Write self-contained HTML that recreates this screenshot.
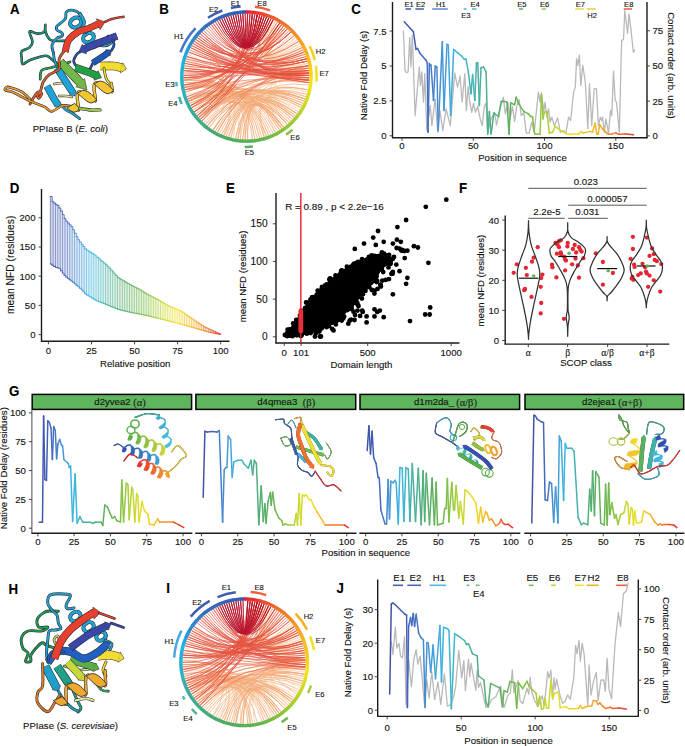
<!DOCTYPE html>
<html><head><meta charset="utf-8"><style>
html,body{margin:0;padding:0;background:#fff;}
body{width:685px;height:746px;overflow:hidden;}
svg{display:block;}
</style></head><body>
<svg width="685" height="746" viewBox="0 0 685 746">
<style>text{stroke:#111;stroke-width:0.12px;paint-order:stroke;}</style>
<rect width="685" height="746" fill="#fff"/>
<text transform="translate(10.00 13.70) scale(0.87 1)" font-size="15.3" font-weight="bold" fill="#000" font-family='"Liberation Sans", sans-serif'>A</text>
<text transform="translate(159.20 13.70) scale(0.87 1)" font-size="15.3" font-weight="bold" fill="#000" font-family='"Liberation Sans", sans-serif'>B</text>
<text transform="translate(351.20 13.70) scale(0.87 1)" font-size="15.3" font-weight="bold" fill="#000" font-family='"Liberation Sans", sans-serif'>C</text>
<text transform="translate(9.70 192.90) scale(0.87 1)" font-size="15.3" font-weight="bold" fill="#000" font-family='"Liberation Sans", sans-serif'>D</text>
<text transform="translate(225.90 192.90) scale(0.87 1)" font-size="15.3" font-weight="bold" fill="#000" font-family='"Liberation Sans", sans-serif'>E</text>
<text transform="translate(458.90 192.90) scale(0.87 1)" font-size="15.3" font-weight="bold" fill="#000" font-family='"Liberation Sans", sans-serif'>F</text>
<text transform="translate(9.00 395.50) scale(0.87 1)" font-size="15.3" font-weight="bold" fill="#000" font-family='"Liberation Sans", sans-serif'>G</text>
<text transform="translate(8.60 593.80) scale(0.87 1)" font-size="15.3" font-weight="bold" fill="#000" font-family='"Liberation Sans", sans-serif'>H</text>
<text transform="translate(166.20 592.70) scale(0.87 1)" font-size="15.3" font-weight="bold" fill="#000" font-family='"Liberation Sans", sans-serif'>I</text>
<text transform="translate(336.50 592.70) scale(0.87 1)" font-size="15.3" font-weight="bold" fill="#000" font-family='"Liberation Sans", sans-serif'>J</text>
<polyline points="403.4,30.9 405.0,70.3 406.7,72.8 408.1,72.0 409.7,37.6 410.9,67.0 412.3,35.1 415.1,115.6 419.3,67.0 420.5,85.4 421.8,72.0 423.5,102.1 424.8,73.7 426.8,130.6 430.2,105.5 431.9,125.6 435.2,98.8 437.7,132.3 439.9,110.5 442.8,130.6 446.1,108.8 450.3,125.6 454.7,72.9 457.5,87.1 460.1,76.2 462.1,102.2 464.8,73.7 466.4,110.6 468.1,86.3 469.8,102.2 471.8,112.3 473.5,103.1 475.5,112.3 477.7,106.4 480.2,118.9 482.2,125.7 484.4,106.4 486.1,103.1 487.7,132.4 491.1,118.9 494.4,112.3 496.6,124.9 500.0,108.1 503.3,97.2 505.3,114.0 507.9,102.2 510.0,119.8 512.4,106.4 514.6,121.5 516.7,106.4 519.1,99.7 521.3,115.6 523.8,112.3 526.3,133.1 529.2,133.1 531.7,122.2 534.2,132.3 538.4,92.1 540.1,102.1 541.4,92.9 543.8,111.3 545.1,102.1 546.8,117.2 548.5,108.8 550.1,122.2 551.8,117.2 554.3,125.6 557.7,118.0 560.2,132.3 562.7,130.6 566.0,132.3 568.6,117.2 570.6,120.5 573.6,92.1 575.3,87.0 576.6,58.6 577.8,65.3 579.4,55.2 580.8,85.4 582.8,65.3 585.3,82.0 587.8,128.9 589.5,83.7 591.7,125.6 594.2,88.7 596.4,88.7 598.4,125.6 600.4,117.2 601.8,120.5 602.6,117.2 604.3,132.3 605.9,118.9 608.5,133.1 610.5,110.5 611.8,115.5 613.5,71.1 615.2,100.4 616.5,102.1 619.3,132.3 621.1,60.0 621.7,40.3 623.5,39.4 624.8,10.5 627.6,33.3 629.0,14.0 630.9,28.9 633.4,52.5 634.6,49.9" fill="none" stroke="#b9b9b9" stroke-width="1.3" stroke-linejoin="round" stroke-linecap="round" />
<line x1="404.2" y1="21.7" x2="413.4" y2="31.8" stroke="#4057ab" stroke-width="1.5" stroke-linecap="round"/>
<line x1="413.4" y1="31.8" x2="416.0" y2="49.4" stroke="#425eb2" stroke-width="1.5" stroke-linecap="round"/>
<line x1="416.0" y1="49.4" x2="417.6" y2="48.5" stroke="#4360b4" stroke-width="1.5" stroke-linecap="round"/>
<line x1="417.6" y1="48.5" x2="420.1" y2="53.5" stroke="#4462b6" stroke-width="1.5" stroke-linecap="round"/>
<line x1="420.1" y1="53.5" x2="426.0" y2="60.2" stroke="#4567bb" stroke-width="1.5" stroke-linecap="round"/>
<line x1="426.0" y1="60.2" x2="427.3" y2="62.8" stroke="#466dc0" stroke-width="1.5" stroke-linecap="round"/>
<line x1="427.3" y1="62.8" x2="428.0" y2="132.3" stroke="#466fc2" stroke-width="1.5" stroke-linecap="round"/>
<line x1="428.0" y1="132.3" x2="429.4" y2="63.6" stroke="#4672c3" stroke-width="1.5" stroke-linecap="round"/>
<line x1="429.4" y1="63.6" x2="431.0" y2="65.3" stroke="#4676c5" stroke-width="1.5" stroke-linecap="round"/>
<line x1="431.0" y1="65.3" x2="433.5" y2="100.5" stroke="#467cc9" stroke-width="1.5" stroke-linecap="round"/>
<line x1="433.5" y1="100.5" x2="435.2" y2="66.1" stroke="#4682cc" stroke-width="1.5" stroke-linecap="round"/>
<line x1="435.2" y1="66.1" x2="436.9" y2="67.0" stroke="#4686ce" stroke-width="1.5" stroke-linecap="round"/>
<line x1="436.9" y1="67.0" x2="438.2" y2="130.6" stroke="#468bd1" stroke-width="1.5" stroke-linecap="round"/>
<line x1="438.2" y1="130.6" x2="442.3" y2="41.8" stroke="#4692d5" stroke-width="1.5" stroke-linecap="round"/>
<line x1="442.3" y1="41.8" x2="444.0" y2="110.5" stroke="#4599d8" stroke-width="1.5" stroke-linecap="round"/>
<line x1="444.0" y1="110.5" x2="447.0" y2="44.3" stroke="#449ed9" stroke-width="1.5" stroke-linecap="round"/>
<line x1="447.0" y1="44.3" x2="448.3" y2="45.2" stroke="#42a3db" stroke-width="1.5" stroke-linecap="round"/>
<line x1="448.3" y1="45.2" x2="450.6" y2="115.6" stroke="#41a7dc" stroke-width="1.5" stroke-linecap="round"/>
<line x1="450.6" y1="115.6" x2="453.7" y2="49.4" stroke="#40acdd" stroke-width="1.5" stroke-linecap="round"/>
<line x1="453.7" y1="49.4" x2="457.5" y2="52.7" stroke="#3db4e0" stroke-width="1.5" stroke-linecap="round"/>
<line x1="457.5" y1="52.7" x2="461.7" y2="56.1" stroke="#3db8dc" stroke-width="1.5" stroke-linecap="round"/>
<line x1="461.7" y1="56.1" x2="464.3" y2="59.4" stroke="#3fb7d2" stroke-width="1.5" stroke-linecap="round"/>
<line x1="464.3" y1="59.4" x2="465.9" y2="58.9" stroke="#40b6cb" stroke-width="1.5" stroke-linecap="round"/>
<line x1="465.9" y1="58.9" x2="468.4" y2="72.0" stroke="#42b5c5" stroke-width="1.5" stroke-linecap="round"/>
<line x1="468.4" y1="72.0" x2="471.0" y2="93.8" stroke="#43b4bd" stroke-width="1.5" stroke-linecap="round"/>
<line x1="471.0" y1="93.8" x2="472.6" y2="74.5" stroke="#44b3b7" stroke-width="1.5" stroke-linecap="round"/>
<line x1="472.6" y1="74.5" x2="474.8" y2="100.5" stroke="#46b2b1" stroke-width="1.5" stroke-linecap="round"/>
<line x1="474.8" y1="100.5" x2="476.5" y2="62.8" stroke="#47b2ac" stroke-width="1.5" stroke-linecap="round"/>
<line x1="476.5" y1="62.8" x2="477.7" y2="62.8" stroke="#48b2a8" stroke-width="1.5" stroke-linecap="round"/>
<line x1="477.7" y1="62.8" x2="479.4" y2="105.6" stroke="#49b1a4" stroke-width="1.5" stroke-linecap="round"/>
<line x1="479.4" y1="105.6" x2="481.0" y2="67.8" stroke="#4ab19f" stroke-width="1.5" stroke-linecap="round"/>
<line x1="481.0" y1="67.8" x2="483.5" y2="67.0" stroke="#4bb199" stroke-width="1.5" stroke-linecap="round"/>
<line x1="483.5" y1="67.0" x2="486.1" y2="72.0" stroke="#4cb092" stroke-width="1.5" stroke-linecap="round"/>
<line x1="486.1" y1="72.0" x2="487.7" y2="134.1" stroke="#4eb08d" stroke-width="1.5" stroke-linecap="round"/>
<line x1="487.7" y1="134.1" x2="489.4" y2="111.4" stroke="#4faf88" stroke-width="1.5" stroke-linecap="round"/>
<line x1="489.4" y1="111.4" x2="491.1" y2="134.1" stroke="#50af83" stroke-width="1.5" stroke-linecap="round"/>
<line x1="491.1" y1="134.1" x2="493.9" y2="113.1" stroke="#51af7f" stroke-width="1.5" stroke-linecap="round"/>
<line x1="493.9" y1="113.1" x2="498.6" y2="116.5" stroke="#54af78" stroke-width="1.5" stroke-linecap="round"/>
<line x1="498.6" y1="116.5" x2="501.2" y2="101.4" stroke="#57af71" stroke-width="1.5" stroke-linecap="round"/>
<line x1="501.2" y1="101.4" x2="504.5" y2="101.4" stroke="#5aaf6b" stroke-width="1.5" stroke-linecap="round"/>
<line x1="504.5" y1="101.4" x2="507.0" y2="102.2" stroke="#5caf66" stroke-width="1.5" stroke-linecap="round"/>
<line x1="507.0" y1="102.2" x2="509.0" y2="134.1" stroke="#5eaf62" stroke-width="1.5" stroke-linecap="round"/>
<line x1="509.0" y1="134.1" x2="510.7" y2="103.0" stroke="#5faf5f" stroke-width="1.5" stroke-linecap="round"/>
<line x1="510.7" y1="103.0" x2="514.6" y2="104.7" stroke="#62b15c" stroke-width="1.5" stroke-linecap="round"/>
<line x1="514.6" y1="104.7" x2="516.2" y2="97.2" stroke="#65b359" stroke-width="1.5" stroke-linecap="round"/>
<line x1="516.2" y1="97.2" x2="518.8" y2="103.9" stroke="#68b456" stroke-width="1.5" stroke-linecap="round"/>
<line x1="518.8" y1="103.9" x2="523.8" y2="111.4" stroke="#6cb752" stroke-width="1.5" stroke-linecap="round"/>
<line x1="523.8" y1="111.4" x2="528.4" y2="113.8" stroke="#71ba4d" stroke-width="1.5" stroke-linecap="round"/>
<line x1="528.4" y1="113.8" x2="530.4" y2="116.4" stroke="#74bc4a" stroke-width="1.5" stroke-linecap="round"/>
<line x1="530.4" y1="116.4" x2="532.5" y2="116.4" stroke="#77bd47" stroke-width="1.5" stroke-linecap="round"/>
<line x1="532.5" y1="116.4" x2="534.7" y2="134.0" stroke="#7bbf45" stroke-width="1.5" stroke-linecap="round"/>
<line x1="534.7" y1="134.0" x2="540.1" y2="134.3" stroke="#88c342" stroke-width="1.5" stroke-linecap="round"/>
<line x1="540.1" y1="134.3" x2="541.4" y2="94.6" stroke="#93c73f" stroke-width="1.5" stroke-linecap="round"/>
<line x1="541.4" y1="94.6" x2="543.1" y2="118.9" stroke="#98c83e" stroke-width="1.5" stroke-linecap="round"/>
<line x1="543.1" y1="118.9" x2="544.3" y2="112.2" stroke="#9dca3d" stroke-width="1.5" stroke-linecap="round"/>
<line x1="544.3" y1="112.2" x2="547.1" y2="111.8" stroke="#a4cc3b" stroke-width="1.5" stroke-linecap="round"/>
<line x1="547.1" y1="111.8" x2="549.3" y2="133.1" stroke="#adcf39" stroke-width="1.5" stroke-linecap="round"/>
<line x1="549.3" y1="133.1" x2="552.6" y2="132.3" stroke="#b6d136" stroke-width="1.5" stroke-linecap="round"/>
<line x1="552.6" y1="132.3" x2="555.2" y2="126.4" stroke="#c0d534" stroke-width="1.5" stroke-linecap="round"/>
<line x1="555.2" y1="126.4" x2="558.5" y2="128.9" stroke="#cad732" stroke-width="1.5" stroke-linecap="round"/>
<line x1="558.5" y1="128.9" x2="561.9" y2="131.4" stroke="#d1d930" stroke-width="1.5" stroke-linecap="round"/>
<line x1="561.9" y1="131.4" x2="566.9" y2="134.0" stroke="#dadb2e" stroke-width="1.5" stroke-linecap="round"/>
<line x1="566.9" y1="134.0" x2="578.6" y2="134.3" stroke="#ece029" stroke-width="1.5" stroke-linecap="round"/>
<line x1="578.6" y1="134.3" x2="581.1" y2="131.4" stroke="#f1d728" stroke-width="1.5" stroke-linecap="round"/>
<line x1="581.1" y1="131.4" x2="582.8" y2="133.1" stroke="#f2d328" stroke-width="1.5" stroke-linecap="round"/>
<line x1="582.8" y1="133.1" x2="590.0" y2="131.4" stroke="#f2cb28" stroke-width="1.5" stroke-linecap="round"/>
<line x1="590.0" y1="131.4" x2="592.5" y2="132.3" stroke="#f4c128" stroke-width="1.5" stroke-linecap="round"/>
<line x1="592.5" y1="132.3" x2="595.1" y2="123.1" stroke="#f4bc28" stroke-width="1.5" stroke-linecap="round"/>
<line x1="595.1" y1="123.1" x2="596.7" y2="133.9" stroke="#f5b828" stroke-width="1.5" stroke-linecap="round"/>
<line x1="596.7" y1="133.9" x2="598.1" y2="134.3" stroke="#f5b528" stroke-width="1.5" stroke-linecap="round"/>
<line x1="598.1" y1="134.3" x2="599.7" y2="124.7" stroke="#f5b228" stroke-width="1.5" stroke-linecap="round"/>
<line x1="599.7" y1="124.7" x2="602.6" y2="128.9" stroke="#f4aa2a" stroke-width="1.5" stroke-linecap="round"/>
<line x1="602.6" y1="128.9" x2="606.8" y2="133.1" stroke="#f39f2b" stroke-width="1.5" stroke-linecap="round"/>
<line x1="606.8" y1="133.1" x2="608.5" y2="134.3" stroke="#f2962d" stroke-width="1.5" stroke-linecap="round"/>
<line x1="608.5" y1="134.3" x2="612.6" y2="133.9" stroke="#f28c2f" stroke-width="1.5" stroke-linecap="round"/>
<line x1="612.6" y1="133.9" x2="616.0" y2="132.8" stroke="#f18031" stroke-width="1.5" stroke-linecap="round"/>
<line x1="616.0" y1="132.8" x2="618.5" y2="134.3" stroke="#f07732" stroke-width="1.5" stroke-linecap="round"/>
<line x1="618.5" y1="134.3" x2="625.2" y2="133.9" stroke="#ec6532" stroke-width="1.5" stroke-linecap="round"/>
<line x1="625.2" y1="133.9" x2="633.6" y2="134.8" stroke="#e64932" stroke-width="1.5" stroke-linecap="round"/>
<line x1="392.50" y1="2.00" x2="392.50" y2="138.00" stroke="#1a1a1a" stroke-width="1.4" />
<line x1="392.00" y1="137.80" x2="647.30" y2="137.80" stroke="#1a1a1a" stroke-width="1.4" />
<line x1="647.00" y1="2.00" x2="647.00" y2="138.30" stroke="#1a1a1a" stroke-width="1.4" />
<line x1="389.50" y1="135.80" x2="392.50" y2="135.80" stroke="#333" stroke-width="0.9" />
<text x="386.50" y="139.25" font-size="9.6" text-anchor="end" font-weight="normal" font-style="normal" fill="#111" font-family='"Liberation Sans", sans-serif' >0</text>
<line x1="389.50" y1="100.90" x2="392.50" y2="100.90" stroke="#333" stroke-width="0.9" />
<text x="386.50" y="104.35" font-size="9.6" text-anchor="end" font-weight="normal" font-style="normal" fill="#111" font-family='"Liberation Sans", sans-serif' >2.5</text>
<line x1="389.50" y1="66.00" x2="392.50" y2="66.00" stroke="#333" stroke-width="0.9" />
<text x="386.50" y="69.45" font-size="9.6" text-anchor="end" font-weight="normal" font-style="normal" fill="#111" font-family='"Liberation Sans", sans-serif' >5</text>
<line x1="389.50" y1="31.10" x2="392.50" y2="31.10" stroke="#333" stroke-width="0.9" />
<text x="386.50" y="34.55" font-size="9.6" text-anchor="end" font-weight="normal" font-style="normal" fill="#111" font-family='"Liberation Sans", sans-serif' >7.5</text>
<line x1="647.00" y1="135.90" x2="650.00" y2="135.90" stroke="#333" stroke-width="0.9" />
<text x="652.50" y="139.35" font-size="9.6" text-anchor="start" font-weight="normal" font-style="normal" fill="#111" font-family='"Liberation Sans", sans-serif' >0</text>
<line x1="647.00" y1="101.10" x2="650.00" y2="101.10" stroke="#333" stroke-width="0.9" />
<text x="652.50" y="104.55" font-size="9.6" text-anchor="start" font-weight="normal" font-style="normal" fill="#111" font-family='"Liberation Sans", sans-serif' >25</text>
<line x1="647.00" y1="66.00" x2="650.00" y2="66.00" stroke="#333" stroke-width="0.9" />
<text x="652.50" y="69.45" font-size="9.6" text-anchor="start" font-weight="normal" font-style="normal" fill="#111" font-family='"Liberation Sans", sans-serif' >50</text>
<line x1="647.00" y1="30.80" x2="650.00" y2="30.80" stroke="#333" stroke-width="0.9" />
<text x="652.50" y="34.25" font-size="9.6" text-anchor="start" font-weight="normal" font-style="normal" fill="#111" font-family='"Liberation Sans", sans-serif' >75</text>
<line x1="402.00" y1="137.80" x2="402.00" y2="140.80" stroke="#333" stroke-width="0.9" />
<text x="402.00" y="149.30" font-size="9.6" text-anchor="middle" font-weight="normal" font-style="normal" fill="#111" font-family='"Liberation Sans", sans-serif' >0</text>
<line x1="473.30" y1="137.80" x2="473.30" y2="140.80" stroke="#333" stroke-width="0.9" />
<text x="473.30" y="149.30" font-size="9.6" text-anchor="middle" font-weight="normal" font-style="normal" fill="#111" font-family='"Liberation Sans", sans-serif' >50</text>
<line x1="544.50" y1="137.80" x2="544.50" y2="140.80" stroke="#333" stroke-width="0.9" />
<text x="544.50" y="149.30" font-size="9.6" text-anchor="middle" font-weight="normal" font-style="normal" fill="#111" font-family='"Liberation Sans", sans-serif' >100</text>
<line x1="615.80" y1="137.80" x2="615.80" y2="140.80" stroke="#333" stroke-width="0.9" />
<text x="615.80" y="149.30" font-size="9.6" text-anchor="middle" font-weight="normal" font-style="normal" fill="#111" font-family='"Liberation Sans", sans-serif' >150</text>
<text x="522.50" y="161.40" font-size="9.6" text-anchor="middle" font-weight="normal" font-style="normal" fill="#111" font-family='"Liberation Sans", sans-serif' >Position in sequence</text>
<text x="367.00" y="75.50" font-size="9.6" text-anchor="middle" font-weight="normal" font-style="normal" fill="#111" font-family='"Liberation Sans", sans-serif' transform="rotate(-90 367 75.5)" >Native Fold Delay (s)</text>
<text x="668.00" y="65.50" font-size="9.6" text-anchor="middle" font-weight="normal" font-style="normal" fill="#111" font-family='"Liberation Sans", sans-serif' transform="rotate(90 668 65.5)" >Contact order (arb. units)</text>
<line x1="405.50" y1="9.00" x2="411.10" y2="9.00" stroke="#4a5fb0" stroke-width="1.6" />
<text x="409.21" y="7.00" font-size="7.6" text-anchor="middle" font-weight="normal" font-style="normal" fill="#111" font-family='"Liberation Sans", sans-serif' >E1</text>
<line x1="415.40" y1="9.00" x2="423.90" y2="9.00" stroke="#4d66b5" stroke-width="1.6" />
<text x="420.56" y="7.00" font-size="7.6" text-anchor="middle" font-weight="normal" font-style="normal" fill="#111" font-family='"Liberation Sans", sans-serif' >E2</text>
<line x1="432.20" y1="9.00" x2="447.80" y2="9.00" stroke="#6a8fd0" stroke-width="1.6" />
<text x="440.91" y="7.00" font-size="7.6" text-anchor="middle" font-weight="normal" font-style="normal" fill="#111" font-family='"Liberation Sans", sans-serif' >H1</text>
<line x1="463.60" y1="9.00" x2="466.50" y2="9.00" stroke="#4cc3dc" stroke-width="1.6" />
<text x="465.96" y="17.60" font-size="7.6" text-anchor="middle" font-weight="normal" font-style="normal" fill="#111" font-family='"Liberation Sans", sans-serif' >E3</text>
<line x1="471.90" y1="9.00" x2="476.50" y2="9.00" stroke="#5fc0b0" stroke-width="1.6" />
<text x="475.11" y="7.00" font-size="7.6" text-anchor="middle" font-weight="normal" font-style="normal" fill="#111" font-family='"Liberation Sans", sans-serif' >E4</text>
<line x1="519.00" y1="9.00" x2="523.10" y2="9.00" stroke="#6bb85c" stroke-width="1.6" />
<text x="521.96" y="7.00" font-size="7.6" text-anchor="middle" font-weight="normal" font-style="normal" fill="#111" font-family='"Liberation Sans", sans-serif' >E5</text>
<line x1="541.60" y1="9.00" x2="546.00" y2="9.00" stroke="#9ccc5c" stroke-width="1.6" />
<text x="544.71" y="7.00" font-size="7.6" text-anchor="middle" font-weight="normal" font-style="normal" fill="#111" font-family='"Liberation Sans", sans-serif' >E6</text>
<line x1="575.20" y1="9.00" x2="583.90" y2="9.00" stroke="#e8e04a" stroke-width="1.6" />
<text x="580.46" y="7.00" font-size="7.6" text-anchor="middle" font-weight="normal" font-style="normal" fill="#111" font-family='"Liberation Sans", sans-serif' >E7</text>
<line x1="586.90" y1="9.00" x2="595.60" y2="9.00" stroke="#f2cc3a" stroke-width="1.6" />
<text x="592.16" y="17.60" font-size="7.6" text-anchor="middle" font-weight="normal" font-style="normal" fill="#111" font-family='"Liberation Sans", sans-serif' >H2</text>
<line x1="623.70" y1="9.00" x2="632.00" y2="9.00" stroke="#e86a4a" stroke-width="1.6" />
<text x="628.76" y="7.00" font-size="7.6" text-anchor="middle" font-weight="normal" font-style="normal" fill="#111" font-family='"Liberation Sans", sans-serif' >E8</text>
<polyline points="391.3,641.7 392.9,654.5 395.3,627.2 396.9,648.1 399.0,643.3 400.6,656.2 402.5,657.8 404.5,636.8 406.1,704.4 408.6,659.4 411.4,686.7 413.8,659.4 416.2,649.7 417.8,664.2 420.2,656.2 422.2,678.7 424.3,702.8 426.7,680.3 429.1,698.0 431.8,672.2 434.7,699.6 437.9,681.9 440.8,704.4 444.4,673.9 447.4,706.2 450.4,704.8 453.7,696.8 455.7,686.1 458.7,650.5 461.8,678.0 463.8,660.6 465.4,690.7 468.5,659.2 469.8,676.7 471.1,663.3 475.8,690.1 477.2,670.0 478.5,687.4 480.5,682.7 483.9,698.1 485.9,707.5 489.2,704.8 491.7,699.5 495.9,696.8 500.6,686.1 504.0,707.5 508.0,695.4 510.4,692.8 512.3,670.0 514.0,692.8 518.1,680.7 520.1,700.8 522.8,703.5 527.0,688.2 528.8,694.2 530.2,677.2 531.8,692.2 534.5,700.3 538.1,706.3 542.3,695.8 544.1,705.3 546.1,688.2 547.6,671.6 549.1,678.2 550.9,670.1 552.6,699.3 553.9,677.7 555.1,689.2 556.6,679.2 560.2,696.3 562.7,703.3 565.2,701.3 567.7,694.8 570.2,699.3 573.8,678.1 575.6,645.3 577.1,653.8 579.0,640.6 580.3,661.3 582.2,643.4 584.1,653.8 587.8,706.3 589.1,665.0 591.0,695.0 593.4,681.9 596.3,672.5 598.1,700.6 600.9,680.0 603.8,680.0 605.3,691.3 607.1,658.4 609.0,689.4 611.6,698.8 615.0,644.4 618.4,612.5 620.6,626.6 623.4,593.8 626.3,591.0 628.1,583.4" fill="none" stroke="#b9b9b9" stroke-width="1.3" stroke-linejoin="round" stroke-linecap="round" />
<line x1="389.7" y1="694.0" x2="391.3" y2="603.9" stroke="#3f53a6" stroke-width="1.5" stroke-linecap="round"/>
<line x1="391.3" y1="603.9" x2="392.9" y2="603.0" stroke="#3f54a8" stroke-width="1.5" stroke-linecap="round"/>
<line x1="392.9" y1="603.0" x2="395.3" y2="604.7" stroke="#4056aa" stroke-width="1.5" stroke-linecap="round"/>
<line x1="395.3" y1="604.7" x2="404.9" y2="614.3" stroke="#425db1" stroke-width="1.5" stroke-linecap="round"/>
<line x1="404.9" y1="614.3" x2="406.6" y2="615.1" stroke="#4463b7" stroke-width="1.5" stroke-linecap="round"/>
<line x1="406.6" y1="615.1" x2="407.4" y2="707.6" stroke="#4464b8" stroke-width="1.5" stroke-linecap="round"/>
<line x1="407.4" y1="707.6" x2="408.6" y2="626.4" stroke="#4565ba" stroke-width="1.5" stroke-linecap="round"/>
<line x1="408.6" y1="626.4" x2="410.6" y2="617.5" stroke="#4567bb" stroke-width="1.5" stroke-linecap="round"/>
<line x1="410.6" y1="617.5" x2="411.7" y2="625.6" stroke="#4668bd" stroke-width="1.5" stroke-linecap="round"/>
<line x1="411.7" y1="625.6" x2="413.3" y2="613.5" stroke="#466abf" stroke-width="1.5" stroke-linecap="round"/>
<line x1="413.3" y1="613.5" x2="414.6" y2="626.4" stroke="#466ec1" stroke-width="1.5" stroke-linecap="round"/>
<line x1="414.6" y1="626.4" x2="416.2" y2="614.3" stroke="#4672c3" stroke-width="1.5" stroke-linecap="round"/>
<line x1="416.2" y1="614.3" x2="418.6" y2="632.8" stroke="#4678c6" stroke-width="1.5" stroke-linecap="round"/>
<line x1="418.6" y1="632.8" x2="421.0" y2="637.6" stroke="#467eca" stroke-width="1.5" stroke-linecap="round"/>
<line x1="421.0" y1="637.6" x2="423.4" y2="640.1" stroke="#4684cd" stroke-width="1.5" stroke-linecap="round"/>
<line x1="423.4" y1="640.1" x2="425.1" y2="707.6" stroke="#468ad0" stroke-width="1.5" stroke-linecap="round"/>
<line x1="425.1" y1="707.6" x2="427.0" y2="642.5" stroke="#468fd3" stroke-width="1.5" stroke-linecap="round"/>
<line x1="427.0" y1="642.5" x2="428.3" y2="643.3" stroke="#4693d5" stroke-width="1.5" stroke-linecap="round"/>
<line x1="428.3" y1="643.3" x2="430.7" y2="672.2" stroke="#4698d7" stroke-width="1.5" stroke-linecap="round"/>
<line x1="430.7" y1="672.2" x2="433.1" y2="644.9" stroke="#449dd9" stroke-width="1.5" stroke-linecap="round"/>
<line x1="433.1" y1="644.9" x2="435.5" y2="678.7" stroke="#43a2da" stroke-width="1.5" stroke-linecap="round"/>
<line x1="435.5" y1="678.7" x2="439.9" y2="625.6" stroke="#41a9dc" stroke-width="1.5" stroke-linecap="round"/>
<line x1="439.9" y1="625.6" x2="441.5" y2="681.9" stroke="#3fafde" stroke-width="1.5" stroke-linecap="round"/>
<line x1="441.5" y1="681.9" x2="443.6" y2="627.2" stroke="#3eb3df" stroke-width="1.5" stroke-linecap="round"/>
<line x1="443.6" y1="627.2" x2="447.6" y2="628.8" stroke="#3cb9e1" stroke-width="1.5" stroke-linecap="round"/>
<line x1="447.6" y1="628.8" x2="449.0" y2="630.4" stroke="#3eb8d9" stroke-width="1.5" stroke-linecap="round"/>
<line x1="449.0" y1="630.4" x2="451.4" y2="708.8" stroke="#3fb7d3" stroke-width="1.5" stroke-linecap="round"/>
<line x1="451.4" y1="708.8" x2="454.7" y2="633.8" stroke="#40b6cb" stroke-width="1.5" stroke-linecap="round"/>
<line x1="454.7" y1="633.8" x2="457.1" y2="635.1" stroke="#42b5c2" stroke-width="1.5" stroke-linecap="round"/>
<line x1="457.1" y1="635.1" x2="464.4" y2="640.5" stroke="#45b3b4" stroke-width="1.5" stroke-linecap="round"/>
<line x1="464.4" y1="640.5" x2="466.5" y2="644.5" stroke="#48b1a7" stroke-width="1.5" stroke-linecap="round"/>
<line x1="466.5" y1="644.5" x2="468.5" y2="643.8" stroke="#49b1a1" stroke-width="1.5" stroke-linecap="round"/>
<line x1="468.5" y1="643.8" x2="472.5" y2="653.9" stroke="#4bb199" stroke-width="1.5" stroke-linecap="round"/>
<line x1="472.5" y1="653.9" x2="477.2" y2="655.9" stroke="#4db08d" stroke-width="1.5" stroke-linecap="round"/>
<line x1="477.2" y1="655.9" x2="478.5" y2="676.0" stroke="#4faf85" stroke-width="1.5" stroke-linecap="round"/>
<line x1="478.5" y1="676.0" x2="483.9" y2="680.0" stroke="#52af7e" stroke-width="1.5" stroke-linecap="round"/>
<line x1="483.9" y1="680.0" x2="485.9" y2="702.1" stroke="#55af77" stroke-width="1.5" stroke-linecap="round"/>
<line x1="485.9" y1="702.1" x2="488.2" y2="706.8" stroke="#56af74" stroke-width="1.5" stroke-linecap="round"/>
<line x1="488.2" y1="706.8" x2="490.6" y2="683.4" stroke="#58af6f" stroke-width="1.5" stroke-linecap="round"/>
<line x1="490.6" y1="683.4" x2="500.0" y2="688.1" stroke="#5daf64" stroke-width="1.5" stroke-linecap="round"/>
<line x1="500.0" y1="688.1" x2="502.4" y2="706.8" stroke="#62b15c" stroke-width="1.5" stroke-linecap="round"/>
<line x1="502.4" y1="706.8" x2="504.0" y2="690.7" stroke="#64b25a" stroke-width="1.5" stroke-linecap="round"/>
<line x1="504.0" y1="690.7" x2="507.3" y2="692.1" stroke="#67b457" stroke-width="1.5" stroke-linecap="round"/>
<line x1="507.3" y1="692.1" x2="510.0" y2="681.4" stroke="#6ab554" stroke-width="1.5" stroke-linecap="round"/>
<line x1="510.0" y1="681.4" x2="514.7" y2="682.7" stroke="#6eb850" stroke-width="1.5" stroke-linecap="round"/>
<line x1="514.7" y1="682.7" x2="516.7" y2="708.2" stroke="#71ba4d" stroke-width="1.5" stroke-linecap="round"/>
<line x1="516.7" y1="708.2" x2="518.5" y2="682.7" stroke="#73bb4b" stroke-width="1.5" stroke-linecap="round"/>
<line x1="518.5" y1="682.7" x2="522.8" y2="688.7" stroke="#76bd48" stroke-width="1.5" stroke-linecap="round"/>
<line x1="522.8" y1="688.7" x2="527.0" y2="681.2" stroke="#81c144" stroke-width="1.5" stroke-linecap="round"/>
<line x1="527.0" y1="681.2" x2="529.0" y2="686.2" stroke="#8bc441" stroke-width="1.5" stroke-linecap="round"/>
<line x1="529.0" y1="686.2" x2="536.1" y2="693.2" stroke="#9ac93d" stroke-width="1.5" stroke-linecap="round"/>
<line x1="536.1" y1="693.2" x2="537.6" y2="706.3" stroke="#a9cd3a" stroke-width="1.5" stroke-linecap="round"/>
<line x1="537.6" y1="706.3" x2="539.6" y2="696.3" stroke="#afcf38" stroke-width="1.5" stroke-linecap="round"/>
<line x1="539.6" y1="696.3" x2="541.1" y2="705.3" stroke="#b4d137" stroke-width="1.5" stroke-linecap="round"/>
<line x1="541.1" y1="705.3" x2="541.6" y2="709.3" stroke="#b8d236" stroke-width="1.5" stroke-linecap="round"/>
<line x1="541.6" y1="709.3" x2="543.6" y2="708.3" stroke="#bcd335" stroke-width="1.5" stroke-linecap="round"/>
<line x1="543.6" y1="708.3" x2="545.1" y2="698.3" stroke="#c2d534" stroke-width="1.5" stroke-linecap="round"/>
<line x1="545.1" y1="698.3" x2="546.6" y2="708.3" stroke="#c7d732" stroke-width="1.5" stroke-linecap="round"/>
<line x1="546.6" y1="708.3" x2="548.6" y2="708.3" stroke="#cbd831" stroke-width="1.5" stroke-linecap="round"/>
<line x1="548.6" y1="708.3" x2="550.9" y2="679.7" stroke="#cfd930" stroke-width="1.5" stroke-linecap="round"/>
<line x1="550.9" y1="679.7" x2="552.6" y2="698.8" stroke="#d3da2f" stroke-width="1.5" stroke-linecap="round"/>
<line x1="552.6" y1="698.8" x2="554.1" y2="693.7" stroke="#d7db2e" stroke-width="1.5" stroke-linecap="round"/>
<line x1="554.1" y1="693.7" x2="557.7" y2="692.2" stroke="#dcdc2d" stroke-width="1.5" stroke-linecap="round"/>
<line x1="557.7" y1="692.2" x2="558.7" y2="693.7" stroke="#e1dd2c" stroke-width="1.5" stroke-linecap="round"/>
<line x1="558.7" y1="693.7" x2="560.2" y2="707.8" stroke="#e4de2b" stroke-width="1.5" stroke-linecap="round"/>
<line x1="560.2" y1="707.8" x2="566.2" y2="706.8" stroke="#ebe029" stroke-width="1.5" stroke-linecap="round"/>
<line x1="566.2" y1="706.8" x2="569.2" y2="708.8" stroke="#f0dd28" stroke-width="1.5" stroke-linecap="round"/>
<line x1="569.2" y1="708.8" x2="578.4" y2="708.5" stroke="#f2d128" stroke-width="1.5" stroke-linecap="round"/>
<line x1="578.4" y1="708.5" x2="580.3" y2="705.3" stroke="#f3c728" stroke-width="1.5" stroke-linecap="round"/>
<line x1="580.3" y1="705.3" x2="582.2" y2="708.5" stroke="#f3c328" stroke-width="1.5" stroke-linecap="round"/>
<line x1="582.2" y1="708.5" x2="585.0" y2="707.2" stroke="#f4bf28" stroke-width="1.5" stroke-linecap="round"/>
<line x1="585.0" y1="707.2" x2="587.8" y2="706.3" stroke="#f4ba28" stroke-width="1.5" stroke-linecap="round"/>
<line x1="587.8" y1="706.3" x2="591.6" y2="706.3" stroke="#f5b328" stroke-width="1.5" stroke-linecap="round"/>
<line x1="591.6" y1="706.3" x2="593.4" y2="700.6" stroke="#f4aa2a" stroke-width="1.5" stroke-linecap="round"/>
<line x1="593.4" y1="700.6" x2="596.3" y2="701.0" stroke="#f4a32b" stroke-width="1.5" stroke-linecap="round"/>
<line x1="596.3" y1="701.0" x2="598.1" y2="704.4" stroke="#f39c2c" stroke-width="1.5" stroke-linecap="round"/>
<line x1="598.1" y1="704.4" x2="600.0" y2="702.9" stroke="#f2962d" stroke-width="1.5" stroke-linecap="round"/>
<line x1="600.0" y1="702.9" x2="602.8" y2="706.3" stroke="#f28e2e" stroke-width="1.5" stroke-linecap="round"/>
<line x1="602.8" y1="706.3" x2="605.6" y2="708.5" stroke="#f18630" stroke-width="1.5" stroke-linecap="round"/>
<line x1="605.6" y1="708.5" x2="610.3" y2="707.2" stroke="#f07a32" stroke-width="1.5" stroke-linecap="round"/>
<line x1="610.3" y1="707.2" x2="612.2" y2="708.5" stroke="#ee6e32" stroke-width="1.5" stroke-linecap="round"/>
<line x1="612.2" y1="708.5" x2="618.8" y2="708.1" stroke="#eb5f32" stroke-width="1.5" stroke-linecap="round"/>
<line x1="618.8" y1="708.1" x2="626.3" y2="709.1" stroke="#e54532" stroke-width="1.5" stroke-linecap="round"/>
<line x1="377.70" y1="579.40" x2="377.70" y2="716.80" stroke="#1a1a1a" stroke-width="1.4" />
<line x1="377.20" y1="716.40" x2="638.80" y2="716.40" stroke="#1a1a1a" stroke-width="1.4" />
<line x1="638.30" y1="579.40" x2="638.30" y2="716.80" stroke="#1a1a1a" stroke-width="1.4" />
<line x1="374.70" y1="710.20" x2="377.70" y2="710.20" stroke="#333" stroke-width="0.9" />
<text x="373.10" y="713.65" font-size="9.6" text-anchor="end" font-weight="normal" font-style="normal" fill="#111" font-family='"Liberation Sans", sans-serif' >0</text>
<line x1="374.70" y1="676.70" x2="377.70" y2="676.70" stroke="#333" stroke-width="0.9" />
<text x="373.10" y="680.15" font-size="9.6" text-anchor="end" font-weight="normal" font-style="normal" fill="#111" font-family='"Liberation Sans", sans-serif' >10</text>
<line x1="374.70" y1="643.20" x2="377.70" y2="643.20" stroke="#333" stroke-width="0.9" />
<text x="373.10" y="646.65" font-size="9.6" text-anchor="end" font-weight="normal" font-style="normal" fill="#111" font-family='"Liberation Sans", sans-serif' >20</text>
<line x1="374.70" y1="609.70" x2="377.70" y2="609.70" stroke="#333" stroke-width="0.9" />
<text x="373.10" y="613.15" font-size="9.6" text-anchor="end" font-weight="normal" font-style="normal" fill="#111" font-family='"Liberation Sans", sans-serif' >30</text>
<line x1="638.30" y1="710.40" x2="641.30" y2="710.40" stroke="#333" stroke-width="0.9" />
<text x="643.80" y="713.85" font-size="9.6" text-anchor="start" font-weight="normal" font-style="normal" fill="#111" font-family='"Liberation Sans", sans-serif' >0</text>
<line x1="638.30" y1="680.20" x2="641.30" y2="680.20" stroke="#333" stroke-width="0.9" />
<text x="643.80" y="683.65" font-size="9.6" text-anchor="start" font-weight="normal" font-style="normal" fill="#111" font-family='"Liberation Sans", sans-serif' >25</text>
<line x1="638.30" y1="649.70" x2="641.30" y2="649.70" stroke="#333" stroke-width="0.9" />
<text x="643.80" y="653.15" font-size="9.6" text-anchor="start" font-weight="normal" font-style="normal" fill="#111" font-family='"Liberation Sans", sans-serif' >50</text>
<line x1="638.30" y1="619.40" x2="641.30" y2="619.40" stroke="#333" stroke-width="0.9" />
<text x="643.80" y="622.85" font-size="9.6" text-anchor="start" font-weight="normal" font-style="normal" fill="#111" font-family='"Liberation Sans", sans-serif' >75</text>
<line x1="638.30" y1="588.90" x2="641.30" y2="588.90" stroke="#333" stroke-width="0.9" />
<text x="643.80" y="592.35" font-size="9.6" text-anchor="start" font-weight="normal" font-style="normal" fill="#111" font-family='"Liberation Sans", sans-serif' >100</text>
<line x1="387.20" y1="716.40" x2="387.20" y2="719.40" stroke="#333" stroke-width="0.9" />
<text x="387.20" y="730.60" font-size="9.6" text-anchor="middle" font-weight="normal" font-style="normal" fill="#111" font-family='"Liberation Sans", sans-serif' >0</text>
<line x1="461.20" y1="716.40" x2="461.20" y2="719.40" stroke="#333" stroke-width="0.9" />
<text x="461.20" y="730.60" font-size="9.6" text-anchor="middle" font-weight="normal" font-style="normal" fill="#111" font-family='"Liberation Sans", sans-serif' >50</text>
<line x1="535.20" y1="716.40" x2="535.20" y2="719.40" stroke="#333" stroke-width="0.9" />
<text x="535.20" y="730.60" font-size="9.6" text-anchor="middle" font-weight="normal" font-style="normal" fill="#111" font-family='"Liberation Sans", sans-serif' >100</text>
<line x1="609.20" y1="716.40" x2="609.20" y2="719.40" stroke="#333" stroke-width="0.9" />
<text x="609.20" y="730.60" font-size="9.6" text-anchor="middle" font-weight="normal" font-style="normal" fill="#111" font-family='"Liberation Sans", sans-serif' >150</text>
<text x="508.60" y="744.30" font-size="9.6" text-anchor="middle" font-weight="normal" font-style="normal" fill="#111" font-family='"Liberation Sans", sans-serif' >Position in sequence</text>
<text x="351.00" y="652.50" font-size="9.6" text-anchor="middle" font-weight="normal" font-style="normal" fill="#111" font-family='"Liberation Sans", sans-serif' transform="rotate(-90 351 652.5)" >Native Fold Delay (s)</text>
<text x="662.50" y="650.30" font-size="9.6" text-anchor="middle" font-weight="normal" font-style="normal" fill="#111" font-family='"Liberation Sans", sans-serif' transform="rotate(90 662.5 650.3)" >Contact order (arb. units)</text>
<line x1="393.00" y1="585.30" x2="403.00" y2="585.30" stroke="#4a5fb0" stroke-width="1.6" />
<text x="399.15" y="581.20" font-size="9.6" text-anchor="middle" font-weight="normal" font-style="normal" fill="#111" font-family='"Liberation Sans", sans-serif' >E1</text>
<line x1="407.40" y1="585.30" x2="421.10" y2="585.30" stroke="#4d66b5" stroke-width="1.6" />
<text x="415.40" y="581.20" font-size="9.6" text-anchor="middle" font-weight="normal" font-style="normal" fill="#111" font-family='"Liberation Sans", sans-serif' >E2</text>
<line x1="429.60" y1="585.30" x2="446.10" y2="585.30" stroke="#55b8e0" stroke-width="1.6" />
<text x="439.00" y="581.20" font-size="9.6" text-anchor="middle" font-weight="normal" font-style="normal" fill="#111" font-family='"Liberation Sans", sans-serif' >H1</text>
<line x1="466.60" y1="585.30" x2="469.50" y2="585.30" stroke="#5cc090" stroke-width="1.6" />
<text x="469.20" y="581.20" font-size="9.6" text-anchor="middle" font-weight="normal" font-style="normal" fill="#111" font-family='"Liberation Sans", sans-serif' >E3</text>
<line x1="475.70" y1="585.30" x2="479.50" y2="585.30" stroke="#60c080" stroke-width="1.6" />
<text x="478.75" y="596.80" font-size="9.6" text-anchor="middle" font-weight="normal" font-style="normal" fill="#111" font-family='"Liberation Sans", sans-serif' >E4</text>
<line x1="528.70" y1="585.30" x2="533.60" y2="585.30" stroke="#80c050" stroke-width="1.6" />
<text x="532.30" y="581.20" font-size="9.6" text-anchor="middle" font-weight="normal" font-style="normal" fill="#111" font-family='"Liberation Sans", sans-serif' >E5</text>
<line x1="551.10" y1="585.30" x2="555.80" y2="585.30" stroke="#b8d040" stroke-width="1.6" />
<text x="554.60" y="581.20" font-size="9.6" text-anchor="middle" font-weight="normal" font-style="normal" fill="#111" font-family='"Liberation Sans", sans-serif' >E6</text>
<line x1="574.80" y1="585.30" x2="583.70" y2="585.30" stroke="#f0e030" stroke-width="1.6" />
<text x="580.40" y="581.20" font-size="9.6" text-anchor="middle" font-weight="normal" font-style="normal" fill="#111" font-family='"Liberation Sans", sans-serif' >E7</text>
<line x1="586.70" y1="585.30" x2="598.50" y2="585.30" stroke="#f0b030" stroke-width="1.6" />
<text x="593.75" y="581.20" font-size="9.6" text-anchor="middle" font-weight="normal" font-style="normal" fill="#111" font-family='"Liberation Sans", sans-serif' >H2</text>
<line x1="616.20" y1="585.30" x2="627.00" y2="585.30" stroke="#e86040" stroke-width="1.6" />
<text x="622.75" y="581.20" font-size="9.6" text-anchor="middle" font-weight="normal" font-style="normal" fill="#111" font-family='"Liberation Sans", sans-serif' >E8</text>
<line x1="50.40" y1="196.40" x2="50.40" y2="264.00" stroke="#6473b5" stroke-width="0.8" />
<line x1="52.12" y1="201.62" x2="52.12" y2="265.27" stroke="#6575b7" stroke-width="0.8" />
<line x1="53.84" y1="203.08" x2="53.84" y2="266.54" stroke="#6677b9" stroke-width="0.8" />
<line x1="55.56" y1="204.31" x2="55.56" y2="267.36" stroke="#6679bb" stroke-width="0.8" />
<line x1="57.28" y1="205.51" x2="57.28" y2="267.82" stroke="#677bbe" stroke-width="0.8" />
<line x1="59.00" y1="207.98" x2="59.00" y2="268.60" stroke="#677dc0" stroke-width="0.8" />
<line x1="60.72" y1="210.87" x2="60.72" y2="270.86" stroke="#687fc2" stroke-width="0.8" />
<line x1="62.44" y1="214.63" x2="62.44" y2="273.13" stroke="#6981c4" stroke-width="0.8" />
<line x1="64.16" y1="218.44" x2="64.16" y2="275.40" stroke="#6983c7" stroke-width="0.8" />
<line x1="65.88" y1="221.20" x2="65.88" y2="277.16" stroke="#6a85c9" stroke-width="0.8" />
<line x1="67.60" y1="222.94" x2="67.60" y2="278.44" stroke="#6b87cb" stroke-width="0.8" />
<line x1="69.32" y1="224.69" x2="69.32" y2="279.73" stroke="#6b8cce" stroke-width="0.8" />
<line x1="71.04" y1="226.44" x2="71.04" y2="281.01" stroke="#6b92d1" stroke-width="0.8" />
<line x1="72.76" y1="229.73" x2="72.76" y2="282.30" stroke="#6b97d3" stroke-width="0.8" />
<line x1="74.48" y1="233.17" x2="74.48" y2="283.74" stroke="#6b9cd7" stroke-width="0.8" />
<line x1="76.20" y1="236.61" x2="76.20" y2="285.25" stroke="#6ba1d9" stroke-width="0.8" />
<line x1="77.92" y1="239.70" x2="77.92" y2="286.77" stroke="#6ba7dc" stroke-width="0.8" />
<line x1="79.64" y1="241.98" x2="79.64" y2="288.28" stroke="#6babdf" stroke-width="0.8" />
<line x1="81.36" y1="244.27" x2="81.36" y2="289.79" stroke="#69afe0" stroke-width="0.8" />
<line x1="83.08" y1="246.55" x2="83.08" y2="291.75" stroke="#68b3e1" stroke-width="0.8" />
<line x1="84.80" y1="248.84" x2="84.80" y2="293.77" stroke="#67b7e3" stroke-width="0.8" />
<line x1="86.52" y1="250.05" x2="86.52" y2="294.93" stroke="#66bbe3" stroke-width="0.8" />
<line x1="88.24" y1="251.12" x2="88.24" y2="295.97" stroke="#65bfe4" stroke-width="0.8" />
<line x1="89.96" y1="252.19" x2="89.96" y2="297.02" stroke="#63c3e6" stroke-width="0.8" />
<line x1="91.68" y1="253.26" x2="91.68" y2="298.06" stroke="#63c7e5" stroke-width="0.8" />
<line x1="93.41" y1="254.37" x2="93.41" y2="299.11" stroke="#64c6df" stroke-width="0.8" />
<line x1="95.13" y1="255.81" x2="95.13" y2="300.15" stroke="#65c5da" stroke-width="0.8" />
<line x1="96.85" y1="257.25" x2="96.85" y2="300.86" stroke="#67c4d4" stroke-width="0.8" />
<line x1="98.57" y1="258.69" x2="98.57" y2="301.55" stroke="#67c3ce" stroke-width="0.8" />
<line x1="100.29" y1="260.12" x2="100.29" y2="302.24" stroke="#69c3c8" stroke-width="0.8" />
<line x1="102.01" y1="261.56" x2="102.01" y2="302.94" stroke="#6ac2c3" stroke-width="0.8" />
<line x1="103.73" y1="263.00" x2="103.73" y2="303.63" stroke="#6bc1bd" stroke-width="0.8" />
<line x1="105.45" y1="264.45" x2="105.45" y2="304.32" stroke="#6cc0b7" stroke-width="0.8" />
<line x1="107.17" y1="266.31" x2="107.17" y2="305.03" stroke="#6dc0b3" stroke-width="0.8" />
<line x1="108.89" y1="268.17" x2="108.89" y2="305.75" stroke="#6fc0ae" stroke-width="0.8" />
<line x1="110.61" y1="270.03" x2="110.61" y2="306.46" stroke="#6fbfa8" stroke-width="0.8" />
<line x1="112.33" y1="271.89" x2="112.33" y2="307.17" stroke="#71bfa3" stroke-width="0.8" />
<line x1="114.05" y1="273.75" x2="114.05" y2="307.89" stroke="#72bf9e" stroke-width="0.8" />
<line x1="115.77" y1="275.61" x2="115.77" y2="308.60" stroke="#73bf99" stroke-width="0.8" />
<line x1="117.49" y1="277.47" x2="117.49" y2="309.31" stroke="#75bf96" stroke-width="0.8" />
<line x1="119.21" y1="278.58" x2="119.21" y2="309.77" stroke="#77bf92" stroke-width="0.8" />
<line x1="120.93" y1="279.59" x2="120.93" y2="310.19" stroke="#77bf8f" stroke-width="0.8" />
<line x1="122.65" y1="280.60" x2="122.65" y2="310.61" stroke="#79bf8b" stroke-width="0.8" />
<line x1="124.37" y1="281.60" x2="124.37" y2="311.03" stroke="#7bbf87" stroke-width="0.8" />
<line x1="126.09" y1="282.61" x2="126.09" y2="311.45" stroke="#7cbf84" stroke-width="0.8" />
<line x1="127.81" y1="283.62" x2="127.81" y2="311.87" stroke="#7ebf80" stroke-width="0.8" />
<line x1="129.53" y1="284.62" x2="129.53" y2="312.29" stroke="#7fbf7e" stroke-width="0.8" />
<line x1="131.25" y1="285.52" x2="131.25" y2="312.64" stroke="#82c07b" stroke-width="0.8" />
<line x1="132.97" y1="286.37" x2="132.97" y2="312.96" stroke="#83c27a" stroke-width="0.8" />
<line x1="134.69" y1="287.22" x2="134.69" y2="313.29" stroke="#86c377" stroke-width="0.8" />
<line x1="136.41" y1="288.07" x2="136.41" y2="313.62" stroke="#87c476" stroke-width="0.8" />
<line x1="138.13" y1="288.92" x2="138.13" y2="313.95" stroke="#8ac573" stroke-width="0.8" />
<line x1="139.85" y1="289.99" x2="139.85" y2="314.27" stroke="#8bc772" stroke-width="0.8" />
<line x1="141.57" y1="291.06" x2="141.57" y2="314.60" stroke="#8ec76f" stroke-width="0.8" />
<line x1="143.29" y1="292.13" x2="143.29" y2="314.93" stroke="#8fc96e" stroke-width="0.8" />
<line x1="145.01" y1="293.20" x2="145.01" y2="315.25" stroke="#92ca6b" stroke-width="0.8" />
<line x1="146.73" y1="294.22" x2="146.73" y2="315.61" stroke="#97cb6a" stroke-width="0.8" />
<line x1="148.45" y1="295.10" x2="148.45" y2="316.04" stroke="#9dce68" stroke-width="0.8" />
<line x1="150.17" y1="295.97" x2="150.17" y2="316.47" stroke="#a3cf67" stroke-width="0.8" />
<line x1="151.89" y1="296.85" x2="151.89" y2="316.90" stroke="#aad265" stroke-width="0.8" />
<line x1="153.61" y1="297.73" x2="153.61" y2="317.33" stroke="#b0d463" stroke-width="0.8" />
<line x1="155.33" y1="298.60" x2="155.33" y2="317.76" stroke="#b7d662" stroke-width="0.8" />
<line x1="157.05" y1="299.53" x2="157.05" y2="318.19" stroke="#bdd860" stroke-width="0.8" />
<line x1="158.77" y1="300.55" x2="158.77" y2="318.62" stroke="#c3da5f" stroke-width="0.8" />
<line x1="160.49" y1="301.56" x2="160.49" y2="319.05" stroke="#cadc5d" stroke-width="0.8" />
<line x1="162.21" y1="302.58" x2="162.21" y2="319.48" stroke="#d0de5b" stroke-width="0.8" />
<line x1="163.93" y1="303.60" x2="163.93" y2="319.91" stroke="#d5df5a" stroke-width="0.8" />
<line x1="165.65" y1="304.62" x2="165.65" y2="320.34" stroke="#d9e059" stroke-width="0.8" />
<line x1="167.37" y1="305.54" x2="167.37" y2="320.78" stroke="#dde158" stroke-width="0.8" />
<line x1="169.09" y1="306.28" x2="169.09" y2="321.21" stroke="#e1e357" stroke-width="0.8" />
<line x1="170.81" y1="307.01" x2="170.81" y2="321.64" stroke="#e6e356" stroke-width="0.8" />
<line x1="172.53" y1="307.75" x2="172.53" y2="322.07" stroke="#eae455" stroke-width="0.8" />
<line x1="174.25" y1="308.48" x2="174.25" y2="322.51" stroke="#eee554" stroke-width="0.8" />
<line x1="175.97" y1="309.21" x2="175.97" y2="322.94" stroke="#f2e753" stroke-width="0.8" />
<line x1="177.69" y1="309.95" x2="177.69" y2="323.37" stroke="#f3e453" stroke-width="0.8" />
<line x1="179.42" y1="310.68" x2="179.42" y2="323.82" stroke="#f3e053" stroke-width="0.8" />
<line x1="181.14" y1="311.42" x2="181.14" y2="324.31" stroke="#f3dd53" stroke-width="0.8" />
<line x1="182.86" y1="312.64" x2="182.86" y2="324.81" stroke="#f4d953" stroke-width="0.8" />
<line x1="184.58" y1="313.85" x2="184.58" y2="325.30" stroke="#f4d553" stroke-width="0.8" />
<line x1="186.30" y1="315.07" x2="186.30" y2="325.79" stroke="#f5d253" stroke-width="0.8" />
<line x1="188.02" y1="316.28" x2="188.02" y2="326.29" stroke="#f5ce53" stroke-width="0.8" />
<line x1="189.74" y1="317.50" x2="189.74" y2="326.78" stroke="#f6cb53" stroke-width="0.8" />
<line x1="191.46" y1="318.70" x2="191.46" y2="327.27" stroke="#f6c753" stroke-width="0.8" />
<line x1="193.18" y1="319.85" x2="193.18" y2="327.76" stroke="#f7c353" stroke-width="0.8" />
<line x1="194.90" y1="320.99" x2="194.90" y2="328.26" stroke="#f6be53" stroke-width="0.8" />
<line x1="196.62" y1="322.13" x2="196.62" y2="328.75" stroke="#f6b754" stroke-width="0.8" />
<line x1="198.34" y1="323.27" x2="198.34" y2="329.24" stroke="#f5b156" stroke-width="0.8" />
<line x1="200.06" y1="324.41" x2="200.06" y2="329.74" stroke="#f5ab57" stroke-width="0.8" />
<line x1="201.78" y1="325.56" x2="201.78" y2="330.23" stroke="#f4a557" stroke-width="0.8" />
<line x1="203.50" y1="326.70" x2="203.50" y2="330.72" stroke="#f39f58" stroke-width="0.8" />
<line x1="205.22" y1="327.49" x2="205.22" y2="331.22" stroke="#f3995a" stroke-width="0.8" />
<line x1="206.94" y1="328.28" x2="206.94" y2="331.71" stroke="#f3935b" stroke-width="0.8" />
<line x1="208.66" y1="329.07" x2="208.66" y2="332.12" stroke="#f18c5b" stroke-width="0.8" />
<line x1="210.38" y1="329.86" x2="210.38" y2="332.47" stroke="#ef855b" stroke-width="0.8" />
<line x1="212.10" y1="330.65" x2="212.10" y2="332.83" stroke="#ee7e5b" stroke-width="0.8" />
<line x1="213.82" y1="331.44" x2="213.82" y2="333.18" stroke="#ed775b" stroke-width="0.8" />
<line x1="215.54" y1="332.23" x2="215.54" y2="333.54" stroke="#eb705b" stroke-width="0.8" />
<line x1="217.26" y1="333.02" x2="217.26" y2="333.89" stroke="#ea695b" stroke-width="0.8" />
<line x1="218.98" y1="333.81" x2="218.98" y2="334.25" stroke="#e8625b" stroke-width="0.8" />
<line x1="220.70" y1="334.60" x2="220.70" y2="334.60" stroke="#e75b5b" stroke-width="0.8" />
<line x1="49.80" y1="196.40" x2="52.12" y2="196.40" stroke="#3e50a3" stroke-width="0.9" />
<line x1="52.12" y1="196.40" x2="52.12" y2="201.62" stroke="#3e50a3" stroke-width="0.9" />
<line x1="51.52" y1="201.62" x2="53.84" y2="201.62" stroke="#3f53a6" stroke-width="0.9" />
<line x1="53.84" y1="201.62" x2="53.84" y2="203.08" stroke="#3f53a6" stroke-width="0.9" />
<line x1="53.24" y1="203.08" x2="55.56" y2="203.08" stroke="#4055a8" stroke-width="0.9" />
<line x1="55.56" y1="203.08" x2="55.56" y2="204.31" stroke="#4055a8" stroke-width="0.9" />
<line x1="54.96" y1="204.31" x2="57.28" y2="204.31" stroke="#4058ab" stroke-width="0.9" />
<line x1="57.28" y1="204.31" x2="57.28" y2="205.51" stroke="#4058ab" stroke-width="0.9" />
<line x1="56.68" y1="205.51" x2="59.00" y2="205.51" stroke="#415aae" stroke-width="0.9" />
<line x1="59.00" y1="205.51" x2="59.00" y2="207.98" stroke="#415aae" stroke-width="0.9" />
<line x1="58.40" y1="207.98" x2="60.72" y2="207.98" stroke="#425db1" stroke-width="0.9" />
<line x1="60.72" y1="207.98" x2="60.72" y2="210.87" stroke="#425db1" stroke-width="0.9" />
<line x1="60.12" y1="210.87" x2="62.44" y2="210.87" stroke="#435fb3" stroke-width="0.9" />
<line x1="62.44" y1="210.87" x2="62.44" y2="214.63" stroke="#435fb3" stroke-width="0.9" />
<line x1="61.84" y1="214.63" x2="64.16" y2="214.63" stroke="#4462b6" stroke-width="0.9" />
<line x1="64.16" y1="214.63" x2="64.16" y2="218.44" stroke="#4462b6" stroke-width="0.9" />
<line x1="63.56" y1="218.44" x2="65.88" y2="218.44" stroke="#4464b9" stroke-width="0.9" />
<line x1="65.88" y1="218.44" x2="65.88" y2="221.20" stroke="#4464b9" stroke-width="0.9" />
<line x1="65.28" y1="221.20" x2="67.60" y2="221.20" stroke="#4567bc" stroke-width="0.9" />
<line x1="67.60" y1="221.20" x2="67.60" y2="222.94" stroke="#4567bc" stroke-width="0.9" />
<line x1="67.00" y1="222.94" x2="69.32" y2="222.94" stroke="#466abe" stroke-width="0.9" />
<line x1="69.32" y1="222.94" x2="69.32" y2="224.69" stroke="#466abe" stroke-width="0.9" />
<line x1="68.72" y1="224.69" x2="71.04" y2="224.69" stroke="#4670c2" stroke-width="0.9" />
<line x1="71.04" y1="224.69" x2="71.04" y2="226.44" stroke="#4670c2" stroke-width="0.9" />
<line x1="70.44" y1="226.44" x2="72.76" y2="226.44" stroke="#4677c6" stroke-width="0.9" />
<line x1="72.76" y1="226.44" x2="72.76" y2="229.73" stroke="#4677c6" stroke-width="0.9" />
<line x1="72.16" y1="229.73" x2="74.48" y2="229.73" stroke="#467dc9" stroke-width="0.9" />
<line x1="74.48" y1="229.73" x2="74.48" y2="233.17" stroke="#467dc9" stroke-width="0.9" />
<line x1="73.88" y1="233.17" x2="76.20" y2="233.17" stroke="#4684cd" stroke-width="0.9" />
<line x1="76.20" y1="233.17" x2="76.20" y2="236.61" stroke="#4684cd" stroke-width="0.9" />
<line x1="75.60" y1="236.61" x2="77.92" y2="236.61" stroke="#468ad0" stroke-width="0.9" />
<line x1="77.92" y1="236.61" x2="77.92" y2="239.70" stroke="#468ad0" stroke-width="0.9" />
<line x1="77.32" y1="239.70" x2="79.64" y2="239.70" stroke="#4691d4" stroke-width="0.9" />
<line x1="79.64" y1="239.70" x2="79.64" y2="241.98" stroke="#4691d4" stroke-width="0.9" />
<line x1="79.04" y1="241.98" x2="81.36" y2="241.98" stroke="#4697d7" stroke-width="0.9" />
<line x1="81.36" y1="241.98" x2="81.36" y2="244.27" stroke="#4697d7" stroke-width="0.9" />
<line x1="80.76" y1="244.27" x2="83.08" y2="244.27" stroke="#449cd9" stroke-width="0.9" />
<line x1="83.08" y1="244.27" x2="83.08" y2="246.55" stroke="#449cd9" stroke-width="0.9" />
<line x1="82.48" y1="246.55" x2="84.80" y2="246.55" stroke="#43a1da" stroke-width="0.9" />
<line x1="84.80" y1="246.55" x2="84.80" y2="248.84" stroke="#43a1da" stroke-width="0.9" />
<line x1="84.20" y1="248.84" x2="86.52" y2="248.84" stroke="#41a6dc" stroke-width="0.9" />
<line x1="86.52" y1="248.84" x2="86.52" y2="250.05" stroke="#41a6dc" stroke-width="0.9" />
<line x1="85.92" y1="250.05" x2="88.24" y2="250.05" stroke="#40abdd" stroke-width="0.9" />
<line x1="88.24" y1="250.05" x2="88.24" y2="251.12" stroke="#40abdd" stroke-width="0.9" />
<line x1="87.64" y1="251.12" x2="89.96" y2="251.12" stroke="#3fb0de" stroke-width="0.9" />
<line x1="89.96" y1="251.12" x2="89.96" y2="252.19" stroke="#3fb0de" stroke-width="0.9" />
<line x1="89.36" y1="252.19" x2="91.68" y2="252.19" stroke="#3db5e0" stroke-width="0.9" />
<line x1="91.68" y1="252.19" x2="91.68" y2="253.26" stroke="#3db5e0" stroke-width="0.9" />
<line x1="91.08" y1="253.26" x2="93.41" y2="253.26" stroke="#3cb9df" stroke-width="0.9" />
<line x1="93.41" y1="253.26" x2="93.41" y2="254.37" stroke="#3cb9df" stroke-width="0.9" />
<line x1="92.81" y1="254.37" x2="95.13" y2="254.37" stroke="#3eb8d8" stroke-width="0.9" />
<line x1="95.13" y1="254.37" x2="95.13" y2="255.81" stroke="#3eb8d8" stroke-width="0.9" />
<line x1="94.53" y1="255.81" x2="96.85" y2="255.81" stroke="#3fb7d1" stroke-width="0.9" />
<line x1="96.85" y1="255.81" x2="96.85" y2="257.25" stroke="#3fb7d1" stroke-width="0.9" />
<line x1="96.25" y1="257.25" x2="98.57" y2="257.25" stroke="#41b6ca" stroke-width="0.9" />
<line x1="98.57" y1="257.25" x2="98.57" y2="258.69" stroke="#41b6ca" stroke-width="0.9" />
<line x1="97.97" y1="258.69" x2="100.29" y2="258.69" stroke="#42b5c2" stroke-width="0.9" />
<line x1="100.29" y1="258.69" x2="100.29" y2="260.12" stroke="#42b5c2" stroke-width="0.9" />
<line x1="99.69" y1="260.12" x2="102.01" y2="260.12" stroke="#44b4bb" stroke-width="0.9" />
<line x1="102.01" y1="260.12" x2="102.01" y2="261.56" stroke="#44b4bb" stroke-width="0.9" />
<line x1="101.41" y1="261.56" x2="103.73" y2="261.56" stroke="#45b3b4" stroke-width="0.9" />
<line x1="103.73" y1="261.56" x2="103.73" y2="263.00" stroke="#45b3b4" stroke-width="0.9" />
<line x1="103.13" y1="263.00" x2="105.45" y2="263.00" stroke="#46b2ad" stroke-width="0.9" />
<line x1="105.45" y1="263.00" x2="105.45" y2="264.45" stroke="#46b2ad" stroke-width="0.9" />
<line x1="104.85" y1="264.45" x2="107.17" y2="264.45" stroke="#48b1a6" stroke-width="0.9" />
<line x1="107.17" y1="264.45" x2="107.17" y2="266.31" stroke="#48b1a6" stroke-width="0.9" />
<line x1="106.57" y1="266.31" x2="108.89" y2="266.31" stroke="#49b1a0" stroke-width="0.9" />
<line x1="108.89" y1="266.31" x2="108.89" y2="268.17" stroke="#49b1a0" stroke-width="0.9" />
<line x1="108.29" y1="268.17" x2="110.61" y2="268.17" stroke="#4bb19a" stroke-width="0.9" />
<line x1="110.61" y1="268.17" x2="110.61" y2="270.03" stroke="#4bb19a" stroke-width="0.9" />
<line x1="110.01" y1="270.03" x2="112.33" y2="270.03" stroke="#4cb093" stroke-width="0.9" />
<line x1="112.33" y1="270.03" x2="112.33" y2="271.89" stroke="#4cb093" stroke-width="0.9" />
<line x1="111.73" y1="271.89" x2="114.05" y2="271.89" stroke="#4eb08d" stroke-width="0.9" />
<line x1="114.05" y1="271.89" x2="114.05" y2="273.75" stroke="#4eb08d" stroke-width="0.9" />
<line x1="113.45" y1="273.75" x2="115.77" y2="273.75" stroke="#4faf86" stroke-width="0.9" />
<line x1="115.77" y1="273.75" x2="115.77" y2="275.61" stroke="#4faf86" stroke-width="0.9" />
<line x1="115.17" y1="275.61" x2="117.49" y2="275.61" stroke="#51af80" stroke-width="0.9" />
<line x1="117.49" y1="275.61" x2="117.49" y2="277.47" stroke="#51af80" stroke-width="0.9" />
<line x1="116.89" y1="277.47" x2="119.21" y2="277.47" stroke="#53af7c" stroke-width="0.9" />
<line x1="119.21" y1="277.47" x2="119.21" y2="278.58" stroke="#53af7c" stroke-width="0.9" />
<line x1="118.61" y1="278.58" x2="120.93" y2="278.58" stroke="#55af77" stroke-width="0.9" />
<line x1="120.93" y1="278.58" x2="120.93" y2="279.59" stroke="#55af77" stroke-width="0.9" />
<line x1="120.33" y1="279.59" x2="122.65" y2="279.59" stroke="#56af73" stroke-width="0.9" />
<line x1="122.65" y1="279.59" x2="122.65" y2="280.60" stroke="#56af73" stroke-width="0.9" />
<line x1="122.05" y1="280.60" x2="124.37" y2="280.60" stroke="#58af6f" stroke-width="0.9" />
<line x1="124.37" y1="280.60" x2="124.37" y2="281.60" stroke="#58af6f" stroke-width="0.9" />
<line x1="123.77" y1="281.60" x2="126.09" y2="281.60" stroke="#5aaf6a" stroke-width="0.9" />
<line x1="126.09" y1="281.60" x2="126.09" y2="282.61" stroke="#5aaf6a" stroke-width="0.9" />
<line x1="125.49" y1="282.61" x2="127.81" y2="282.61" stroke="#5caf66" stroke-width="0.9" />
<line x1="127.81" y1="282.61" x2="127.81" y2="283.62" stroke="#5caf66" stroke-width="0.9" />
<line x1="127.21" y1="283.62" x2="129.53" y2="283.62" stroke="#5eaf61" stroke-width="0.9" />
<line x1="129.53" y1="283.62" x2="129.53" y2="284.62" stroke="#5eaf61" stroke-width="0.9" />
<line x1="128.93" y1="284.62" x2="131.25" y2="284.62" stroke="#60b05e" stroke-width="0.9" />
<line x1="131.25" y1="284.62" x2="131.25" y2="285.52" stroke="#60b05e" stroke-width="0.9" />
<line x1="130.65" y1="285.52" x2="132.97" y2="285.52" stroke="#63b15b" stroke-width="0.9" />
<line x1="132.97" y1="285.52" x2="132.97" y2="286.37" stroke="#63b15b" stroke-width="0.9" />
<line x1="132.37" y1="286.37" x2="134.69" y2="286.37" stroke="#65b359" stroke-width="0.9" />
<line x1="134.69" y1="286.37" x2="134.69" y2="287.22" stroke="#65b359" stroke-width="0.9" />
<line x1="134.09" y1="287.22" x2="136.41" y2="287.22" stroke="#68b456" stroke-width="0.9" />
<line x1="136.41" y1="287.22" x2="136.41" y2="288.07" stroke="#68b456" stroke-width="0.9" />
<line x1="135.81" y1="288.07" x2="138.13" y2="288.07" stroke="#6ab654" stroke-width="0.9" />
<line x1="138.13" y1="288.07" x2="138.13" y2="288.92" stroke="#6ab654" stroke-width="0.9" />
<line x1="137.53" y1="288.92" x2="139.85" y2="288.92" stroke="#6db751" stroke-width="0.9" />
<line x1="139.85" y1="288.92" x2="139.85" y2="289.99" stroke="#6db751" stroke-width="0.9" />
<line x1="139.25" y1="289.99" x2="141.57" y2="289.99" stroke="#6fb94f" stroke-width="0.9" />
<line x1="141.57" y1="289.99" x2="141.57" y2="291.06" stroke="#6fb94f" stroke-width="0.9" />
<line x1="140.97" y1="291.06" x2="143.29" y2="291.06" stroke="#72ba4c" stroke-width="0.9" />
<line x1="143.29" y1="291.06" x2="143.29" y2="292.13" stroke="#72ba4c" stroke-width="0.9" />
<line x1="142.69" y1="292.13" x2="145.01" y2="292.13" stroke="#74bc4a" stroke-width="0.9" />
<line x1="145.01" y1="292.13" x2="145.01" y2="293.20" stroke="#74bc4a" stroke-width="0.9" />
<line x1="144.41" y1="293.20" x2="146.73" y2="293.20" stroke="#77bd47" stroke-width="0.9" />
<line x1="146.73" y1="293.20" x2="146.73" y2="294.22" stroke="#77bd47" stroke-width="0.9" />
<line x1="146.13" y1="294.22" x2="148.45" y2="294.22" stroke="#7dbf45" stroke-width="0.9" />
<line x1="148.45" y1="294.22" x2="148.45" y2="295.10" stroke="#7dbf45" stroke-width="0.9" />
<line x1="147.85" y1="295.10" x2="150.17" y2="295.10" stroke="#85c243" stroke-width="0.9" />
<line x1="150.17" y1="295.10" x2="150.17" y2="295.97" stroke="#85c243" stroke-width="0.9" />
<line x1="149.57" y1="295.97" x2="151.89" y2="295.97" stroke="#8dc441" stroke-width="0.9" />
<line x1="151.89" y1="295.97" x2="151.89" y2="296.85" stroke="#8dc441" stroke-width="0.9" />
<line x1="151.29" y1="296.85" x2="153.61" y2="296.85" stroke="#95c73f" stroke-width="0.9" />
<line x1="153.61" y1="296.85" x2="153.61" y2="297.73" stroke="#95c73f" stroke-width="0.9" />
<line x1="153.01" y1="297.73" x2="155.33" y2="297.73" stroke="#9dca3d" stroke-width="0.9" />
<line x1="155.33" y1="297.73" x2="155.33" y2="298.60" stroke="#9dca3d" stroke-width="0.9" />
<line x1="154.73" y1="298.60" x2="157.05" y2="298.60" stroke="#a5cc3b" stroke-width="0.9" />
<line x1="157.05" y1="298.60" x2="157.05" y2="299.53" stroke="#a5cc3b" stroke-width="0.9" />
<line x1="156.45" y1="299.53" x2="158.77" y2="299.53" stroke="#adcf39" stroke-width="0.9" />
<line x1="158.77" y1="299.53" x2="158.77" y2="300.55" stroke="#adcf39" stroke-width="0.9" />
<line x1="158.17" y1="300.55" x2="160.49" y2="300.55" stroke="#b5d137" stroke-width="0.9" />
<line x1="160.49" y1="300.55" x2="160.49" y2="301.56" stroke="#b5d137" stroke-width="0.9" />
<line x1="159.89" y1="301.56" x2="162.21" y2="301.56" stroke="#bdd435" stroke-width="0.9" />
<line x1="162.21" y1="301.56" x2="162.21" y2="302.58" stroke="#bdd435" stroke-width="0.9" />
<line x1="161.61" y1="302.58" x2="163.93" y2="302.58" stroke="#c5d633" stroke-width="0.9" />
<line x1="163.93" y1="302.58" x2="163.93" y2="303.60" stroke="#c5d633" stroke-width="0.9" />
<line x1="163.33" y1="303.60" x2="165.65" y2="303.60" stroke="#cbd831" stroke-width="0.9" />
<line x1="165.65" y1="303.60" x2="165.65" y2="304.62" stroke="#cbd831" stroke-width="0.9" />
<line x1="165.05" y1="304.62" x2="167.37" y2="304.62" stroke="#d0d930" stroke-width="0.9" />
<line x1="167.37" y1="304.62" x2="167.37" y2="305.54" stroke="#d0d930" stroke-width="0.9" />
<line x1="166.77" y1="305.54" x2="169.09" y2="305.54" stroke="#d5da2f" stroke-width="0.9" />
<line x1="169.09" y1="305.54" x2="169.09" y2="306.28" stroke="#d5da2f" stroke-width="0.9" />
<line x1="168.49" y1="306.28" x2="170.81" y2="306.28" stroke="#dadc2d" stroke-width="0.9" />
<line x1="170.81" y1="306.28" x2="170.81" y2="307.01" stroke="#dadc2d" stroke-width="0.9" />
<line x1="170.21" y1="307.01" x2="172.53" y2="307.01" stroke="#e0dd2c" stroke-width="0.9" />
<line x1="172.53" y1="307.01" x2="172.53" y2="307.75" stroke="#e0dd2c" stroke-width="0.9" />
<line x1="171.93" y1="307.75" x2="174.25" y2="307.75" stroke="#e5de2b" stroke-width="0.9" />
<line x1="174.25" y1="307.75" x2="174.25" y2="308.48" stroke="#e5de2b" stroke-width="0.9" />
<line x1="173.65" y1="308.48" x2="175.97" y2="308.48" stroke="#eadf2a" stroke-width="0.9" />
<line x1="175.97" y1="308.48" x2="175.97" y2="309.21" stroke="#eadf2a" stroke-width="0.9" />
<line x1="175.37" y1="309.21" x2="177.69" y2="309.21" stroke="#efe128" stroke-width="0.9" />
<line x1="177.69" y1="309.21" x2="177.69" y2="309.95" stroke="#efe128" stroke-width="0.9" />
<line x1="177.09" y1="309.95" x2="179.42" y2="309.95" stroke="#f0de28" stroke-width="0.9" />
<line x1="179.42" y1="309.95" x2="179.42" y2="310.68" stroke="#f0de28" stroke-width="0.9" />
<line x1="178.82" y1="310.68" x2="181.14" y2="310.68" stroke="#f1d928" stroke-width="0.9" />
<line x1="181.14" y1="310.68" x2="181.14" y2="311.42" stroke="#f1d928" stroke-width="0.9" />
<line x1="180.54" y1="311.42" x2="182.86" y2="311.42" stroke="#f1d528" stroke-width="0.9" />
<line x1="182.86" y1="311.42" x2="182.86" y2="312.64" stroke="#f1d528" stroke-width="0.9" />
<line x1="182.26" y1="312.64" x2="184.58" y2="312.64" stroke="#f2d028" stroke-width="0.9" />
<line x1="184.58" y1="312.64" x2="184.58" y2="313.85" stroke="#f2d028" stroke-width="0.9" />
<line x1="183.98" y1="313.85" x2="186.30" y2="313.85" stroke="#f2cb28" stroke-width="0.9" />
<line x1="186.30" y1="313.85" x2="186.30" y2="315.07" stroke="#f2cb28" stroke-width="0.9" />
<line x1="185.70" y1="315.07" x2="188.02" y2="315.07" stroke="#f3c728" stroke-width="0.9" />
<line x1="188.02" y1="315.07" x2="188.02" y2="316.28" stroke="#f3c728" stroke-width="0.9" />
<line x1="187.42" y1="316.28" x2="189.74" y2="316.28" stroke="#f3c228" stroke-width="0.9" />
<line x1="189.74" y1="316.28" x2="189.74" y2="317.50" stroke="#f3c228" stroke-width="0.9" />
<line x1="189.14" y1="317.50" x2="191.46" y2="317.50" stroke="#f4be28" stroke-width="0.9" />
<line x1="191.46" y1="317.50" x2="191.46" y2="318.70" stroke="#f4be28" stroke-width="0.9" />
<line x1="190.86" y1="318.70" x2="193.18" y2="318.70" stroke="#f4b928" stroke-width="0.9" />
<line x1="193.18" y1="318.70" x2="193.18" y2="319.85" stroke="#f4b928" stroke-width="0.9" />
<line x1="192.58" y1="319.85" x2="194.90" y2="319.85" stroke="#f5b528" stroke-width="0.9" />
<line x1="194.90" y1="319.85" x2="194.90" y2="320.99" stroke="#f5b528" stroke-width="0.9" />
<line x1="194.30" y1="320.99" x2="196.62" y2="320.99" stroke="#f4ae29" stroke-width="0.9" />
<line x1="196.62" y1="320.99" x2="196.62" y2="322.13" stroke="#f4ae29" stroke-width="0.9" />
<line x1="196.02" y1="322.13" x2="198.34" y2="322.13" stroke="#f4a62a" stroke-width="0.9" />
<line x1="198.34" y1="322.13" x2="198.34" y2="323.27" stroke="#f4a62a" stroke-width="0.9" />
<line x1="197.74" y1="323.27" x2="200.06" y2="323.27" stroke="#f39e2c" stroke-width="0.9" />
<line x1="200.06" y1="323.27" x2="200.06" y2="324.41" stroke="#f39e2c" stroke-width="0.9" />
<line x1="199.46" y1="324.41" x2="201.78" y2="324.41" stroke="#f3972d" stroke-width="0.9" />
<line x1="201.78" y1="324.41" x2="201.78" y2="325.56" stroke="#f3972d" stroke-width="0.9" />
<line x1="201.18" y1="325.56" x2="203.50" y2="325.56" stroke="#f28f2e" stroke-width="0.9" />
<line x1="203.50" y1="325.56" x2="203.50" y2="326.70" stroke="#f28f2e" stroke-width="0.9" />
<line x1="202.90" y1="326.70" x2="205.22" y2="326.70" stroke="#f1882f" stroke-width="0.9" />
<line x1="205.22" y1="326.70" x2="205.22" y2="327.49" stroke="#f1882f" stroke-width="0.9" />
<line x1="204.62" y1="327.49" x2="206.94" y2="327.49" stroke="#f18031" stroke-width="0.9" />
<line x1="206.94" y1="327.49" x2="206.94" y2="328.28" stroke="#f18031" stroke-width="0.9" />
<line x1="206.34" y1="328.28" x2="208.66" y2="328.28" stroke="#f07932" stroke-width="0.9" />
<line x1="208.66" y1="328.28" x2="208.66" y2="329.07" stroke="#f07932" stroke-width="0.9" />
<line x1="208.06" y1="329.07" x2="210.38" y2="329.07" stroke="#ee7032" stroke-width="0.9" />
<line x1="210.38" y1="329.07" x2="210.38" y2="329.86" stroke="#ee7032" stroke-width="0.9" />
<line x1="209.78" y1="329.86" x2="212.10" y2="329.86" stroke="#ec6732" stroke-width="0.9" />
<line x1="212.10" y1="329.86" x2="212.10" y2="330.65" stroke="#ec6732" stroke-width="0.9" />
<line x1="211.50" y1="330.65" x2="213.82" y2="330.65" stroke="#ea5e32" stroke-width="0.9" />
<line x1="213.82" y1="330.65" x2="213.82" y2="331.44" stroke="#ea5e32" stroke-width="0.9" />
<line x1="213.22" y1="331.44" x2="215.54" y2="331.44" stroke="#e95532" stroke-width="0.9" />
<line x1="215.54" y1="331.44" x2="215.54" y2="332.23" stroke="#e95532" stroke-width="0.9" />
<line x1="214.94" y1="332.23" x2="217.26" y2="332.23" stroke="#e74d32" stroke-width="0.9" />
<line x1="217.26" y1="332.23" x2="217.26" y2="333.02" stroke="#e74d32" stroke-width="0.9" />
<line x1="216.66" y1="333.02" x2="218.98" y2="333.02" stroke="#e54432" stroke-width="0.9" />
<line x1="218.98" y1="333.02" x2="218.98" y2="333.81" stroke="#e54432" stroke-width="0.9" />
<line x1="218.38" y1="333.81" x2="220.70" y2="333.81" stroke="#e33b32" stroke-width="0.9" />
<line x1="220.70" y1="333.81" x2="220.70" y2="334.60" stroke="#e33b32" stroke-width="0.9" />
<line x1="49.80" y1="264.00" x2="52.12" y2="264.00" stroke="#3e50a3" stroke-width="0.9" />
<line x1="52.12" y1="264.00" x2="52.12" y2="265.27" stroke="#3e50a3" stroke-width="0.9" />
<line x1="51.52" y1="265.27" x2="53.84" y2="265.27" stroke="#3f53a6" stroke-width="0.9" />
<line x1="53.84" y1="265.27" x2="53.84" y2="266.54" stroke="#3f53a6" stroke-width="0.9" />
<line x1="53.24" y1="266.54" x2="55.56" y2="266.54" stroke="#4055a8" stroke-width="0.9" />
<line x1="55.56" y1="266.54" x2="55.56" y2="267.36" stroke="#4055a8" stroke-width="0.9" />
<line x1="54.96" y1="267.36" x2="57.28" y2="267.36" stroke="#4058ab" stroke-width="0.9" />
<line x1="57.28" y1="267.36" x2="57.28" y2="267.82" stroke="#4058ab" stroke-width="0.9" />
<line x1="56.68" y1="267.82" x2="59.00" y2="267.82" stroke="#415aae" stroke-width="0.9" />
<line x1="59.00" y1="267.82" x2="59.00" y2="268.60" stroke="#415aae" stroke-width="0.9" />
<line x1="58.40" y1="268.60" x2="60.72" y2="268.60" stroke="#425db1" stroke-width="0.9" />
<line x1="60.72" y1="268.60" x2="60.72" y2="270.86" stroke="#425db1" stroke-width="0.9" />
<line x1="60.12" y1="270.86" x2="62.44" y2="270.86" stroke="#435fb3" stroke-width="0.9" />
<line x1="62.44" y1="270.86" x2="62.44" y2="273.13" stroke="#435fb3" stroke-width="0.9" />
<line x1="61.84" y1="273.13" x2="64.16" y2="273.13" stroke="#4462b6" stroke-width="0.9" />
<line x1="64.16" y1="273.13" x2="64.16" y2="275.40" stroke="#4462b6" stroke-width="0.9" />
<line x1="63.56" y1="275.40" x2="65.88" y2="275.40" stroke="#4464b9" stroke-width="0.9" />
<line x1="65.88" y1="275.40" x2="65.88" y2="277.16" stroke="#4464b9" stroke-width="0.9" />
<line x1="65.28" y1="277.16" x2="67.60" y2="277.16" stroke="#4567bc" stroke-width="0.9" />
<line x1="67.60" y1="277.16" x2="67.60" y2="278.44" stroke="#4567bc" stroke-width="0.9" />
<line x1="67.00" y1="278.44" x2="69.32" y2="278.44" stroke="#466abe" stroke-width="0.9" />
<line x1="69.32" y1="278.44" x2="69.32" y2="279.73" stroke="#466abe" stroke-width="0.9" />
<line x1="68.72" y1="279.73" x2="71.04" y2="279.73" stroke="#4670c2" stroke-width="0.9" />
<line x1="71.04" y1="279.73" x2="71.04" y2="281.01" stroke="#4670c2" stroke-width="0.9" />
<line x1="70.44" y1="281.01" x2="72.76" y2="281.01" stroke="#4677c6" stroke-width="0.9" />
<line x1="72.76" y1="281.01" x2="72.76" y2="282.30" stroke="#4677c6" stroke-width="0.9" />
<line x1="72.16" y1="282.30" x2="74.48" y2="282.30" stroke="#467dc9" stroke-width="0.9" />
<line x1="74.48" y1="282.30" x2="74.48" y2="283.74" stroke="#467dc9" stroke-width="0.9" />
<line x1="73.88" y1="283.74" x2="76.20" y2="283.74" stroke="#4684cd" stroke-width="0.9" />
<line x1="76.20" y1="283.74" x2="76.20" y2="285.25" stroke="#4684cd" stroke-width="0.9" />
<line x1="75.60" y1="285.25" x2="77.92" y2="285.25" stroke="#468ad0" stroke-width="0.9" />
<line x1="77.92" y1="285.25" x2="77.92" y2="286.77" stroke="#468ad0" stroke-width="0.9" />
<line x1="77.32" y1="286.77" x2="79.64" y2="286.77" stroke="#4691d4" stroke-width="0.9" />
<line x1="79.64" y1="286.77" x2="79.64" y2="288.28" stroke="#4691d4" stroke-width="0.9" />
<line x1="79.04" y1="288.28" x2="81.36" y2="288.28" stroke="#4697d7" stroke-width="0.9" />
<line x1="81.36" y1="288.28" x2="81.36" y2="289.79" stroke="#4697d7" stroke-width="0.9" />
<line x1="80.76" y1="289.79" x2="83.08" y2="289.79" stroke="#449cd9" stroke-width="0.9" />
<line x1="83.08" y1="289.79" x2="83.08" y2="291.75" stroke="#449cd9" stroke-width="0.9" />
<line x1="82.48" y1="291.75" x2="84.80" y2="291.75" stroke="#43a1da" stroke-width="0.9" />
<line x1="84.80" y1="291.75" x2="84.80" y2="293.77" stroke="#43a1da" stroke-width="0.9" />
<line x1="84.20" y1="293.77" x2="86.52" y2="293.77" stroke="#41a6dc" stroke-width="0.9" />
<line x1="86.52" y1="293.77" x2="86.52" y2="294.93" stroke="#41a6dc" stroke-width="0.9" />
<line x1="85.92" y1="294.93" x2="88.24" y2="294.93" stroke="#40abdd" stroke-width="0.9" />
<line x1="88.24" y1="294.93" x2="88.24" y2="295.97" stroke="#40abdd" stroke-width="0.9" />
<line x1="87.64" y1="295.97" x2="89.96" y2="295.97" stroke="#3fb0de" stroke-width="0.9" />
<line x1="89.96" y1="295.97" x2="89.96" y2="297.02" stroke="#3fb0de" stroke-width="0.9" />
<line x1="89.36" y1="297.02" x2="91.68" y2="297.02" stroke="#3db5e0" stroke-width="0.9" />
<line x1="91.68" y1="297.02" x2="91.68" y2="298.06" stroke="#3db5e0" stroke-width="0.9" />
<line x1="91.08" y1="298.06" x2="93.41" y2="298.06" stroke="#3cb9df" stroke-width="0.9" />
<line x1="93.41" y1="298.06" x2="93.41" y2="299.11" stroke="#3cb9df" stroke-width="0.9" />
<line x1="92.81" y1="299.11" x2="95.13" y2="299.11" stroke="#3eb8d8" stroke-width="0.9" />
<line x1="95.13" y1="299.11" x2="95.13" y2="300.15" stroke="#3eb8d8" stroke-width="0.9" />
<line x1="94.53" y1="300.15" x2="96.85" y2="300.15" stroke="#3fb7d1" stroke-width="0.9" />
<line x1="96.85" y1="300.15" x2="96.85" y2="300.86" stroke="#3fb7d1" stroke-width="0.9" />
<line x1="96.25" y1="300.86" x2="98.57" y2="300.86" stroke="#41b6ca" stroke-width="0.9" />
<line x1="98.57" y1="300.86" x2="98.57" y2="301.55" stroke="#41b6ca" stroke-width="0.9" />
<line x1="97.97" y1="301.55" x2="100.29" y2="301.55" stroke="#42b5c2" stroke-width="0.9" />
<line x1="100.29" y1="301.55" x2="100.29" y2="302.24" stroke="#42b5c2" stroke-width="0.9" />
<line x1="99.69" y1="302.24" x2="102.01" y2="302.24" stroke="#44b4bb" stroke-width="0.9" />
<line x1="102.01" y1="302.24" x2="102.01" y2="302.94" stroke="#44b4bb" stroke-width="0.9" />
<line x1="101.41" y1="302.94" x2="103.73" y2="302.94" stroke="#45b3b4" stroke-width="0.9" />
<line x1="103.73" y1="302.94" x2="103.73" y2="303.63" stroke="#45b3b4" stroke-width="0.9" />
<line x1="103.13" y1="303.63" x2="105.45" y2="303.63" stroke="#46b2ad" stroke-width="0.9" />
<line x1="105.45" y1="303.63" x2="105.45" y2="304.32" stroke="#46b2ad" stroke-width="0.9" />
<line x1="104.85" y1="304.32" x2="107.17" y2="304.32" stroke="#48b1a6" stroke-width="0.9" />
<line x1="107.17" y1="304.32" x2="107.17" y2="305.03" stroke="#48b1a6" stroke-width="0.9" />
<line x1="106.57" y1="305.03" x2="108.89" y2="305.03" stroke="#49b1a0" stroke-width="0.9" />
<line x1="108.89" y1="305.03" x2="108.89" y2="305.75" stroke="#49b1a0" stroke-width="0.9" />
<line x1="108.29" y1="305.75" x2="110.61" y2="305.75" stroke="#4bb19a" stroke-width="0.9" />
<line x1="110.61" y1="305.75" x2="110.61" y2="306.46" stroke="#4bb19a" stroke-width="0.9" />
<line x1="110.01" y1="306.46" x2="112.33" y2="306.46" stroke="#4cb093" stroke-width="0.9" />
<line x1="112.33" y1="306.46" x2="112.33" y2="307.17" stroke="#4cb093" stroke-width="0.9" />
<line x1="111.73" y1="307.17" x2="114.05" y2="307.17" stroke="#4eb08d" stroke-width="0.9" />
<line x1="114.05" y1="307.17" x2="114.05" y2="307.89" stroke="#4eb08d" stroke-width="0.9" />
<line x1="113.45" y1="307.89" x2="115.77" y2="307.89" stroke="#4faf86" stroke-width="0.9" />
<line x1="115.77" y1="307.89" x2="115.77" y2="308.60" stroke="#4faf86" stroke-width="0.9" />
<line x1="115.17" y1="308.60" x2="117.49" y2="308.60" stroke="#51af80" stroke-width="0.9" />
<line x1="117.49" y1="308.60" x2="117.49" y2="309.31" stroke="#51af80" stroke-width="0.9" />
<line x1="116.89" y1="309.31" x2="119.21" y2="309.31" stroke="#53af7c" stroke-width="0.9" />
<line x1="119.21" y1="309.31" x2="119.21" y2="309.77" stroke="#53af7c" stroke-width="0.9" />
<line x1="118.61" y1="309.77" x2="120.93" y2="309.77" stroke="#55af77" stroke-width="0.9" />
<line x1="120.93" y1="309.77" x2="120.93" y2="310.19" stroke="#55af77" stroke-width="0.9" />
<line x1="120.33" y1="310.19" x2="122.65" y2="310.19" stroke="#56af73" stroke-width="0.9" />
<line x1="122.65" y1="310.19" x2="122.65" y2="310.61" stroke="#56af73" stroke-width="0.9" />
<line x1="122.05" y1="310.61" x2="124.37" y2="310.61" stroke="#58af6f" stroke-width="0.9" />
<line x1="124.37" y1="310.61" x2="124.37" y2="311.03" stroke="#58af6f" stroke-width="0.9" />
<line x1="123.77" y1="311.03" x2="126.09" y2="311.03" stroke="#5aaf6a" stroke-width="0.9" />
<line x1="126.09" y1="311.03" x2="126.09" y2="311.45" stroke="#5aaf6a" stroke-width="0.9" />
<line x1="125.49" y1="311.45" x2="127.81" y2="311.45" stroke="#5caf66" stroke-width="0.9" />
<line x1="127.81" y1="311.45" x2="127.81" y2="311.87" stroke="#5caf66" stroke-width="0.9" />
<line x1="127.21" y1="311.87" x2="129.53" y2="311.87" stroke="#5eaf61" stroke-width="0.9" />
<line x1="129.53" y1="311.87" x2="129.53" y2="312.29" stroke="#5eaf61" stroke-width="0.9" />
<line x1="128.93" y1="312.29" x2="131.25" y2="312.29" stroke="#60b05e" stroke-width="0.9" />
<line x1="131.25" y1="312.29" x2="131.25" y2="312.64" stroke="#60b05e" stroke-width="0.9" />
<line x1="130.65" y1="312.64" x2="132.97" y2="312.64" stroke="#63b15b" stroke-width="0.9" />
<line x1="132.97" y1="312.64" x2="132.97" y2="312.96" stroke="#63b15b" stroke-width="0.9" />
<line x1="132.37" y1="312.96" x2="134.69" y2="312.96" stroke="#65b359" stroke-width="0.9" />
<line x1="134.69" y1="312.96" x2="134.69" y2="313.29" stroke="#65b359" stroke-width="0.9" />
<line x1="134.09" y1="313.29" x2="136.41" y2="313.29" stroke="#68b456" stroke-width="0.9" />
<line x1="136.41" y1="313.29" x2="136.41" y2="313.62" stroke="#68b456" stroke-width="0.9" />
<line x1="135.81" y1="313.62" x2="138.13" y2="313.62" stroke="#6ab654" stroke-width="0.9" />
<line x1="138.13" y1="313.62" x2="138.13" y2="313.95" stroke="#6ab654" stroke-width="0.9" />
<line x1="137.53" y1="313.95" x2="139.85" y2="313.95" stroke="#6db751" stroke-width="0.9" />
<line x1="139.85" y1="313.95" x2="139.85" y2="314.27" stroke="#6db751" stroke-width="0.9" />
<line x1="139.25" y1="314.27" x2="141.57" y2="314.27" stroke="#6fb94f" stroke-width="0.9" />
<line x1="141.57" y1="314.27" x2="141.57" y2="314.60" stroke="#6fb94f" stroke-width="0.9" />
<line x1="140.97" y1="314.60" x2="143.29" y2="314.60" stroke="#72ba4c" stroke-width="0.9" />
<line x1="143.29" y1="314.60" x2="143.29" y2="314.93" stroke="#72ba4c" stroke-width="0.9" />
<line x1="142.69" y1="314.93" x2="145.01" y2="314.93" stroke="#74bc4a" stroke-width="0.9" />
<line x1="145.01" y1="314.93" x2="145.01" y2="315.25" stroke="#74bc4a" stroke-width="0.9" />
<line x1="144.41" y1="315.25" x2="146.73" y2="315.25" stroke="#77bd47" stroke-width="0.9" />
<line x1="146.73" y1="315.25" x2="146.73" y2="315.61" stroke="#77bd47" stroke-width="0.9" />
<line x1="146.13" y1="315.61" x2="148.45" y2="315.61" stroke="#7dbf45" stroke-width="0.9" />
<line x1="148.45" y1="315.61" x2="148.45" y2="316.04" stroke="#7dbf45" stroke-width="0.9" />
<line x1="147.85" y1="316.04" x2="150.17" y2="316.04" stroke="#85c243" stroke-width="0.9" />
<line x1="150.17" y1="316.04" x2="150.17" y2="316.47" stroke="#85c243" stroke-width="0.9" />
<line x1="149.57" y1="316.47" x2="151.89" y2="316.47" stroke="#8dc441" stroke-width="0.9" />
<line x1="151.89" y1="316.47" x2="151.89" y2="316.90" stroke="#8dc441" stroke-width="0.9" />
<line x1="151.29" y1="316.90" x2="153.61" y2="316.90" stroke="#95c73f" stroke-width="0.9" />
<line x1="153.61" y1="316.90" x2="153.61" y2="317.33" stroke="#95c73f" stroke-width="0.9" />
<line x1="153.01" y1="317.33" x2="155.33" y2="317.33" stroke="#9dca3d" stroke-width="0.9" />
<line x1="155.33" y1="317.33" x2="155.33" y2="317.76" stroke="#9dca3d" stroke-width="0.9" />
<line x1="154.73" y1="317.76" x2="157.05" y2="317.76" stroke="#a5cc3b" stroke-width="0.9" />
<line x1="157.05" y1="317.76" x2="157.05" y2="318.19" stroke="#a5cc3b" stroke-width="0.9" />
<line x1="156.45" y1="318.19" x2="158.77" y2="318.19" stroke="#adcf39" stroke-width="0.9" />
<line x1="158.77" y1="318.19" x2="158.77" y2="318.62" stroke="#adcf39" stroke-width="0.9" />
<line x1="158.17" y1="318.62" x2="160.49" y2="318.62" stroke="#b5d137" stroke-width="0.9" />
<line x1="160.49" y1="318.62" x2="160.49" y2="319.05" stroke="#b5d137" stroke-width="0.9" />
<line x1="159.89" y1="319.05" x2="162.21" y2="319.05" stroke="#bdd435" stroke-width="0.9" />
<line x1="162.21" y1="319.05" x2="162.21" y2="319.48" stroke="#bdd435" stroke-width="0.9" />
<line x1="161.61" y1="319.48" x2="163.93" y2="319.48" stroke="#c5d633" stroke-width="0.9" />
<line x1="163.93" y1="319.48" x2="163.93" y2="319.91" stroke="#c5d633" stroke-width="0.9" />
<line x1="163.33" y1="319.91" x2="165.65" y2="319.91" stroke="#cbd831" stroke-width="0.9" />
<line x1="165.65" y1="319.91" x2="165.65" y2="320.34" stroke="#cbd831" stroke-width="0.9" />
<line x1="165.05" y1="320.34" x2="167.37" y2="320.34" stroke="#d0d930" stroke-width="0.9" />
<line x1="167.37" y1="320.34" x2="167.37" y2="320.78" stroke="#d0d930" stroke-width="0.9" />
<line x1="166.77" y1="320.78" x2="169.09" y2="320.78" stroke="#d5da2f" stroke-width="0.9" />
<line x1="169.09" y1="320.78" x2="169.09" y2="321.21" stroke="#d5da2f" stroke-width="0.9" />
<line x1="168.49" y1="321.21" x2="170.81" y2="321.21" stroke="#dadc2d" stroke-width="0.9" />
<line x1="170.81" y1="321.21" x2="170.81" y2="321.64" stroke="#dadc2d" stroke-width="0.9" />
<line x1="170.21" y1="321.64" x2="172.53" y2="321.64" stroke="#e0dd2c" stroke-width="0.9" />
<line x1="172.53" y1="321.64" x2="172.53" y2="322.07" stroke="#e0dd2c" stroke-width="0.9" />
<line x1="171.93" y1="322.07" x2="174.25" y2="322.07" stroke="#e5de2b" stroke-width="0.9" />
<line x1="174.25" y1="322.07" x2="174.25" y2="322.51" stroke="#e5de2b" stroke-width="0.9" />
<line x1="173.65" y1="322.51" x2="175.97" y2="322.51" stroke="#eadf2a" stroke-width="0.9" />
<line x1="175.97" y1="322.51" x2="175.97" y2="322.94" stroke="#eadf2a" stroke-width="0.9" />
<line x1="175.37" y1="322.94" x2="177.69" y2="322.94" stroke="#efe128" stroke-width="0.9" />
<line x1="177.69" y1="322.94" x2="177.69" y2="323.37" stroke="#efe128" stroke-width="0.9" />
<line x1="177.09" y1="323.37" x2="179.42" y2="323.37" stroke="#f0de28" stroke-width="0.9" />
<line x1="179.42" y1="323.37" x2="179.42" y2="323.82" stroke="#f0de28" stroke-width="0.9" />
<line x1="178.82" y1="323.82" x2="181.14" y2="323.82" stroke="#f1d928" stroke-width="0.9" />
<line x1="181.14" y1="323.82" x2="181.14" y2="324.31" stroke="#f1d928" stroke-width="0.9" />
<line x1="180.54" y1="324.31" x2="182.86" y2="324.31" stroke="#f1d528" stroke-width="0.9" />
<line x1="182.86" y1="324.31" x2="182.86" y2="324.81" stroke="#f1d528" stroke-width="0.9" />
<line x1="182.26" y1="324.81" x2="184.58" y2="324.81" stroke="#f2d028" stroke-width="0.9" />
<line x1="184.58" y1="324.81" x2="184.58" y2="325.30" stroke="#f2d028" stroke-width="0.9" />
<line x1="183.98" y1="325.30" x2="186.30" y2="325.30" stroke="#f2cb28" stroke-width="0.9" />
<line x1="186.30" y1="325.30" x2="186.30" y2="325.79" stroke="#f2cb28" stroke-width="0.9" />
<line x1="185.70" y1="325.79" x2="188.02" y2="325.79" stroke="#f3c728" stroke-width="0.9" />
<line x1="188.02" y1="325.79" x2="188.02" y2="326.29" stroke="#f3c728" stroke-width="0.9" />
<line x1="187.42" y1="326.29" x2="189.74" y2="326.29" stroke="#f3c228" stroke-width="0.9" />
<line x1="189.74" y1="326.29" x2="189.74" y2="326.78" stroke="#f3c228" stroke-width="0.9" />
<line x1="189.14" y1="326.78" x2="191.46" y2="326.78" stroke="#f4be28" stroke-width="0.9" />
<line x1="191.46" y1="326.78" x2="191.46" y2="327.27" stroke="#f4be28" stroke-width="0.9" />
<line x1="190.86" y1="327.27" x2="193.18" y2="327.27" stroke="#f4b928" stroke-width="0.9" />
<line x1="193.18" y1="327.27" x2="193.18" y2="327.76" stroke="#f4b928" stroke-width="0.9" />
<line x1="192.58" y1="327.76" x2="194.90" y2="327.76" stroke="#f5b528" stroke-width="0.9" />
<line x1="194.90" y1="327.76" x2="194.90" y2="328.26" stroke="#f5b528" stroke-width="0.9" />
<line x1="194.30" y1="328.26" x2="196.62" y2="328.26" stroke="#f4ae29" stroke-width="0.9" />
<line x1="196.62" y1="328.26" x2="196.62" y2="328.75" stroke="#f4ae29" stroke-width="0.9" />
<line x1="196.02" y1="328.75" x2="198.34" y2="328.75" stroke="#f4a62a" stroke-width="0.9" />
<line x1="198.34" y1="328.75" x2="198.34" y2="329.24" stroke="#f4a62a" stroke-width="0.9" />
<line x1="197.74" y1="329.24" x2="200.06" y2="329.24" stroke="#f39e2c" stroke-width="0.9" />
<line x1="200.06" y1="329.24" x2="200.06" y2="329.74" stroke="#f39e2c" stroke-width="0.9" />
<line x1="199.46" y1="329.74" x2="201.78" y2="329.74" stroke="#f3972d" stroke-width="0.9" />
<line x1="201.78" y1="329.74" x2="201.78" y2="330.23" stroke="#f3972d" stroke-width="0.9" />
<line x1="201.18" y1="330.23" x2="203.50" y2="330.23" stroke="#f28f2e" stroke-width="0.9" />
<line x1="203.50" y1="330.23" x2="203.50" y2="330.72" stroke="#f28f2e" stroke-width="0.9" />
<line x1="202.90" y1="330.72" x2="205.22" y2="330.72" stroke="#f1882f" stroke-width="0.9" />
<line x1="205.22" y1="330.72" x2="205.22" y2="331.22" stroke="#f1882f" stroke-width="0.9" />
<line x1="204.62" y1="331.22" x2="206.94" y2="331.22" stroke="#f18031" stroke-width="0.9" />
<line x1="206.94" y1="331.22" x2="206.94" y2="331.71" stroke="#f18031" stroke-width="0.9" />
<line x1="206.34" y1="331.71" x2="208.66" y2="331.71" stroke="#f07932" stroke-width="0.9" />
<line x1="208.66" y1="331.71" x2="208.66" y2="332.12" stroke="#f07932" stroke-width="0.9" />
<line x1="208.06" y1="332.12" x2="210.38" y2="332.12" stroke="#ee7032" stroke-width="0.9" />
<line x1="210.38" y1="332.12" x2="210.38" y2="332.47" stroke="#ee7032" stroke-width="0.9" />
<line x1="209.78" y1="332.47" x2="212.10" y2="332.47" stroke="#ec6732" stroke-width="0.9" />
<line x1="212.10" y1="332.47" x2="212.10" y2="332.83" stroke="#ec6732" stroke-width="0.9" />
<line x1="211.50" y1="332.83" x2="213.82" y2="332.83" stroke="#ea5e32" stroke-width="0.9" />
<line x1="213.82" y1="332.83" x2="213.82" y2="333.18" stroke="#ea5e32" stroke-width="0.9" />
<line x1="213.22" y1="333.18" x2="215.54" y2="333.18" stroke="#e95532" stroke-width="0.9" />
<line x1="215.54" y1="333.18" x2="215.54" y2="333.54" stroke="#e95532" stroke-width="0.9" />
<line x1="214.94" y1="333.54" x2="217.26" y2="333.54" stroke="#e74d32" stroke-width="0.9" />
<line x1="217.26" y1="333.54" x2="217.26" y2="333.89" stroke="#e74d32" stroke-width="0.9" />
<line x1="216.66" y1="333.89" x2="218.98" y2="333.89" stroke="#e54432" stroke-width="0.9" />
<line x1="218.98" y1="333.89" x2="218.98" y2="334.25" stroke="#e54432" stroke-width="0.9" />
<line x1="218.38" y1="334.25" x2="220.70" y2="334.25" stroke="#e33b32" stroke-width="0.9" />
<line x1="220.70" y1="334.25" x2="220.70" y2="334.60" stroke="#e33b32" stroke-width="0.9" />
<line x1="41.50" y1="189.00" x2="41.50" y2="341.80" stroke="#1a1a1a" stroke-width="1.4" />
<line x1="41.00" y1="341.30" x2="229.50" y2="341.30" stroke="#1a1a1a" stroke-width="1.4" />
<line x1="38.50" y1="334.60" x2="41.50" y2="334.60" stroke="#333" stroke-width="0.9" />
<text x="35.50" y="338.05" font-size="9.6" text-anchor="end" font-weight="normal" font-style="normal" fill="#111" font-family='"Liberation Sans", sans-serif' >0</text>
<line x1="38.50" y1="305.40" x2="41.50" y2="305.40" stroke="#333" stroke-width="0.9" />
<text x="35.50" y="308.85" font-size="9.6" text-anchor="end" font-weight="normal" font-style="normal" fill="#111" font-family='"Liberation Sans", sans-serif' >50</text>
<line x1="38.50" y1="276.20" x2="41.50" y2="276.20" stroke="#333" stroke-width="0.9" />
<text x="35.50" y="279.65" font-size="9.6" text-anchor="end" font-weight="normal" font-style="normal" fill="#111" font-family='"Liberation Sans", sans-serif' >100</text>
<line x1="38.50" y1="247.00" x2="41.50" y2="247.00" stroke="#333" stroke-width="0.9" />
<text x="35.50" y="250.45" font-size="9.6" text-anchor="end" font-weight="normal" font-style="normal" fill="#111" font-family='"Liberation Sans", sans-serif' >150</text>
<line x1="38.50" y1="217.80" x2="41.50" y2="217.80" stroke="#333" stroke-width="0.9" />
<text x="35.50" y="221.25" font-size="9.6" text-anchor="end" font-weight="normal" font-style="normal" fill="#111" font-family='"Liberation Sans", sans-serif' >200</text>
<line x1="48.40" y1="341.30" x2="48.40" y2="344.30" stroke="#333" stroke-width="0.9" />
<text x="48.40" y="354.00" font-size="9.6" text-anchor="middle" font-weight="normal" font-style="normal" fill="#111" font-family='"Liberation Sans", sans-serif' >0</text>
<line x1="91.50" y1="341.30" x2="91.50" y2="344.30" stroke="#333" stroke-width="0.9" />
<text x="91.50" y="354.00" font-size="9.6" text-anchor="middle" font-weight="normal" font-style="normal" fill="#111" font-family='"Liberation Sans", sans-serif' >25</text>
<line x1="134.60" y1="341.30" x2="134.60" y2="344.30" stroke="#333" stroke-width="0.9" />
<text x="134.60" y="354.00" font-size="9.6" text-anchor="middle" font-weight="normal" font-style="normal" fill="#111" font-family='"Liberation Sans", sans-serif' >50</text>
<line x1="177.60" y1="341.30" x2="177.60" y2="344.30" stroke="#333" stroke-width="0.9" />
<text x="177.60" y="354.00" font-size="9.6" text-anchor="middle" font-weight="normal" font-style="normal" fill="#111" font-family='"Liberation Sans", sans-serif' >75</text>
<line x1="220.70" y1="341.30" x2="220.70" y2="344.30" stroke="#333" stroke-width="0.9" />
<text x="220.70" y="354.00" font-size="9.6" text-anchor="middle" font-weight="normal" font-style="normal" fill="#111" font-family='"Liberation Sans", sans-serif' >100</text>
<text x="135.20" y="367.30" font-size="9.6" text-anchor="middle" font-weight="normal" font-style="normal" fill="#111" font-family='"Liberation Sans", sans-serif' >Relative position</text>
<text x="14.20" y="264.90" font-size="10.3" text-anchor="middle" font-weight="normal" font-style="normal" fill="#111" font-family='"Liberation Sans", sans-serif' transform="rotate(-90 14.2 264.9)" >mean NFD (residues)</text>
<polygon points="285.5,335.5 293.0,327.0 303.5,312.0 312.0,300.0 325.0,287.0 337.0,276.0 348.0,268.5 360.0,262.0 371.0,257.0 380.0,255.5 388.0,259.5 384.0,263.5 376.5,274.0 368.5,284.0 358.5,294.0 350.5,305.0 341.0,316.0 328.0,324.5 315.0,330.0 303.0,333.5 292.0,335.5" fill="#000" stroke="#000" stroke-width="3.5" stroke-linejoin="round"/>
<circle cx="446.3" cy="199.7" r="2.4" fill="#000"/>
<circle cx="425.8" cy="206.8" r="2.4" fill="#000"/>
<circle cx="406.1" cy="220.0" r="2.4" fill="#000"/>
<circle cx="397.4" cy="227.1" r="2.4" fill="#000"/>
<circle cx="378.0" cy="231.0" r="2.4" fill="#000"/>
<circle cx="373.2" cy="237.6" r="2.4" fill="#000"/>
<circle cx="364.0" cy="243.6" r="2.4" fill="#000"/>
<circle cx="354.8" cy="248.9" r="2.4" fill="#000"/>
<circle cx="383.7" cy="241.8" r="2.4" fill="#000"/>
<circle cx="375.8" cy="244.9" r="2.4" fill="#000"/>
<circle cx="392.9" cy="243.6" r="2.4" fill="#000"/>
<circle cx="396.9" cy="239.7" r="2.4" fill="#000"/>
<circle cx="400.8" cy="241.8" r="2.4" fill="#000"/>
<circle cx="413.9" cy="246.2" r="2.4" fill="#000"/>
<circle cx="417.9" cy="247.5" r="2.4" fill="#000"/>
<circle cx="407.4" cy="250.7" r="2.4" fill="#000"/>
<circle cx="404.7" cy="258.1" r="2.4" fill="#000"/>
<circle cx="428.4" cy="262.8" r="2.4" fill="#000"/>
<circle cx="396.3" cy="264.6" r="2.4" fill="#000"/>
<circle cx="399.5" cy="271.2" r="2.4" fill="#000"/>
<circle cx="391.6" cy="273.8" r="2.4" fill="#000"/>
<circle cx="389.0" cy="279.1" r="2.4" fill="#000"/>
<circle cx="407.4" cy="277.8" r="2.4" fill="#000"/>
<circle cx="406.1" cy="283.8" r="2.4" fill="#000"/>
<circle cx="392.9" cy="294.3" r="2.4" fill="#000"/>
<circle cx="374.5" cy="309.3" r="2.4" fill="#000"/>
<circle cx="377.2" cy="311.9" r="2.4" fill="#000"/>
<circle cx="379.8" cy="310.6" r="2.4" fill="#000"/>
<circle cx="383.7" cy="317.2" r="2.4" fill="#000"/>
<circle cx="374.5" cy="316.4" r="2.4" fill="#000"/>
<circle cx="366.6" cy="316.4" r="2.4" fill="#000"/>
<circle cx="366.6" cy="322.4" r="2.4" fill="#000"/>
<circle cx="360.1" cy="315.9" r="2.4" fill="#000"/>
<circle cx="348.3" cy="323.7" r="2.4" fill="#000"/>
<circle cx="410.0" cy="321.1" r="2.4" fill="#000"/>
<circle cx="430.2" cy="307.5" r="2.4" fill="#000"/>
<circle cx="425.2" cy="314.5" r="2.4" fill="#000"/>
<circle cx="429.7" cy="314.5" r="2.4" fill="#000"/>
<circle cx="319.4" cy="331.6" r="2.4" fill="#000"/>
<circle cx="357.5" cy="310.6" r="2.4" fill="#000"/>
<circle cx="362.7" cy="311.9" r="2.4" fill="#000"/>
<line x1="300.80" y1="193.00" x2="300.80" y2="343.00" stroke="#e8303c" stroke-width="1.1" />
<rect x="299" y="308" width="3.8" height="25.5" rx="1.9" fill="#e8303c"/>
<line x1="276.00" y1="193.00" x2="276.00" y2="343.50" stroke="#1a1a1a" stroke-width="1.4" />
<line x1="275.50" y1="343.00" x2="459.50" y2="343.00" stroke="#1a1a1a" stroke-width="1.4" />
<line x1="272.80" y1="336.80" x2="276.00" y2="336.80" stroke="#333" stroke-width="0.9" />
<text x="267.60" y="340.35" font-size="10.2" text-anchor="end" font-weight="normal" font-style="normal" fill="#111" font-family='"Liberation Sans", sans-serif' >0</text>
<line x1="272.80" y1="299.10" x2="276.00" y2="299.10" stroke="#333" stroke-width="0.9" />
<text x="267.60" y="302.65" font-size="10.2" text-anchor="end" font-weight="normal" font-style="normal" fill="#111" font-family='"Liberation Sans", sans-serif' >50</text>
<line x1="272.80" y1="261.40" x2="276.00" y2="261.40" stroke="#333" stroke-width="0.9" />
<text x="267.60" y="264.95" font-size="10.2" text-anchor="end" font-weight="normal" font-style="normal" fill="#111" font-family='"Liberation Sans", sans-serif' >100</text>
<line x1="272.80" y1="223.80" x2="276.00" y2="223.80" stroke="#333" stroke-width="0.9" />
<text x="267.60" y="227.35" font-size="10.2" text-anchor="end" font-weight="normal" font-style="normal" fill="#111" font-family='"Liberation Sans", sans-serif' >150</text>
<line x1="284.20" y1="343.00" x2="284.20" y2="346.00" stroke="#333" stroke-width="0.9" />
<text x="284.20" y="355.60" font-size="9.6" text-anchor="middle" font-weight="normal" font-style="normal" fill="#111" font-family='"Liberation Sans", sans-serif' >0</text>
<line x1="301.10" y1="343.00" x2="301.10" y2="346.00" stroke="#333" stroke-width="0.9" />
<text x="301.10" y="355.60" font-size="9.6" text-anchor="middle" font-weight="normal" font-style="normal" fill="#111" font-family='"Liberation Sans", sans-serif' >101</text>
<line x1="367.70" y1="343.00" x2="367.70" y2="346.00" stroke="#333" stroke-width="0.9" />
<text x="367.70" y="355.60" font-size="9.6" text-anchor="middle" font-weight="normal" font-style="normal" fill="#111" font-family='"Liberation Sans", sans-serif' >500</text>
<line x1="451.20" y1="343.00" x2="451.20" y2="346.00" stroke="#333" stroke-width="0.9" />
<text x="451.20" y="355.60" font-size="9.6" text-anchor="middle" font-weight="normal" font-style="normal" fill="#111" font-family='"Liberation Sans", sans-serif' >1000</text>
<text x="361.40" y="367.60" font-size="9.6" text-anchor="middle" font-weight="normal" font-style="normal" fill="#111" font-family='"Liberation Sans", sans-serif' >Domain length</text>
<text x="245.60" y="276.50" font-size="9.6" text-anchor="middle" font-weight="normal" font-style="normal" fill="#111" font-family='"Liberation Sans", sans-serif' transform="rotate(-90 245.6 276.5)" >mean NFD (residues)</text>
<text x="285.20" y="210.20" font-size="9.9" text-anchor="start" font-weight="normal" font-style="normal" fill="#111" font-family='"Liberation Sans", sans-serif' >R = 0.89 , p &lt; 2.2e−16</text>
<circle cx="537.7" cy="247.2" r="2.15" fill="#e52532"/>
<circle cx="533.7" cy="257.7" r="2.15" fill="#e52532"/>
<circle cx="532.0" cy="261.7" r="2.15" fill="#e52532"/>
<circle cx="516.8" cy="264.3" r="2.15" fill="#e52532"/>
<circle cx="525.9" cy="267.8" r="2.15" fill="#e52532"/>
<circle cx="513.7" cy="272.8" r="2.15" fill="#e52532"/>
<circle cx="526.8" cy="275.1" r="2.15" fill="#e52532"/>
<circle cx="542.4" cy="274.6" r="2.15" fill="#e52532"/>
<circle cx="541.2" cy="278.1" r="2.15" fill="#e52532"/>
<circle cx="540.7" cy="286.8" r="2.15" fill="#e52532"/>
<circle cx="525.0" cy="289.0" r="2.15" fill="#e52532"/>
<circle cx="524.2" cy="290.2" r="2.15" fill="#e52532"/>
<circle cx="531.5" cy="296.9" r="2.15" fill="#e52532"/>
<circle cx="541.2" cy="303.0" r="2.15" fill="#e52532"/>
<circle cx="540.7" cy="313.4" r="2.15" fill="#e52532"/>
<circle cx="555.5" cy="242.9" r="2.15" fill="#e52532"/>
<circle cx="559.0" cy="241.1" r="2.15" fill="#e52532"/>
<circle cx="560.7" cy="240.3" r="2.15" fill="#e52532"/>
<circle cx="557.3" cy="243.7" r="2.15" fill="#e52532"/>
<circle cx="567.7" cy="242.9" r="2.15" fill="#e52532"/>
<circle cx="567.4" cy="246.4" r="2.15" fill="#e52532"/>
<circle cx="574.7" cy="245.0" r="2.15" fill="#e52532"/>
<circle cx="559.0" cy="247.2" r="2.15" fill="#e52532"/>
<circle cx="572.9" cy="249.0" r="2.15" fill="#e52532"/>
<circle cx="579.0" cy="247.2" r="2.15" fill="#e52532"/>
<circle cx="580.2" cy="249.8" r="2.15" fill="#e52532"/>
<circle cx="581.6" cy="251.6" r="2.15" fill="#e52532"/>
<circle cx="556.9" cy="253.7" r="2.15" fill="#e52532"/>
<circle cx="560.7" cy="252.5" r="2.15" fill="#e52532"/>
<circle cx="564.2" cy="256.8" r="2.15" fill="#e52532"/>
<circle cx="576.1" cy="252.5" r="2.15" fill="#e52532"/>
<circle cx="575.5" cy="258.5" r="2.15" fill="#e52532"/>
<circle cx="566.0" cy="260.6" r="2.15" fill="#e52532"/>
<circle cx="572.1" cy="264.3" r="2.15" fill="#e52532"/>
<circle cx="577.8" cy="265.5" r="2.15" fill="#e52532"/>
<circle cx="583.4" cy="258.2" r="2.15" fill="#e52532"/>
<circle cx="552.0" cy="264.6" r="2.15" fill="#e52532"/>
<circle cx="552.4" cy="267.3" r="2.15" fill="#e52532"/>
<circle cx="565.1" cy="270.4" r="2.15" fill="#e52532"/>
<circle cx="556.4" cy="277.4" r="2.15" fill="#e52532"/>
<circle cx="579.0" cy="277.7" r="2.15" fill="#e52532"/>
<circle cx="563.9" cy="318.8" r="2.15" fill="#e52532"/>
<circle cx="561.1" cy="254.2" r="2.15" fill="#e52532"/>
<circle cx="565.1" cy="259.4" r="2.15" fill="#e52532"/>
<circle cx="557.3" cy="244.6" r="2.15" fill="#e52532"/>
<circle cx="595.8" cy="253.3" r="2.15" fill="#e52532"/>
<circle cx="602.9" cy="262.0" r="2.15" fill="#e52532"/>
<circle cx="612.9" cy="273.0" r="2.15" fill="#e52532"/>
<circle cx="602.9" cy="284.7" r="2.15" fill="#e52532"/>
<circle cx="632.9" cy="236.8" r="2.15" fill="#e52532"/>
<circle cx="646.8" cy="237.6" r="2.15" fill="#e52532"/>
<circle cx="632.9" cy="249.0" r="2.15" fill="#e52532"/>
<circle cx="652.1" cy="248.4" r="2.15" fill="#e52532"/>
<circle cx="630.6" cy="258.9" r="2.15" fill="#e52532"/>
<circle cx="649.5" cy="255.9" r="2.15" fill="#e52532"/>
<circle cx="653.8" cy="254.2" r="2.15" fill="#e52532"/>
<circle cx="654.7" cy="259.9" r="2.15" fill="#e52532"/>
<circle cx="656.8" cy="261.2" r="2.15" fill="#e52532"/>
<circle cx="661.3" cy="264.1" r="2.15" fill="#e52532"/>
<circle cx="634.1" cy="264.6" r="2.15" fill="#e52532"/>
<circle cx="634.6" cy="266.9" r="2.15" fill="#e52532"/>
<circle cx="642.5" cy="263.8" r="2.15" fill="#e52532"/>
<circle cx="645.1" cy="267.3" r="2.15" fill="#e52532"/>
<circle cx="646.0" cy="271.6" r="2.15" fill="#e52532"/>
<circle cx="646.8" cy="273.4" r="2.15" fill="#e52532"/>
<circle cx="640.7" cy="273.4" r="2.15" fill="#e52532"/>
<circle cx="638.1" cy="275.1" r="2.15" fill="#e52532"/>
<circle cx="649.5" cy="275.6" r="2.15" fill="#e52532"/>
<circle cx="632.4" cy="276.8" r="2.15" fill="#e52532"/>
<circle cx="631.7" cy="278.6" r="2.15" fill="#e52532"/>
<circle cx="633.4" cy="279.8" r="2.15" fill="#e52532"/>
<circle cx="653.8" cy="280.3" r="2.15" fill="#e52532"/>
<circle cx="648.1" cy="286.8" r="2.15" fill="#e52532"/>
<circle cx="660.2" cy="291.6" r="2.15" fill="#e52532"/>
<path d="M528.50,222.00 C528.58,223.73 528.57,228.63 529.00,232.40 C529.43,236.17 530.02,240.53 531.10,244.60 C532.18,248.67 534.20,253.02 535.50,256.80 C536.80,260.58 538.18,264.40 538.90,267.30 C539.62,270.20 539.80,271.88 539.80,274.20 C539.80,276.52 539.48,278.00 538.90,281.20 C538.32,284.40 537.30,288.77 536.30,293.40 C535.30,298.03 533.92,304.07 532.90,309.00 C531.88,313.93 530.88,318.93 530.20,323.00 C529.53,327.07 529.13,330.78 528.85,333.40 C528.57,336.02 528.56,337.82 528.50,338.70 C528.44,339.58 528.56,339.58 528.50,338.70 C528.44,337.82 528.43,336.02 528.15,333.40 C527.87,330.78 527.47,327.07 526.80,323.00 C526.12,318.93 525.12,313.93 524.10,309.00 C523.08,304.07 521.70,298.03 520.70,293.40 C519.70,288.77 518.68,284.40 518.10,281.20 C517.52,278.00 517.20,276.52 517.20,274.20 C517.20,271.88 517.38,270.20 518.10,267.30 C518.82,264.40 520.20,260.58 521.50,256.80 C522.80,253.02 524.82,248.67 525.90,244.60 C526.98,240.53 527.57,236.17 528.00,232.40 C528.43,228.63 528.42,223.73 528.50,222.00 C528.58,220.27 528.42,220.27 528.50,222.00 Z" fill="none" stroke="#333" stroke-width="1.25"/>
<path d="M567.70,223.70 C567.75,225.00 567.42,229.18 568.00,231.50 C568.58,233.82 569.50,235.85 571.20,237.60 C572.90,239.35 576.17,240.53 578.20,242.00 C580.23,243.47 582.18,245.10 583.40,246.40 C584.62,247.70 585.35,248.22 585.50,249.80 C585.65,251.38 585.23,253.87 584.30,255.90 C583.37,257.93 581.50,259.53 579.90,262.00 C578.30,264.47 576.30,267.80 574.70,270.70 C573.10,273.60 571.38,276.48 570.30,279.40 C569.22,282.32 568.58,283.27 568.20,288.20 C567.82,293.13 567.93,304.87 568.00,309.00 C568.07,313.13 568.40,311.53 568.60,313.00 C568.80,314.47 569.20,316.30 569.20,317.80 C569.20,319.30 568.80,320.55 568.60,322.00 C568.40,323.45 568.15,324.30 568.00,326.50 C567.85,328.70 567.75,333.75 567.70,335.20 C567.65,336.65 567.75,336.65 567.70,335.20 C567.65,333.75 567.55,328.70 567.40,326.50 C567.25,324.30 567.00,323.45 566.80,322.00 C566.60,320.55 566.20,319.30 566.20,317.80 C566.20,316.30 566.60,314.47 566.80,313.00 C567.00,311.53 567.33,313.13 567.40,309.00 C567.47,304.87 567.58,293.13 567.20,288.20 C566.82,283.27 566.18,282.32 565.10,279.40 C564.02,276.48 562.30,273.60 560.70,270.70 C559.10,267.80 557.10,264.47 555.50,262.00 C553.90,259.53 552.03,257.93 551.10,255.90 C550.17,253.87 549.75,251.38 549.90,249.80 C550.05,248.22 550.78,247.70 552.00,246.40 C553.22,245.10 555.17,243.47 557.20,242.00 C559.23,240.53 562.50,239.35 564.20,237.60 C565.90,235.85 566.82,233.82 567.40,231.50 C567.98,229.18 567.65,225.00 567.70,223.70 C567.75,222.40 567.65,222.40 567.70,223.70 Z" fill="none" stroke="#333" stroke-width="1.25"/>
<path d="M607.10,237.30 C607.17,238.08 606.83,240.35 607.50,242.00 C608.17,243.65 609.48,245.17 611.10,247.20 C612.72,249.23 615.45,251.73 617.20,254.20 C618.95,256.67 620.43,259.38 621.60,262.00 C622.77,264.62 624.20,267.28 624.20,269.90 C624.20,272.52 622.77,275.23 621.60,277.70 C620.43,280.17 618.95,282.23 617.20,284.70 C615.45,287.17 612.70,290.62 611.10,292.50 C609.50,294.38 608.27,294.68 607.60,296.00 C606.93,297.32 607.18,299.67 607.10,300.40 C607.02,301.13 607.18,301.13 607.10,300.40 C607.02,299.67 607.27,297.32 606.60,296.00 C605.93,294.68 604.70,294.38 603.10,292.50 C601.50,290.62 598.75,287.17 597.00,284.70 C595.25,282.23 593.77,280.17 592.60,277.70 C591.43,275.23 590.00,272.52 590.00,269.90 C590.00,267.28 591.43,264.62 592.60,262.00 C593.77,259.38 595.25,256.67 597.00,254.20 C598.75,251.73 601.48,249.23 603.10,247.20 C604.72,245.17 606.03,243.65 606.70,242.00 C607.37,240.35 607.03,238.08 607.10,237.30 C607.17,236.52 607.03,236.52 607.10,237.30 Z" fill="none" stroke="#333" stroke-width="1.25"/>
<path d="M646.30,221.10 C646.35,222.25 646.22,225.25 646.60,228.00 C646.98,230.75 647.83,234.53 648.60,237.60 C649.37,240.67 649.90,243.48 651.20,246.40 C652.50,249.32 654.80,252.63 656.40,255.10 C658.00,257.57 659.78,259.17 660.80,261.20 C661.82,263.23 662.50,264.98 662.50,267.30 C662.50,269.62 661.97,272.63 660.80,275.10 C659.63,277.57 657.10,279.92 655.50,282.10 C653.90,284.28 652.45,285.73 651.20,288.20 C649.95,290.67 648.73,294.60 648.00,296.90 C647.27,299.20 647.08,300.27 646.80,302.00 C646.52,303.73 646.38,306.42 646.30,307.30 C646.22,308.18 646.38,308.18 646.30,307.30 C646.22,306.42 646.08,303.73 645.80,302.00 C645.52,300.27 645.33,299.20 644.60,296.90 C643.87,294.60 642.65,290.67 641.40,288.20 C640.15,285.73 638.70,284.28 637.10,282.10 C635.50,279.92 632.97,277.57 631.80,275.10 C630.63,272.63 630.10,269.62 630.10,267.30 C630.10,264.98 630.78,263.23 631.80,261.20 C632.82,259.17 634.60,257.57 636.20,255.10 C637.80,252.63 640.10,249.32 641.40,246.40 C642.70,243.48 643.23,240.67 644.00,237.60 C644.77,234.53 645.62,230.75 646.00,228.00 C646.38,225.25 646.25,222.25 646.30,221.10 C646.35,219.95 646.25,219.95 646.30,221.10 Z" fill="none" stroke="#333" stroke-width="1.25"/>
<line x1="518.90" y1="278.20" x2="538.10" y2="278.20" stroke="#111" stroke-width="1.2" />
<circle cx="533.7" cy="276.0" r="1.8" fill="#5cb85c"/>
<line x1="558.10" y1="256.50" x2="577.30" y2="256.50" stroke="#111" stroke-width="1.2" />
<circle cx="569.1" cy="253.3" r="1.8" fill="#5cb85c"/>
<line x1="597.20" y1="268.60" x2="617.20" y2="268.60" stroke="#111" stroke-width="1.2" />
<circle cx="608.2" cy="270.7" r="1.8" fill="#5cb85c"/>
<line x1="636.90" y1="266.00" x2="655.50" y2="266.00" stroke="#111" stroke-width="1.2" />
<circle cx="647.2" cy="266.0" r="1.8" fill="#5cb85c"/>
<line x1="505.20" y1="215.60" x2="505.20" y2="344.60" stroke="#1a1a1a" stroke-width="1.4" />
<line x1="504.70" y1="344.10" x2="669.30" y2="344.10" stroke="#1a1a1a" stroke-width="1.4" />
<line x1="502.20" y1="340.50" x2="505.20" y2="340.50" stroke="#333" stroke-width="0.9" />
<text x="499.20" y="343.95" font-size="9.6" text-anchor="end" font-weight="normal" font-style="normal" fill="#111" font-family='"Liberation Sans", sans-serif' >0</text>
<line x1="502.20" y1="310.40" x2="505.20" y2="310.40" stroke="#333" stroke-width="0.9" />
<text x="499.20" y="313.85" font-size="9.6" text-anchor="end" font-weight="normal" font-style="normal" fill="#111" font-family='"Liberation Sans", sans-serif' >10</text>
<line x1="502.20" y1="280.30" x2="505.20" y2="280.30" stroke="#333" stroke-width="0.9" />
<text x="499.20" y="283.75" font-size="9.6" text-anchor="end" font-weight="normal" font-style="normal" fill="#111" font-family='"Liberation Sans", sans-serif' >20</text>
<line x1="502.20" y1="250.20" x2="505.20" y2="250.20" stroke="#333" stroke-width="0.9" />
<text x="499.20" y="253.65" font-size="9.6" text-anchor="end" font-weight="normal" font-style="normal" fill="#111" font-family='"Liberation Sans", sans-serif' >30</text>
<line x1="502.20" y1="220.10" x2="505.20" y2="220.10" stroke="#333" stroke-width="0.9" />
<text x="499.20" y="223.55" font-size="9.6" text-anchor="end" font-weight="normal" font-style="normal" fill="#111" font-family='"Liberation Sans", sans-serif' >40</text>
<line x1="528.30" y1="344.10" x2="528.30" y2="347.10" stroke="#333" stroke-width="0.9" />
<text x="528.30" y="356.20" font-size="9.6" text-anchor="middle" font-weight="normal" font-style="normal" fill="#111" font-family='"Liberation Serif", serif' >α</text>
<line x1="567.60" y1="344.10" x2="567.60" y2="347.10" stroke="#333" stroke-width="0.9" />
<text x="567.60" y="356.20" font-size="9.6" text-anchor="middle" font-weight="normal" font-style="normal" fill="#111" font-family='"Liberation Serif", serif' >β</text>
<line x1="607.60" y1="344.10" x2="607.60" y2="347.10" stroke="#333" stroke-width="0.9" />
<text x="607.60" y="356.20" font-size="9.6" text-anchor="middle" font-weight="normal" font-style="normal" fill="#111" font-family='"Liberation Serif", serif' >α/β</text>
<line x1="647.00" y1="344.10" x2="647.00" y2="347.10" stroke="#333" stroke-width="0.9" />
<text x="647.00" y="356.20" font-size="9.6" text-anchor="middle" font-weight="normal" font-style="normal" fill="#111" font-family='"Liberation Serif", serif' >α+β</text>
<text x="586.00" y="365.60" font-size="9.6" text-anchor="middle" font-weight="normal" font-style="normal" fill="#111" font-family='"Liberation Sans", sans-serif' >SCOP class</text>
<text x="484.50" y="280.60" font-size="9.6" text-anchor="middle" font-weight="normal" font-style="normal" fill="#111" font-family='"Liberation Sans", sans-serif' transform="rotate(-90 484.5 280.6)" >mean NFD (residues)</text>
<line x1="528.30" y1="188.30" x2="646.70" y2="188.30" stroke="#444" stroke-width="0.9" />
<text x="585.80" y="185.30" font-size="9.7" text-anchor="middle" font-weight="normal" font-style="normal" fill="#111" font-family='"Liberation Sans", sans-serif' >0.023</text>
<line x1="568.20" y1="205.20" x2="646.70" y2="205.20" stroke="#444" stroke-width="0.9" />
<text x="607.40" y="202.20" font-size="9.7" text-anchor="middle" font-weight="normal" font-style="normal" fill="#111" font-family='"Liberation Sans", sans-serif' >0.000057</text>
<line x1="528.30" y1="218.30" x2="564.70" y2="218.30" stroke="#444" stroke-width="0.9" />
<text x="547.00" y="215.30" font-size="9.7" text-anchor="middle" font-weight="normal" font-style="normal" fill="#111" font-family='"Liberation Sans", sans-serif' >2.2e-5</text>
<line x1="568.20" y1="218.30" x2="607.80" y2="218.30" stroke="#444" stroke-width="0.9" />
<text x="587.40" y="215.30" font-size="9.7" text-anchor="middle" font-weight="normal" font-style="normal" fill="#111" font-family='"Liberation Sans", sans-serif' >0.031</text>
<rect x="32.2" y="394.4" width="159.4" height="15" fill="#5eb55e" stroke="#000" stroke-width="1.5"/>
<text x="112.50" y="405.30" font-size="9.6" text-anchor="middle" font-weight="normal" font-style="normal" fill="#111" font-family='"Liberation Sans", sans-serif' >d2yvea2</text>
<text x="133.3" y="405.6" font-size="10.5" text-anchor="start" fill="#222" font-family='"Liberation Serif", serif'>(α)</text>
<line x1="31.50" y1="533.30" x2="192.30" y2="533.30" stroke="#1a1a1a" stroke-width="1.4" />
<line x1="37.80" y1="533.30" x2="37.80" y2="536.30" stroke="#333" stroke-width="0.9" />
<text x="37.80" y="544.50" font-size="9.6" text-anchor="middle" font-weight="normal" font-style="normal" fill="#111" font-family='"Liberation Sans", sans-serif' >0</text>
<line x1="74.11" y1="533.30" x2="74.11" y2="536.30" stroke="#333" stroke-width="0.9" />
<text x="74.11" y="544.50" font-size="9.6" text-anchor="middle" font-weight="normal" font-style="normal" fill="#111" font-family='"Liberation Sans", sans-serif' >25</text>
<line x1="110.42" y1="533.30" x2="110.42" y2="536.30" stroke="#333" stroke-width="0.9" />
<text x="110.42" y="544.50" font-size="9.6" text-anchor="middle" font-weight="normal" font-style="normal" fill="#111" font-family='"Liberation Sans", sans-serif' >50</text>
<line x1="146.74" y1="533.30" x2="146.74" y2="536.30" stroke="#333" stroke-width="0.9" />
<text x="146.74" y="544.50" font-size="9.6" text-anchor="middle" font-weight="normal" font-style="normal" fill="#111" font-family='"Liberation Sans", sans-serif' >75</text>
<line x1="183.05" y1="533.30" x2="183.05" y2="536.30" stroke="#333" stroke-width="0.9" />
<text x="183.05" y="544.50" font-size="9.6" text-anchor="middle" font-weight="normal" font-style="normal" fill="#111" font-family='"Liberation Sans", sans-serif' >100</text>
<rect x="195.9" y="394.4" width="159.8" height="15" fill="#5eb55e" stroke="#000" stroke-width="1.5"/>
<text x="277.30" y="405.30" font-size="9.6" text-anchor="middle" font-weight="normal" font-style="normal" fill="#111" font-family='"Liberation Sans", sans-serif' >d4qmea3</text>
<text x="302.8" y="405.6" font-size="10.5" text-anchor="start" fill="#222" font-family='"Liberation Serif", serif'>(β)</text>
<line x1="195.20" y1="533.30" x2="356.40" y2="533.30" stroke="#1a1a1a" stroke-width="1.4" />
<line x1="201.50" y1="533.30" x2="201.50" y2="536.30" stroke="#333" stroke-width="0.9" />
<text x="201.50" y="544.50" font-size="9.6" text-anchor="middle" font-weight="normal" font-style="normal" fill="#111" font-family='"Liberation Sans", sans-serif' >0</text>
<line x1="237.81" y1="533.30" x2="237.81" y2="536.30" stroke="#333" stroke-width="0.9" />
<text x="237.81" y="544.50" font-size="9.6" text-anchor="middle" font-weight="normal" font-style="normal" fill="#111" font-family='"Liberation Sans", sans-serif' >25</text>
<line x1="274.12" y1="533.30" x2="274.12" y2="536.30" stroke="#333" stroke-width="0.9" />
<text x="274.12" y="544.50" font-size="9.6" text-anchor="middle" font-weight="normal" font-style="normal" fill="#111" font-family='"Liberation Sans", sans-serif' >50</text>
<line x1="310.44" y1="533.30" x2="310.44" y2="536.30" stroke="#333" stroke-width="0.9" />
<text x="310.44" y="544.50" font-size="9.6" text-anchor="middle" font-weight="normal" font-style="normal" fill="#111" font-family='"Liberation Sans", sans-serif' >75</text>
<line x1="346.75" y1="533.30" x2="346.75" y2="536.30" stroke="#333" stroke-width="0.9" />
<text x="346.75" y="544.50" font-size="9.6" text-anchor="middle" font-weight="normal" font-style="normal" fill="#111" font-family='"Liberation Sans", sans-serif' >100</text>
<rect x="360.0" y="394.4" width="159.6" height="15" fill="#5eb55e" stroke="#000" stroke-width="1.5"/>
<text x="434.00" y="405.30" font-size="9.6" text-anchor="middle" font-weight="normal" font-style="normal" fill="#111" font-family='"Liberation Sans", sans-serif' >d1m2da_</text>
<text x="456.2" y="405.6" font-size="10.5" text-anchor="start" fill="#222" font-family='"Liberation Serif", serif'>(α/β)</text>
<line x1="359.30" y1="533.30" x2="520.30" y2="533.30" stroke="#1a1a1a" stroke-width="1.4" />
<line x1="365.60" y1="533.30" x2="365.60" y2="536.30" stroke="#333" stroke-width="0.9" />
<text x="365.60" y="544.50" font-size="9.6" text-anchor="middle" font-weight="normal" font-style="normal" fill="#111" font-family='"Liberation Sans", sans-serif' >0</text>
<line x1="401.91" y1="533.30" x2="401.91" y2="536.30" stroke="#333" stroke-width="0.9" />
<text x="401.91" y="544.50" font-size="9.6" text-anchor="middle" font-weight="normal" font-style="normal" fill="#111" font-family='"Liberation Sans", sans-serif' >25</text>
<line x1="438.23" y1="533.30" x2="438.23" y2="536.30" stroke="#333" stroke-width="0.9" />
<text x="438.23" y="544.50" font-size="9.6" text-anchor="middle" font-weight="normal" font-style="normal" fill="#111" font-family='"Liberation Sans", sans-serif' >50</text>
<line x1="474.54" y1="533.30" x2="474.54" y2="536.30" stroke="#333" stroke-width="0.9" />
<text x="474.54" y="544.50" font-size="9.6" text-anchor="middle" font-weight="normal" font-style="normal" fill="#111" font-family='"Liberation Sans", sans-serif' >75</text>
<line x1="510.85" y1="533.30" x2="510.85" y2="536.30" stroke="#333" stroke-width="0.9" />
<text x="510.85" y="544.50" font-size="9.6" text-anchor="middle" font-weight="normal" font-style="normal" fill="#111" font-family='"Liberation Sans", sans-serif' >100</text>
<rect x="525.0" y="394.4" width="158.7" height="15" fill="#5eb55e" stroke="#000" stroke-width="1.5"/>
<text x="599.00" y="405.30" font-size="9.6" text-anchor="middle" font-weight="normal" font-style="normal" fill="#111" font-family='"Liberation Sans", sans-serif' >d2ejea1</text>
<text x="618.2" y="405.6" font-size="10.5" text-anchor="start" fill="#222" font-family='"Liberation Serif", serif'>(α+β)</text>
<line x1="524.30" y1="533.30" x2="684.40" y2="533.30" stroke="#1a1a1a" stroke-width="1.4" />
<line x1="530.60" y1="533.30" x2="530.60" y2="536.30" stroke="#333" stroke-width="0.9" />
<text x="530.60" y="544.50" font-size="9.6" text-anchor="middle" font-weight="normal" font-style="normal" fill="#111" font-family='"Liberation Sans", sans-serif' >0</text>
<line x1="566.91" y1="533.30" x2="566.91" y2="536.30" stroke="#333" stroke-width="0.9" />
<text x="566.91" y="544.50" font-size="9.6" text-anchor="middle" font-weight="normal" font-style="normal" fill="#111" font-family='"Liberation Sans", sans-serif' >25</text>
<line x1="603.22" y1="533.30" x2="603.22" y2="536.30" stroke="#333" stroke-width="0.9" />
<text x="603.22" y="544.50" font-size="9.6" text-anchor="middle" font-weight="normal" font-style="normal" fill="#111" font-family='"Liberation Sans", sans-serif' >50</text>
<line x1="639.54" y1="533.30" x2="639.54" y2="536.30" stroke="#333" stroke-width="0.9" />
<text x="639.54" y="544.50" font-size="9.6" text-anchor="middle" font-weight="normal" font-style="normal" fill="#111" font-family='"Liberation Sans", sans-serif' >75</text>
<line x1="675.85" y1="533.30" x2="675.85" y2="536.30" stroke="#333" stroke-width="0.9" />
<text x="675.85" y="544.50" font-size="9.6" text-anchor="middle" font-weight="normal" font-style="normal" fill="#111" font-family='"Liberation Sans", sans-serif' >100</text>
<line x1="31.90" y1="410.00" x2="31.90" y2="533.80" stroke="#333" stroke-width="0.9" />
<line x1="28.90" y1="528.20" x2="31.90" y2="528.20" stroke="#333" stroke-width="0.9" />
<text x="25.90" y="531.65" font-size="9.6" text-anchor="end" font-weight="normal" font-style="normal" fill="#111" font-family='"Liberation Sans", sans-serif' >0</text>
<line x1="28.90" y1="499.40" x2="31.90" y2="499.40" stroke="#333" stroke-width="0.9" />
<text x="25.90" y="502.85" font-size="9.6" text-anchor="end" font-weight="normal" font-style="normal" fill="#111" font-family='"Liberation Sans", sans-serif' >25</text>
<line x1="28.90" y1="470.60" x2="31.90" y2="470.60" stroke="#333" stroke-width="0.9" />
<text x="25.90" y="474.05" font-size="9.6" text-anchor="end" font-weight="normal" font-style="normal" fill="#111" font-family='"Liberation Sans", sans-serif' >50</text>
<line x1="28.90" y1="441.70" x2="31.90" y2="441.70" stroke="#333" stroke-width="0.9" />
<text x="25.90" y="445.15" font-size="9.6" text-anchor="end" font-weight="normal" font-style="normal" fill="#111" font-family='"Liberation Sans", sans-serif' >75</text>
<line x1="28.90" y1="412.90" x2="31.90" y2="412.90" stroke="#333" stroke-width="0.9" />
<text x="25.90" y="416.35" font-size="9.6" text-anchor="end" font-weight="normal" font-style="normal" fill="#111" font-family='"Liberation Sans", sans-serif' >100</text>
<text x="365.80" y="556.30" font-size="9.6" text-anchor="middle" font-weight="normal" font-style="normal" fill="#111" font-family='"Liberation Sans", sans-serif' >Position in sequence</text>
<text x="6.80" y="468.20" font-size="9.7" text-anchor="middle" font-weight="normal" font-style="normal" fill="#111" font-family='"Liberation Sans", sans-serif' transform="rotate(-90 6.8 468.2)" >Native Fold Delay (residues)</text>
<line x1="39.2" y1="522.3" x2="42.5" y2="522.0" stroke="#4055a9" stroke-width="1.5" stroke-linecap="round"/>
<line x1="42.5" y1="522.0" x2="43.6" y2="416.0" stroke="#4159ad" stroke-width="1.5" stroke-linecap="round"/>
<line x1="43.6" y1="416.0" x2="44.9" y2="479.6" stroke="#425baf" stroke-width="1.5" stroke-linecap="round"/>
<line x1="44.9" y1="479.6" x2="46.5" y2="480.4" stroke="#425eb2" stroke-width="1.5" stroke-linecap="round"/>
<line x1="46.5" y1="480.4" x2="47.8" y2="420.9" stroke="#4360b4" stroke-width="1.5" stroke-linecap="round"/>
<line x1="47.8" y1="420.9" x2="49.4" y2="422.5" stroke="#4463b7" stroke-width="1.5" stroke-linecap="round"/>
<line x1="49.4" y1="422.5" x2="51.0" y2="428.1" stroke="#4565ba" stroke-width="1.5" stroke-linecap="round"/>
<line x1="51.0" y1="428.1" x2="52.4" y2="459.5" stroke="#4668bd" stroke-width="1.5" stroke-linecap="round"/>
<line x1="52.4" y1="459.5" x2="53.7" y2="426.5" stroke="#466cc0" stroke-width="1.5" stroke-linecap="round"/>
<line x1="53.7" y1="426.5" x2="55.3" y2="430.5" stroke="#4673c3" stroke-width="1.5" stroke-linecap="round"/>
<line x1="55.3" y1="430.5" x2="56.6" y2="458.7" stroke="#4679c7" stroke-width="1.5" stroke-linecap="round"/>
<line x1="56.6" y1="458.7" x2="57.8" y2="444.2" stroke="#467fca" stroke-width="1.5" stroke-linecap="round"/>
<line x1="57.8" y1="444.2" x2="59.7" y2="439.4" stroke="#4685ce" stroke-width="1.5" stroke-linecap="round"/>
<line x1="59.7" y1="439.4" x2="61.5" y2="445.0" stroke="#468ed2" stroke-width="1.5" stroke-linecap="round"/>
<line x1="61.5" y1="445.0" x2="62.6" y2="445.8" stroke="#4694d6" stroke-width="1.5" stroke-linecap="round"/>
<line x1="62.6" y1="445.8" x2="63.9" y2="459.5" stroke="#4599d8" stroke-width="1.5" stroke-linecap="round"/>
<line x1="63.9" y1="459.5" x2="68.2" y2="463.5" stroke="#43a2da" stroke-width="1.5" stroke-linecap="round"/>
<line x1="68.2" y1="463.5" x2="69.3" y2="467.5" stroke="#40acdd" stroke-width="1.5" stroke-linecap="round"/>
<line x1="69.3" y1="467.5" x2="70.6" y2="465.9" stroke="#3fb0de" stroke-width="1.5" stroke-linecap="round"/>
<line x1="70.6" y1="465.9" x2="72.6" y2="521.5" stroke="#3db5e0" stroke-width="1.5" stroke-linecap="round"/>
<line x1="72.6" y1="521.5" x2="75.1" y2="474.0" stroke="#3db8db" stroke-width="1.5" stroke-linecap="round"/>
<line x1="75.1" y1="474.0" x2="77.1" y2="523.1" stroke="#3fb7d0" stroke-width="1.5" stroke-linecap="round"/>
<line x1="77.1" y1="523.1" x2="80.0" y2="516.6" stroke="#42b5c4" stroke-width="1.5" stroke-linecap="round"/>
<line x1="80.0" y1="516.6" x2="82.7" y2="522.3" stroke="#45b3b6" stroke-width="1.5" stroke-linecap="round"/>
<line x1="82.7" y1="522.3" x2="89.9" y2="522.3" stroke="#49b1a0" stroke-width="1.5" stroke-linecap="round"/>
<line x1="89.9" y1="522.3" x2="93.2" y2="523.4" stroke="#4faf88" stroke-width="1.5" stroke-linecap="round"/>
<line x1="93.2" y1="523.4" x2="95.6" y2="522.0" stroke="#52af7e" stroke-width="1.5" stroke-linecap="round"/>
<line x1="95.6" y1="522.0" x2="101.2" y2="522.3" stroke="#57af72" stroke-width="1.5" stroke-linecap="round"/>
<line x1="101.2" y1="522.3" x2="102.8" y2="525.5" stroke="#5caf67" stroke-width="1.5" stroke-linecap="round"/>
<line x1="102.8" y1="525.5" x2="104.8" y2="505.0" stroke="#5eaf61" stroke-width="1.5" stroke-linecap="round"/>
<line x1="104.8" y1="505.0" x2="107.5" y2="507.2" stroke="#62b15c" stroke-width="1.5" stroke-linecap="round"/>
<line x1="107.5" y1="507.2" x2="110.0" y2="513.4" stroke="#66b358" stroke-width="1.5" stroke-linecap="round"/>
<line x1="110.0" y1="513.4" x2="112.4" y2="518.3" stroke="#6ab654" stroke-width="1.5" stroke-linecap="round"/>
<line x1="112.4" y1="518.3" x2="114.7" y2="516.5" stroke="#6eb850" stroke-width="1.5" stroke-linecap="round"/>
<line x1="114.7" y1="516.5" x2="116.8" y2="520.8" stroke="#72ba4c" stroke-width="1.5" stroke-linecap="round"/>
<line x1="116.8" y1="520.8" x2="120.5" y2="522.0" stroke="#77bd47" stroke-width="1.5" stroke-linecap="round"/>
<line x1="120.5" y1="522.0" x2="121.8" y2="479.9" stroke="#83c143" stroke-width="1.5" stroke-linecap="round"/>
<line x1="121.8" y1="479.9" x2="123.6" y2="522.0" stroke="#8cc441" stroke-width="1.5" stroke-linecap="round"/>
<line x1="123.6" y1="522.0" x2="126.3" y2="483.0" stroke="#98c83e" stroke-width="1.5" stroke-linecap="round"/>
<line x1="126.3" y1="483.0" x2="128.0" y2="484.8" stroke="#a4cc3b" stroke-width="1.5" stroke-linecap="round"/>
<line x1="128.0" y1="484.8" x2="129.2" y2="519.6" stroke="#acce39" stroke-width="1.5" stroke-linecap="round"/>
<line x1="129.2" y1="519.6" x2="131.7" y2="487.3" stroke="#b6d136" stroke-width="1.5" stroke-linecap="round"/>
<line x1="131.7" y1="487.3" x2="132.9" y2="489.8" stroke="#c0d534" stroke-width="1.5" stroke-linecap="round"/>
<line x1="132.9" y1="489.8" x2="134.8" y2="522.0" stroke="#c9d732" stroke-width="1.5" stroke-linecap="round"/>
<line x1="134.8" y1="522.0" x2="136.6" y2="493.5" stroke="#cfd930" stroke-width="1.5" stroke-linecap="round"/>
<line x1="136.6" y1="493.5" x2="137.9" y2="496.0" stroke="#d4da2f" stroke-width="1.5" stroke-linecap="round"/>
<line x1="137.9" y1="496.0" x2="139.1" y2="522.0" stroke="#d9db2e" stroke-width="1.5" stroke-linecap="round"/>
<line x1="139.1" y1="522.0" x2="142.0" y2="501.6" stroke="#e0dd2c" stroke-width="1.5" stroke-linecap="round"/>
<line x1="142.0" y1="501.6" x2="144.5" y2="510.9" stroke="#e9df2a" stroke-width="1.5" stroke-linecap="round"/>
<line x1="144.5" y1="510.9" x2="147.8" y2="514.0" stroke="#f0de28" stroke-width="1.5" stroke-linecap="round"/>
<line x1="147.8" y1="514.0" x2="149.7" y2="524.5" stroke="#f1d628" stroke-width="1.5" stroke-linecap="round"/>
<line x1="149.7" y1="524.5" x2="152.2" y2="524.5" stroke="#f2cf28" stroke-width="1.5" stroke-linecap="round"/>
<line x1="152.2" y1="524.5" x2="154.0" y2="525.1" stroke="#f3c928" stroke-width="1.5" stroke-linecap="round"/>
<line x1="154.0" y1="525.1" x2="157.7" y2="518.9" stroke="#f4c028" stroke-width="1.5" stroke-linecap="round"/>
<line x1="157.7" y1="518.9" x2="159.6" y2="522.0" stroke="#f5b828" stroke-width="1.5" stroke-linecap="round"/>
<line x1="159.6" y1="522.0" x2="173.2" y2="522.0" stroke="#f2922e" stroke-width="1.5" stroke-linecap="round"/>
<line x1="173.2" y1="522.0" x2="179.4" y2="525.1" stroke="#ea5b32" stroke-width="1.5" stroke-linecap="round"/>
<line x1="179.4" y1="525.1" x2="183.8" y2="527.6" stroke="#e33b32" stroke-width="1.5" stroke-linecap="round"/>
<line x1="203.2" y1="497.3" x2="204.9" y2="431.3" stroke="#3f54a8" stroke-width="1.5" stroke-linecap="round"/>
<line x1="204.9" y1="431.3" x2="207.3" y2="432.1" stroke="#4158ac" stroke-width="1.5" stroke-linecap="round"/>
<line x1="207.3" y1="432.1" x2="212.1" y2="431.6" stroke="#435eb2" stroke-width="1.5" stroke-linecap="round"/>
<line x1="212.1" y1="431.6" x2="216.9" y2="432.1" stroke="#4566bb" stroke-width="1.5" stroke-linecap="round"/>
<line x1="216.9" y1="432.1" x2="219.3" y2="430.5" stroke="#4672c3" stroke-width="1.5" stroke-linecap="round"/>
<line x1="219.3" y1="430.5" x2="222.6" y2="522.3" stroke="#467fca" stroke-width="1.5" stroke-linecap="round"/>
<line x1="222.6" y1="522.3" x2="224.2" y2="469.9" stroke="#468ad0" stroke-width="1.5" stroke-linecap="round"/>
<line x1="224.2" y1="469.9" x2="225.8" y2="467.5" stroke="#4691d4" stroke-width="1.5" stroke-linecap="round"/>
<line x1="225.8" y1="467.5" x2="226.9" y2="467.5" stroke="#4697d7" stroke-width="1.5" stroke-linecap="round"/>
<line x1="226.9" y1="467.5" x2="228.2" y2="436.1" stroke="#459bd8" stroke-width="1.5" stroke-linecap="round"/>
<line x1="228.2" y1="436.1" x2="230.6" y2="439.4" stroke="#43a1da" stroke-width="1.5" stroke-linecap="round"/>
<line x1="230.6" y1="439.4" x2="232.2" y2="477.2" stroke="#41a8dc" stroke-width="1.5" stroke-linecap="round"/>
<line x1="232.2" y1="477.2" x2="233.8" y2="461.9" stroke="#3fadde" stroke-width="1.5" stroke-linecap="round"/>
<line x1="233.8" y1="461.9" x2="237.9" y2="460.3" stroke="#3db7e0" stroke-width="1.5" stroke-linecap="round"/>
<line x1="237.9" y1="460.3" x2="241.9" y2="460.3" stroke="#3fb7d0" stroke-width="1.5" stroke-linecap="round"/>
<line x1="241.9" y1="460.3" x2="244.3" y2="464.3" stroke="#43b4c0" stroke-width="1.5" stroke-linecap="round"/>
<line x1="244.3" y1="464.3" x2="248.3" y2="468.3" stroke="#46b2b0" stroke-width="1.5" stroke-linecap="round"/>
<line x1="248.3" y1="468.3" x2="251.0" y2="460.3" stroke="#49b1a1" stroke-width="1.5" stroke-linecap="round"/>
<line x1="251.0" y1="460.3" x2="252.7" y2="474.8" stroke="#4bb097" stroke-width="1.5" stroke-linecap="round"/>
<line x1="252.7" y1="474.8" x2="254.3" y2="460.3" stroke="#4db090" stroke-width="1.5" stroke-linecap="round"/>
<line x1="254.3" y1="460.3" x2="256.4" y2="463.5" stroke="#4faf88" stroke-width="1.5" stroke-linecap="round"/>
<line x1="256.4" y1="463.5" x2="258.8" y2="524.7" stroke="#51af7f" stroke-width="1.5" stroke-linecap="round"/>
<line x1="258.8" y1="524.7" x2="261.2" y2="486.0" stroke="#54af78" stroke-width="1.5" stroke-linecap="round"/>
<line x1="261.2" y1="486.0" x2="263.3" y2="521.5" stroke="#57af71" stroke-width="1.5" stroke-linecap="round"/>
<line x1="263.3" y1="521.5" x2="264.9" y2="503.8" stroke="#5aaf6c" stroke-width="1.5" stroke-linecap="round"/>
<line x1="264.9" y1="503.8" x2="266.0" y2="523.1" stroke="#5baf68" stroke-width="1.5" stroke-linecap="round"/>
<line x1="266.0" y1="523.1" x2="268.1" y2="501.3" stroke="#5daf63" stroke-width="1.5" stroke-linecap="round"/>
<line x1="268.1" y1="501.3" x2="270.4" y2="492.5" stroke="#61b05d" stroke-width="1.5" stroke-linecap="round"/>
<line x1="270.4" y1="492.5" x2="271.2" y2="505.3" stroke="#63b25b" stroke-width="1.5" stroke-linecap="round"/>
<line x1="271.2" y1="505.3" x2="272.7" y2="492.3" stroke="#65b359" stroke-width="1.5" stroke-linecap="round"/>
<line x1="272.7" y1="492.3" x2="275.0" y2="509.6" stroke="#69b555" stroke-width="1.5" stroke-linecap="round"/>
<line x1="275.0" y1="509.6" x2="278.7" y2="517.7" stroke="#6eb850" stroke-width="1.5" stroke-linecap="round"/>
<line x1="278.7" y1="517.7" x2="281.8" y2="520.8" stroke="#74bb4a" stroke-width="1.5" stroke-linecap="round"/>
<line x1="281.8" y1="520.8" x2="283.0" y2="525.1" stroke="#77be47" stroke-width="1.5" stroke-linecap="round"/>
<line x1="283.0" y1="525.1" x2="285.5" y2="523.9" stroke="#80c044" stroke-width="1.5" stroke-linecap="round"/>
<line x1="285.5" y1="523.9" x2="288.0" y2="525.1" stroke="#8ec541" stroke-width="1.5" stroke-linecap="round"/>
<line x1="288.0" y1="525.1" x2="294.2" y2="525.1" stroke="#a5cc3b" stroke-width="1.5" stroke-linecap="round"/>
<line x1="294.2" y1="525.1" x2="296.3" y2="513.4" stroke="#bcd335" stroke-width="1.5" stroke-linecap="round"/>
<line x1="296.3" y1="513.4" x2="297.5" y2="525.1" stroke="#c5d633" stroke-width="1.5" stroke-linecap="round"/>
<line x1="297.5" y1="525.1" x2="299.2" y2="493.5" stroke="#cbd831" stroke-width="1.5" stroke-linecap="round"/>
<line x1="299.2" y1="493.5" x2="300.8" y2="525.1" stroke="#d1d930" stroke-width="1.5" stroke-linecap="round"/>
<line x1="300.8" y1="525.1" x2="302.3" y2="494.7" stroke="#d6db2e" stroke-width="1.5" stroke-linecap="round"/>
<line x1="302.3" y1="494.7" x2="304.1" y2="496.0" stroke="#dcdc2d" stroke-width="1.5" stroke-linecap="round"/>
<line x1="304.1" y1="496.0" x2="306.2" y2="494.7" stroke="#e3de2b" stroke-width="1.5" stroke-linecap="round"/>
<line x1="306.2" y1="494.7" x2="309.1" y2="499.7" stroke="#ebe029" stroke-width="1.5" stroke-linecap="round"/>
<line x1="309.1" y1="499.7" x2="311.0" y2="499.7" stroke="#f0de28" stroke-width="1.5" stroke-linecap="round"/>
<line x1="311.0" y1="499.7" x2="314.0" y2="506.5" stroke="#f1d628" stroke-width="1.5" stroke-linecap="round"/>
<line x1="314.0" y1="506.5" x2="317.2" y2="512.1" stroke="#f2cd28" stroke-width="1.5" stroke-linecap="round"/>
<line x1="317.2" y1="512.1" x2="325.2" y2="525.1" stroke="#f4bb28" stroke-width="1.5" stroke-linecap="round"/>
<line x1="325.2" y1="525.1" x2="344.5" y2="525.1" stroke="#f07932" stroke-width="1.5" stroke-linecap="round"/>
<line x1="344.5" y1="525.1" x2="348.2" y2="527.6" stroke="#e23432" stroke-width="1.5" stroke-linecap="round"/>
<line x1="367.2" y1="450.6" x2="368.9" y2="425.7" stroke="#3f54a8" stroke-width="1.5" stroke-linecap="round"/>
<line x1="368.9" y1="425.7" x2="370.5" y2="453.9" stroke="#4057ab" stroke-width="1.5" stroke-linecap="round"/>
<line x1="370.5" y1="453.9" x2="372.1" y2="431.3" stroke="#415aae" stroke-width="1.5" stroke-linecap="round"/>
<line x1="372.1" y1="431.3" x2="373.7" y2="457.9" stroke="#425db1" stroke-width="1.5" stroke-linecap="round"/>
<line x1="373.7" y1="457.9" x2="376.1" y2="463.5" stroke="#4360b4" stroke-width="1.5" stroke-linecap="round"/>
<line x1="376.1" y1="463.5" x2="378.0" y2="477.2" stroke="#4464b8" stroke-width="1.5" stroke-linecap="round"/>
<line x1="378.0" y1="477.2" x2="379.3" y2="478.0" stroke="#4566bb" stroke-width="1.5" stroke-linecap="round"/>
<line x1="379.3" y1="478.0" x2="380.9" y2="510.2" stroke="#4669be" stroke-width="1.5" stroke-linecap="round"/>
<line x1="380.9" y1="510.2" x2="385.0" y2="523.9" stroke="#4676c5" stroke-width="1.5" stroke-linecap="round"/>
<line x1="385.0" y1="523.9" x2="386.6" y2="523.9" stroke="#4682cc" stroke-width="1.5" stroke-linecap="round"/>
<line x1="386.6" y1="523.9" x2="388.2" y2="479.6" stroke="#4689d0" stroke-width="1.5" stroke-linecap="round"/>
<line x1="388.2" y1="479.6" x2="389.5" y2="519.0" stroke="#4690d3" stroke-width="1.5" stroke-linecap="round"/>
<line x1="389.5" y1="519.0" x2="390.9" y2="481.2" stroke="#4696d7" stroke-width="1.5" stroke-linecap="round"/>
<line x1="390.9" y1="481.2" x2="393.0" y2="482.8" stroke="#449cd9" stroke-width="1.5" stroke-linecap="round"/>
<line x1="393.0" y1="482.8" x2="395.1" y2="480.4" stroke="#42a3db" stroke-width="1.5" stroke-linecap="round"/>
<line x1="395.1" y1="480.4" x2="396.2" y2="482.8" stroke="#41a8dc" stroke-width="1.5" stroke-linecap="round"/>
<line x1="396.2" y1="482.8" x2="398.3" y2="523.9" stroke="#3faede" stroke-width="1.5" stroke-linecap="round"/>
<line x1="398.3" y1="523.9" x2="399.9" y2="467.5" stroke="#3db4e0" stroke-width="1.5" stroke-linecap="round"/>
<line x1="399.9" y1="467.5" x2="402.2" y2="468.3" stroke="#3db9de" stroke-width="1.5" stroke-linecap="round"/>
<line x1="402.2" y1="468.3" x2="403.8" y2="521.5" stroke="#3eb7d5" stroke-width="1.5" stroke-linecap="round"/>
<line x1="403.8" y1="521.5" x2="405.9" y2="467.5" stroke="#40b6cb" stroke-width="1.5" stroke-linecap="round"/>
<line x1="405.9" y1="467.5" x2="408.3" y2="469.1" stroke="#43b4c0" stroke-width="1.5" stroke-linecap="round"/>
<line x1="408.3" y1="469.1" x2="409.9" y2="521.5" stroke="#44b3b7" stroke-width="1.5" stroke-linecap="round"/>
<line x1="409.9" y1="521.5" x2="412.3" y2="463.5" stroke="#46b2ad" stroke-width="1.5" stroke-linecap="round"/>
<line x1="412.3" y1="463.5" x2="415.5" y2="521.5" stroke="#49b1a1" stroke-width="1.5" stroke-linecap="round"/>
<line x1="415.5" y1="521.5" x2="418.3" y2="468.3" stroke="#4cb093" stroke-width="1.5" stroke-linecap="round"/>
<line x1="418.3" y1="468.3" x2="421.2" y2="524.7" stroke="#4faf87" stroke-width="1.5" stroke-linecap="round"/>
<line x1="421.2" y1="524.7" x2="423.1" y2="470.8" stroke="#52af7e" stroke-width="1.5" stroke-linecap="round"/>
<line x1="423.1" y1="470.8" x2="424.7" y2="521.5" stroke="#54af79" stroke-width="1.5" stroke-linecap="round"/>
<line x1="424.7" y1="521.5" x2="426.3" y2="473.2" stroke="#56af74" stroke-width="1.5" stroke-linecap="round"/>
<line x1="426.3" y1="473.2" x2="429.5" y2="524.7" stroke="#59af6d" stroke-width="1.5" stroke-linecap="round"/>
<line x1="429.5" y1="524.7" x2="432.1" y2="478.0" stroke="#5daf64" stroke-width="1.5" stroke-linecap="round"/>
<line x1="432.1" y1="478.0" x2="434.4" y2="524.7" stroke="#60b05e" stroke-width="1.5" stroke-linecap="round"/>
<line x1="434.4" y1="524.7" x2="436.2" y2="482.3" stroke="#64b25a" stroke-width="1.5" stroke-linecap="round"/>
<line x1="436.2" y1="482.3" x2="437.5" y2="525.1" stroke="#67b457" stroke-width="1.5" stroke-linecap="round"/>
<line x1="437.5" y1="525.1" x2="440.0" y2="524.3" stroke="#6ab654" stroke-width="1.5" stroke-linecap="round"/>
<line x1="440.0" y1="524.3" x2="443.1" y2="523.3" stroke="#6fb84f" stroke-width="1.5" stroke-linecap="round"/>
<line x1="443.1" y1="523.3" x2="444.7" y2="508.4" stroke="#73bb4b" stroke-width="1.5" stroke-linecap="round"/>
<line x1="444.7" y1="508.4" x2="446.2" y2="508.4" stroke="#75bc49" stroke-width="1.5" stroke-linecap="round"/>
<line x1="446.2" y1="508.4" x2="447.4" y2="478.6" stroke="#78be46" stroke-width="1.5" stroke-linecap="round"/>
<line x1="447.4" y1="478.6" x2="448.9" y2="522.0" stroke="#7fc044" stroke-width="1.5" stroke-linecap="round"/>
<line x1="448.9" y1="522.0" x2="451.8" y2="482.3" stroke="#8bc441" stroke-width="1.5" stroke-linecap="round"/>
<line x1="451.8" y1="482.3" x2="453.6" y2="510.3" stroke="#98c83e" stroke-width="1.5" stroke-linecap="round"/>
<line x1="453.6" y1="510.3" x2="454.6" y2="509.6" stroke="#9fca3c" stroke-width="1.5" stroke-linecap="round"/>
<line x1="454.6" y1="509.6" x2="456.1" y2="485.4" stroke="#a6cc3a" stroke-width="1.5" stroke-linecap="round"/>
<line x1="456.1" y1="485.4" x2="458.8" y2="518.3" stroke="#b2d038" stroke-width="1.5" stroke-linecap="round"/>
<line x1="458.8" y1="518.3" x2="460.4" y2="501.6" stroke="#bed435" stroke-width="1.5" stroke-linecap="round"/>
<line x1="460.4" y1="501.6" x2="463.3" y2="523.9" stroke="#c9d732" stroke-width="1.5" stroke-linecap="round"/>
<line x1="463.3" y1="523.9" x2="465.0" y2="489.8" stroke="#d1d930" stroke-width="1.5" stroke-linecap="round"/>
<line x1="465.0" y1="489.8" x2="468.5" y2="492.3" stroke="#dadc2d" stroke-width="1.5" stroke-linecap="round"/>
<line x1="468.5" y1="492.3" x2="472.2" y2="497.2" stroke="#e7df2a" stroke-width="1.5" stroke-linecap="round"/>
<line x1="472.2" y1="497.2" x2="476.0" y2="503.4" stroke="#f0de28" stroke-width="1.5" stroke-linecap="round"/>
<line x1="476.0" y1="503.4" x2="478.4" y2="523.3" stroke="#f1d428" stroke-width="1.5" stroke-linecap="round"/>
<line x1="478.4" y1="523.3" x2="480.7" y2="507.2" stroke="#f2cd28" stroke-width="1.5" stroke-linecap="round"/>
<line x1="480.7" y1="507.2" x2="482.8" y2="522.0" stroke="#f3c628" stroke-width="1.5" stroke-linecap="round"/>
<line x1="482.8" y1="522.0" x2="485.6" y2="511.5" stroke="#f4bf28" stroke-width="1.5" stroke-linecap="round"/>
<line x1="485.6" y1="511.5" x2="487.1" y2="513.4" stroke="#f5b828" stroke-width="1.5" stroke-linecap="round"/>
<line x1="487.1" y1="513.4" x2="489.3" y2="520.2" stroke="#f5b129" stroke-width="1.5" stroke-linecap="round"/>
<line x1="489.3" y1="520.2" x2="491.5" y2="518.9" stroke="#f4a62a" stroke-width="1.5" stroke-linecap="round"/>
<line x1="491.5" y1="518.9" x2="495.8" y2="525.8" stroke="#f2952d" stroke-width="1.5" stroke-linecap="round"/>
<line x1="495.8" y1="525.8" x2="499.5" y2="523.3" stroke="#f18031" stroke-width="1.5" stroke-linecap="round"/>
<line x1="499.5" y1="523.3" x2="501.1" y2="519.3" stroke="#ef7232" stroke-width="1.5" stroke-linecap="round"/>
<line x1="501.1" y1="519.3" x2="503.2" y2="523.3" stroke="#ec6632" stroke-width="1.5" stroke-linecap="round"/>
<line x1="503.2" y1="523.3" x2="505.1" y2="524.5" stroke="#ea5a32" stroke-width="1.5" stroke-linecap="round"/>
<line x1="505.1" y1="524.5" x2="508.2" y2="524.3" stroke="#e64b32" stroke-width="1.5" stroke-linecap="round"/>
<line x1="508.2" y1="524.3" x2="512.6" y2="527.6" stroke="#e23532" stroke-width="1.5" stroke-linecap="round"/>
<line x1="531.8" y1="523.1" x2="533.9" y2="415.2" stroke="#3f54a7" stroke-width="1.5" stroke-linecap="round"/>
<line x1="533.9" y1="415.2" x2="535.5" y2="416.0" stroke="#4057ab" stroke-width="1.5" stroke-linecap="round"/>
<line x1="535.5" y1="416.0" x2="537.1" y2="419.2" stroke="#415aae" stroke-width="1.5" stroke-linecap="round"/>
<line x1="537.1" y1="419.2" x2="541.1" y2="421.7" stroke="#435fb3" stroke-width="1.5" stroke-linecap="round"/>
<line x1="541.1" y1="421.7" x2="543.5" y2="422.5" stroke="#4464b9" stroke-width="1.5" stroke-linecap="round"/>
<line x1="543.5" y1="422.5" x2="545.1" y2="499.7" stroke="#4668bc" stroke-width="1.5" stroke-linecap="round"/>
<line x1="545.1" y1="499.7" x2="547.5" y2="500.5" stroke="#466ec1" stroke-width="1.5" stroke-linecap="round"/>
<line x1="547.5" y1="500.5" x2="549.5" y2="482.0" stroke="#4678c6" stroke-width="1.5" stroke-linecap="round"/>
<line x1="549.5" y1="482.0" x2="551.6" y2="483.6" stroke="#4681cb" stroke-width="1.5" stroke-linecap="round"/>
<line x1="551.6" y1="483.6" x2="553.7" y2="522.3" stroke="#468ad1" stroke-width="1.5" stroke-linecap="round"/>
<line x1="553.7" y1="522.3" x2="555.6" y2="486.9" stroke="#4693d5" stroke-width="1.5" stroke-linecap="round"/>
<line x1="555.6" y1="486.9" x2="558.0" y2="523.1" stroke="#459bd8" stroke-width="1.5" stroke-linecap="round"/>
<line x1="558.0" y1="523.1" x2="559.3" y2="436.1" stroke="#43a2da" stroke-width="1.5" stroke-linecap="round"/>
<line x1="559.3" y1="436.1" x2="561.2" y2="441.0" stroke="#41a7dc" stroke-width="1.5" stroke-linecap="round"/>
<line x1="561.2" y1="441.0" x2="563.6" y2="500.5" stroke="#3faede" stroke-width="1.5" stroke-linecap="round"/>
<line x1="563.6" y1="500.5" x2="565.2" y2="443.4" stroke="#3db5e0" stroke-width="1.5" stroke-linecap="round"/>
<line x1="565.2" y1="443.4" x2="566.9" y2="448.2" stroke="#3db9de" stroke-width="1.5" stroke-linecap="round"/>
<line x1="566.9" y1="448.2" x2="571.7" y2="448.2" stroke="#40b6ce" stroke-width="1.5" stroke-linecap="round"/>
<line x1="571.7" y1="448.2" x2="574.1" y2="451.4" stroke="#43b4bc" stroke-width="1.5" stroke-linecap="round"/>
<line x1="574.1" y1="451.4" x2="578.1" y2="517.4" stroke="#46b2ad" stroke-width="1.5" stroke-linecap="round"/>
<line x1="578.1" y1="517.4" x2="581.3" y2="524.7" stroke="#4ab19d" stroke-width="1.5" stroke-linecap="round"/>
<line x1="581.3" y1="524.7" x2="583.8" y2="523.1" stroke="#4db090" stroke-width="1.5" stroke-linecap="round"/>
<line x1="583.8" y1="523.1" x2="587.8" y2="524.7" stroke="#50af82" stroke-width="1.5" stroke-linecap="round"/>
<line x1="587.8" y1="524.7" x2="589.7" y2="489.3" stroke="#54af79" stroke-width="1.5" stroke-linecap="round"/>
<line x1="589.7" y1="489.3" x2="591.3" y2="511.0" stroke="#56af74" stroke-width="1.5" stroke-linecap="round"/>
<line x1="591.3" y1="511.0" x2="592.6" y2="470.8" stroke="#58af6f" stroke-width="1.5" stroke-linecap="round"/>
<line x1="592.6" y1="470.8" x2="594.5" y2="515.8" stroke="#5aaf6b" stroke-width="1.5" stroke-linecap="round"/>
<line x1="594.5" y1="515.8" x2="595.8" y2="471.6" stroke="#5caf66" stroke-width="1.5" stroke-linecap="round"/>
<line x1="595.8" y1="471.6" x2="599.0" y2="477.2" stroke="#5faf5f" stroke-width="1.5" stroke-linecap="round"/>
<line x1="599.0" y1="477.2" x2="600.7" y2="523.1" stroke="#63b25b" stroke-width="1.5" stroke-linecap="round"/>
<line x1="600.7" y1="523.1" x2="604.3" y2="525.1" stroke="#68b456" stroke-width="1.5" stroke-linecap="round"/>
<line x1="604.3" y1="525.1" x2="605.6" y2="484.2" stroke="#6cb752" stroke-width="1.5" stroke-linecap="round"/>
<line x1="605.6" y1="484.2" x2="607.2" y2="525.1" stroke="#6eb850" stroke-width="1.5" stroke-linecap="round"/>
<line x1="607.2" y1="525.1" x2="608.7" y2="483.0" stroke="#71ba4d" stroke-width="1.5" stroke-linecap="round"/>
<line x1="608.7" y1="483.0" x2="609.9" y2="514.6" stroke="#73bb4b" stroke-width="1.5" stroke-linecap="round"/>
<line x1="609.9" y1="514.6" x2="611.8" y2="502.8" stroke="#76bd48" stroke-width="1.5" stroke-linecap="round"/>
<line x1="611.8" y1="502.8" x2="614.6" y2="518.3" stroke="#7fc044" stroke-width="1.5" stroke-linecap="round"/>
<line x1="614.6" y1="518.3" x2="616.1" y2="514.6" stroke="#8bc441" stroke-width="1.5" stroke-linecap="round"/>
<line x1="616.1" y1="514.6" x2="618.0" y2="524.5" stroke="#94c73f" stroke-width="1.5" stroke-linecap="round"/>
<line x1="618.0" y1="524.5" x2="620.5" y2="514.6" stroke="#a0cb3c" stroke-width="1.5" stroke-linecap="round"/>
<line x1="620.5" y1="514.6" x2="622.3" y2="514.0" stroke="#acce39" stroke-width="1.5" stroke-linecap="round"/>
<line x1="622.3" y1="514.0" x2="624.2" y2="512.1" stroke="#b6d136" stroke-width="1.5" stroke-linecap="round"/>
<line x1="624.2" y1="512.1" x2="626.3" y2="501.6" stroke="#c1d534" stroke-width="1.5" stroke-linecap="round"/>
<line x1="626.3" y1="501.6" x2="627.9" y2="504.0" stroke="#cad831" stroke-width="1.5" stroke-linecap="round"/>
<line x1="627.9" y1="504.0" x2="629.2" y2="523.9" stroke="#cfd930" stroke-width="1.5" stroke-linecap="round"/>
<line x1="629.2" y1="523.9" x2="631.0" y2="507.8" stroke="#d5da2f" stroke-width="1.5" stroke-linecap="round"/>
<line x1="631.0" y1="507.8" x2="632.3" y2="509.0" stroke="#dadb2e" stroke-width="1.5" stroke-linecap="round"/>
<line x1="632.3" y1="509.0" x2="633.5" y2="525.1" stroke="#dedd2c" stroke-width="1.5" stroke-linecap="round"/>
<line x1="633.5" y1="525.1" x2="634.7" y2="510.9" stroke="#e2de2b" stroke-width="1.5" stroke-linecap="round"/>
<line x1="634.7" y1="510.9" x2="636.6" y2="523.3" stroke="#e8df2a" stroke-width="1.5" stroke-linecap="round"/>
<line x1="636.6" y1="523.3" x2="641.6" y2="522.0" stroke="#f0de28" stroke-width="1.5" stroke-linecap="round"/>
<line x1="641.6" y1="522.0" x2="643.7" y2="510.9" stroke="#f2d328" stroke-width="1.5" stroke-linecap="round"/>
<line x1="643.7" y1="510.9" x2="645.9" y2="512.1" stroke="#f2cc28" stroke-width="1.5" stroke-linecap="round"/>
<line x1="645.9" y1="512.1" x2="650.3" y2="514.6" stroke="#f3c228" stroke-width="1.5" stroke-linecap="round"/>
<line x1="650.3" y1="514.6" x2="654.6" y2="522.0" stroke="#f5b428" stroke-width="1.5" stroke-linecap="round"/>
<line x1="654.6" y1="522.0" x2="658.3" y2="525.1" stroke="#f3a02b" stroke-width="1.5" stroke-linecap="round"/>
<line x1="658.3" y1="525.1" x2="660.2" y2="523.9" stroke="#f2922e" stroke-width="1.5" stroke-linecap="round"/>
<line x1="660.2" y1="523.9" x2="662.0" y2="525.1" stroke="#f1882f" stroke-width="1.5" stroke-linecap="round"/>
<line x1="662.0" y1="525.1" x2="664.5" y2="524.5" stroke="#f07d31" stroke-width="1.5" stroke-linecap="round"/>
<line x1="664.5" y1="524.5" x2="668.2" y2="524.5" stroke="#ed6b32" stroke-width="1.5" stroke-linecap="round"/>
<line x1="668.2" y1="524.5" x2="673.8" y2="525.1" stroke="#e74f32" stroke-width="1.5" stroke-linecap="round"/>
<line x1="673.8" y1="525.1" x2="676.9" y2="527.6" stroke="#e23532" stroke-width="1.5" stroke-linecap="round"/>
<path d="M194.3,41.4 Q246.4,76.6 224.0,135.4" fill="none" stroke="#f8cda5" stroke-width="0.70"/>
<path d="M197.1,115.7 Q246.4,76.6 266.5,136.2" fill="none" stroke="#f8cda5" stroke-width="0.70"/>
<path d="M303.3,49.8 Q246.4,76.6 273.2,19.7" fill="none" stroke="#f8cda5" stroke-width="0.70"/>
<path d="M292.5,33.9 Q246.4,76.6 285.5,27.3" fill="none" stroke="#f8cda5" stroke-width="0.70"/>
<path d="M195.7,39.4 Q246.4,76.6 201.9,121.1" fill="none" stroke="#f8cda5" stroke-width="0.70"/>
<path d="M306.0,96.7 Q246.4,76.6 279.6,130.0" fill="none" stroke="#f8cda5" stroke-width="0.70"/>
<path d="M184.1,85.0 Q246.4,76.6 238.0,138.9" fill="none" stroke="#f8cda5" stroke-width="0.70"/>
<path d="M302.2,47.6 Q246.4,76.6 275.4,20.8" fill="none" stroke="#f8cda5" stroke-width="0.70"/>
<path d="M294.2,35.7 Q246.4,76.6 287.3,28.8" fill="none" stroke="#f8cda5" stroke-width="0.70"/>
<path d="M309.2,73.0 Q246.4,76.6 294.2,117.5" fill="none" stroke="#f8cda5" stroke-width="0.70"/>
<path d="M306.7,94.4 Q246.4,76.6 275.4,132.4" fill="none" stroke="#f8cda5" stroke-width="0.70"/>
<path d="M308.7,68.2 Q246.4,76.6 261.9,15.6" fill="none" stroke="#f8cda5" stroke-width="0.70"/>
<path d="M307.9,89.8 Q246.4,76.6 287.3,124.4" fill="none" stroke="#f8cda5" stroke-width="0.70"/>
<path d="M292.5,119.3 Q246.4,76.6 242.8,139.4" fill="none" stroke="#f8cda5" stroke-width="0.70"/>
<path d="M186.1,58.8 Q246.4,76.6 226.3,136.2" fill="none" stroke="#f8cda5" stroke-width="0.70"/>
<path d="M308.4,65.8 Q246.4,76.6 268.8,17.8" fill="none" stroke="#f8cda5" stroke-width="0.70"/>
<path d="M184.4,65.8 Q246.4,76.6 247.6,139.5" fill="none" stroke="#f8cda5" stroke-width="0.70"/>
<path d="M307.9,63.4 Q246.4,76.6 281.6,128.7" fill="none" stroke="#f8cda5" stroke-width="0.70"/>
<path d="M281.6,128.7 Q246.4,76.6 215.3,131.3" fill="none" stroke="#f8cda5" stroke-width="0.70"/>
<path d="M295.7,37.5 Q246.4,76.6 285.5,27.3" fill="none" stroke="#f8cda5" stroke-width="0.70"/>
<path d="M306.0,56.5 Q246.4,76.6 275.4,20.8" fill="none" stroke="#f8cda5" stroke-width="0.70"/>
<path d="M298.5,41.4 Q246.4,76.6 281.6,24.5" fill="none" stroke="#f8cda5" stroke-width="0.70"/>
<path d="M195.7,113.8 Q246.4,76.6 295.7,115.7" fill="none" stroke="#f8cda5" stroke-width="0.70"/>
<path d="M184.9,89.8 Q246.4,76.6 266.5,136.2" fill="none" stroke="#f8cda5" stroke-width="0.70"/>
<path d="M183.5,77.8 Q246.4,76.6 213.2,130.0" fill="none" stroke="#f8cda5" stroke-width="0.70"/>
<path d="M283.6,127.3 Q246.4,76.6 247.6,139.5" fill="none" stroke="#f8cda5" stroke-width="0.70"/>
<path d="M297.1,39.4 Q246.4,76.6 283.6,25.9" fill="none" stroke="#f8cda5" stroke-width="0.70"/>
<path d="M184.4,87.4 Q246.4,76.6 268.8,135.4" fill="none" stroke="#f8cda5" stroke-width="0.70"/>
<path d="M297.1,39.4 Q246.4,76.6 285.5,27.3" fill="none" stroke="#f8cda5" stroke-width="0.70"/>
<path d="M305.2,99.0 Q246.4,76.6 264.2,136.9" fill="none" stroke="#f8cda5" stroke-width="0.70"/>
<path d="M301.1,107.7 Q246.4,76.6 264.2,136.9" fill="none" stroke="#f8cda5" stroke-width="0.70"/>
<path d="M299.8,109.8 Q246.4,76.6 228.6,136.9" fill="none" stroke="#f8cda5" stroke-width="0.70"/>
<path d="M187.6,54.2 Q246.4,76.6 205.5,124.4" fill="none" stroke="#f8cda5" stroke-width="0.70"/>
<path d="M309.2,73.0 Q246.4,76.6 261.9,15.6" fill="none" stroke="#f8cda5" stroke-width="0.70"/>
<path d="M193.0,43.4 Q246.4,76.6 230.9,137.6" fill="none" stroke="#f8cda5" stroke-width="0.70"/>
<path d="M194.3,111.8 Q246.4,76.6 290.9,121.1" fill="none" stroke="#f8cda5" stroke-width="0.70"/>
<path d="M193.0,109.8 Q246.4,76.6 245.2,139.5" fill="none" stroke="#f8cda5" stroke-width="0.70"/>
<path d="M301.1,45.5 Q246.4,76.6 281.6,24.5" fill="none" stroke="#f8cda5" stroke-width="0.70"/>
<path d="M304.3,52.0 Q246.4,76.6 271.0,18.7" fill="none" stroke="#f8cda5" stroke-width="0.70"/>
<path d="M307.4,92.1 Q246.4,76.6 292.5,119.3" fill="none" stroke="#f8cda5" stroke-width="0.70"/>
<path d="M308.7,68.2 Q246.4,76.6 259.6,15.1" fill="none" stroke="#f8cda5" stroke-width="0.70"/>
<path d="M301.1,45.5 Q246.4,76.6 275.4,20.8" fill="none" stroke="#f8cda5" stroke-width="0.70"/>
<path d="M191.7,107.7 Q246.4,76.6 266.5,136.2" fill="none" stroke="#f8cda5" stroke-width="0.70"/>
<path d="M285.5,125.9 Q246.4,76.6 215.3,131.3" fill="none" stroke="#f8cda5" stroke-width="0.70"/>
<path d="M295.7,37.5 Q246.4,76.6 287.3,28.8" fill="none" stroke="#f8cda5" stroke-width="0.70"/>
<path d="M299.8,43.4 Q246.4,76.6 283.6,25.9" fill="none" stroke="#f8cda5" stroke-width="0.70"/>
<path d="M304.3,52.0 Q246.4,76.6 301.1,107.7" fill="none" stroke="#f8cda5" stroke-width="0.70"/>
<path d="M309.0,70.6 Q246.4,76.6 259.6,15.1" fill="none" stroke="#f8cda5" stroke-width="0.70"/>
<path d="M303.3,49.8 Q246.4,76.6 279.6,23.2" fill="none" stroke="#f8cda5" stroke-width="0.70"/>
<path d="M190.6,47.6 Q246.4,76.6 207.3,125.9" fill="none" stroke="#f8cda5" stroke-width="0.70"/>
<path d="M294.2,117.5 Q246.4,76.6 247.6,139.5" fill="none" stroke="#f8cda5" stroke-width="0.70"/>
<path d="M308.4,65.8 Q246.4,76.6 261.9,15.6" fill="none" stroke="#f8cda5" stroke-width="0.70"/>
<path d="M307.9,63.4 Q246.4,76.6 268.8,17.8" fill="none" stroke="#f8cda5" stroke-width="0.70"/>
<path d="M183.5,75.4 Q246.4,76.6 259.6,138.1" fill="none" stroke="#f8cda5" stroke-width="0.70"/>
<path d="M290.9,121.1 Q246.4,76.6 252.4,139.2" fill="none" stroke="#f8cda5" stroke-width="0.70"/>
<path d="M306.0,56.5 Q246.4,76.6 275.4,20.8" fill="none" stroke="#f8cda5" stroke-width="0.70"/>
<path d="M307.4,61.1 Q246.4,76.6 271.0,18.7" fill="none" stroke="#f8cda5" stroke-width="0.70"/>
<path d="M302.2,47.6 Q246.4,76.6 273.2,19.7" fill="none" stroke="#f8cda5" stroke-width="0.70"/>
<path d="M305.2,54.2 Q246.4,76.6 273.2,19.7" fill="none" stroke="#f8cda5" stroke-width="0.70"/>
<path d="M306.7,58.8 Q246.4,76.6 264.2,16.3" fill="none" stroke="#f8cda5" stroke-width="0.70"/>
<path d="M294.2,35.7 Q246.4,76.6 281.6,24.5" fill="none" stroke="#f8cda5" stroke-width="0.70"/>
<path d="M295.7,115.7 Q246.4,76.6 221.8,134.5" fill="none" stroke="#f8cda5" stroke-width="0.70"/>
<path d="M197.1,37.5 Q246.4,76.6 201.9,121.1" fill="none" stroke="#f8cda5" stroke-width="0.70"/>
<path d="M189.5,103.4 Q246.4,76.6 290.9,121.1" fill="none" stroke="#f8cda5" stroke-width="0.70"/>
<path d="M299.8,43.4 Q246.4,76.6 285.5,27.3" fill="none" stroke="#f8cda5" stroke-width="0.70"/>
<path d="M304.3,52.0 Q246.4,76.6 277.5,21.9" fill="none" stroke="#f8cda5" stroke-width="0.70"/>
<path d="M307.9,63.4 Q246.4,76.6 268.8,17.8" fill="none" stroke="#f8cda5" stroke-width="0.70"/>
<path d="M183.8,82.6 Q246.4,76.6 233.2,138.1" fill="none" stroke="#f8cda5" stroke-width="0.70"/>
<path d="M307.4,61.1 Q246.4,76.6 271.0,18.7" fill="none" stroke="#f8cda5" stroke-width="0.70"/>
<path d="M309.2,73.0 Q246.4,76.6 261.9,15.6" fill="none" stroke="#f8cda5" stroke-width="0.70"/>
<path d="M185.4,61.1 Q246.4,76.6 224.0,135.4" fill="none" stroke="#f8cda5" stroke-width="0.70"/>
<path d="M188.5,101.2 Q246.4,76.6 254.8,138.9" fill="none" stroke="#f8cda5" stroke-width="0.70"/>
<path d="M292.5,33.9 Q246.4,76.6 283.6,25.9" fill="none" stroke="#f8cda5" stroke-width="0.70"/>
<path d="M186.8,56.5 Q246.4,76.6 245.2,139.5" fill="none" stroke="#f8cda5" stroke-width="0.70"/>
<path d="M306.7,58.8 Q246.4,76.6 271.0,18.7" fill="none" stroke="#f8cda5" stroke-width="0.70"/>
<path d="M183.6,80.2 Q246.4,76.6 240.4,139.2" fill="none" stroke="#f8cda5" stroke-width="0.70"/>
<path d="M279.6,130.0 Q246.4,76.6 245.2,139.5" fill="none" stroke="#f8cda5" stroke-width="0.70"/>
<path d="M309.0,70.6 Q246.4,76.6 257.2,14.6" fill="none" stroke="#f8cda5" stroke-width="0.70"/>
<path d="M298.5,41.4 Q246.4,76.6 281.6,24.5" fill="none" stroke="#f8cda5" stroke-width="0.70"/>
<path d="M186.1,94.4 Q246.4,76.6 279.6,130.0" fill="none" stroke="#f8cda5" stroke-width="0.70"/>
<path d="M302.2,105.6 Q246.4,76.6 264.2,136.9" fill="none" stroke="#f8cda5" stroke-width="0.70"/>
<path d="M305.2,54.2 Q246.4,76.6 273.2,19.7" fill="none" stroke="#f8cda5" stroke-width="0.70"/>
<path d="M308.7,68.2 Q246.4,76.6 281.6,128.7" fill="none" stroke="#f8cda5" stroke-width="0.70"/>
<path d="M190.6,105.6 Q246.4,76.6 302.2,105.6" fill="none" stroke="#f4aa78" stroke-width="0.70"/>
<path d="M189.5,103.4 Q246.4,76.6 289.1,122.7" fill="none" stroke="#f4aa78" stroke-width="0.70"/>
<path d="M292.5,119.3 Q246.4,76.6 187.6,99.0" fill="none" stroke="#f4aa78" stroke-width="0.70"/>
<path d="M281.6,128.7 Q246.4,76.6 188.5,101.2" fill="none" stroke="#f4aa78" stroke-width="0.70"/>
<path d="M264.2,136.9 Q246.4,76.6 184.1,85.0" fill="none" stroke="#f4aa78" stroke-width="0.70"/>
<path d="M191.7,107.7 Q246.4,76.6 297.1,113.8" fill="none" stroke="#f4aa78" stroke-width="0.70"/>
<path d="M205.5,124.4 Q246.4,76.6 305.2,99.0" fill="none" stroke="#f4aa78" stroke-width="0.70"/>
<path d="M213.2,130.0 Q246.4,76.6 307.9,89.8" fill="none" stroke="#f4aa78" stroke-width="0.70"/>
<path d="M297.1,113.8 Q246.4,76.6 190.6,105.6" fill="none" stroke="#f4aa78" stroke-width="0.70"/>
<path d="M298.5,111.8 Q246.4,76.6 184.9,89.8" fill="none" stroke="#f4aa78" stroke-width="0.70"/>
<path d="M209.2,127.3 Q246.4,76.6 283.6,127.3" fill="none" stroke="#f4aa78" stroke-width="0.70"/>
<path d="M217.4,132.4 Q246.4,76.6 309.0,70.6" fill="none" stroke="#f4aa78" stroke-width="0.70"/>
<path d="M273.2,133.5 Q246.4,76.6 184.4,87.4" fill="none" stroke="#f4aa78" stroke-width="0.70"/>
<path d="M242.8,139.4 Q246.4,76.6 307.9,89.8" fill="none" stroke="#f4aa78" stroke-width="0.70"/>
<path d="M215.3,131.3 Q246.4,76.6 309.3,77.8" fill="none" stroke="#f4aa78" stroke-width="0.70"/>
<path d="M247.6,139.5 Q246.4,76.6 283.6,127.3" fill="none" stroke="#f4aa78" stroke-width="0.70"/>
<path d="M245.2,139.5 Q246.4,76.6 283.6,127.3" fill="none" stroke="#f4aa78" stroke-width="0.70"/>
<path d="M295.7,115.7 Q246.4,76.6 197.1,115.7" fill="none" stroke="#f4aa78" stroke-width="0.70"/>
<path d="M235.6,138.6 Q246.4,76.6 308.7,85.0" fill="none" stroke="#f4aa78" stroke-width="0.70"/>
<path d="M294.2,117.5 Q246.4,76.6 203.7,122.7" fill="none" stroke="#f4aa78" stroke-width="0.70"/>
<path d="M235.6,138.6 Q246.4,76.6 294.2,117.5" fill="none" stroke="#f4aa78" stroke-width="0.70"/>
<path d="M259.6,138.1 Q246.4,76.6 200.3,119.3" fill="none" stroke="#f4aa78" stroke-width="0.70"/>
<path d="M277.5,131.3 Q246.4,76.6 183.8,70.6" fill="none" stroke="#f4aa78" stroke-width="0.70"/>
<path d="M279.6,130.0 Q246.4,76.6 183.8,70.6" fill="none" stroke="#f4aa78" stroke-width="0.70"/>
<path d="M221.8,134.5 Q246.4,76.6 301.1,107.7" fill="none" stroke="#f4aa78" stroke-width="0.70"/>
<path d="M189.5,103.4 Q246.4,76.6 281.6,128.7" fill="none" stroke="#f4aa78" stroke-width="0.70"/>
<path d="M194.3,111.8 Q246.4,76.6 305.2,99.0" fill="none" stroke="#f4aa78" stroke-width="0.70"/>
<path d="M198.6,117.5 Q246.4,76.6 306.0,96.7" fill="none" stroke="#f4aa78" stroke-width="0.70"/>
<path d="M228.6,136.9 Q246.4,76.6 281.6,128.7" fill="none" stroke="#f4aa78" stroke-width="0.70"/>
<path d="M187.6,99.0 Q246.4,76.6 309.3,75.4" fill="none" stroke="#f4aa78" stroke-width="0.70"/>
<path d="M287.3,124.4 Q246.4,76.6 197.1,115.7" fill="none" stroke="#f4aa78" stroke-width="0.70"/>
<path d="M195.7,113.8 Q246.4,76.6 305.2,99.0" fill="none" stroke="#f4aa78" stroke-width="0.70"/>
<path d="M254.8,138.9 Q246.4,76.6 198.6,117.5" fill="none" stroke="#f4aa78" stroke-width="0.70"/>
<path d="M207.3,125.9 Q246.4,76.6 287.3,124.4" fill="none" stroke="#f4aa78" stroke-width="0.70"/>
<path d="M219.6,133.5 Q246.4,76.6 303.3,103.4" fill="none" stroke="#f4aa78" stroke-width="0.70"/>
<path d="M268.8,135.4 Q246.4,76.6 183.8,82.6" fill="none" stroke="#f4aa78" stroke-width="0.70"/>
<path d="M226.3,136.2 Q246.4,76.6 305.2,99.0" fill="none" stroke="#f4aa78" stroke-width="0.70"/>
<path d="M252.4,139.2 Q246.4,76.6 198.6,117.5" fill="none" stroke="#f4aa78" stroke-width="0.70"/>
<path d="M190.6,105.6 Q246.4,76.6 309.0,82.6" fill="none" stroke="#f4aa78" stroke-width="0.70"/>
<path d="M228.6,136.9 Q246.4,76.6 306.7,94.4" fill="none" stroke="#f4aa78" stroke-width="0.70"/>
<path d="M224.0,135.4 Q246.4,76.6 297.1,113.8" fill="none" stroke="#f4aa78" stroke-width="0.70"/>
<path d="M198.6,117.5 Q246.4,76.6 303.3,103.4" fill="none" stroke="#f4aa78" stroke-width="0.70"/>
<path d="M194.3,111.8 Q246.4,76.6 294.2,117.5" fill="none" stroke="#f4aa78" stroke-width="0.70"/>
<path d="M261.9,137.6 Q246.4,76.6 183.5,77.8" fill="none" stroke="#f4aa78" stroke-width="0.70"/>
<path d="M188.5,101.2 Q246.4,76.6 304.3,101.2" fill="none" stroke="#f4aa78" stroke-width="0.70"/>
<path d="M240.4,139.2 Q246.4,76.6 287.3,124.4" fill="none" stroke="#f4aa78" stroke-width="0.70"/>
<path d="M209.2,127.3 Q246.4,76.6 283.6,127.3" fill="none" stroke="#f4aa78" stroke-width="0.70"/>
<path d="M271.0,134.5 Q246.4,76.6 184.4,87.4" fill="none" stroke="#f4aa78" stroke-width="0.70"/>
<path d="M266.5,136.2 Q246.4,76.6 183.6,80.2" fill="none" stroke="#f4aa78" stroke-width="0.70"/>
<path d="M275.4,132.4 Q246.4,76.6 183.6,80.2" fill="none" stroke="#f4aa78" stroke-width="0.70"/>
<path d="M188.5,101.2 Q246.4,76.6 309.2,73.0" fill="none" stroke="#f4aa78" stroke-width="0.70"/>
<path d="M289.1,122.7 Q246.4,76.6 187.6,99.0" fill="none" stroke="#f4aa78" stroke-width="0.70"/>
<path d="M238.0,138.9 Q246.4,76.6 287.3,124.4" fill="none" stroke="#f4aa78" stroke-width="0.70"/>
<path d="M193.0,109.8 Q246.4,76.6 305.2,99.0" fill="none" stroke="#f4aa78" stroke-width="0.70"/>
<path d="M283.6,127.3 Q246.4,76.6 186.8,96.7" fill="none" stroke="#f4aa78" stroke-width="0.70"/>
<path d="M187.6,99.0 Q246.4,76.6 302.2,105.6" fill="none" stroke="#f4aa78" stroke-width="0.70"/>
<path d="M257.2,138.6 Q246.4,76.6 184.9,89.8" fill="none" stroke="#f4aa78" stroke-width="0.70"/>
<path d="M238.0,138.9 Q246.4,76.6 309.3,75.4" fill="none" stroke="#f4aa78" stroke-width="0.70"/>
<path d="M201.9,121.1 Q246.4,76.6 309.2,73.0" fill="none" stroke="#f4aa78" stroke-width="0.70"/>
<path d="M200.3,119.3 Q246.4,76.6 304.3,101.2" fill="none" stroke="#f4aa78" stroke-width="0.70"/>
<path d="M230.9,137.6 Q246.4,76.6 283.6,127.3" fill="none" stroke="#f4aa78" stroke-width="0.70"/>
<path d="M224.0,135.4 Q246.4,76.6 297.1,113.8" fill="none" stroke="#f4aa78" stroke-width="0.70"/>
<path d="M198.6,117.5 Q246.4,76.6 309.2,80.2" fill="none" stroke="#ee7850" stroke-width="0.70"/>
<path d="M217.4,132.4 Q246.4,76.6 308.4,65.8" fill="none" stroke="#ee7850" stroke-width="0.70"/>
<path d="M191.7,107.7 Q246.4,76.6 308.7,68.2" fill="none" stroke="#ee7850" stroke-width="0.70"/>
<path d="M194.3,111.8 Q246.4,76.6 309.0,70.6" fill="none" stroke="#ee7850" stroke-width="0.70"/>
<path d="M183.5,77.8 Q246.4,76.6 309.0,70.6" fill="none" stroke="#ee7850" stroke-width="0.70"/>
<path d="M184.9,89.8 Q246.4,76.6 309.3,77.8" fill="none" stroke="#ee7850" stroke-width="0.70"/>
<path d="M213.2,130.0 Q246.4,76.6 308.4,65.8" fill="none" stroke="#ee7850" stroke-width="0.70"/>
<path d="M207.3,125.9 Q246.4,76.6 309.2,73.0" fill="none" stroke="#ee7850" stroke-width="0.70"/>
<path d="M209.2,25.9 Q246.4,76.6 305.2,54.2" fill="none" stroke="#e4503c" stroke-width="0.70"/>
<path d="M193.0,43.4 Q246.4,76.6 309.3,77.8" fill="none" stroke="#e4503c" stroke-width="0.70"/>
<path d="M197.1,37.5 Q246.4,76.6 298.5,41.4" fill="none" stroke="#e4503c" stroke-width="0.70"/>
<path d="M200.3,119.3 Q246.4,76.6 279.6,23.2" fill="none" stroke="#e4503c" stroke-width="0.70"/>
<path d="M215.3,21.9 Q246.4,76.6 309.2,80.2" fill="none" stroke="#e4503c" stroke-width="0.70"/>
<path d="M211.2,24.5 Q246.4,76.6 309.3,75.4" fill="none" stroke="#e4503c" stroke-width="0.70"/>
<path d="M195.7,39.4 Q246.4,76.6 290.9,32.1" fill="none" stroke="#e4503c" stroke-width="0.70"/>
<path d="M217.4,20.8 Q246.4,76.6 285.5,27.3" fill="none" stroke="#e4503c" stroke-width="0.70"/>
<path d="M184.9,63.4 Q246.4,76.6 309.2,80.2" fill="none" stroke="#e4503c" stroke-width="0.70"/>
<path d="M200.3,33.9 Q246.4,76.6 302.2,47.6" fill="none" stroke="#e4503c" stroke-width="0.70"/>
<path d="M201.9,32.1 Q246.4,76.6 308.7,68.2" fill="none" stroke="#e4503c" stroke-width="0.70"/>
<path d="M183.5,77.8 Q246.4,76.6 277.5,21.9" fill="none" stroke="#e4503c" stroke-width="0.70"/>
<path d="M194.3,41.4 Q246.4,76.6 306.7,58.8" fill="none" stroke="#e4503c" stroke-width="0.70"/>
<path d="M193.0,43.4 Q246.4,76.6 309.0,70.6" fill="none" stroke="#e4503c" stroke-width="0.70"/>
<path d="M184.1,85.0 Q246.4,76.6 281.6,24.5" fill="none" stroke="#e4503c" stroke-width="0.70"/>
<path d="M188.5,52.0 Q246.4,76.6 307.4,61.1" fill="none" stroke="#e4503c" stroke-width="0.70"/>
<path d="M198.6,117.5 Q246.4,76.6 279.6,23.2" fill="none" stroke="#e4503c" stroke-width="0.70"/>
<path d="M184.9,63.4 Q246.4,76.6 309.2,73.0" fill="none" stroke="#e4503c" stroke-width="0.70"/>
<path d="M183.5,75.4 Q246.4,76.6 287.3,28.8" fill="none" stroke="#e4503c" stroke-width="0.70"/>
<path d="M183.5,77.8 Q246.4,76.6 259.6,15.1" fill="none" stroke="#e4503c" stroke-width="0.70"/>
<path d="M194.3,41.4 Q246.4,76.6 309.3,75.4" fill="none" stroke="#e4503c" stroke-width="0.70"/>
<path d="M207.3,27.3 Q246.4,76.6 290.9,32.1" fill="none" stroke="#e4503c" stroke-width="0.70"/>
<path d="M198.6,35.7 Q246.4,76.6 306.7,58.8" fill="none" stroke="#e4503c" stroke-width="0.70"/>
<path d="M186.8,56.5 Q246.4,76.6 304.3,52.0" fill="none" stroke="#e4503c" stroke-width="0.70"/>
<path d="M191.7,45.5 Q246.4,76.6 307.4,61.1" fill="none" stroke="#e4503c" stroke-width="0.70"/>
<path d="M200.3,119.3 Q246.4,76.6 279.6,23.2" fill="none" stroke="#e4503c" stroke-width="0.70"/>
<path d="M213.2,23.2 Q246.4,76.6 309.2,73.0" fill="none" stroke="#e4503c" stroke-width="0.70"/>
<path d="M186.8,56.5 Q246.4,76.6 309.3,75.4" fill="none" stroke="#e4503c" stroke-width="0.70"/>
<path d="M185.4,92.1 Q246.4,76.6 261.9,15.6" fill="none" stroke="#e4503c" stroke-width="0.70"/>
<path d="M186.1,58.8 Q246.4,76.6 308.4,65.8" fill="none" stroke="#e4503c" stroke-width="0.70"/>
<path d="M184.4,87.4 Q246.4,76.6 264.2,16.3" fill="none" stroke="#e4503c" stroke-width="0.70"/>
<path d="M184.1,68.2 Q246.4,76.6 308.4,65.8" fill="none" stroke="#e4503c" stroke-width="0.70"/>
<path d="M190.6,105.6 Q246.4,76.6 250.0,13.8" fill="none" stroke="#e4503c" stroke-width="0.70"/>
<path d="M190.6,47.6 Q246.4,76.6 309.2,80.2" fill="none" stroke="#e4503c" stroke-width="0.70"/>
<path d="M184.9,89.8 Q246.4,76.6 261.9,15.6" fill="none" stroke="#e4503c" stroke-width="0.70"/>
<path d="M191.7,45.5 Q246.4,76.6 309.0,82.6" fill="none" stroke="#e4503c" stroke-width="0.70"/>
<path d="M194.3,111.8 Q246.4,76.6 266.5,17.0" fill="none" stroke="#e4503c" stroke-width="0.70"/>
<path d="M190.6,105.6 Q246.4,76.6 283.6,25.9" fill="none" stroke="#e4503c" stroke-width="0.70"/>
<path d="M201.9,121.1 Q246.4,76.6 283.6,25.9" fill="none" stroke="#e4503c" stroke-width="0.70"/>
<path d="M187.6,99.0 Q246.4,76.6 254.8,14.3" fill="none" stroke="#e4503c" stroke-width="0.70"/>
<path d="M189.5,49.8 Q246.4,76.6 309.2,73.0" fill="none" stroke="#e4503c" stroke-width="0.70"/>
<path d="M205.5,28.8 Q246.4,76.6 306.0,56.5" fill="none" stroke="#e4503c" stroke-width="0.70"/>
<path d="M201.9,32.1 Q246.4,76.6 309.0,70.6" fill="none" stroke="#e4503c" stroke-width="0.70"/>
<path d="M183.8,70.6 Q246.4,76.6 307.4,61.1" fill="none" stroke="#e4503c" stroke-width="0.70"/>
<path d="M186.8,96.7 Q246.4,76.6 281.6,24.5" fill="none" stroke="#e4503c" stroke-width="0.70"/>
<path d="M183.6,73.0 Q246.4,76.6 294.2,35.7" fill="none" stroke="#e4503c" stroke-width="0.70"/>
<path d="M184.1,85.0 Q246.4,76.6 281.6,24.5" fill="none" stroke="#e4503c" stroke-width="0.70"/>
<path d="M183.8,70.6 Q246.4,76.6 303.3,49.8" fill="none" stroke="#e4503c" stroke-width="0.70"/>
<path d="M183.6,80.2 Q246.4,76.6 247.6,13.7" fill="none" stroke="#e4503c" stroke-width="0.70"/>
<path d="M188.5,52.0 Q246.4,76.6 309.3,75.4" fill="none" stroke="#e4503c" stroke-width="0.70"/>
<path d="M215.3,21.9 Q246.4,76.6 306.7,58.8" fill="none" stroke="#e4503c" stroke-width="0.70"/>
<path d="M188.5,101.2 Q246.4,76.6 273.2,19.7" fill="none" stroke="#e4503c" stroke-width="0.70"/>
<path d="M184.1,68.2 Q246.4,76.6 309.2,73.0" fill="none" stroke="#e4503c" stroke-width="0.70"/>
<path d="M197.1,115.7 Q246.4,76.6 247.6,13.7" fill="none" stroke="#e4503c" stroke-width="0.70"/>
<path d="M198.6,35.7 Q246.4,76.6 287.3,28.8" fill="none" stroke="#e4503c" stroke-width="0.70"/>
<path d="M200.3,33.9 Q246.4,76.6 309.0,82.6" fill="none" stroke="#e4503c" stroke-width="0.70"/>
<path d="M183.5,75.4 Q246.4,76.6 268.8,17.8" fill="none" stroke="#e4503c" stroke-width="0.70"/>
<path d="M184.4,65.8 Q246.4,76.6 287.3,28.8" fill="none" stroke="#e4503c" stroke-width="0.70"/>
<path d="M211.2,24.5 Q246.4,76.6 306.7,58.8" fill="none" stroke="#e4503c" stroke-width="0.70"/>
<path d="M197.1,37.5 Q246.4,76.6 304.3,52.0" fill="none" stroke="#e4503c" stroke-width="0.70"/>
<path d="M197.1,115.7 Q246.4,76.6 252.4,14.0" fill="none" stroke="#e4503c" stroke-width="0.70"/>
<path d="M203.7,30.5 Q246.4,76.6 290.9,32.1" fill="none" stroke="#e4503c" stroke-width="0.70"/>
<path d="M185.4,61.1 Q246.4,76.6 309.2,80.2" fill="none" stroke="#e4503c" stroke-width="0.70"/>
<path d="M195.7,39.4 Q246.4,76.6 290.9,32.1" fill="none" stroke="#e4503c" stroke-width="0.70"/>
<path d="M194.3,111.8 Q246.4,76.6 289.1,30.5" fill="none" stroke="#e4503c" stroke-width="0.70"/>
<path d="M191.7,107.7 Q246.4,76.6 252.4,14.0" fill="none" stroke="#e4503c" stroke-width="0.70"/>
<path d="M213.2,23.2 Q246.4,76.6 309.3,77.8" fill="none" stroke="#e4503c" stroke-width="0.70"/>
<path d="M190.6,47.6 Q246.4,76.6 309.3,75.4" fill="none" stroke="#e4503c" stroke-width="0.70"/>
<path d="M235.6,14.6 Q246.4,76.6 254.8,14.3" fill="none" stroke="#b9142d" stroke-width="0.70"/>
<path d="M221.8,18.7 Q246.4,76.6 271.0,18.7" fill="none" stroke="#b9142d" stroke-width="0.70"/>
<path d="M238.0,14.3 Q246.4,76.6 257.2,14.6" fill="none" stroke="#b9142d" stroke-width="0.70"/>
<path d="M233.2,15.1 Q246.4,76.6 261.9,15.6" fill="none" stroke="#b9142d" stroke-width="0.70"/>
<path d="M230.9,15.6 Q246.4,76.6 257.2,14.6" fill="none" stroke="#b9142d" stroke-width="0.70"/>
<path d="M221.8,18.7 Q246.4,76.6 273.2,19.7" fill="none" stroke="#b9142d" stroke-width="0.70"/>
<path d="M219.6,19.7 Q246.4,76.6 273.2,19.7" fill="none" stroke="#b9142d" stroke-width="0.70"/>
<path d="M226.3,17.0 Q246.4,76.6 266.5,17.0" fill="none" stroke="#b9142d" stroke-width="0.70"/>
<path d="M226.3,17.0 Q246.4,76.6 268.8,17.8" fill="none" stroke="#b9142d" stroke-width="0.70"/>
<path d="M228.6,16.3 Q246.4,76.6 268.8,17.8" fill="none" stroke="#b9142d" stroke-width="0.70"/>
<path d="M240.4,14.0 Q246.4,76.6 257.2,14.6" fill="none" stroke="#b9142d" stroke-width="0.70"/>
<path d="M228.6,16.3 Q246.4,76.6 261.9,15.6" fill="none" stroke="#b9142d" stroke-width="0.70"/>
<path d="M230.9,15.6 Q246.4,76.6 261.9,15.6" fill="none" stroke="#b9142d" stroke-width="0.70"/>
<path d="M238.0,14.3 Q246.4,76.6 254.8,14.3" fill="none" stroke="#b9142d" stroke-width="0.70"/>
<path d="M228.6,16.3 Q246.4,76.6 261.9,15.6" fill="none" stroke="#b9142d" stroke-width="0.70"/>
<path d="M226.3,17.0 Q246.4,76.6 266.5,17.0" fill="none" stroke="#b9142d" stroke-width="0.70"/>
<path d="M238.0,14.3 Q246.4,76.6 257.2,14.6" fill="none" stroke="#b9142d" stroke-width="0.70"/>
<path d="M224.0,17.8 Q246.4,76.6 264.2,16.3" fill="none" stroke="#b9142d" stroke-width="0.70"/>
<path d="M221.8,18.7 Q246.4,76.6 273.2,19.7" fill="none" stroke="#b9142d" stroke-width="0.70"/>
<path d="M235.6,14.6 Q246.4,76.6 257.2,14.6" fill="none" stroke="#b9142d" stroke-width="0.70"/>
<path d="M242.8,13.8 Q246.4,76.6 250.0,13.8" fill="none" stroke="#b9142d" stroke-width="0.70"/>
<path d="M242.8,13.8 Q246.4,76.6 252.4,14.0" fill="none" stroke="#b9142d" stroke-width="0.70"/>
<path d="M233.2,15.1 Q246.4,76.6 257.2,14.6" fill="none" stroke="#b9142d" stroke-width="0.70"/>
<path d="M233.2,15.1 Q246.4,76.6 259.6,15.1" fill="none" stroke="#b9142d" stroke-width="0.70"/>
<path d="M240.4,14.0 Q246.4,76.6 250.0,13.8" fill="none" stroke="#b9142d" stroke-width="0.70"/>
<path d="M245.2,13.7 Q246.4,76.6 247.6,13.7" fill="none" stroke="#b9142d" stroke-width="0.70"/>
<path d="M245.2,13.7 Q246.4,76.6 247.6,13.7" fill="none" stroke="#b9142d" stroke-width="0.70"/>
<path d="M219.6,19.7 Q246.4,76.6 279.6,23.2" fill="none" stroke="#b9142d" stroke-width="0.70"/>
<path d="M219.6,19.7 Q246.4,76.6 271.0,18.7" fill="none" stroke="#b9142d" stroke-width="0.70"/>
<path d="M217.4,20.8 Q246.4,76.6 268.8,17.8" fill="none" stroke="#b9142d" stroke-width="0.70"/>
<path d="M230.9,15.6 Q246.4,76.6 264.2,16.3" fill="none" stroke="#b9142d" stroke-width="0.70"/>
<path d="M242.8,13.8 Q246.4,76.6 252.4,14.0" fill="none" stroke="#b9142d" stroke-width="0.70"/>
<path d="M224.0,17.8 Q246.4,76.6 266.5,17.0" fill="none" stroke="#b9142d" stroke-width="0.70"/>
<path d="M224.0,17.8 Q246.4,76.6 264.2,16.3" fill="none" stroke="#b9142d" stroke-width="0.70"/>
<path d="M235.6,14.6 Q246.4,76.6 259.6,15.1" fill="none" stroke="#b9142d" stroke-width="0.70"/>
<path d="M240.4,14.0 Q246.4,76.6 252.4,14.0" fill="none" stroke="#b9142d" stroke-width="0.70"/>
<path d="M246.40,12.00 A64.60,64.60 0 0 0 243.69,12.06" fill="none" stroke="#325aaf" stroke-width="3.4"/>
<path d="M244.15,12.04 A64.60,64.60 0 0 0 241.44,12.19" fill="none" stroke="#325bb0" stroke-width="3.4"/>
<path d="M241.89,12.16 A64.60,64.60 0 0 0 239.20,12.40" fill="none" stroke="#325cb1" stroke-width="3.4"/>
<path d="M239.65,12.35 A64.60,64.60 0 0 0 236.96,12.69" fill="none" stroke="#325db2" stroke-width="3.4"/>
<path d="M237.41,12.63 A64.60,64.60 0 0 0 234.74,13.06" fill="none" stroke="#325eb2" stroke-width="3.4"/>
<path d="M235.18,12.98 A64.60,64.60 0 0 0 232.53,13.51" fill="none" stroke="#325fb3" stroke-width="3.4"/>
<path d="M232.97,13.41 A64.60,64.60 0 0 0 230.33,14.03" fill="none" stroke="#325fb4" stroke-width="3.4"/>
<path d="M230.77,13.92 A64.60,64.60 0 0 0 228.16,14.63" fill="none" stroke="#3260b4" stroke-width="3.4"/>
<path d="M228.59,14.50 A64.60,64.60 0 0 0 226.01,15.30" fill="none" stroke="#3261b5" stroke-width="3.4"/>
<path d="M226.44,15.16 A64.60,64.60 0 0 0 223.88,16.05" fill="none" stroke="#3262b6" stroke-width="3.4"/>
<path d="M224.31,15.90 A64.60,64.60 0 0 0 221.78,16.87" fill="none" stroke="#3263b7" stroke-width="3.4"/>
<path d="M222.20,16.70 A64.60,64.60 0 0 0 219.71,17.77" fill="none" stroke="#3264b7" stroke-width="3.4"/>
<path d="M220.12,17.58 A64.60,64.60 0 0 0 217.68,18.74" fill="none" stroke="#3264b8" stroke-width="3.4"/>
<path d="M218.08,18.54 A64.60,64.60 0 0 0 215.67,19.77" fill="none" stroke="#3265b9" stroke-width="3.4"/>
<path d="M216.07,19.56 A64.60,64.60 0 0 0 213.71,20.88" fill="none" stroke="#3266b9" stroke-width="3.4"/>
<path d="M214.10,20.65 A64.60,64.60 0 0 0 211.79,22.06" fill="none" stroke="#3267ba" stroke-width="3.4"/>
<path d="M212.17,21.82 A64.60,64.60 0 0 0 209.90,23.30" fill="none" stroke="#3268bb" stroke-width="3.4"/>
<path d="M210.28,23.04 A64.60,64.60 0 0 0 208.07,24.60" fill="none" stroke="#3269bc" stroke-width="3.4"/>
<path d="M208.43,24.34 A64.60,64.60 0 0 0 206.27,25.97" fill="none" stroke="#326bbd" stroke-width="3.4"/>
<path d="M206.63,25.69 A64.60,64.60 0 0 0 204.53,27.40" fill="none" stroke="#316ebf" stroke-width="3.4"/>
<path d="M204.88,27.11 A64.60,64.60 0 0 0 202.84,28.90" fill="none" stroke="#3071c1" stroke-width="3.4"/>
<path d="M203.17,28.59 A64.60,64.60 0 0 0 201.20,30.45" fill="none" stroke="#2f74c3" stroke-width="3.4"/>
<path d="M201.53,30.13 A64.60,64.60 0 0 0 199.62,32.05" fill="none" stroke="#2e78c5" stroke-width="3.4"/>
<path d="M199.93,31.73 A64.60,64.60 0 0 0 198.09,33.71" fill="none" stroke="#2d7bc7" stroke-width="3.4"/>
<path d="M198.39,33.37 A64.60,64.60 0 0 0 196.62,35.42" fill="none" stroke="#2c7ec9" stroke-width="3.4"/>
<path d="M196.91,35.08 A64.60,64.60 0 0 0 195.22,37.18" fill="none" stroke="#2b81cb" stroke-width="3.4"/>
<path d="M195.49,36.83 A64.60,64.60 0 0 0 193.87,38.99" fill="none" stroke="#2a85cd" stroke-width="3.4"/>
<path d="M194.14,38.63 A64.60,64.60 0 0 0 192.59,40.85" fill="none" stroke="#2988cf" stroke-width="3.4"/>
<path d="M192.84,40.48 A64.60,64.60 0 0 0 191.38,42.75" fill="none" stroke="#288bd1" stroke-width="3.4"/>
<path d="M191.62,42.37 A64.60,64.60 0 0 0 190.23,44.69" fill="none" stroke="#278fd3" stroke-width="3.4"/>
<path d="M190.45,44.30 A64.60,64.60 0 0 0 189.15,46.67" fill="none" stroke="#2593d5" stroke-width="3.4"/>
<path d="M189.36,46.27 A64.60,64.60 0 0 0 188.14,48.69" fill="none" stroke="#2497d7" stroke-width="3.4"/>
<path d="M188.34,48.28 A64.60,64.60 0 0 0 187.20,50.74" fill="none" stroke="#229cd9" stroke-width="3.4"/>
<path d="M187.38,50.32 A64.60,64.60 0 0 0 186.34,52.82" fill="none" stroke="#20a0db" stroke-width="3.4"/>
<path d="M186.50,52.40 A64.60,64.60 0 0 0 185.54,54.93" fill="none" stroke="#1ea4dd" stroke-width="3.4"/>
<path d="M185.70,54.51 A64.60,64.60 0 0 0 184.82,57.07" fill="none" stroke="#1da8df" stroke-width="3.4"/>
<path d="M184.96,56.64 A64.60,64.60 0 0 0 184.18,59.23" fill="none" stroke="#1bade1" stroke-width="3.4"/>
<path d="M184.30,58.79 A64.60,64.60 0 0 0 183.61,61.41" fill="none" stroke="#19b1e3" stroke-width="3.4"/>
<path d="M183.72,60.97 A64.60,64.60 0 0 0 183.12,63.61" fill="none" stroke="#1ab2e2" stroke-width="3.4"/>
<path d="M183.21,63.17 A64.60,64.60 0 0 0 182.70,65.83" fill="none" stroke="#1bb2df" stroke-width="3.4"/>
<path d="M182.78,65.38 A64.60,64.60 0 0 0 182.37,68.06" fill="none" stroke="#1db2dc" stroke-width="3.4"/>
<path d="M182.43,67.61 A64.60,64.60 0 0 0 182.11,70.30" fill="none" stroke="#1eb2d9" stroke-width="3.4"/>
<path d="M182.15,69.85 A64.60,64.60 0 0 0 181.93,72.54" fill="none" stroke="#20b2d6" stroke-width="3.4"/>
<path d="M181.96,72.09 A64.60,64.60 0 0 0 181.83,74.80" fill="none" stroke="#21b2d3" stroke-width="3.4"/>
<path d="M181.84,74.35 A64.60,64.60 0 0 0 181.80,77.05" fill="none" stroke="#22b2d0" stroke-width="3.4"/>
<path d="M181.80,76.60 A64.60,64.60 0 0 0 181.86,79.31" fill="none" stroke="#24b2cc" stroke-width="3.4"/>
<path d="M181.84,78.85 A64.60,64.60 0 0 0 181.99,81.56" fill="none" stroke="#25b2c9" stroke-width="3.4"/>
<path d="M181.96,81.11 A64.60,64.60 0 0 0 182.20,83.80" fill="none" stroke="#26b2c6" stroke-width="3.4"/>
<path d="M182.15,83.35 A64.60,64.60 0 0 0 182.49,86.04" fill="none" stroke="#28b2c3" stroke-width="3.4"/>
<path d="M182.43,85.59 A64.60,64.60 0 0 0 182.86,88.26" fill="none" stroke="#29b2c0" stroke-width="3.4"/>
<path d="M182.78,87.82 A64.60,64.60 0 0 0 183.31,90.47" fill="none" stroke="#2bb1bc" stroke-width="3.4"/>
<path d="M183.21,90.03 A64.60,64.60 0 0 0 183.83,92.67" fill="none" stroke="#2cb1b9" stroke-width="3.4"/>
<path d="M183.72,92.23 A64.60,64.60 0 0 0 184.43,94.84" fill="none" stroke="#2db0b5" stroke-width="3.4"/>
<path d="M184.30,94.41 A64.60,64.60 0 0 0 185.10,96.99" fill="none" stroke="#2fb0b2" stroke-width="3.4"/>
<path d="M184.96,96.56 A64.60,64.60 0 0 0 185.85,99.12" fill="none" stroke="#30b0af" stroke-width="3.4"/>
<path d="M185.70,98.69 A64.60,64.60 0 0 0 186.67,101.22" fill="none" stroke="#32afab" stroke-width="3.4"/>
<path d="M186.50,100.80 A64.60,64.60 0 0 0 187.57,103.29" fill="none" stroke="#33afa8" stroke-width="3.4"/>
<path d="M187.38,102.88 A64.60,64.60 0 0 0 188.54,105.32" fill="none" stroke="#34aea4" stroke-width="3.4"/>
<path d="M188.34,104.92 A64.60,64.60 0 0 0 189.57,107.33" fill="none" stroke="#36aea1" stroke-width="3.4"/>
<path d="M189.36,106.93 A64.60,64.60 0 0 0 190.68,109.29" fill="none" stroke="#37ad9d" stroke-width="3.4"/>
<path d="M190.45,108.90 A64.60,64.60 0 0 0 191.86,111.21" fill="none" stroke="#39ad9a" stroke-width="3.4"/>
<path d="M191.62,110.83 A64.60,64.60 0 0 0 193.10,113.10" fill="none" stroke="#3aad96" stroke-width="3.4"/>
<path d="M192.84,112.72 A64.60,64.60 0 0 0 194.40,114.93" fill="none" stroke="#3bac93" stroke-width="3.4"/>
<path d="M194.14,114.57 A64.60,64.60 0 0 0 195.77,116.73" fill="none" stroke="#3cac90" stroke-width="3.4"/>
<path d="M195.49,116.37 A64.60,64.60 0 0 0 197.20,118.47" fill="none" stroke="#3dac8d" stroke-width="3.4"/>
<path d="M196.91,118.12 A64.60,64.60 0 0 0 198.70,120.16" fill="none" stroke="#3eac8a" stroke-width="3.4"/>
<path d="M198.39,119.83 A64.60,64.60 0 0 0 200.25,121.80" fill="none" stroke="#3fac87" stroke-width="3.4"/>
<path d="M199.93,121.47 A64.60,64.60 0 0 0 201.85,123.38" fill="none" stroke="#40ac84" stroke-width="3.4"/>
<path d="M201.53,123.07 A64.60,64.60 0 0 0 203.51,124.91" fill="none" stroke="#41ab82" stroke-width="3.4"/>
<path d="M203.17,124.61 A64.60,64.60 0 0 0 205.22,126.38" fill="none" stroke="#41ab7f" stroke-width="3.4"/>
<path d="M204.88,126.09 A64.60,64.60 0 0 0 206.98,127.78" fill="none" stroke="#42ab7c" stroke-width="3.4"/>
<path d="M206.63,127.51 A64.60,64.60 0 0 0 208.79,129.13" fill="none" stroke="#43ab79" stroke-width="3.4"/>
<path d="M208.43,128.86 A64.60,64.60 0 0 0 210.65,130.41" fill="none" stroke="#44ab77" stroke-width="3.4"/>
<path d="M210.28,130.16 A64.60,64.60 0 0 0 212.55,131.62" fill="none" stroke="#45ab74" stroke-width="3.4"/>
<path d="M212.17,131.38 A64.60,64.60 0 0 0 214.49,132.77" fill="none" stroke="#46ab71" stroke-width="3.4"/>
<path d="M214.10,132.55 A64.60,64.60 0 0 0 216.47,133.85" fill="none" stroke="#46ab6e" stroke-width="3.4"/>
<path d="M216.07,133.64 A64.60,64.60 0 0 0 218.49,134.86" fill="none" stroke="#47aa6c" stroke-width="3.4"/>
<path d="M218.08,134.66 A64.60,64.60 0 0 0 220.54,135.80" fill="none" stroke="#48aa69" stroke-width="3.4"/>
<path d="M220.12,135.62 A64.60,64.60 0 0 0 222.62,136.66" fill="none" stroke="#49aa66" stroke-width="3.4"/>
<path d="M222.20,136.50 A64.60,64.60 0 0 0 224.73,137.46" fill="none" stroke="#4aaa63" stroke-width="3.4"/>
<path d="M224.31,137.30 A64.60,64.60 0 0 0 226.87,138.18" fill="none" stroke="#4baa60" stroke-width="3.4"/>
<path d="M226.44,138.04 A64.60,64.60 0 0 0 229.03,138.82" fill="none" stroke="#4caa5e" stroke-width="3.4"/>
<path d="M228.59,138.70 A64.60,64.60 0 0 0 231.21,139.39" fill="none" stroke="#4dab5d" stroke-width="3.4"/>
<path d="M230.77,139.28 A64.60,64.60 0 0 0 233.41,139.88" fill="none" stroke="#4eac5c" stroke-width="3.4"/>
<path d="M232.97,139.79 A64.60,64.60 0 0 0 235.63,140.30" fill="none" stroke="#4fac5b" stroke-width="3.4"/>
<path d="M235.18,140.22 A64.60,64.60 0 0 0 237.86,140.63" fill="none" stroke="#51ad59" stroke-width="3.4"/>
<path d="M237.41,140.57 A64.60,64.60 0 0 0 240.10,140.89" fill="none" stroke="#52ad58" stroke-width="3.4"/>
<path d="M239.65,140.85 A64.60,64.60 0 0 0 242.34,141.07" fill="none" stroke="#53ae57" stroke-width="3.4"/>
<path d="M241.89,141.04 A64.60,64.60 0 0 0 244.60,141.17" fill="none" stroke="#54af56" stroke-width="3.4"/>
<path d="M244.15,141.16 A64.60,64.60 0 0 0 246.85,141.20" fill="none" stroke="#55af55" stroke-width="3.4"/>
<path d="M246.40,141.20 A64.60,64.60 0 0 0 249.11,141.14" fill="none" stroke="#57b053" stroke-width="3.4"/>
<path d="M248.65,141.16 A64.60,64.60 0 0 0 251.36,141.01" fill="none" stroke="#58b052" stroke-width="3.4"/>
<path d="M250.91,141.04 A64.60,64.60 0 0 0 253.60,140.80" fill="none" stroke="#59b151" stroke-width="3.4"/>
<path d="M253.15,140.85 A64.60,64.60 0 0 0 255.84,140.51" fill="none" stroke="#5ab250" stroke-width="3.4"/>
<path d="M255.39,140.57 A64.60,64.60 0 0 0 258.06,140.14" fill="none" stroke="#5cb24e" stroke-width="3.4"/>
<path d="M257.62,140.22 A64.60,64.60 0 0 0 260.27,139.69" fill="none" stroke="#5db34d" stroke-width="3.4"/>
<path d="M259.83,139.79 A64.60,64.60 0 0 0 262.47,139.17" fill="none" stroke="#5eb44c" stroke-width="3.4"/>
<path d="M262.03,139.28 A64.60,64.60 0 0 0 264.64,138.57" fill="none" stroke="#60b44b" stroke-width="3.4"/>
<path d="M264.21,138.70 A64.60,64.60 0 0 0 266.79,137.90" fill="none" stroke="#64b649" stroke-width="3.4"/>
<path d="M266.36,138.04 A64.60,64.60 0 0 0 268.92,137.15" fill="none" stroke="#68b747" stroke-width="3.4"/>
<path d="M268.49,137.30 A64.60,64.60 0 0 0 271.02,136.33" fill="none" stroke="#6cb946" stroke-width="3.4"/>
<path d="M270.60,136.50 A64.60,64.60 0 0 0 273.09,135.43" fill="none" stroke="#70ba44" stroke-width="3.4"/>
<path d="M272.68,135.62 A64.60,64.60 0 0 0 275.12,134.46" fill="none" stroke="#74bb42" stroke-width="3.4"/>
<path d="M274.72,134.66 A64.60,64.60 0 0 0 277.13,133.43" fill="none" stroke="#77bd41" stroke-width="3.4"/>
<path d="M276.73,133.64 A64.60,64.60 0 0 0 279.09,132.32" fill="none" stroke="#7bbe3f" stroke-width="3.4"/>
<path d="M278.70,132.55 A64.60,64.60 0 0 0 281.01,131.14" fill="none" stroke="#7fc03d" stroke-width="3.4"/>
<path d="M280.63,131.38 A64.60,64.60 0 0 0 282.90,129.90" fill="none" stroke="#83c13c" stroke-width="3.4"/>
<path d="M282.52,130.16 A64.60,64.60 0 0 0 284.73,128.60" fill="none" stroke="#87c23a" stroke-width="3.4"/>
<path d="M284.37,128.86 A64.60,64.60 0 0 0 286.53,127.23" fill="none" stroke="#8bc438" stroke-width="3.4"/>
<path d="M286.17,127.51 A64.60,64.60 0 0 0 288.27,125.80" fill="none" stroke="#8fc537" stroke-width="3.4"/>
<path d="M287.92,126.09 A64.60,64.60 0 0 0 289.96,124.30" fill="none" stroke="#93c635" stroke-width="3.4"/>
<path d="M289.63,124.61 A64.60,64.60 0 0 0 291.60,122.75" fill="none" stroke="#97c833" stroke-width="3.4"/>
<path d="M291.27,123.07 A64.60,64.60 0 0 0 293.18,121.15" fill="none" stroke="#9ac932" stroke-width="3.4"/>
<path d="M292.87,121.47 A64.60,64.60 0 0 0 294.71,119.49" fill="none" stroke="#9ecb30" stroke-width="3.4"/>
<path d="M294.41,119.83 A64.60,64.60 0 0 0 296.18,117.78" fill="none" stroke="#a2cc2e" stroke-width="3.4"/>
<path d="M295.89,118.12 A64.60,64.60 0 0 0 297.58,116.02" fill="none" stroke="#a6cd2d" stroke-width="3.4"/>
<path d="M297.31,116.37 A64.60,64.60 0 0 0 298.93,114.21" fill="none" stroke="#abcf2b" stroke-width="3.4"/>
<path d="M298.66,114.57 A64.60,64.60 0 0 0 300.21,112.35" fill="none" stroke="#b0d02a" stroke-width="3.4"/>
<path d="M299.96,112.72 A64.60,64.60 0 0 0 301.42,110.45" fill="none" stroke="#b5d229" stroke-width="3.4"/>
<path d="M301.18,110.83 A64.60,64.60 0 0 0 302.57,108.51" fill="none" stroke="#bad328" stroke-width="3.4"/>
<path d="M302.35,108.90 A64.60,64.60 0 0 0 303.65,106.53" fill="none" stroke="#bfd526" stroke-width="3.4"/>
<path d="M303.44,106.93 A64.60,64.60 0 0 0 304.66,104.51" fill="none" stroke="#c4d625" stroke-width="3.4"/>
<path d="M304.46,104.92 A64.60,64.60 0 0 0 305.60,102.46" fill="none" stroke="#c9d724" stroke-width="3.4"/>
<path d="M305.42,102.88 A64.60,64.60 0 0 0 306.46,100.38" fill="none" stroke="#ced923" stroke-width="3.4"/>
<path d="M306.30,100.80 A64.60,64.60 0 0 0 307.26,98.27" fill="none" stroke="#d3da22" stroke-width="3.4"/>
<path d="M307.10,98.69 A64.60,64.60 0 0 0 307.98,96.13" fill="none" stroke="#d8dc20" stroke-width="3.4"/>
<path d="M307.84,96.56 A64.60,64.60 0 0 0 308.62,93.97" fill="none" stroke="#dddd1f" stroke-width="3.4"/>
<path d="M308.50,94.41 A64.60,64.60 0 0 0 309.19,91.79" fill="none" stroke="#e2de1e" stroke-width="3.4"/>
<path d="M309.08,92.23 A64.60,64.60 0 0 0 309.68,89.59" fill="none" stroke="#e7e01d" stroke-width="3.4"/>
<path d="M309.59,90.03 A64.60,64.60 0 0 0 310.10,87.37" fill="none" stroke="#ece11b" stroke-width="3.4"/>
<path d="M310.02,87.82 A64.60,64.60 0 0 0 310.43,85.14" fill="none" stroke="#f1e31a" stroke-width="3.4"/>
<path d="M310.37,85.59 A64.60,64.60 0 0 0 310.69,82.90" fill="none" stroke="#f5e419" stroke-width="3.4"/>
<path d="M310.65,83.35 A64.60,64.60 0 0 0 310.87,80.66" fill="none" stroke="#f5e019" stroke-width="3.4"/>
<path d="M310.84,81.11 A64.60,64.60 0 0 0 310.97,78.40" fill="none" stroke="#f5dd1a" stroke-width="3.4"/>
<path d="M310.96,78.85 A64.60,64.60 0 0 0 311.00,76.15" fill="none" stroke="#f5d91a" stroke-width="3.4"/>
<path d="M311.00,76.60 A64.60,64.60 0 0 0 310.94,73.89" fill="none" stroke="#f5d61a" stroke-width="3.4"/>
<path d="M310.96,74.35 A64.60,64.60 0 0 0 310.81,71.64" fill="none" stroke="#f6d21a" stroke-width="3.4"/>
<path d="M310.84,72.09 A64.60,64.60 0 0 0 310.60,69.40" fill="none" stroke="#f6cf1b" stroke-width="3.4"/>
<path d="M310.65,69.85 A64.60,64.60 0 0 0 310.31,67.16" fill="none" stroke="#f6cb1b" stroke-width="3.4"/>
<path d="M310.37,67.61 A64.60,64.60 0 0 0 309.94,64.94" fill="none" stroke="#f6c81b" stroke-width="3.4"/>
<path d="M310.02,65.38 A64.60,64.60 0 0 0 309.49,62.73" fill="none" stroke="#f6c41c" stroke-width="3.4"/>
<path d="M309.59,63.17 A64.60,64.60 0 0 0 308.97,60.53" fill="none" stroke="#f6c11c" stroke-width="3.4"/>
<path d="M309.08,60.97 A64.60,64.60 0 0 0 308.37,58.36" fill="none" stroke="#f6bd1c" stroke-width="3.4"/>
<path d="M308.50,58.79 A64.60,64.60 0 0 0 307.70,56.21" fill="none" stroke="#f6ba1c" stroke-width="3.4"/>
<path d="M307.84,56.64 A64.60,64.60 0 0 0 306.95,54.08" fill="none" stroke="#f6b61d" stroke-width="3.4"/>
<path d="M307.10,54.51 A64.60,64.60 0 0 0 306.13,51.98" fill="none" stroke="#f7b31d" stroke-width="3.4"/>
<path d="M306.30,52.40 A64.60,64.60 0 0 0 305.23,49.91" fill="none" stroke="#f7af1d" stroke-width="3.4"/>
<path d="M305.42,50.32 A64.60,64.60 0 0 0 304.26,47.88" fill="none" stroke="#f7ac1d" stroke-width="3.4"/>
<path d="M304.46,48.28 A64.60,64.60 0 0 0 303.23,45.87" fill="none" stroke="#f7a81e" stroke-width="3.4"/>
<path d="M303.44,46.27 A64.60,64.60 0 0 0 302.12,43.91" fill="none" stroke="#f7a51e" stroke-width="3.4"/>
<path d="M302.35,44.30 A64.60,64.60 0 0 0 300.94,41.99" fill="none" stroke="#f6a11f" stroke-width="3.4"/>
<path d="M301.18,42.37 A64.60,64.60 0 0 0 299.70,40.10" fill="none" stroke="#f69d1f" stroke-width="3.4"/>
<path d="M299.96,40.48 A64.60,64.60 0 0 0 298.40,38.27" fill="none" stroke="#f59920" stroke-width="3.4"/>
<path d="M298.66,38.63 A64.60,64.60 0 0 0 297.03,36.47" fill="none" stroke="#f59521" stroke-width="3.4"/>
<path d="M297.31,36.83 A64.60,64.60 0 0 0 295.60,34.73" fill="none" stroke="#f49121" stroke-width="3.4"/>
<path d="M295.89,35.08 A64.60,64.60 0 0 0 294.10,33.04" fill="none" stroke="#f48d22" stroke-width="3.4"/>
<path d="M294.41,33.37 A64.60,64.60 0 0 0 292.55,31.40" fill="none" stroke="#f38922" stroke-width="3.4"/>
<path d="M292.87,31.73 A64.60,64.60 0 0 0 290.95,29.82" fill="none" stroke="#f28423" stroke-width="3.4"/>
<path d="M291.27,30.13 A64.60,64.60 0 0 0 289.29,28.29" fill="none" stroke="#f28024" stroke-width="3.4"/>
<path d="M289.63,28.59 A64.60,64.60 0 0 0 287.58,26.82" fill="none" stroke="#f17c24" stroke-width="3.4"/>
<path d="M287.92,27.11 A64.60,64.60 0 0 0 285.82,25.42" fill="none" stroke="#f17825" stroke-width="3.4"/>
<path d="M286.17,25.69 A64.60,64.60 0 0 0 284.01,24.07" fill="none" stroke="#f07425" stroke-width="3.4"/>
<path d="M284.37,24.34 A64.60,64.60 0 0 0 282.15,22.79" fill="none" stroke="#f07026" stroke-width="3.4"/>
<path d="M282.52,23.04 A64.60,64.60 0 0 0 280.25,21.58" fill="none" stroke="#ef6c27" stroke-width="3.4"/>
<path d="M280.63,21.82 A64.60,64.60 0 0 0 278.31,20.43" fill="none" stroke="#ef6827" stroke-width="3.4"/>
<path d="M278.70,20.65 A64.60,64.60 0 0 0 276.33,19.35" fill="none" stroke="#ee6428" stroke-width="3.4"/>
<path d="M276.73,19.56 A64.60,64.60 0 0 0 274.31,18.34" fill="none" stroke="#ed6029" stroke-width="3.4"/>
<path d="M274.72,18.54 A64.60,64.60 0 0 0 272.26,17.40" fill="none" stroke="#ed5b29" stroke-width="3.4"/>
<path d="M272.68,17.58 A64.60,64.60 0 0 0 270.18,16.54" fill="none" stroke="#ec562a" stroke-width="3.4"/>
<path d="M270.60,16.70 A64.60,64.60 0 0 0 268.07,15.74" fill="none" stroke="#eb512b" stroke-width="3.4"/>
<path d="M268.49,15.90 A64.60,64.60 0 0 0 265.93,15.02" fill="none" stroke="#eb4c2b" stroke-width="3.4"/>
<path d="M266.36,15.16 A64.60,64.60 0 0 0 263.77,14.38" fill="none" stroke="#ea472c" stroke-width="3.4"/>
<path d="M264.21,14.50 A64.60,64.60 0 0 0 261.59,13.81" fill="none" stroke="#e9422d" stroke-width="3.4"/>
<path d="M262.03,13.92 A64.60,64.60 0 0 0 259.39,13.32" fill="none" stroke="#e93e2d" stroke-width="3.4"/>
<path d="M259.83,13.41 A64.60,64.60 0 0 0 257.17,12.90" fill="none" stroke="#e8392e" stroke-width="3.4"/>
<path d="M257.62,12.98 A64.60,64.60 0 0 0 254.94,12.57" fill="none" stroke="#e7342f" stroke-width="3.4"/>
<path d="M255.39,12.63 A64.60,64.60 0 0 0 252.70,12.31" fill="none" stroke="#e62f30" stroke-width="3.4"/>
<path d="M253.15,12.35 A64.60,64.60 0 0 0 250.46,12.13" fill="none" stroke="#e62a30" stroke-width="3.4"/>
<path d="M250.91,12.16 A64.60,64.60 0 0 0 248.20,12.03" fill="none" stroke="#e52531" stroke-width="3.4"/>
<path d="M248.65,12.04 A64.60,64.60 0 0 0 245.95,12.00" fill="none" stroke="#e42032" stroke-width="3.4"/>
<path d="M192.7,628.5 Q244.2,662.3 197.0,701.9" fill="none" stroke="#f8cda5" stroke-width="0.70"/>
<path d="M305.8,659.9 Q244.2,662.3 252.5,601.3" fill="none" stroke="#f8cda5" stroke-width="0.70"/>
<path d="M298.1,632.5 Q244.2,662.3 305.8,662.3" fill="none" stroke="#f8cda5" stroke-width="0.70"/>
<path d="M305.1,652.8 Q244.2,662.3 257.2,602.1" fill="none" stroke="#f8cda5" stroke-width="0.70"/>
<path d="M291.4,622.7 Q244.2,662.3 282.9,614.4" fill="none" stroke="#f8cda5" stroke-width="0.70"/>
<path d="M186.3,641.2 Q244.2,662.3 224.3,720.6" fill="none" stroke="#f8cda5" stroke-width="0.70"/>
<path d="M302.9,643.5 Q244.2,662.3 268.6,605.7" fill="none" stroke="#f8cda5" stroke-width="0.70"/>
<path d="M183.3,671.8 Q244.2,662.3 268.6,718.9" fill="none" stroke="#f8cda5" stroke-width="0.70"/>
<path d="M295.7,628.5 Q244.2,662.3 281.0,612.9" fill="none" stroke="#f8cda5" stroke-width="0.70"/>
<path d="M194.1,626.5 Q244.2,662.3 213.4,715.6" fill="none" stroke="#f8cda5" stroke-width="0.70"/>
<path d="M295.7,628.5 Q244.2,662.3 282.9,614.4" fill="none" stroke="#f8cda5" stroke-width="0.70"/>
<path d="M305.6,667.1 Q244.2,662.3 289.8,703.7" fill="none" stroke="#f8cda5" stroke-width="0.70"/>
<path d="M304.1,648.1 Q244.2,662.3 264.1,604.0" fill="none" stroke="#f8cda5" stroke-width="0.70"/>
<path d="M305.1,671.8 Q244.2,662.3 247.8,723.8" fill="none" stroke="#f8cda5" stroke-width="0.70"/>
<path d="M302.1,641.2 Q244.2,662.3 296.9,694.1" fill="none" stroke="#f8cda5" stroke-width="0.70"/>
<path d="M286.5,707.1 Q244.2,662.3 235.9,723.3" fill="none" stroke="#f8cda5" stroke-width="0.70"/>
<path d="M302.1,641.2 Q244.2,662.3 264.1,604.0" fill="none" stroke="#f8cda5" stroke-width="0.70"/>
<path d="M291.4,701.9 Q244.2,662.3 250.2,723.6" fill="none" stroke="#f8cda5" stroke-width="0.70"/>
<path d="M305.4,655.1 Q244.2,662.3 264.1,604.0" fill="none" stroke="#f8cda5" stroke-width="0.70"/>
<path d="M288.2,705.4 Q244.2,662.3 254.9,723.0" fill="none" stroke="#f8cda5" stroke-width="0.70"/>
<path d="M192.7,696.1 Q244.2,662.3 268.6,718.9" fill="none" stroke="#f8cda5" stroke-width="0.70"/>
<path d="M304.6,650.4 Q244.2,662.3 300.3,687.8" fill="none" stroke="#f8cda5" stroke-width="0.70"/>
<path d="M292.9,624.6 Q244.2,662.3 281.0,612.9" fill="none" stroke="#f8cda5" stroke-width="0.70"/>
<path d="M191.5,694.1 Q244.2,662.3 289.8,703.7" fill="none" stroke="#f8cda5" stroke-width="0.70"/>
<path d="M302.9,643.5 Q244.2,662.3 268.6,605.7" fill="none" stroke="#f8cda5" stroke-width="0.70"/>
<path d="M301.2,639.0 Q244.2,662.3 275.0,609.0" fill="none" stroke="#f8cda5" stroke-width="0.70"/>
<path d="M305.8,659.9 Q244.2,662.3 257.2,602.1" fill="none" stroke="#f8cda5" stroke-width="0.70"/>
<path d="M277.0,714.4 Q244.2,662.3 240.6,723.8" fill="none" stroke="#f8cda5" stroke-width="0.70"/>
<path d="M298.1,632.5 Q244.2,662.3 272.9,607.8" fill="none" stroke="#f8cda5" stroke-width="0.70"/>
<path d="M299.2,634.7 Q244.2,662.3 277.0,610.2" fill="none" stroke="#f8cda5" stroke-width="0.70"/>
<path d="M299.2,634.7 Q244.2,662.3 272.9,607.8" fill="none" stroke="#f8cda5" stroke-width="0.70"/>
<path d="M281.0,711.7 Q244.2,662.3 235.9,723.3" fill="none" stroke="#f8cda5" stroke-width="0.70"/>
<path d="M291.4,622.7 Q244.2,662.3 282.9,614.4" fill="none" stroke="#f8cda5" stroke-width="0.70"/>
<path d="M303.5,645.8 Q244.2,662.3 266.4,604.8" fill="none" stroke="#f8cda5" stroke-width="0.70"/>
<path d="M189.2,689.9 Q244.2,662.3 268.6,718.9" fill="none" stroke="#f8cda5" stroke-width="0.70"/>
<path d="M188.1,636.8 Q244.2,662.3 235.9,723.3" fill="none" stroke="#f8cda5" stroke-width="0.70"/>
<path d="M182.6,659.9 Q244.2,662.3 240.6,723.8" fill="none" stroke="#f8cda5" stroke-width="0.70"/>
<path d="M296.9,630.5 Q244.2,662.3 277.0,610.2" fill="none" stroke="#f8cda5" stroke-width="0.70"/>
<path d="M197.0,701.9 Q244.2,662.3 295.7,696.1" fill="none" stroke="#f8cda5" stroke-width="0.70"/>
<path d="M305.6,657.5 Q244.2,662.3 272.9,716.8" fill="none" stroke="#f8cda5" stroke-width="0.70"/>
<path d="M304.1,676.5 Q244.2,662.3 279.0,713.1" fill="none" stroke="#f8cda5" stroke-width="0.70"/>
<path d="M305.1,652.8 Q244.2,662.3 266.4,604.8" fill="none" stroke="#f8cda5" stroke-width="0.70"/>
<path d="M305.6,657.5 Q244.2,662.3 254.9,601.6" fill="none" stroke="#f8cda5" stroke-width="0.70"/>
<path d="M296.9,630.5 Q244.2,662.3 305.8,659.9" fill="none" stroke="#f8cda5" stroke-width="0.70"/>
<path d="M190.3,632.5 Q244.2,662.3 213.4,715.6" fill="none" stroke="#f8cda5" stroke-width="0.70"/>
<path d="M300.3,636.8 Q244.2,662.3 270.8,606.7" fill="none" stroke="#f8cda5" stroke-width="0.70"/>
<path d="M304.6,650.4 Q244.2,662.3 268.6,605.7" fill="none" stroke="#f8cda5" stroke-width="0.70"/>
<path d="M305.8,662.3 Q244.2,662.3 296.9,694.1" fill="none" stroke="#f8cda5" stroke-width="0.70"/>
<path d="M279.0,713.1 Q244.2,662.3 217.6,717.9" fill="none" stroke="#f8cda5" stroke-width="0.70"/>
<path d="M294.3,626.5 Q244.2,662.3 282.9,614.4" fill="none" stroke="#f8cda5" stroke-width="0.70"/>
<path d="M275.0,715.6 Q244.2,662.3 207.4,711.7" fill="none" stroke="#f8cda5" stroke-width="0.70"/>
<path d="M284.7,708.7 Q244.2,662.3 222.0,719.8" fill="none" stroke="#f8cda5" stroke-width="0.70"/>
<path d="M304.1,648.1 Q244.2,662.3 268.6,605.7" fill="none" stroke="#f8cda5" stroke-width="0.70"/>
<path d="M304.6,650.4 Q244.2,662.3 259.6,602.6" fill="none" stroke="#f8cda5" stroke-width="0.70"/>
<path d="M183.0,669.5 Q244.2,662.3 219.8,718.9" fill="none" stroke="#f8cda5" stroke-width="0.70"/>
<path d="M302.1,683.4 Q244.2,662.3 250.2,723.6" fill="none" stroke="#f8cda5" stroke-width="0.70"/>
<path d="M305.6,657.5 Q244.2,662.3 254.9,601.6" fill="none" stroke="#f8cda5" stroke-width="0.70"/>
<path d="M303.5,645.8 Q244.2,662.3 264.1,604.0" fill="none" stroke="#f8cda5" stroke-width="0.70"/>
<path d="M294.3,626.5 Q244.2,662.3 282.9,614.4" fill="none" stroke="#f8cda5" stroke-width="0.70"/>
<path d="M300.3,636.8 Q244.2,662.3 272.9,607.8" fill="none" stroke="#f8cda5" stroke-width="0.70"/>
<path d="M292.9,700.0 Q244.2,662.3 243.0,723.9" fill="none" stroke="#f8cda5" stroke-width="0.70"/>
<path d="M184.3,648.1 Q244.2,662.3 250.2,723.6" fill="none" stroke="#f8cda5" stroke-width="0.70"/>
<path d="M298.1,632.5 Q244.2,662.3 272.9,607.8" fill="none" stroke="#f8cda5" stroke-width="0.70"/>
<path d="M302.1,641.2 Q244.2,662.3 270.8,606.7" fill="none" stroke="#f8cda5" stroke-width="0.70"/>
<path d="M191.5,630.5 Q244.2,662.3 188.1,687.8" fill="none" stroke="#f8cda5" stroke-width="0.70"/>
<path d="M182.8,667.1 Q244.2,662.3 224.3,720.6" fill="none" stroke="#f8cda5" stroke-width="0.70"/>
<path d="M194.1,698.1 Q244.2,662.3 272.9,716.8" fill="none" stroke="#f8cda5" stroke-width="0.70"/>
<path d="M296.9,630.5 Q244.2,662.3 272.9,607.8" fill="none" stroke="#f8cda5" stroke-width="0.70"/>
<path d="M305.4,655.1 Q244.2,662.3 291.4,701.9" fill="none" stroke="#f8cda5" stroke-width="0.70"/>
<path d="M182.6,664.7 Q244.2,662.3 233.5,723.0" fill="none" stroke="#f8cda5" stroke-width="0.70"/>
<path d="M305.4,655.1 Q244.2,662.3 266.4,604.8" fill="none" stroke="#f8cda5" stroke-width="0.70"/>
<path d="M292.9,624.6 Q244.2,662.3 282.9,614.4" fill="none" stroke="#f8cda5" stroke-width="0.70"/>
<path d="M301.2,639.0 Q244.2,662.3 272.9,607.8" fill="none" stroke="#f8cda5" stroke-width="0.70"/>
<path d="M294.3,698.1 Q244.2,662.3 264.1,720.6" fill="none" stroke="#f8cda5" stroke-width="0.70"/>
<path d="M222.0,719.8 Q244.2,662.3 305.4,669.5" fill="none" stroke="#f4aa78" stroke-width="0.70"/>
<path d="M207.4,711.7 Q244.2,662.3 298.1,692.1" fill="none" stroke="#f4aa78" stroke-width="0.70"/>
<path d="M226.5,721.3 Q244.2,662.3 301.2,685.6" fill="none" stroke="#f4aa78" stroke-width="0.70"/>
<path d="M270.8,717.9 Q244.2,662.3 184.9,678.8" fill="none" stroke="#f4aa78" stroke-width="0.70"/>
<path d="M252.5,723.3 Q244.2,662.3 197.0,701.9" fill="none" stroke="#f4aa78" stroke-width="0.70"/>
<path d="M286.5,707.1 Q244.2,662.3 185.5,681.1" fill="none" stroke="#f4aa78" stroke-width="0.70"/>
<path d="M277.0,714.4 Q244.2,662.3 182.6,659.9" fill="none" stroke="#f4aa78" stroke-width="0.70"/>
<path d="M228.8,722.0 Q244.2,662.3 279.0,713.1" fill="none" stroke="#f4aa78" stroke-width="0.70"/>
<path d="M194.1,698.1 Q244.2,662.3 302.9,681.1" fill="none" stroke="#f4aa78" stroke-width="0.70"/>
<path d="M243.0,723.9 Q244.2,662.3 288.2,705.4" fill="none" stroke="#f4aa78" stroke-width="0.70"/>
<path d="M188.1,687.8 Q244.2,662.3 281.0,711.7" fill="none" stroke="#f4aa78" stroke-width="0.70"/>
<path d="M275.0,715.6 Q244.2,662.3 186.3,683.4" fill="none" stroke="#f4aa78" stroke-width="0.70"/>
<path d="M231.2,722.5 Q244.2,662.3 305.6,667.1" fill="none" stroke="#f4aa78" stroke-width="0.70"/>
<path d="M235.9,723.3 Q244.2,662.3 304.6,674.2" fill="none" stroke="#f4aa78" stroke-width="0.70"/>
<path d="M291.4,701.9 Q244.2,662.3 183.8,674.2" fill="none" stroke="#f4aa78" stroke-width="0.70"/>
<path d="M205.5,710.2 Q244.2,662.3 305.8,659.9" fill="none" stroke="#f4aa78" stroke-width="0.70"/>
<path d="M200.2,705.4 Q244.2,662.3 291.4,701.9" fill="none" stroke="#f4aa78" stroke-width="0.70"/>
<path d="M219.8,718.9 Q244.2,662.3 305.8,662.3" fill="none" stroke="#f4aa78" stroke-width="0.70"/>
<path d="M188.1,687.8 Q244.2,662.3 305.8,662.3" fill="none" stroke="#f4aa78" stroke-width="0.70"/>
<path d="M191.5,694.1 Q244.2,662.3 279.0,713.1" fill="none" stroke="#f4aa78" stroke-width="0.70"/>
<path d="M226.5,721.3 Q244.2,662.3 281.0,711.7" fill="none" stroke="#f4aa78" stroke-width="0.70"/>
<path d="M240.6,723.8 Q244.2,662.3 305.6,657.5" fill="none" stroke="#f4aa78" stroke-width="0.70"/>
<path d="M257.2,722.5 Q244.2,662.3 197.0,701.9" fill="none" stroke="#f4aa78" stroke-width="0.70"/>
<path d="M233.5,723.0 Q244.2,662.3 294.3,698.1" fill="none" stroke="#f4aa78" stroke-width="0.70"/>
<path d="M235.9,723.3 Q244.2,662.3 284.7,708.7" fill="none" stroke="#f4aa78" stroke-width="0.70"/>
<path d="M198.6,703.7 Q244.2,662.3 304.6,674.2" fill="none" stroke="#f4aa78" stroke-width="0.70"/>
<path d="M197.0,701.9 Q244.2,662.3 299.2,689.9" fill="none" stroke="#f4aa78" stroke-width="0.70"/>
<path d="M243.0,723.9 Q244.2,662.3 291.4,701.9" fill="none" stroke="#f4aa78" stroke-width="0.70"/>
<path d="M279.0,713.1 Q244.2,662.3 184.9,678.8" fill="none" stroke="#f4aa78" stroke-width="0.70"/>
<path d="M247.8,723.8 Q244.2,662.3 197.0,701.9" fill="none" stroke="#f4aa78" stroke-width="0.70"/>
<path d="M268.6,718.9 Q244.2,662.3 201.9,707.1" fill="none" stroke="#f4aa78" stroke-width="0.70"/>
<path d="M198.6,703.7 Q244.2,662.3 277.0,714.4" fill="none" stroke="#f4aa78" stroke-width="0.70"/>
<path d="M189.2,689.9 Q244.2,662.3 304.6,674.2" fill="none" stroke="#f4aa78" stroke-width="0.70"/>
<path d="M292.9,700.0 Q244.2,662.3 189.2,689.9" fill="none" stroke="#f4aa78" stroke-width="0.70"/>
<path d="M201.9,707.1 Q244.2,662.3 302.9,681.1" fill="none" stroke="#f4aa78" stroke-width="0.70"/>
<path d="M209.4,713.1 Q244.2,662.3 302.1,683.4" fill="none" stroke="#f4aa78" stroke-width="0.70"/>
<path d="M203.7,708.7 Q244.2,662.3 305.4,669.5" fill="none" stroke="#f4aa78" stroke-width="0.70"/>
<path d="M192.7,696.1 Q244.2,662.3 302.9,681.1" fill="none" stroke="#f4aa78" stroke-width="0.70"/>
<path d="M266.4,719.8 Q244.2,662.3 189.2,689.9" fill="none" stroke="#f4aa78" stroke-width="0.70"/>
<path d="M189.2,689.9 Q244.2,662.3 292.9,700.0" fill="none" stroke="#f4aa78" stroke-width="0.70"/>
<path d="M224.3,720.6 Q244.2,662.3 305.8,659.9" fill="none" stroke="#f4aa78" stroke-width="0.70"/>
<path d="M192.7,696.1 Q244.2,662.3 284.7,708.7" fill="none" stroke="#f4aa78" stroke-width="0.70"/>
<path d="M261.9,721.3 Q244.2,662.3 188.1,687.8" fill="none" stroke="#f4aa78" stroke-width="0.70"/>
<path d="M200.2,705.4 Q244.2,662.3 304.1,676.5" fill="none" stroke="#f4aa78" stroke-width="0.70"/>
<path d="M186.3,683.4 Q244.2,662.3 292.9,700.0" fill="none" stroke="#f4aa78" stroke-width="0.70"/>
<path d="M190.3,692.1 Q244.2,662.3 284.7,708.7" fill="none" stroke="#f4aa78" stroke-width="0.70"/>
<path d="M284.7,708.7 Q244.2,662.3 186.3,683.4" fill="none" stroke="#f4aa78" stroke-width="0.70"/>
<path d="M264.1,720.6 Q244.2,662.3 187.2,685.6" fill="none" stroke="#f4aa78" stroke-width="0.70"/>
<path d="M215.5,716.8 Q244.2,662.3 304.6,674.2" fill="none" stroke="#f4aa78" stroke-width="0.70"/>
<path d="M213.4,715.6 Q244.2,662.3 303.5,678.8" fill="none" stroke="#f4aa78" stroke-width="0.70"/>
<path d="M250.2,723.6 Q244.2,662.3 183.8,674.2" fill="none" stroke="#f4aa78" stroke-width="0.70"/>
<path d="M182.6,664.7 Q244.2,662.3 305.4,669.5" fill="none" stroke="#ee7850" stroke-width="0.70"/>
<path d="M185.5,681.1 Q244.2,662.3 305.6,657.5" fill="none" stroke="#ee7850" stroke-width="0.70"/>
<path d="M195.5,700.0 Q244.2,662.3 305.8,664.7" fill="none" stroke="#ee7850" stroke-width="0.70"/>
<path d="M194.1,698.1 Q244.2,662.3 305.6,667.1" fill="none" stroke="#ee7850" stroke-width="0.70"/>
<path d="M182.6,662.3 Q244.2,662.3 305.6,667.1" fill="none" stroke="#ee7850" stroke-width="0.70"/>
<path d="M189.2,689.9 Q244.2,662.3 305.8,659.9" fill="none" stroke="#ee7850" stroke-width="0.70"/>
<path d="M201.9,707.1 Q244.2,662.3 305.6,667.1" fill="none" stroke="#ee7850" stroke-width="0.70"/>
<path d="M183.0,655.1 Q244.2,662.3 296.9,630.5" fill="none" stroke="#e4503c" stroke-width="0.70"/>
<path d="M185.5,643.5 Q244.2,662.3 302.1,641.2" fill="none" stroke="#e4503c" stroke-width="0.70"/>
<path d="M184.9,645.8 Q244.2,662.3 299.2,634.7" fill="none" stroke="#e4503c" stroke-width="0.70"/>
<path d="M182.8,657.5 Q244.2,662.3 294.3,626.5" fill="none" stroke="#e4503c" stroke-width="0.70"/>
<path d="M207.4,612.9 Q244.2,662.3 302.9,643.5" fill="none" stroke="#e4503c" stroke-width="0.70"/>
<path d="M198.6,620.9 Q244.2,662.3 299.2,634.7" fill="none" stroke="#e4503c" stroke-width="0.70"/>
<path d="M185.5,681.1 Q244.2,662.3 254.9,601.6" fill="none" stroke="#e4503c" stroke-width="0.70"/>
<path d="M213.4,609.0 Q244.2,662.3 302.9,643.5" fill="none" stroke="#e4503c" stroke-width="0.70"/>
<path d="M215.5,607.8 Q244.2,662.3 294.3,626.5" fill="none" stroke="#e4503c" stroke-width="0.70"/>
<path d="M217.6,606.7 Q244.2,662.3 305.6,657.5" fill="none" stroke="#e4503c" stroke-width="0.70"/>
<path d="M189.2,634.7 Q244.2,662.3 289.8,620.9" fill="none" stroke="#e4503c" stroke-width="0.70"/>
<path d="M200.2,619.2 Q244.2,662.3 302.1,641.2" fill="none" stroke="#e4503c" stroke-width="0.70"/>
<path d="M184.3,676.5 Q244.2,662.3 254.9,601.6" fill="none" stroke="#e4503c" stroke-width="0.70"/>
<path d="M190.3,632.5 Q244.2,662.3 294.3,626.5" fill="none" stroke="#e4503c" stroke-width="0.70"/>
<path d="M188.1,636.8 Q244.2,662.3 305.4,655.1" fill="none" stroke="#e4503c" stroke-width="0.70"/>
<path d="M183.3,652.8 Q244.2,662.3 305.6,667.1" fill="none" stroke="#e4503c" stroke-width="0.70"/>
<path d="M191.5,630.5 Q244.2,662.3 302.9,643.5" fill="none" stroke="#e4503c" stroke-width="0.70"/>
<path d="M184.9,678.8 Q244.2,662.3 268.6,605.7" fill="none" stroke="#e4503c" stroke-width="0.70"/>
<path d="M189.2,634.7 Q244.2,662.3 304.6,650.4" fill="none" stroke="#e4503c" stroke-width="0.70"/>
<path d="M203.7,615.9 Q244.2,662.3 304.1,648.1" fill="none" stroke="#e4503c" stroke-width="0.70"/>
<path d="M186.3,683.4 Q244.2,662.3 277.0,610.2" fill="none" stroke="#e4503c" stroke-width="0.70"/>
<path d="M194.1,626.5 Q244.2,662.3 305.6,657.5" fill="none" stroke="#e4503c" stroke-width="0.70"/>
<path d="M183.8,650.4 Q244.2,662.3 295.7,628.5" fill="none" stroke="#e4503c" stroke-width="0.70"/>
<path d="M195.5,700.0 Q244.2,662.3 281.0,612.9" fill="none" stroke="#e4503c" stroke-width="0.70"/>
<path d="M187.2,639.0 Q244.2,662.3 289.8,620.9" fill="none" stroke="#e4503c" stroke-width="0.70"/>
<path d="M188.1,687.8 Q244.2,662.3 286.5,617.5" fill="none" stroke="#e4503c" stroke-width="0.70"/>
<path d="M211.4,610.2 Q244.2,662.3 305.1,652.8" fill="none" stroke="#e4503c" stroke-width="0.70"/>
<path d="M183.8,650.4 Q244.2,662.3 305.8,659.9" fill="none" stroke="#e4503c" stroke-width="0.70"/>
<path d="M189.2,689.9 Q244.2,662.3 279.0,611.5" fill="none" stroke="#e4503c" stroke-width="0.70"/>
<path d="M203.7,615.9 Q244.2,662.3 305.1,652.8" fill="none" stroke="#e4503c" stroke-width="0.70"/>
<path d="M183.0,655.1 Q244.2,662.3 264.1,604.0" fill="none" stroke="#e4503c" stroke-width="0.70"/>
<path d="M188.1,636.8 Q244.2,662.3 294.3,626.5" fill="none" stroke="#e4503c" stroke-width="0.70"/>
<path d="M188.1,687.8 Q244.2,662.3 257.2,602.1" fill="none" stroke="#e4503c" stroke-width="0.70"/>
<path d="M187.2,639.0 Q244.2,662.3 304.6,650.4" fill="none" stroke="#e4503c" stroke-width="0.70"/>
<path d="M198.6,703.7 Q244.2,662.3 279.0,611.5" fill="none" stroke="#e4503c" stroke-width="0.70"/>
<path d="M194.1,698.1 Q244.2,662.3 261.9,603.3" fill="none" stroke="#e4503c" stroke-width="0.70"/>
<path d="M201.9,617.5 Q244.2,662.3 305.8,664.7" fill="none" stroke="#e4503c" stroke-width="0.70"/>
<path d="M200.2,619.2 Q244.2,662.3 298.1,632.5" fill="none" stroke="#e4503c" stroke-width="0.70"/>
<path d="M183.0,669.5 Q244.2,662.3 259.6,602.6" fill="none" stroke="#e4503c" stroke-width="0.70"/>
<path d="M190.3,692.1 Q244.2,662.3 247.8,600.8" fill="none" stroke="#e4503c" stroke-width="0.70"/>
<path d="M183.0,669.5 Q244.2,662.3 261.9,603.3" fill="none" stroke="#e4503c" stroke-width="0.70"/>
<path d="M187.2,685.6 Q244.2,662.3 261.9,603.3" fill="none" stroke="#e4503c" stroke-width="0.70"/>
<path d="M182.8,667.1 Q244.2,662.3 252.5,601.3" fill="none" stroke="#e4503c" stroke-width="0.70"/>
<path d="M185.5,681.1 Q244.2,662.3 261.9,603.3" fill="none" stroke="#e4503c" stroke-width="0.70"/>
<path d="M184.9,645.8 Q244.2,662.3 303.5,645.8" fill="none" stroke="#e4503c" stroke-width="0.70"/>
<path d="M213.4,609.0 Q244.2,662.3 296.9,630.5" fill="none" stroke="#e4503c" stroke-width="0.70"/>
<path d="M191.5,694.1 Q244.2,662.3 268.6,605.7" fill="none" stroke="#e4503c" stroke-width="0.70"/>
<path d="M182.6,662.3 Q244.2,662.3 257.2,602.1" fill="none" stroke="#e4503c" stroke-width="0.70"/>
<path d="M200.2,705.4 Q244.2,662.3 270.8,606.7" fill="none" stroke="#e4503c" stroke-width="0.70"/>
<path d="M194.1,626.5 Q244.2,662.3 284.7,615.9" fill="none" stroke="#e4503c" stroke-width="0.70"/>
<path d="M197.0,622.7 Q244.2,662.3 305.8,659.9" fill="none" stroke="#e4503c" stroke-width="0.70"/>
<path d="M183.3,671.8 Q244.2,662.3 259.6,602.6" fill="none" stroke="#e4503c" stroke-width="0.70"/>
<path d="M182.8,657.5 Q244.2,662.3 282.9,614.4" fill="none" stroke="#e4503c" stroke-width="0.70"/>
<path d="M205.5,614.4 Q244.2,662.3 305.8,662.3" fill="none" stroke="#e4503c" stroke-width="0.70"/>
<path d="M192.7,628.5 Q244.2,662.3 284.7,615.9" fill="none" stroke="#e4503c" stroke-width="0.70"/>
<path d="M217.6,606.7 Q244.2,662.3 305.8,664.7" fill="none" stroke="#e4503c" stroke-width="0.70"/>
<path d="M215.5,607.8 Q244.2,662.3 302.1,641.2" fill="none" stroke="#e4503c" stroke-width="0.70"/>
<path d="M201.9,617.5 Q244.2,662.3 298.1,632.5" fill="none" stroke="#e4503c" stroke-width="0.70"/>
<path d="M183.0,655.1 Q244.2,662.3 284.7,615.9" fill="none" stroke="#e4503c" stroke-width="0.70"/>
<path d="M191.5,630.5 Q244.2,662.3 305.8,664.7" fill="none" stroke="#e4503c" stroke-width="0.70"/>
<path d="M200.2,705.4 Q244.2,662.3 275.0,609.0" fill="none" stroke="#e4503c" stroke-width="0.70"/>
<path d="M195.5,700.0 Q244.2,662.3 250.2,601.0" fill="none" stroke="#e4503c" stroke-width="0.70"/>
<path d="M209.4,611.5 Q244.2,662.3 288.2,619.2" fill="none" stroke="#e4503c" stroke-width="0.70"/>
<path d="M186.3,641.2 Q244.2,662.3 305.6,667.1" fill="none" stroke="#e4503c" stroke-width="0.70"/>
<path d="M191.5,694.1 Q244.2,662.3 259.6,602.6" fill="none" stroke="#e4503c" stroke-width="0.70"/>
<path d="M185.5,643.5 Q244.2,662.3 305.6,657.5" fill="none" stroke="#e4503c" stroke-width="0.70"/>
<path d="M233.5,601.6 Q244.2,662.3 252.5,601.3" fill="none" stroke="#b9142d" stroke-width="0.70"/>
<path d="M231.2,602.1 Q244.2,662.3 259.6,602.6" fill="none" stroke="#b9142d" stroke-width="0.70"/>
<path d="M235.9,601.3 Q244.2,662.3 257.2,602.1" fill="none" stroke="#b9142d" stroke-width="0.70"/>
<path d="M224.3,604.0 Q244.2,662.3 264.1,604.0" fill="none" stroke="#b9142d" stroke-width="0.70"/>
<path d="M222.0,604.8 Q244.2,662.3 270.8,606.7" fill="none" stroke="#b9142d" stroke-width="0.70"/>
<path d="M224.3,604.0 Q244.2,662.3 270.8,606.7" fill="none" stroke="#b9142d" stroke-width="0.70"/>
<path d="M224.3,604.0 Q244.2,662.3 257.2,602.1" fill="none" stroke="#b9142d" stroke-width="0.70"/>
<path d="M228.8,602.6 Q244.2,662.3 257.2,602.1" fill="none" stroke="#b9142d" stroke-width="0.70"/>
<path d="M219.8,605.7 Q244.2,662.3 275.0,609.0" fill="none" stroke="#b9142d" stroke-width="0.70"/>
<path d="M219.8,605.7 Q244.2,662.3 268.6,605.7" fill="none" stroke="#b9142d" stroke-width="0.70"/>
<path d="M235.9,601.3 Q244.2,662.3 254.9,601.6" fill="none" stroke="#b9142d" stroke-width="0.70"/>
<path d="M226.5,603.3 Q244.2,662.3 257.2,602.1" fill="none" stroke="#b9142d" stroke-width="0.70"/>
<path d="M238.2,601.0 Q244.2,662.3 252.5,601.3" fill="none" stroke="#b9142d" stroke-width="0.70"/>
<path d="M226.5,603.3 Q244.2,662.3 257.2,602.1" fill="none" stroke="#b9142d" stroke-width="0.70"/>
<path d="M228.8,602.6 Q244.2,662.3 264.1,604.0" fill="none" stroke="#b9142d" stroke-width="0.70"/>
<path d="M235.9,601.3 Q244.2,662.3 250.2,601.0" fill="none" stroke="#b9142d" stroke-width="0.70"/>
<path d="M226.5,603.3 Q244.2,662.3 264.1,604.0" fill="none" stroke="#b9142d" stroke-width="0.70"/>
<path d="M219.8,605.7 Q244.2,662.3 261.9,603.3" fill="none" stroke="#b9142d" stroke-width="0.70"/>
<path d="M233.5,601.6 Q244.2,662.3 252.5,601.3" fill="none" stroke="#b9142d" stroke-width="0.70"/>
<path d="M240.6,600.8 Q244.2,662.3 247.8,600.8" fill="none" stroke="#b9142d" stroke-width="0.70"/>
<path d="M240.6,600.8 Q244.2,662.3 252.5,601.3" fill="none" stroke="#b9142d" stroke-width="0.70"/>
<path d="M231.2,602.1 Q244.2,662.3 257.2,602.1" fill="none" stroke="#b9142d" stroke-width="0.70"/>
<path d="M231.2,602.1 Q244.2,662.3 259.6,602.6" fill="none" stroke="#b9142d" stroke-width="0.70"/>
<path d="M238.2,601.0 Q244.2,662.3 247.8,600.8" fill="none" stroke="#b9142d" stroke-width="0.70"/>
<path d="M243.0,600.7 Q244.2,662.3 247.8,600.8" fill="none" stroke="#b9142d" stroke-width="0.70"/>
<path d="M243.0,600.7 Q244.2,662.3 247.8,600.8" fill="none" stroke="#b9142d" stroke-width="0.70"/>
<path d="M217.6,606.7 Q244.2,662.3 261.9,603.3" fill="none" stroke="#b9142d" stroke-width="0.70"/>
<path d="M228.8,602.6 Q244.2,662.3 266.4,604.8" fill="none" stroke="#b9142d" stroke-width="0.70"/>
<path d="M240.6,600.8 Q244.2,662.3 250.2,601.0" fill="none" stroke="#b9142d" stroke-width="0.70"/>
<path d="M222.0,604.8 Q244.2,662.3 268.6,605.7" fill="none" stroke="#b9142d" stroke-width="0.70"/>
<path d="M222.0,604.8 Q244.2,662.3 261.9,603.3" fill="none" stroke="#b9142d" stroke-width="0.70"/>
<path d="M233.5,601.6 Q244.2,662.3 254.9,601.6" fill="none" stroke="#b9142d" stroke-width="0.70"/>
<path d="M238.2,601.0 Q244.2,662.3 250.2,601.0" fill="none" stroke="#b9142d" stroke-width="0.70"/>
<path d="M244.20,599.00 A63.30,63.30 0 0 0 241.55,599.06" fill="none" stroke="#325aaf" stroke-width="3.4"/>
<path d="M241.99,599.04 A63.30,63.30 0 0 0 239.34,599.19" fill="none" stroke="#325bb0" stroke-width="3.4"/>
<path d="M239.78,599.15 A63.30,63.30 0 0 0 237.14,599.39" fill="none" stroke="#325cb1" stroke-width="3.4"/>
<path d="M237.58,599.35 A63.30,63.30 0 0 0 234.95,599.68" fill="none" stroke="#325db2" stroke-width="3.4"/>
<path d="M235.39,599.62 A63.30,63.30 0 0 0 232.77,600.04" fill="none" stroke="#325eb2" stroke-width="3.4"/>
<path d="M233.21,599.96 A63.30,63.30 0 0 0 230.61,600.48" fill="none" stroke="#325fb3" stroke-width="3.4"/>
<path d="M231.04,600.38 A63.30,63.30 0 0 0 228.46,600.99" fill="none" stroke="#325fb4" stroke-width="3.4"/>
<path d="M228.89,600.88 A63.30,63.30 0 0 0 226.33,601.58" fill="none" stroke="#3260b4" stroke-width="3.4"/>
<path d="M226.75,601.45 A63.30,63.30 0 0 0 224.22,602.24" fill="none" stroke="#3261b5" stroke-width="3.4"/>
<path d="M224.64,602.10 A63.30,63.30 0 0 0 222.14,602.97" fill="none" stroke="#3262b6" stroke-width="3.4"/>
<path d="M222.55,602.82 A63.30,63.30 0 0 0 220.08,603.78" fill="none" stroke="#3263b7" stroke-width="3.4"/>
<path d="M220.49,603.61 A63.30,63.30 0 0 0 218.05,604.65" fill="none" stroke="#3264b7" stroke-width="3.4"/>
<path d="M218.45,604.47 A63.30,63.30 0 0 0 216.05,605.60" fill="none" stroke="#3264b8" stroke-width="3.4"/>
<path d="M216.45,605.41 A63.30,63.30 0 0 0 214.09,606.62" fill="none" stroke="#3265b9" stroke-width="3.4"/>
<path d="M214.48,606.41 A63.30,63.30 0 0 0 212.17,607.70" fill="none" stroke="#3266b9" stroke-width="3.4"/>
<path d="M212.55,607.48 A63.30,63.30 0 0 0 210.28,608.85" fill="none" stroke="#3267ba" stroke-width="3.4"/>
<path d="M210.66,608.62 A63.30,63.30 0 0 0 208.44,610.07" fill="none" stroke="#3268bb" stroke-width="3.4"/>
<path d="M208.80,609.82 A63.30,63.30 0 0 0 206.64,611.35" fill="none" stroke="#3269bc" stroke-width="3.4"/>
<path d="M206.99,611.09 A63.30,63.30 0 0 0 204.88,612.69" fill="none" stroke="#326bbd" stroke-width="3.4"/>
<path d="M205.23,612.42 A63.30,63.30 0 0 0 203.17,614.09" fill="none" stroke="#316ebf" stroke-width="3.4"/>
<path d="M203.51,613.81 A63.30,63.30 0 0 0 201.52,615.56" fill="none" stroke="#3071c1" stroke-width="3.4"/>
<path d="M201.84,615.26 A63.30,63.30 0 0 0 199.91,617.07" fill="none" stroke="#2f74c3" stroke-width="3.4"/>
<path d="M200.23,616.77 A63.30,63.30 0 0 0 198.36,618.65" fill="none" stroke="#2e78c5" stroke-width="3.4"/>
<path d="M198.67,618.33 A63.30,63.30 0 0 0 196.86,620.27" fill="none" stroke="#2d7bc7" stroke-width="3.4"/>
<path d="M197.16,619.94 A63.30,63.30 0 0 0 195.43,621.95" fill="none" stroke="#2c7ec9" stroke-width="3.4"/>
<path d="M195.71,621.61 A63.30,63.30 0 0 0 194.05,623.68" fill="none" stroke="#2b81cb" stroke-width="3.4"/>
<path d="M194.32,623.33 A63.30,63.30 0 0 0 192.73,625.45" fill="none" stroke="#2a85cd" stroke-width="3.4"/>
<path d="M192.99,625.09 A63.30,63.30 0 0 0 191.48,627.27" fill="none" stroke="#2988cf" stroke-width="3.4"/>
<path d="M191.72,626.90 A63.30,63.30 0 0 0 190.29,629.13" fill="none" stroke="#288bd1" stroke-width="3.4"/>
<path d="M190.52,628.76 A63.30,63.30 0 0 0 189.16,631.03" fill="none" stroke="#278fd3" stroke-width="3.4"/>
<path d="M189.38,630.65 A63.30,63.30 0 0 0 188.10,632.97" fill="none" stroke="#2593d5" stroke-width="3.4"/>
<path d="M188.31,632.58 A63.30,63.30 0 0 0 187.11,634.95" fill="none" stroke="#2497d7" stroke-width="3.4"/>
<path d="M187.31,634.55 A63.30,63.30 0 0 0 186.19,636.96" fill="none" stroke="#229cd9" stroke-width="3.4"/>
<path d="M186.37,636.55 A63.30,63.30 0 0 0 185.35,639.00" fill="none" stroke="#20a0db" stroke-width="3.4"/>
<path d="M185.51,638.59 A63.30,63.30 0 0 0 184.57,641.07" fill="none" stroke="#1ea4dd" stroke-width="3.4"/>
<path d="M184.72,640.65 A63.30,63.30 0 0 0 183.86,643.16" fill="none" stroke="#1da8df" stroke-width="3.4"/>
<path d="M184.00,642.74 A63.30,63.30 0 0 0 183.23,645.28" fill="none" stroke="#1bade1" stroke-width="3.4"/>
<path d="M183.35,644.85 A63.30,63.30 0 0 0 182.67,647.42" fill="none" stroke="#19b1e3" stroke-width="3.4"/>
<path d="M182.78,646.99 A63.30,63.30 0 0 0 182.19,649.57" fill="none" stroke="#1ab2e2" stroke-width="3.4"/>
<path d="M182.28,649.14 A63.30,63.30 0 0 0 181.79,651.74" fill="none" stroke="#1bb2df" stroke-width="3.4"/>
<path d="M181.86,651.31 A63.30,63.30 0 0 0 181.46,653.93" fill="none" stroke="#1db2dc" stroke-width="3.4"/>
<path d="M181.52,653.49 A63.30,63.30 0 0 0 181.20,656.12" fill="none" stroke="#1eb2d9" stroke-width="3.4"/>
<path d="M181.25,655.68 A63.30,63.30 0 0 0 181.02,658.33" fill="none" stroke="#20b2d6" stroke-width="3.4"/>
<path d="M181.05,657.88 A63.30,63.30 0 0 0 180.92,660.53" fill="none" stroke="#21b2d3" stroke-width="3.4"/>
<path d="M180.94,660.09 A63.30,63.30 0 0 0 180.90,662.74" fill="none" stroke="#22b2d0" stroke-width="3.4"/>
<path d="M180.90,662.30 A63.30,63.30 0 0 0 180.96,664.95" fill="none" stroke="#24b2cc" stroke-width="3.4"/>
<path d="M180.94,664.51 A63.30,63.30 0 0 0 181.09,667.16" fill="none" stroke="#25b2c9" stroke-width="3.4"/>
<path d="M181.05,666.72 A63.30,63.30 0 0 0 181.29,669.36" fill="none" stroke="#26b2c6" stroke-width="3.4"/>
<path d="M181.25,668.92 A63.30,63.30 0 0 0 181.58,671.55" fill="none" stroke="#28b2c3" stroke-width="3.4"/>
<path d="M181.52,671.11 A63.30,63.30 0 0 0 181.94,673.73" fill="none" stroke="#29b2c0" stroke-width="3.4"/>
<path d="M181.86,673.29 A63.30,63.30 0 0 0 182.38,675.89" fill="none" stroke="#2bb1bc" stroke-width="3.4"/>
<path d="M182.28,675.46 A63.30,63.30 0 0 0 182.89,678.04" fill="none" stroke="#2cb1b9" stroke-width="3.4"/>
<path d="M182.78,677.61 A63.30,63.30 0 0 0 183.48,680.17" fill="none" stroke="#2db0b5" stroke-width="3.4"/>
<path d="M183.35,679.75 A63.30,63.30 0 0 0 184.14,682.28" fill="none" stroke="#2fb0b2" stroke-width="3.4"/>
<path d="M184.00,681.86 A63.30,63.30 0 0 0 184.87,684.36" fill="none" stroke="#30b0af" stroke-width="3.4"/>
<path d="M184.72,683.95 A63.30,63.30 0 0 0 185.68,686.42" fill="none" stroke="#32afab" stroke-width="3.4"/>
<path d="M185.51,686.01 A63.30,63.30 0 0 0 186.55,688.45" fill="none" stroke="#33afa8" stroke-width="3.4"/>
<path d="M186.37,688.05 A63.30,63.30 0 0 0 187.50,690.45" fill="none" stroke="#34aea4" stroke-width="3.4"/>
<path d="M187.31,690.05 A63.30,63.30 0 0 0 188.52,692.41" fill="none" stroke="#36aea1" stroke-width="3.4"/>
<path d="M188.31,692.02 A63.30,63.30 0 0 0 189.60,694.33" fill="none" stroke="#37ad9d" stroke-width="3.4"/>
<path d="M189.38,693.95 A63.30,63.30 0 0 0 190.75,696.22" fill="none" stroke="#39ad9a" stroke-width="3.4"/>
<path d="M190.52,695.84 A63.30,63.30 0 0 0 191.97,698.06" fill="none" stroke="#3aad96" stroke-width="3.4"/>
<path d="M191.72,697.70 A63.30,63.30 0 0 0 193.25,699.86" fill="none" stroke="#3bac93" stroke-width="3.4"/>
<path d="M192.99,699.51 A63.30,63.30 0 0 0 194.59,701.62" fill="none" stroke="#3cac90" stroke-width="3.4"/>
<path d="M194.32,701.27 A63.30,63.30 0 0 0 195.99,703.33" fill="none" stroke="#3dac8d" stroke-width="3.4"/>
<path d="M195.71,702.99 A63.30,63.30 0 0 0 197.46,704.98" fill="none" stroke="#3eac8a" stroke-width="3.4"/>
<path d="M197.16,704.66 A63.30,63.30 0 0 0 198.97,706.59" fill="none" stroke="#3fac87" stroke-width="3.4"/>
<path d="M198.67,706.27 A63.30,63.30 0 0 0 200.55,708.14" fill="none" stroke="#40ac84" stroke-width="3.4"/>
<path d="M200.23,707.83 A63.30,63.30 0 0 0 202.17,709.64" fill="none" stroke="#41ab82" stroke-width="3.4"/>
<path d="M201.84,709.34 A63.30,63.30 0 0 0 203.85,711.07" fill="none" stroke="#41ab7f" stroke-width="3.4"/>
<path d="M203.51,710.79 A63.30,63.30 0 0 0 205.58,712.45" fill="none" stroke="#42ab7c" stroke-width="3.4"/>
<path d="M205.23,712.18 A63.30,63.30 0 0 0 207.35,713.77" fill="none" stroke="#43ab79" stroke-width="3.4"/>
<path d="M206.99,713.51 A63.30,63.30 0 0 0 209.17,715.02" fill="none" stroke="#44ab77" stroke-width="3.4"/>
<path d="M208.80,714.78 A63.30,63.30 0 0 0 211.03,716.21" fill="none" stroke="#45ab74" stroke-width="3.4"/>
<path d="M210.66,715.98 A63.30,63.30 0 0 0 212.93,717.34" fill="none" stroke="#46ab71" stroke-width="3.4"/>
<path d="M212.55,717.12 A63.30,63.30 0 0 0 214.87,718.40" fill="none" stroke="#46ab6e" stroke-width="3.4"/>
<path d="M214.48,718.19 A63.30,63.30 0 0 0 216.85,719.39" fill="none" stroke="#47aa6c" stroke-width="3.4"/>
<path d="M216.45,719.19 A63.30,63.30 0 0 0 218.86,720.31" fill="none" stroke="#48aa69" stroke-width="3.4"/>
<path d="M218.45,720.13 A63.30,63.30 0 0 0 220.90,721.15" fill="none" stroke="#49aa66" stroke-width="3.4"/>
<path d="M220.49,720.99 A63.30,63.30 0 0 0 222.97,721.93" fill="none" stroke="#4aaa63" stroke-width="3.4"/>
<path d="M222.55,721.78 A63.30,63.30 0 0 0 225.06,722.64" fill="none" stroke="#4baa60" stroke-width="3.4"/>
<path d="M224.64,722.50 A63.30,63.30 0 0 0 227.18,723.27" fill="none" stroke="#4caa5e" stroke-width="3.4"/>
<path d="M226.75,723.15 A63.30,63.30 0 0 0 229.32,723.83" fill="none" stroke="#4dab5d" stroke-width="3.4"/>
<path d="M228.89,723.72 A63.30,63.30 0 0 0 231.47,724.31" fill="none" stroke="#4eac5c" stroke-width="3.4"/>
<path d="M231.04,724.22 A63.30,63.30 0 0 0 233.64,724.71" fill="none" stroke="#4fac5b" stroke-width="3.4"/>
<path d="M233.21,724.64 A63.30,63.30 0 0 0 235.83,725.04" fill="none" stroke="#51ad59" stroke-width="3.4"/>
<path d="M235.39,724.98 A63.30,63.30 0 0 0 238.02,725.30" fill="none" stroke="#52ad58" stroke-width="3.4"/>
<path d="M237.58,725.25 A63.30,63.30 0 0 0 240.23,725.48" fill="none" stroke="#53ae57" stroke-width="3.4"/>
<path d="M239.78,725.45 A63.30,63.30 0 0 0 242.43,725.58" fill="none" stroke="#54af56" stroke-width="3.4"/>
<path d="M241.99,725.56 A63.30,63.30 0 0 0 244.64,725.60" fill="none" stroke="#55af55" stroke-width="3.4"/>
<path d="M244.20,725.60 A63.30,63.30 0 0 0 246.85,725.54" fill="none" stroke="#57b053" stroke-width="3.4"/>
<path d="M246.41,725.56 A63.30,63.30 0 0 0 249.06,725.41" fill="none" stroke="#58b052" stroke-width="3.4"/>
<path d="M248.62,725.45 A63.30,63.30 0 0 0 251.26,725.21" fill="none" stroke="#59b151" stroke-width="3.4"/>
<path d="M250.82,725.25 A63.30,63.30 0 0 0 253.45,724.92" fill="none" stroke="#5ab250" stroke-width="3.4"/>
<path d="M253.01,724.98 A63.30,63.30 0 0 0 255.63,724.56" fill="none" stroke="#5cb24e" stroke-width="3.4"/>
<path d="M255.19,724.64 A63.30,63.30 0 0 0 257.79,724.12" fill="none" stroke="#5db34d" stroke-width="3.4"/>
<path d="M257.36,724.22 A63.30,63.30 0 0 0 259.94,723.61" fill="none" stroke="#5eb44c" stroke-width="3.4"/>
<path d="M259.51,723.72 A63.30,63.30 0 0 0 262.07,723.02" fill="none" stroke="#60b44b" stroke-width="3.4"/>
<path d="M261.65,723.15 A63.30,63.30 0 0 0 264.18,722.36" fill="none" stroke="#64b649" stroke-width="3.4"/>
<path d="M263.76,722.50 A63.30,63.30 0 0 0 266.26,721.63" fill="none" stroke="#68b747" stroke-width="3.4"/>
<path d="M265.85,721.78 A63.30,63.30 0 0 0 268.32,720.82" fill="none" stroke="#6cb946" stroke-width="3.4"/>
<path d="M267.91,720.99 A63.30,63.30 0 0 0 270.35,719.95" fill="none" stroke="#70ba44" stroke-width="3.4"/>
<path d="M269.95,720.13 A63.30,63.30 0 0 0 272.35,719.00" fill="none" stroke="#74bb42" stroke-width="3.4"/>
<path d="M271.95,719.19 A63.30,63.30 0 0 0 274.31,717.98" fill="none" stroke="#77bd41" stroke-width="3.4"/>
<path d="M273.92,718.19 A63.30,63.30 0 0 0 276.23,716.90" fill="none" stroke="#7bbe3f" stroke-width="3.4"/>
<path d="M275.85,717.12 A63.30,63.30 0 0 0 278.12,715.75" fill="none" stroke="#7fc03d" stroke-width="3.4"/>
<path d="M277.74,715.98 A63.30,63.30 0 0 0 279.96,714.53" fill="none" stroke="#83c13c" stroke-width="3.4"/>
<path d="M279.60,714.78 A63.30,63.30 0 0 0 281.76,713.25" fill="none" stroke="#87c23a" stroke-width="3.4"/>
<path d="M281.41,713.51 A63.30,63.30 0 0 0 283.52,711.91" fill="none" stroke="#8bc438" stroke-width="3.4"/>
<path d="M283.17,712.18 A63.30,63.30 0 0 0 285.23,710.51" fill="none" stroke="#8fc537" stroke-width="3.4"/>
<path d="M284.89,710.79 A63.30,63.30 0 0 0 286.88,709.04" fill="none" stroke="#93c635" stroke-width="3.4"/>
<path d="M286.56,709.34 A63.30,63.30 0 0 0 288.49,707.53" fill="none" stroke="#97c833" stroke-width="3.4"/>
<path d="M288.17,707.83 A63.30,63.30 0 0 0 290.04,705.95" fill="none" stroke="#9ac932" stroke-width="3.4"/>
<path d="M289.73,706.27 A63.30,63.30 0 0 0 291.54,704.33" fill="none" stroke="#9ecb30" stroke-width="3.4"/>
<path d="M291.24,704.66 A63.30,63.30 0 0 0 292.97,702.65" fill="none" stroke="#a2cc2e" stroke-width="3.4"/>
<path d="M292.69,702.99 A63.30,63.30 0 0 0 294.35,700.92" fill="none" stroke="#a6cd2d" stroke-width="3.4"/>
<path d="M294.08,701.27 A63.30,63.30 0 0 0 295.67,699.15" fill="none" stroke="#abcf2b" stroke-width="3.4"/>
<path d="M295.41,699.51 A63.30,63.30 0 0 0 296.92,697.33" fill="none" stroke="#b0d02a" stroke-width="3.4"/>
<path d="M296.68,697.70 A63.30,63.30 0 0 0 298.11,695.47" fill="none" stroke="#b5d229" stroke-width="3.4"/>
<path d="M297.88,695.84 A63.30,63.30 0 0 0 299.24,693.57" fill="none" stroke="#bad328" stroke-width="3.4"/>
<path d="M299.02,693.95 A63.30,63.30 0 0 0 300.30,691.63" fill="none" stroke="#bfd526" stroke-width="3.4"/>
<path d="M300.09,692.02 A63.30,63.30 0 0 0 301.29,689.65" fill="none" stroke="#c4d625" stroke-width="3.4"/>
<path d="M301.09,690.05 A63.30,63.30 0 0 0 302.21,687.64" fill="none" stroke="#c9d724" stroke-width="3.4"/>
<path d="M302.03,688.05 A63.30,63.30 0 0 0 303.05,685.60" fill="none" stroke="#ced923" stroke-width="3.4"/>
<path d="M302.89,686.01 A63.30,63.30 0 0 0 303.83,683.53" fill="none" stroke="#d3da22" stroke-width="3.4"/>
<path d="M303.68,683.95 A63.30,63.30 0 0 0 304.54,681.44" fill="none" stroke="#d8dc20" stroke-width="3.4"/>
<path d="M304.40,681.86 A63.30,63.30 0 0 0 305.17,679.32" fill="none" stroke="#dddd1f" stroke-width="3.4"/>
<path d="M305.05,679.75 A63.30,63.30 0 0 0 305.73,677.18" fill="none" stroke="#e2de1e" stroke-width="3.4"/>
<path d="M305.62,677.61 A63.30,63.30 0 0 0 306.21,675.03" fill="none" stroke="#e7e01d" stroke-width="3.4"/>
<path d="M306.12,675.46 A63.30,63.30 0 0 0 306.61,672.86" fill="none" stroke="#ece11b" stroke-width="3.4"/>
<path d="M306.54,673.29 A63.30,63.30 0 0 0 306.94,670.67" fill="none" stroke="#f1e31a" stroke-width="3.4"/>
<path d="M306.88,671.11 A63.30,63.30 0 0 0 307.20,668.48" fill="none" stroke="#f5e419" stroke-width="3.4"/>
<path d="M307.15,668.92 A63.30,63.30 0 0 0 307.38,666.27" fill="none" stroke="#f5e019" stroke-width="3.4"/>
<path d="M307.35,666.72 A63.30,63.30 0 0 0 307.48,664.07" fill="none" stroke="#f5dd1a" stroke-width="3.4"/>
<path d="M307.46,664.51 A63.30,63.30 0 0 0 307.50,661.86" fill="none" stroke="#f5d91a" stroke-width="3.4"/>
<path d="M307.50,662.30 A63.30,63.30 0 0 0 307.44,659.65" fill="none" stroke="#f5d61a" stroke-width="3.4"/>
<path d="M307.46,660.09 A63.30,63.30 0 0 0 307.31,657.44" fill="none" stroke="#f6d21a" stroke-width="3.4"/>
<path d="M307.35,657.88 A63.30,63.30 0 0 0 307.11,655.24" fill="none" stroke="#f6cf1b" stroke-width="3.4"/>
<path d="M307.15,655.68 A63.30,63.30 0 0 0 306.82,653.05" fill="none" stroke="#f6cb1b" stroke-width="3.4"/>
<path d="M306.88,653.49 A63.30,63.30 0 0 0 306.46,650.87" fill="none" stroke="#f6c81b" stroke-width="3.4"/>
<path d="M306.54,651.31 A63.30,63.30 0 0 0 306.02,648.71" fill="none" stroke="#f6c41c" stroke-width="3.4"/>
<path d="M306.12,649.14 A63.30,63.30 0 0 0 305.51,646.56" fill="none" stroke="#f6c11c" stroke-width="3.4"/>
<path d="M305.62,646.99 A63.30,63.30 0 0 0 304.92,644.43" fill="none" stroke="#f6bd1c" stroke-width="3.4"/>
<path d="M305.05,644.85 A63.30,63.30 0 0 0 304.26,642.32" fill="none" stroke="#f6ba1c" stroke-width="3.4"/>
<path d="M304.40,642.74 A63.30,63.30 0 0 0 303.53,640.24" fill="none" stroke="#f6b61d" stroke-width="3.4"/>
<path d="M303.68,640.65 A63.30,63.30 0 0 0 302.72,638.18" fill="none" stroke="#f7b31d" stroke-width="3.4"/>
<path d="M302.89,638.59 A63.30,63.30 0 0 0 301.85,636.15" fill="none" stroke="#f7af1d" stroke-width="3.4"/>
<path d="M302.03,636.55 A63.30,63.30 0 0 0 300.90,634.15" fill="none" stroke="#f7ac1d" stroke-width="3.4"/>
<path d="M301.09,634.55 A63.30,63.30 0 0 0 299.88,632.19" fill="none" stroke="#f7a81e" stroke-width="3.4"/>
<path d="M300.09,632.58 A63.30,63.30 0 0 0 298.80,630.27" fill="none" stroke="#f7a51e" stroke-width="3.4"/>
<path d="M299.02,630.65 A63.30,63.30 0 0 0 297.65,628.38" fill="none" stroke="#f6a11f" stroke-width="3.4"/>
<path d="M297.88,628.76 A63.30,63.30 0 0 0 296.43,626.54" fill="none" stroke="#f69d1f" stroke-width="3.4"/>
<path d="M296.68,626.90 A63.30,63.30 0 0 0 295.15,624.74" fill="none" stroke="#f59920" stroke-width="3.4"/>
<path d="M295.41,625.09 A63.30,63.30 0 0 0 293.81,622.98" fill="none" stroke="#f59521" stroke-width="3.4"/>
<path d="M294.08,623.33 A63.30,63.30 0 0 0 292.41,621.27" fill="none" stroke="#f49121" stroke-width="3.4"/>
<path d="M292.69,621.61 A63.30,63.30 0 0 0 290.94,619.62" fill="none" stroke="#f48d22" stroke-width="3.4"/>
<path d="M291.24,619.94 A63.30,63.30 0 0 0 289.43,618.01" fill="none" stroke="#f38922" stroke-width="3.4"/>
<path d="M289.73,618.33 A63.30,63.30 0 0 0 287.85,616.46" fill="none" stroke="#f28423" stroke-width="3.4"/>
<path d="M288.17,616.77 A63.30,63.30 0 0 0 286.23,614.96" fill="none" stroke="#f28024" stroke-width="3.4"/>
<path d="M286.56,615.26 A63.30,63.30 0 0 0 284.55,613.53" fill="none" stroke="#f17c24" stroke-width="3.4"/>
<path d="M284.89,613.81 A63.30,63.30 0 0 0 282.82,612.15" fill="none" stroke="#f17825" stroke-width="3.4"/>
<path d="M283.17,612.42 A63.30,63.30 0 0 0 281.05,610.83" fill="none" stroke="#f07425" stroke-width="3.4"/>
<path d="M281.41,611.09 A63.30,63.30 0 0 0 279.23,609.58" fill="none" stroke="#f07026" stroke-width="3.4"/>
<path d="M279.60,609.82 A63.30,63.30 0 0 0 277.37,608.39" fill="none" stroke="#ef6c27" stroke-width="3.4"/>
<path d="M277.74,608.62 A63.30,63.30 0 0 0 275.47,607.26" fill="none" stroke="#ef6827" stroke-width="3.4"/>
<path d="M275.85,607.48 A63.30,63.30 0 0 0 273.53,606.20" fill="none" stroke="#ee6428" stroke-width="3.4"/>
<path d="M273.92,606.41 A63.30,63.30 0 0 0 271.55,605.21" fill="none" stroke="#ed6029" stroke-width="3.4"/>
<path d="M271.95,605.41 A63.30,63.30 0 0 0 269.54,604.29" fill="none" stroke="#ed5b29" stroke-width="3.4"/>
<path d="M269.95,604.47 A63.30,63.30 0 0 0 267.50,603.45" fill="none" stroke="#ec562a" stroke-width="3.4"/>
<path d="M267.91,603.61 A63.30,63.30 0 0 0 265.43,602.67" fill="none" stroke="#eb512b" stroke-width="3.4"/>
<path d="M265.85,602.82 A63.30,63.30 0 0 0 263.34,601.96" fill="none" stroke="#eb4c2b" stroke-width="3.4"/>
<path d="M263.76,602.10 A63.30,63.30 0 0 0 261.22,601.33" fill="none" stroke="#ea472c" stroke-width="3.4"/>
<path d="M261.65,601.45 A63.30,63.30 0 0 0 259.08,600.77" fill="none" stroke="#e9422d" stroke-width="3.4"/>
<path d="M259.51,600.88 A63.30,63.30 0 0 0 256.93,600.29" fill="none" stroke="#e93e2d" stroke-width="3.4"/>
<path d="M257.36,600.38 A63.30,63.30 0 0 0 254.76,599.89" fill="none" stroke="#e8392e" stroke-width="3.4"/>
<path d="M255.19,599.96 A63.30,63.30 0 0 0 252.57,599.56" fill="none" stroke="#e7342f" stroke-width="3.4"/>
<path d="M253.01,599.62 A63.30,63.30 0 0 0 250.38,599.30" fill="none" stroke="#e62f30" stroke-width="3.4"/>
<path d="M250.82,599.35 A63.30,63.30 0 0 0 248.17,599.12" fill="none" stroke="#e62a30" stroke-width="3.4"/>
<path d="M248.62,599.15 A63.30,63.30 0 0 0 245.97,599.02" fill="none" stroke="#e52531" stroke-width="3.4"/>
<path d="M246.41,599.04 A63.30,63.30 0 0 0 243.76,599.00" fill="none" stroke="#e42032" stroke-width="3.4"/>
<path d="M62.00,64.60 C60.83,64.17 57.45,63.43 55.00,62.00 C52.55,60.57 49.90,56.83 47.30,56.00 C44.70,55.17 42.35,56.30 39.40,57.00 C36.45,57.70 32.38,59.02 29.60,60.20 C26.82,61.38 24.02,64.47 22.70,64.10 C21.38,63.73 21.87,60.13 21.70,58.00 C21.53,55.87 20.38,53.07 21.70,51.30 C23.02,49.53 27.80,49.03 29.60,47.40 C31.40,45.77 32.50,44.13 32.50,41.50 C32.50,38.87 28.78,32.92 29.60,31.60 C30.42,30.28 34.95,33.60 37.40,33.60 C39.85,33.60 42.98,33.08 44.30,31.60 C45.62,30.12 45.10,24.70 45.30,24.70 C45.50,24.70 44.88,29.27 45.50,31.60 C46.12,33.93 47.73,37.17 49.00,38.70 C50.27,40.23 50.37,40.45 53.10,40.80 C55.83,41.15 63.35,40.80 65.40,40.80" fill="none" stroke="#2a2a2a" stroke-width="2.60" stroke-linecap="round" stroke-linejoin="round"/>
<path d="M62.00,64.60 C60.83,64.17 57.45,63.43 55.00,62.00 C52.55,60.57 49.90,56.83 47.30,56.00 C44.70,55.17 42.35,56.30 39.40,57.00 C36.45,57.70 32.38,59.02 29.60,60.20 C26.82,61.38 24.02,64.47 22.70,64.10 C21.38,63.73 21.87,60.13 21.70,58.00 C21.53,55.87 20.38,53.07 21.70,51.30 C23.02,49.53 27.80,49.03 29.60,47.40 C31.40,45.77 32.50,44.13 32.50,41.50 C32.50,38.87 28.78,32.92 29.60,31.60 C30.42,30.28 34.95,33.60 37.40,33.60 C39.85,33.60 42.98,33.08 44.30,31.60 C45.62,30.12 45.10,24.70 45.30,24.70 C45.50,24.70 44.88,29.27 45.50,31.60 C46.12,33.93 47.73,37.17 49.00,38.70 C50.27,40.23 50.37,40.45 53.10,40.80 C55.83,41.15 63.35,40.80 65.40,40.80" fill="none" stroke="#1a9478" stroke-width="1.50" stroke-linecap="round" stroke-linejoin="round"/>
<path d="M53.40,52.90 C53.17,51.58 51.40,47.48 52.00,45.00 C52.60,42.52 55.38,39.42 57.00,38.00 C58.62,36.58 60.87,37.33 61.70,36.50 C62.53,35.67 62.78,34.08 62.00,33.00 C61.22,31.92 57.83,31.17 57.00,30.00 C56.17,28.83 55.63,27.83 57.00,26.00 C58.37,24.17 63.63,21.33 65.20,19.00 C66.77,16.67 65.03,13.45 66.40,12.00 C67.77,10.55 71.07,9.92 73.40,10.30 C75.73,10.68 79.30,13.02 80.40,14.30 C81.50,15.58 80.07,17.38 80.00,18.00" fill="none" stroke="#2a2a2a" stroke-width="2.80" stroke-linecap="round" stroke-linejoin="round"/>
<path d="M53.40,52.90 C53.17,51.58 51.40,47.48 52.00,45.00 C52.60,42.52 55.38,39.42 57.00,38.00 C58.62,36.58 60.87,37.33 61.70,36.50 C62.53,35.67 62.78,34.08 62.00,33.00 C61.22,31.92 57.83,31.17 57.00,30.00 C56.17,28.83 55.63,27.83 57.00,26.00 C58.37,24.17 63.63,21.33 65.20,19.00 C66.77,16.67 65.03,13.45 66.40,12.00 C67.77,10.55 71.07,9.92 73.40,10.30 C75.73,10.68 79.30,13.02 80.40,14.30 C81.50,15.58 80.07,17.38 80.00,18.00" fill="none" stroke="#1ea3d6" stroke-width="1.70" stroke-linecap="round" stroke-linejoin="round"/>
<path d="M53.40,52.90 C53.67,54.42 53.78,58.83 55.00,62.00 C56.22,65.17 59.75,70.25 60.70,71.90" fill="none" stroke="#2a2a2a" stroke-width="2.80" stroke-linecap="round" stroke-linejoin="round"/>
<path d="M53.40,52.90 C53.67,54.42 53.78,58.83 55.00,62.00 C56.22,65.17 59.75,70.25 60.70,71.90" fill="none" stroke="#1ea3d6" stroke-width="1.70" stroke-linecap="round" stroke-linejoin="round"/>
<ellipse cx="75.70" cy="22.50" rx="5.80" ry="4.60" transform="rotate(-30.0 75.70 22.50)" fill="none" stroke="#2a2a2a" stroke-width="4.10"/>
<ellipse cx="75.70" cy="22.50" rx="5.80" ry="4.60" transform="rotate(-30.0 75.70 22.50)" fill="none" stroke="#1ea3d6" stroke-width="3.00"/>
<ellipse cx="88.50" cy="37.70" rx="5.60" ry="4.40" transform="rotate(-30.0 88.50 37.70)" fill="none" stroke="#2a2a2a" stroke-width="4.10"/>
<ellipse cx="88.50" cy="37.70" rx="5.60" ry="4.40" transform="rotate(-30.0 88.50 37.70)" fill="none" stroke="#1ea3d6" stroke-width="3.00"/>
<path d="M80.00,14.00 C80.67,15.33 83.67,19.33 84.00,22.00 C84.33,24.67 81.67,28.33 82.00,30.00 C82.33,31.67 85.33,31.67 86.00,32.00" fill="none" stroke="#2a2a2a" stroke-width="3.70" stroke-linecap="round" stroke-linejoin="round"/>
<path d="M80.00,14.00 C80.67,15.33 83.67,19.33 84.00,22.00 C84.33,24.67 81.67,28.33 82.00,30.00 C82.33,31.67 85.33,31.67 86.00,32.00" fill="none" stroke="#1ea3d6" stroke-width="2.60" stroke-linecap="round" stroke-linejoin="round"/>
<path d="M94.00,44.00 C95.67,44.33 101.22,46.08 104.00,46.00 C106.78,45.92 109.20,44.83 110.70,43.50 C112.20,42.17 113.45,39.25 113.00,38.00 C112.55,36.75 108.83,36.33 108.00,36.00" fill="none" stroke="#2a2a2a" stroke-width="2.60" stroke-linecap="round" stroke-linejoin="round"/>
<path d="M94.00,44.00 C95.67,44.33 101.22,46.08 104.00,46.00 C106.78,45.92 109.20,44.83 110.70,43.50 C112.20,42.17 113.45,39.25 113.00,38.00 C112.55,36.75 108.83,36.33 108.00,36.00" fill="none" stroke="#1ea3d6" stroke-width="1.50" stroke-linecap="round" stroke-linejoin="round"/>
<path d="M40.20,79.20 C40.45,77.73 39.75,72.35 41.70,70.40 C43.65,68.45 48.50,68.47 51.90,67.50 C55.30,66.53 59.08,65.52 62.10,64.60 C65.12,63.68 68.68,62.43 70.00,62.00" fill="none" stroke="#2a2a2a" stroke-width="2.70" stroke-linecap="round" stroke-linejoin="round"/>
<path d="M40.20,79.20 C40.45,77.73 39.75,72.35 41.70,70.40 C43.65,68.45 48.50,68.47 51.90,67.50 C55.30,66.53 59.08,65.52 62.10,64.60 C65.12,63.68 68.68,62.43 70.00,62.00" fill="none" stroke="#2aa050" stroke-width="1.60" stroke-linecap="round" stroke-linejoin="round"/>
<path d="M92.80,63.10 C92.07,64.32 90.53,69.42 88.40,70.40 C86.27,71.38 82.43,70.45 80.00,69.00 C77.57,67.55 74.35,64.13 73.80,61.70 C73.25,59.27 75.67,56.02 76.70,54.40 C77.73,52.78 79.45,52.40 80.00,52.00" fill="none" stroke="#2a2a2a" stroke-width="2.70" stroke-linecap="round" stroke-linejoin="round"/>
<path d="M92.80,63.10 C92.07,64.32 90.53,69.42 88.40,70.40 C86.27,71.38 82.43,70.45 80.00,69.00 C77.57,67.55 74.35,64.13 73.80,61.70 C73.25,59.27 75.67,56.02 76.70,54.40 C77.73,52.78 79.45,52.40 80.00,52.00" fill="none" stroke="#2e4fa8" stroke-width="1.60" stroke-linecap="round" stroke-linejoin="round"/>
<path d="M54.00,84.00 C55.33,83.83 59.67,83.17 62.00,83.00 C64.33,82.83 67.00,83.00 68.00,83.00" fill="none" stroke="#2a2a2a" stroke-width="2.40" stroke-linecap="round" stroke-linejoin="round"/>
<path d="M54.00,84.00 C55.33,83.83 59.67,83.17 62.00,83.00 C64.33,82.83 67.00,83.00 68.00,83.00" fill="none" stroke="#f0e8a0" stroke-width="1.30" stroke-linecap="round" stroke-linejoin="round"/>
<path d="M59.00,96.00 C60.17,96.00 63.83,95.83 66.00,96.00 C68.17,96.17 71.00,96.83 72.00,97.00" fill="none" stroke="#2a2a2a" stroke-width="2.40" stroke-linecap="round" stroke-linejoin="round"/>
<path d="M59.00,96.00 C60.17,96.00 63.83,95.83 66.00,96.00 C68.17,96.17 71.00,96.83 72.00,97.00" fill="none" stroke="#f0e8a0" stroke-width="1.30" stroke-linecap="round" stroke-linejoin="round"/>
<path d="M75.30,67.50 C77.42,68.25 84.55,70.69 88.00,72.00 C91.45,73.31 94.64,74.81 95.97,75.37" fill="none" stroke="#2a2a2a" stroke-width="7.60" stroke-linejoin="round"/>
<path d="M75.30,67.50 C77.42,68.25 84.55,70.69 88.00,72.00 C91.45,73.31 94.64,74.81 95.97,75.37" fill="none" stroke="#22a045" stroke-width="6.50" stroke-linejoin="round"/>
<polygon points="93.95,80.16 101.50,77.70 98.00,70.58" fill="#22a045" stroke="#2a2a2a" stroke-width="0.55" stroke-linejoin="round"/>
<line x1="94.83" y1="78.08" x2="97.12" y2="72.65" stroke="#22a045" stroke-width="1.20"/>
<path d="M60.00,62.00 C62.33,64.33 70.63,72.55 74.00,76.00 C77.37,79.45 79.16,81.56 80.20,82.67" fill="none" stroke="#2a2a2a" stroke-width="9.10" stroke-linejoin="round"/>
<path d="M60.00,62.00 C62.33,64.33 70.63,72.55 74.00,76.00 C77.37,79.45 79.16,81.56 80.20,82.67" fill="none" stroke="#72b848" stroke-width="8.00" stroke-linejoin="round"/>
<polygon points="75.80,86.75 87.00,90.00 84.59,78.59" fill="#72b848" stroke="#2a2a2a" stroke-width="0.55" stroke-linejoin="round"/>
<line x1="77.48" y1="85.19" x2="82.91" y2="80.15" stroke="#72b848" stroke-width="1.20"/>
<path d="M57.00,68.00 C58.50,70.33 63.36,77.89 66.00,82.00 C68.64,86.11 71.70,90.86 72.84,92.64" fill="none" stroke="#2a2a2a" stroke-width="7.30" stroke-linejoin="round"/>
<path d="M57.00,68.00 C58.50,70.33 63.36,77.89 66.00,82.00 C68.64,86.11 71.70,90.86 72.84,92.64" fill="none" stroke="#1ea3d6" stroke-width="6.20" stroke-linejoin="round"/>
<polygon points="69.71,94.65 75.00,96.00 75.97,90.62" fill="#1ea3d6" stroke="#2a2a2a" stroke-width="0.55" stroke-linejoin="round"/>
<line x1="70.48" y1="94.15" x2="75.19" y2="91.12" stroke="#1ea3d6" stroke-width="1.20"/>
<path d="M47.00,86.00 C48.00,87.83 51.19,93.90 53.00,97.00 C54.81,100.10 57.04,103.35 57.85,104.63" fill="none" stroke="#2a2a2a" stroke-width="7.30" stroke-linejoin="round"/>
<path d="M47.00,86.00 C48.00,87.83 51.19,93.90 53.00,97.00 C54.81,100.10 57.04,103.35 57.85,104.63" fill="none" stroke="#1ea3d6" stroke-width="6.20" stroke-linejoin="round"/>
<polygon points="54.71,106.62 60.00,108.00 60.99,102.63" fill="#1ea3d6" stroke="#2a2a2a" stroke-width="0.55" stroke-linejoin="round"/>
<line x1="55.49" y1="106.13" x2="60.21" y2="103.12" stroke="#1ea3d6" stroke-width="1.20"/>
<path d="M62.10,105.50 C62.75,106.25 64.35,108.75 66.00,110.00 C67.65,111.25 69.73,111.57 72.00,113.00 C74.27,114.43 78.33,117.67 79.60,118.60" fill="none" stroke="#2a2a2a" stroke-width="2.80" stroke-linecap="round" stroke-linejoin="round"/>
<path d="M62.10,105.50 C62.75,106.25 64.35,108.75 66.00,110.00 C67.65,111.25 69.73,111.57 72.00,113.00 C74.27,114.43 78.33,117.67 79.60,118.60" fill="none" stroke="#1ea3d6" stroke-width="1.70" stroke-linecap="round" stroke-linejoin="round"/>
<path d="M100.00,66.00 C102.33,66.00 110.41,65.70 114.00,66.00 C117.59,66.30 120.28,67.52 121.54,67.82" fill="none" stroke="#2a2a2a" stroke-width="8.60" stroke-linejoin="round"/>
<path d="M100.00,66.00 C102.33,66.00 110.41,65.70 114.00,66.00 C117.59,66.30 120.28,67.52 121.54,67.82" fill="none" stroke="#f2dc30" stroke-width="7.50" stroke-linejoin="round"/>
<polygon points="120.31,72.93 126.40,69.00 122.77,62.72" fill="#f2dc30" stroke="#2a2a2a" stroke-width="0.55" stroke-linejoin="round"/>
<line x1="120.73" y1="71.18" x2="122.35" y2="64.47" stroke="#f2dc30" stroke-width="1.20"/>
<path d="M104.00,68.00 C104.33,69.67 105.00,75.33 106.00,78.00 C107.00,80.67 109.33,83.00 110.00,84.00" fill="none" stroke="#2a2a2a" stroke-width="2.70" stroke-linecap="round" stroke-linejoin="round"/>
<path d="M104.00,68.00 C104.33,69.67 105.00,75.33 106.00,78.00 C107.00,80.67 109.33,83.00 110.00,84.00" fill="none" stroke="#f2dc30" stroke-width="1.60" stroke-linecap="round" stroke-linejoin="round"/>
<path d="M117.00,36.00 C114.83,36.83 108.50,39.25 104.00,41.00 C99.50,42.75 93.26,45.16 90.00,46.50 C86.74,47.84 85.39,48.60 84.46,49.02" fill="none" stroke="#2a2a2a" stroke-width="7.60" stroke-linejoin="round"/>
<path d="M117.00,36.00 C114.83,36.83 108.50,39.25 104.00,41.00 C99.50,42.75 93.26,45.16 90.00,46.50 C86.74,47.84 85.39,48.60 84.46,49.02" fill="none" stroke="#3a48a8" stroke-width="6.50" stroke-linejoin="round"/>
<polygon points="82.31,44.28 79.00,51.50 86.61,53.75" fill="#3a48a8" stroke="#2a2a2a" stroke-width="0.55" stroke-linejoin="round"/>
<line x1="83.24" y1="46.33" x2="85.68" y2="51.70" stroke="#3a48a8" stroke-width="1.20"/>
<path d="M92.80,63.10 C94.33,62.08 99.51,58.70 102.00,57.00 C104.49,55.30 106.78,53.59 107.73,52.91" fill="none" stroke="#2a2a2a" stroke-width="6.60" stroke-linejoin="round"/>
<path d="M92.80,63.10 C94.33,62.08 99.51,58.70 102.00,57.00 C104.49,55.30 106.78,53.59 107.73,52.91" fill="none" stroke="#1e58b8" stroke-width="5.50" stroke-linejoin="round"/>
<polygon points="109.97,56.04 111.80,50.00 105.49,49.77" fill="#1e58b8" stroke="#2a2a2a" stroke-width="0.55" stroke-linejoin="round"/>
<line x1="109.16" y1="54.90" x2="106.31" y2="50.91" stroke="#1e58b8" stroke-width="1.20"/>
<path d="M111.80,50.00 C112.17,49.17 113.80,46.67 114.00,45.00 C114.20,43.33 113.17,40.83 113.00,40.00" fill="none" stroke="#2a2a2a" stroke-width="2.70" stroke-linecap="round" stroke-linejoin="round"/>
<path d="M111.80,50.00 C112.17,49.17 113.80,46.67 114.00,45.00 C114.20,43.33 113.17,40.83 113.00,40.00" fill="none" stroke="#1e58b8" stroke-width="1.60" stroke-linecap="round" stroke-linejoin="round"/>
<path d="M65.00,50.00 C64.03,51.47 60.17,55.63 59.20,58.80 C58.23,61.97 60.90,66.33 59.20,69.00 C57.50,71.67 51.68,72.62 49.00,74.80 C46.32,76.98 44.57,79.18 43.10,82.10 C41.63,85.02 41.17,90.10 40.20,92.30 C39.23,94.50 37.53,94.32 37.30,95.30 C37.07,96.28 38.07,98.45 38.80,98.20 C39.53,97.95 41.83,94.83 41.70,93.80 C41.57,92.77 39.28,91.47 38.00,92.00 C36.72,92.53 35.33,95.00 34.00,97.00 C32.67,99.00 30.67,102.83 30.00,104.00" fill="none" stroke="#2a2a2a" stroke-width="2.80" stroke-linecap="round" stroke-linejoin="round"/>
<path d="M65.00,50.00 C64.03,51.47 60.17,55.63 59.20,58.80 C58.23,61.97 60.90,66.33 59.20,69.00 C57.50,71.67 51.68,72.62 49.00,74.80 C46.32,76.98 44.57,79.18 43.10,82.10 C41.63,85.02 41.17,90.10 40.20,92.30 C39.23,94.50 37.53,94.32 37.30,95.30 C37.07,96.28 38.07,98.45 38.80,98.20 C39.53,97.95 41.83,94.83 41.70,93.80 C41.57,92.77 39.28,91.47 38.00,92.00 C36.72,92.53 35.33,95.00 34.00,97.00 C32.67,99.00 30.67,102.83 30.00,104.00" fill="none" stroke="#d9602a" stroke-width="1.70" stroke-linecap="round" stroke-linejoin="round"/>
<path d="M65.20,51.70 C65.78,49.75 66.57,43.30 68.70,40.00 C70.83,36.70 74.70,33.83 78.00,31.90 C81.30,29.97 85.50,29.55 88.50,28.40 C91.50,27.25 94.37,25.70 96.00,25.00 C97.63,24.30 97.91,24.34 98.29,24.20" fill="none" stroke="#2a2a2a" stroke-width="6.90" stroke-linejoin="round"/>
<path d="M65.20,51.70 C65.78,49.75 66.57,43.30 68.70,40.00 C70.83,36.70 74.70,33.83 78.00,31.90 C81.30,29.97 85.50,29.55 88.50,28.40 C91.50,27.25 94.37,25.70 96.00,25.00 C97.63,24.30 97.91,24.34 98.29,24.20" fill="none" stroke="#e8402e" stroke-width="5.80" stroke-linejoin="round"/>
<polygon points="100.20,29.68 104.90,21.90 96.38,18.73" fill="#e8402e" stroke="#2a2a2a" stroke-width="0.55" stroke-linejoin="round"/>
<line x1="99.14" y1="26.66" x2="97.43" y2="21.75" stroke="#e8402e" stroke-width="1.20"/>
<path d="M104.90,21.90 C106.07,21.42 108.78,19.87 111.90,19.00 C115.02,18.13 121.65,17.08 123.60,16.70" fill="none" stroke="#2a2a2a" stroke-width="2.50" stroke-linecap="round" stroke-linejoin="round"/>
<path d="M104.90,21.90 C106.07,21.42 108.78,19.87 111.90,19.00 C115.02,18.13 121.65,17.08 123.60,16.70" fill="none" stroke="#e8402e" stroke-width="1.40" stroke-linecap="round" stroke-linejoin="round"/>
<path d="M78.20,108.40 C75.77,107.92 67.98,105.02 63.60,105.50 C59.22,105.98 55.07,111.07 51.90,111.30 C48.73,111.53 48.25,108.60 44.60,106.90 C40.95,105.20 34.15,102.97 30.00,101.10 C25.85,99.23 22.73,97.27 19.70,95.70 C16.67,94.13 14.25,92.65 11.80,91.70 C9.35,90.75 5.80,90.78 5.00,90.00 C4.20,89.22 5.83,87.33 7.00,87.00 C8.17,86.67 9.50,87.17 12.00,88.00 C14.50,88.83 19.00,90.17 22.00,92.00 C25.00,93.83 28.67,97.83 30.00,99.00" fill="none" stroke="#2a2a2a" stroke-width="2.70" stroke-linecap="round" stroke-linejoin="round"/>
<path d="M78.20,108.40 C75.77,107.92 67.98,105.02 63.60,105.50 C59.22,105.98 55.07,111.07 51.90,111.30 C48.73,111.53 48.25,108.60 44.60,106.90 C40.95,105.20 34.15,102.97 30.00,101.10 C25.85,99.23 22.73,97.27 19.70,95.70 C16.67,94.13 14.25,92.65 11.80,91.70 C9.35,90.75 5.80,90.78 5.00,90.00 C4.20,89.22 5.83,87.33 7.00,87.00 C8.17,86.67 9.50,87.17 12.00,88.00 C14.50,88.83 19.00,90.17 22.00,92.00 C25.00,93.83 28.67,97.83 30.00,99.00" fill="none" stroke="#ec9a30" stroke-width="1.60" stroke-linecap="round" stroke-linejoin="round"/>
<path d="M78.43,110.19 L78.58,109.20 L78.52,107.78 L78.31,106.01 L78.02,103.97 L77.70,101.78 L77.43,99.57 L77.27,97.46 L77.29,95.56 L77.52,93.98 L78.01,92.81 L78.76,92.08 L79.77,91.84" fill="none" stroke="#2a2a2a" stroke-width="3.30" stroke-linecap="round"/>
<path d="M78.43,110.19 L78.58,109.20 L78.52,107.78 L78.31,106.01 L78.02,103.97 L77.70,101.78 L77.43,99.57 L77.27,97.46 L77.29,95.56 L77.52,93.98 L78.01,92.81 L78.76,92.08 L79.77,91.84" fill="none" stroke="#f2c630" stroke-width="2.20" stroke-linecap="round"/>
<path d="M95.23,100.99 L95.38,100.00 L95.32,98.58 L95.11,96.81 L94.82,94.77 L94.50,92.58 L94.23,90.37 L94.07,88.26 L94.09,86.36 L94.32,84.78 L94.81,83.61 L95.56,82.88 L96.57,82.64" fill="none" stroke="#2a2a2a" stroke-width="3.30" stroke-linecap="round"/>
<path d="M95.23,100.99 L95.38,100.00 L95.32,98.58 L95.11,96.81 L94.82,94.77 L94.50,92.58 L94.23,90.37 L94.07,88.26 L94.09,86.36 L94.32,84.78 L94.81,83.61 L95.56,82.88 L96.57,82.64" fill="none" stroke="#f2c630" stroke-width="2.20" stroke-linecap="round"/>
<path d="M112.03,91.79 L112.18,90.80 L112.12,89.38 L111.91,87.61 L111.62,85.57 L111.30,83.38" fill="none" stroke="#2a2a2a" stroke-width="3.30" stroke-linecap="round"/>
<path d="M112.03,91.79 L112.18,90.80 L112.12,89.38 L111.91,87.61 L111.62,85.57 L111.30,83.38" fill="none" stroke="#f2c630" stroke-width="2.20" stroke-linecap="round"/>
<polygon points="74.65,103.45 76.27,104.93 77.67,106.36 78.79,107.64 79.55,108.67 79.88,109.40 79.01,110.19 79.39,109.67 77.47,110.72 77.08,111.25 74.91,112.12 73.41,112.03 71.84,111.44 70.19,110.46 68.48,109.19 66.75,107.78" fill="#f2c630" stroke="#2a2a2a" stroke-width="0.88" stroke-linejoin="round"/>
<polygon points="82.25,90.48 84.10,90.38 85.95,90.82 87.83,91.68 89.68,92.86 91.45,94.25 93.07,95.73 94.47,97.16 95.59,98.44 96.35,99.47 96.68,100.20 95.81,100.99 96.19,100.47 94.27,101.52 93.88,102.05 91.71,102.92 90.21,102.83 88.64,102.24 86.99,101.26 85.28,99.99 83.55,98.58 81.89,97.13 80.35,95.77 79.01,94.62 77.95,93.75 77.29,93.20" fill="#f2c630" stroke="#2a2a2a" stroke-width="0.88" stroke-linejoin="round"/>
<polygon points="99.05,81.28 100.90,81.18 102.75,81.62 104.63,82.48 106.48,83.66 108.25,85.05 109.87,86.53 111.27,87.96 112.39,89.24 113.15,90.27 113.48,91.00 112.61,91.79 112.99,91.27 111.07,92.32 110.68,92.85 108.51,93.72 107.01,93.63 105.44,93.04 103.79,92.06 102.08,90.79 100.35,89.38 98.69,87.93 97.15,86.57 95.81,85.42 94.75,84.55 94.09,84.00" fill="#f2c630" stroke="#2a2a2a" stroke-width="0.88" stroke-linejoin="round"/>
<path d="M79.60,108.40 C81.33,108.67 86.60,109.75 90.00,110.00 C93.40,110.25 98.33,109.92 100.00,109.90" fill="none" stroke="#2a2a2a" stroke-width="3.30" stroke-linecap="round" stroke-linejoin="round"/>
<path d="M79.60,108.40 C81.33,108.67 86.60,109.75 90.00,110.00 C93.40,110.25 98.33,109.92 100.00,109.90" fill="none" stroke="#a0c848" stroke-width="2.20" stroke-linecap="round" stroke-linejoin="round"/>
<path d="M58.40,611.30 C57.00,611.25 52.42,610.78 50.00,611.00 C47.58,611.22 46.02,611.23 43.90,612.60 C41.78,613.97 38.17,616.80 37.30,619.20 C36.43,621.60 36.95,625.70 38.70,627.00 C40.45,628.30 47.37,626.33 47.80,627.00 C48.23,627.67 44.58,630.33 41.30,631.00 C38.02,631.67 31.38,629.90 28.10,631.00 C24.82,632.10 22.47,634.75 21.60,637.60 C20.73,640.45 21.82,645.48 22.90,648.10 C23.98,650.72 27.67,651.12 28.10,653.30 C28.53,655.48 25.05,659.88 25.50,661.20 C25.95,662.52 29.88,662.23 30.80,661.20 C31.72,660.17 29.80,657.53 31.00,655.00 C32.20,652.47 36.07,648.03 38.00,646.00 C39.93,643.97 41.18,642.90 42.60,642.80 C44.02,642.70 44.43,644.53 46.50,645.40 C48.57,646.27 53.58,647.57 55.00,648.00" fill="none" stroke="#2a2a2a" stroke-width="2.90" stroke-linecap="round" stroke-linejoin="round"/>
<path d="M58.40,611.30 C57.00,611.25 52.42,610.78 50.00,611.00 C47.58,611.22 46.02,611.23 43.90,612.60 C41.78,613.97 38.17,616.80 37.30,619.20 C36.43,621.60 36.95,625.70 38.70,627.00 C40.45,628.30 47.37,626.33 47.80,627.00 C48.23,627.67 44.58,630.33 41.30,631.00 C38.02,631.67 31.38,629.90 28.10,631.00 C24.82,632.10 22.47,634.75 21.60,637.60 C20.73,640.45 21.82,645.48 22.90,648.10 C23.98,650.72 27.67,651.12 28.10,653.30 C28.53,655.48 25.05,659.88 25.50,661.20 C25.95,662.52 29.88,662.23 30.80,661.20 C31.72,660.17 29.80,657.53 31.00,655.00 C32.20,652.47 36.07,648.03 38.00,646.00 C39.93,643.97 41.18,642.90 42.60,642.80 C44.02,642.70 44.43,644.53 46.50,645.40 C48.57,646.27 53.58,647.57 55.00,648.00" fill="none" stroke="#1e9a50" stroke-width="1.80" stroke-linecap="round" stroke-linejoin="round"/>
<path d="M74.10,608.00 C73.02,608.10 68.92,609.15 67.60,608.60 C66.28,608.05 65.77,606.67 66.20,604.70 C66.63,602.73 69.97,598.55 70.20,596.80 C70.43,595.05 70.88,594.52 67.60,594.20 C64.32,593.88 53.80,593.37 50.50,594.90 C47.20,596.43 47.58,600.88 47.80,603.40 C48.02,605.92 50.27,608.03 51.80,610.00 C53.33,611.97 55.90,613.02 57.00,615.20 C58.10,617.38 57.73,620.90 58.40,623.10 C59.07,625.30 61.57,627.25 61.00,628.40 C60.43,629.55 56.97,629.57 55.00,630.00 C53.03,630.43 50.40,629.30 49.20,631.00 C48.00,632.70 48.25,636.48 47.80,640.20 C47.35,643.92 46.47,649.67 46.50,653.30 C46.53,656.93 47.75,660.55 48.00,662.00" fill="none" stroke="#2a2a2a" stroke-width="2.90" stroke-linecap="round" stroke-linejoin="round"/>
<path d="M74.10,608.00 C73.02,608.10 68.92,609.15 67.60,608.60 C66.28,608.05 65.77,606.67 66.20,604.70 C66.63,602.73 69.97,598.55 70.20,596.80 C70.43,595.05 70.88,594.52 67.60,594.20 C64.32,593.88 53.80,593.37 50.50,594.90 C47.20,596.43 47.58,600.88 47.80,603.40 C48.02,605.92 50.27,608.03 51.80,610.00 C53.33,611.97 55.90,613.02 57.00,615.20 C58.10,617.38 57.73,620.90 58.40,623.10 C59.07,625.30 61.57,627.25 61.00,628.40 C60.43,629.55 56.97,629.57 55.00,630.00 C53.03,630.43 50.40,629.30 49.20,631.00 C48.00,632.70 48.25,636.48 47.80,640.20 C47.35,643.92 46.47,649.67 46.50,653.30 C46.53,656.93 47.75,660.55 48.00,662.00" fill="none" stroke="#1ea3d6" stroke-width="1.80" stroke-linecap="round" stroke-linejoin="round"/>
<ellipse cx="75.40" cy="616.50" rx="5.50" ry="4.40" transform="rotate(-35.0 75.40 616.50)" fill="none" stroke="#2a2a2a" stroke-width="4.10"/>
<ellipse cx="75.40" cy="616.50" rx="5.50" ry="4.40" transform="rotate(-35.0 75.40 616.50)" fill="none" stroke="#1ea3d6" stroke-width="3.00"/>
<ellipse cx="88.60" cy="627.00" rx="5.50" ry="4.40" transform="rotate(-35.0 88.60 627.00)" fill="none" stroke="#2a2a2a" stroke-width="4.10"/>
<ellipse cx="88.60" cy="627.00" rx="5.50" ry="4.40" transform="rotate(-35.0 88.60 627.00)" fill="none" stroke="#1ea3d6" stroke-width="3.00"/>
<ellipse cx="101.00" cy="636.20" rx="5.00" ry="4.20" transform="rotate(-35.0 101.00 636.20)" fill="none" stroke="#2a2a2a" stroke-width="4.10"/>
<ellipse cx="101.00" cy="636.20" rx="5.00" ry="4.20" transform="rotate(-35.0 101.00 636.20)" fill="none" stroke="#1ea3d6" stroke-width="3.00"/>
<path d="M105.00,640.00 C106.17,640.67 111.33,642.00 112.00,644.00 C112.67,646.00 109.50,650.67 109.00,652.00" fill="none" stroke="#2a2a2a" stroke-width="2.70" stroke-linecap="round" stroke-linejoin="round"/>
<path d="M105.00,640.00 C106.17,640.67 111.33,642.00 112.00,644.00 C112.67,646.00 109.50,650.67 109.00,652.00" fill="none" stroke="#1ea3d6" stroke-width="1.60" stroke-linecap="round" stroke-linejoin="round"/>
<path d="M58.00,648.00 C57.33,646.67 54.00,642.00 54.00,640.00 C54.00,638.00 57.00,635.17 58.00,636.00 C59.00,636.83 59.67,643.50 60.00,645.00" fill="none" stroke="#2a2a2a" stroke-width="2.60" stroke-linecap="round" stroke-linejoin="round"/>
<path d="M58.00,648.00 C57.33,646.67 54.00,642.00 54.00,640.00 C54.00,638.00 57.00,635.17 58.00,636.00 C59.00,636.83 59.67,643.50 60.00,645.00" fill="none" stroke="#c8dc60" stroke-width="1.50" stroke-linecap="round" stroke-linejoin="round"/>
<path d="M64.00,666.00 C66.33,666.67 72.67,669.67 78.00,670.00 C83.33,670.33 93.00,668.33 96.00,668.00" fill="none" stroke="#2a2a2a" stroke-width="2.40" stroke-linecap="round" stroke-linejoin="round"/>
<path d="M64.00,666.00 C66.33,666.67 72.67,669.67 78.00,670.00 C83.33,670.33 93.00,668.33 96.00,668.00" fill="none" stroke="#c8dc80" stroke-width="1.30" stroke-linecap="round" stroke-linejoin="round"/>
<path d="M95.20,682.00 C96.30,683.33 99.62,688.47 101.80,690.00 C103.98,691.53 107.22,691.00 108.30,691.20" fill="none" stroke="#2a2a2a" stroke-width="2.70" stroke-linecap="round" stroke-linejoin="round"/>
<path d="M95.20,682.00 C96.30,683.33 99.62,688.47 101.80,690.00 C103.98,691.53 107.22,691.00 108.30,691.20" fill="none" stroke="#30a060" stroke-width="1.60" stroke-linecap="round" stroke-linejoin="round"/>
<path d="M97.80,656.00 C99.83,655.83 106.43,654.80 110.00,655.00 C113.57,655.20 117.70,656.86 119.24,657.23" fill="none" stroke="#2a2a2a" stroke-width="9.10" stroke-linejoin="round"/>
<path d="M97.80,656.00 C99.83,655.83 106.43,654.80 110.00,655.00 C113.57,655.20 117.70,656.86 119.24,657.23" fill="none" stroke="#f5dc30" stroke-width="8.00" stroke-linejoin="round"/>
<polygon points="118.02,662.28 124.10,658.40 120.46,652.17" fill="#f5dc30" stroke="#2a2a2a" stroke-width="0.55" stroke-linejoin="round"/>
<line x1="118.37" y1="660.82" x2="120.11" y2="653.63" stroke="#f5dc30" stroke-width="1.20"/>
<path d="M106.00,662.00 C105.50,663.33 103.00,667.67 103.00,670.00 C103.00,672.33 105.50,675.00 106.00,676.00" fill="none" stroke="#2a2a2a" stroke-width="2.90" stroke-linecap="round" stroke-linejoin="round"/>
<path d="M106.00,662.00 C105.50,663.33 103.00,667.67 103.00,670.00 C103.00,672.33 105.50,675.00 106.00,676.00" fill="none" stroke="#f5dc30" stroke-width="1.80" stroke-linecap="round" stroke-linejoin="round"/>
<path d="M70.20,659.70 C72.67,660.42 80.97,662.74 85.00,664.00 C89.03,665.26 92.81,666.72 94.38,667.26" fill="none" stroke="#2a2a2a" stroke-width="8.10" stroke-linejoin="round"/>
<path d="M70.20,659.70 C72.67,660.42 80.97,662.74 85.00,664.00 C89.03,665.26 92.81,666.72 94.38,667.26" fill="none" stroke="#5ab048" stroke-width="7.00" stroke-linejoin="round"/>
<polygon points="92.88,671.56 99.10,668.90 95.87,662.96" fill="#5ab048" stroke="#2a2a2a" stroke-width="0.55" stroke-linejoin="round"/>
<line x1="93.33" y1="670.28" x2="95.43" y2="664.24" stroke="#5ab048" stroke-width="1.20"/>
<path d="M67.60,662.30 C69.00,663.75 73.71,668.55 76.00,671.00 C78.29,673.45 80.47,675.98 81.36,676.98" fill="none" stroke="#2a2a2a" stroke-width="8.10" stroke-linejoin="round"/>
<path d="M67.60,662.30 C69.00,663.75 73.71,668.55 76.00,671.00 C78.29,673.45 80.47,675.98 81.36,676.98" fill="none" stroke="#c8d838" stroke-width="7.00" stroke-linejoin="round"/>
<polygon points="77.97,680.02 84.70,680.70 84.75,673.94" fill="#c8d838" stroke="#2a2a2a" stroke-width="0.55" stroke-linejoin="round"/>
<line x1="78.98" y1="679.11" x2="83.74" y2="674.84" stroke="#c8d838" stroke-width="1.20"/>
<path d="M57.10,666.30 C58.42,668.25 62.75,674.61 65.00,678.00 C67.25,681.39 69.68,685.21 70.62,686.65" fill="none" stroke="#2a2a2a" stroke-width="8.60" stroke-linejoin="round"/>
<path d="M57.10,666.30 C58.42,668.25 62.75,674.61 65.00,678.00 C67.25,681.39 69.68,685.21 70.62,686.65" fill="none" stroke="#20a088" stroke-width="7.50" stroke-linejoin="round"/>
<polygon points="66.85,689.10 72.80,690.00 74.39,684.19" fill="#20a088" stroke="#2a2a2a" stroke-width="0.55" stroke-linejoin="round"/>
<line x1="67.73" y1="688.53" x2="73.51" y2="684.77" stroke="#20a088" stroke-width="1.20"/>
<path d="M72.80,690.00 C73.50,691.67 75.63,697.00 77.00,700.00 C78.37,703.00 80.83,706.00 81.00,708.00 C81.17,710.00 78.50,711.33 78.00,712.00" fill="none" stroke="#2a2a2a" stroke-width="2.90" stroke-linecap="round" stroke-linejoin="round"/>
<path d="M72.80,690.00 C73.50,691.67 75.63,697.00 77.00,700.00 C78.37,703.00 80.83,706.00 81.00,708.00 C81.17,710.00 78.50,711.33 78.00,712.00" fill="none" stroke="#20a088" stroke-width="1.80" stroke-linecap="round" stroke-linejoin="round"/>
<path d="M45.30,666.30 C46.42,668.42 50.13,675.44 52.00,679.00 C53.87,682.56 55.78,686.21 56.54,687.66" fill="none" stroke="#2a2a2a" stroke-width="8.60" stroke-linejoin="round"/>
<path d="M45.30,666.30 C46.42,668.42 50.13,675.44 52.00,679.00 C53.87,682.56 55.78,686.21 56.54,687.66" fill="none" stroke="#20a0c8" stroke-width="7.50" stroke-linejoin="round"/>
<polygon points="52.56,689.75 58.40,691.20 60.53,685.57" fill="#20a0c8" stroke="#2a2a2a" stroke-width="0.55" stroke-linejoin="round"/>
<line x1="53.49" y1="689.26" x2="59.60" y2="686.06" stroke="#20a0c8" stroke-width="1.20"/>
<path d="M58.40,691.20 C59.33,692.67 61.73,697.20 64.00,700.00 C66.27,702.80 69.67,706.17 72.00,708.00 C74.33,709.83 77.00,710.50 78.00,711.00" fill="none" stroke="#2a2a2a" stroke-width="2.90" stroke-linecap="round" stroke-linejoin="round"/>
<path d="M58.40,691.20 C59.33,692.67 61.73,697.20 64.00,700.00 C66.27,702.80 69.67,706.17 72.00,708.00 C74.33,709.83 77.00,710.50 78.00,711.00" fill="none" stroke="#20a0c8" stroke-width="1.80" stroke-linecap="round" stroke-linejoin="round"/>
<path d="M42.60,663.60 C42.60,667.33 43.37,681.27 42.60,686.00 C41.83,690.73 38.83,689.23 38.00,692.00 C37.17,694.77 36.00,699.32 37.60,702.60 C39.20,705.88 44.73,711.70 47.60,711.70 C50.47,711.70 52.78,705.35 54.80,702.60 C56.82,699.85 58.88,696.43 59.70,695.20" fill="none" stroke="#2a2a2a" stroke-width="2.90" stroke-linecap="round" stroke-linejoin="round"/>
<path d="M42.60,663.60 C42.60,667.33 43.37,681.27 42.60,686.00 C41.83,690.73 38.83,689.23 38.00,692.00 C37.17,694.77 36.00,699.32 37.60,702.60 C39.20,705.88 44.73,711.70 47.60,711.70 C50.47,711.70 52.78,705.35 54.80,702.60 C56.82,699.85 58.88,696.43 59.70,695.20" fill="none" stroke="#e0782a" stroke-width="1.80" stroke-linecap="round" stroke-linejoin="round"/>
<path d="M65.55,704.37 L66.03,703.79 L66.30,702.70 L66.37,701.13 L66.31,699.18 L66.17,696.95 L66.03,694.56 L65.94,692.16 L65.98,689.89 L66.19,687.87 L66.61,686.22 L67.28,685.02 L68.21,684.33" fill="none" stroke="#2a2a2a" stroke-width="3.30" stroke-linecap="round"/>
<path d="M65.55,704.37 L66.03,703.79 L66.30,702.70 L66.37,701.13 L66.31,699.18 L66.17,696.95 L66.03,694.56 L65.94,692.16 L65.98,689.89 L66.19,687.87 L66.61,686.22 L67.28,685.02 L68.21,684.33" fill="none" stroke="#f0a830" stroke-width="2.20" stroke-linecap="round"/>
<path d="M85.25,695.09 L85.70,694.43 L85.93,693.25 L85.98,691.62 L85.91,689.62 L85.77,687.35 L85.63,684.96 L85.55,682.57 L85.61,680.33 L85.85,678.36 L86.32,676.77 L87.03,675.65 L87.99,675.04" fill="none" stroke="#2a2a2a" stroke-width="3.30" stroke-linecap="round"/>
<path d="M85.25,695.09 L85.70,694.43 L85.93,693.25 L85.98,691.62 L85.91,689.62 L85.77,687.35 L85.63,684.96 L85.55,682.57 L85.61,680.33 L85.85,678.36 L86.32,676.77 L87.03,675.65 L87.99,675.04" fill="none" stroke="#f0a830" stroke-width="2.20" stroke-linecap="round"/>
<path d="M104.95,685.79 L105.37,685.05 L105.57,683.80 L105.59,682.11 L105.50,680.05 L105.36,677.76 L105.22,675.36 L105.17,672.98 L105.25,670.77" fill="none" stroke="#2a2a2a" stroke-width="3.30" stroke-linecap="round"/>
<path d="M104.95,685.79 L105.37,685.05 L105.57,683.80 L105.59,682.11 L105.50,680.05 L105.36,677.76 L105.22,675.36 L105.17,672.98 L105.25,670.77" fill="none" stroke="#f0a830" stroke-width="2.20" stroke-linecap="round"/>
<polygon points="62.07,696.62 63.75,698.27 65.20,699.87 66.35,701.28 67.13,702.40 67.46,703.17 66.54,703.90 64.55,704.84 62.16,705.67 60.50,705.52 58.82,704.82 57.06,703.69 55.27,702.26 53.47,700.66" fill="#f0a830" stroke="#2a2a2a" stroke-width="0.88" stroke-linejoin="round"/>
<polygon points="69.78,683.59 72.16,682.87 74.18,682.94 76.19,683.57 78.19,684.64 80.13,686.04 81.95,687.64 83.60,689.29 85.01,690.87 86.11,692.24 86.83,693.31 87.07,694.03 86.25,694.62 84.26,695.55 82.04,696.40 80.37,696.35 78.69,695.73 76.95,694.66 75.16,693.27 73.36,691.68 71.61,690.05 69.98,688.50 68.55,687.16 67.39,686.14 66.61,685.48 66.64,685.07" fill="#f0a830" stroke="#2a2a2a" stroke-width="0.88" stroke-linejoin="round"/>
<polygon points="89.87,674.16 92.09,673.61 94.11,673.77 96.11,674.47 98.10,675.61 100.03,677.05 101.84,678.66 103.45,680.31 104.82,681.87 105.86,683.20 106.52,684.21 106.66,684.89 105.95,685.32 103.96,686.26 101.93,687.11 100.24,687.17 98.57,686.63 96.84,685.62 95.05,684.27 93.25,682.70 91.49,681.06 89.84,679.49 88.37,678.12 87.16,677.04 86.32,676.33 86.12,675.93" fill="#f0a830" stroke="#2a2a2a" stroke-width="0.88" stroke-linejoin="round"/>
<path d="M75.50,700.40 C77.25,700.08 83.08,698.50 86.00,698.50 C88.92,698.50 91.83,700.08 93.00,700.40" fill="none" stroke="#2a2a2a" stroke-width="3.10" stroke-linecap="round" stroke-linejoin="round"/>
<path d="M75.50,700.40 C77.25,700.08 83.08,698.50 86.00,698.50 C88.92,698.50 91.83,700.08 93.00,700.40" fill="none" stroke="#f0e8a0" stroke-width="2.00" stroke-linecap="round" stroke-linejoin="round"/>
<path d="M47.90,662.30 C49.43,660.55 53.38,653.55 57.10,651.80 C60.82,650.05 65.82,650.70 70.20,651.80 C74.58,652.90 79.02,658.18 83.40,658.40 C87.78,658.62 92.71,655.30 96.50,653.10 C100.29,650.90 104.53,646.50 106.14,645.18" fill="none" stroke="#2a2a2a" stroke-width="8.10" stroke-linejoin="round"/>
<path d="M47.90,662.30 C49.43,660.55 53.38,653.55 57.10,651.80 C60.82,650.05 65.82,650.70 70.20,651.80 C74.58,652.90 79.02,658.18 83.40,658.40 C87.78,658.62 92.71,655.30 96.50,653.10 C100.29,650.90 104.53,646.50 106.14,645.18" fill="none" stroke="#2060c0" stroke-width="7.00" stroke-linejoin="round"/>
<polygon points="109.03,648.69 110.00,642.00 103.25,641.66" fill="#2060c0" stroke="#2a2a2a" stroke-width="0.55" stroke-linejoin="round"/>
<line x1="108.17" y1="647.65" x2="104.11" y2="642.70" stroke="#2060c0" stroke-width="1.20"/>
<path d="M47.90,662.30 C48.25,660.92 48.65,656.05 50.00,654.00 C51.35,651.95 53.67,650.33 56.00,650.00 C58.33,649.67 62.67,651.67 64.00,652.00" fill="none" stroke="#2a2a2a" stroke-width="2.70" stroke-linecap="round" stroke-linejoin="round"/>
<path d="M47.90,662.30 C48.25,660.92 48.65,656.05 50.00,654.00 C51.35,651.95 53.67,650.33 56.00,650.00 C58.33,649.67 62.67,651.67 64.00,652.00" fill="none" stroke="#2060c0" stroke-width="1.60" stroke-linecap="round" stroke-linejoin="round"/>
<path d="M70.20,648.10 C73.27,645.90 83.30,638.25 88.60,634.90 C93.90,631.55 99.03,629.48 102.00,628.00 C104.97,626.52 105.69,626.36 106.43,626.03" fill="none" stroke="#2a2a2a" stroke-width="7.60" stroke-linejoin="round"/>
<path d="M70.20,648.10 C73.27,645.90 83.30,638.25 88.60,634.90 C93.90,631.55 99.03,629.48 102.00,628.00 C104.97,626.52 105.69,626.36 106.43,626.03" fill="none" stroke="#3a46a8" stroke-width="6.50" stroke-linejoin="round"/>
<polygon points="108.28,630.19 111.00,624.00 104.58,621.87" fill="#3a46a8" stroke="#2a2a2a" stroke-width="0.55" stroke-linejoin="round"/>
<line x1="107.63" y1="628.73" x2="105.23" y2="623.33" stroke="#3a46a8" stroke-width="1.20"/>
<path d="M111.00,623.00 L123.60,627.50" fill="none" stroke="#2a2a2a" stroke-width="2.60" stroke-linecap="round" stroke-linejoin="round"/>
<path d="M111.00,623.00 L123.60,627.50" fill="none" stroke="#3a46a8" stroke-width="1.50" stroke-linecap="round" stroke-linejoin="round"/>
<path d="M54.40,658.60 C55.50,655.75 58.37,646.32 61.00,641.50 C63.63,636.68 66.48,633.42 70.20,629.70 C73.92,625.98 79.58,621.95 83.30,619.20 C87.02,616.45 90.81,614.21 92.50,613.20 C94.19,612.19 93.27,613.13 93.43,613.12" fill="none" stroke="#2a2a2a" stroke-width="7.90" stroke-linejoin="round"/>
<path d="M54.40,658.60 C55.50,655.75 58.37,646.32 61.00,641.50 C63.63,636.68 66.48,633.42 70.20,629.70 C73.92,625.98 79.58,621.95 83.30,619.20 C87.02,616.45 90.81,614.21 92.50,613.20 C94.19,612.19 93.27,613.13 93.43,613.12" fill="none" stroke="#e8402e" stroke-width="6.80" stroke-linejoin="round"/>
<polygon points="93.97,619.21 100.40,612.50 92.89,607.02" fill="#e8402e" stroke="#2a2a2a" stroke-width="0.55" stroke-linejoin="round"/>
<line x1="93.70" y1="616.21" x2="93.15" y2="610.03" stroke="#e8402e" stroke-width="1.20"/>
<path d="M99.20,613.00 L114.50,618.50" fill="none" stroke="#2a2a2a" stroke-width="2.60" stroke-linecap="round" stroke-linejoin="round"/>
<path d="M99.20,613.00 L114.50,618.50" fill="none" stroke="#e8402e" stroke-width="1.50" stroke-linecap="round" stroke-linejoin="round"/>
<path d="M135.00,417.40 C137.03,416.78 143.12,414.12 147.20,413.70 C151.28,413.28 157.45,414.70 159.50,414.90" fill="none" stroke="#2a2a2a" stroke-width="1.20" stroke-linecap="round" stroke-linejoin="round"/>
<path d="M135.00,417.40 C137.03,416.78 143.12,414.12 147.20,413.70 C151.28,413.28 157.45,414.70 159.50,414.90" fill="none" stroke="#40b0a0" stroke-width="1.20" stroke-linecap="round" stroke-linejoin="round"/>
<path d="M156.59,418.36 L156.70,418.24 L157.06,418.08 L157.66,417.91 L158.47,417.79 L159.42,417.73 L160.48,417.78 L161.57,417.96 L162.62,418.28 L163.57,418.75 L164.37,419.36 L164.97,420.10 L165.33,420.94" fill="none" stroke="#41abcb" stroke-width="1.40" stroke-linecap="round"/>
<path d="M159.47,427.72 L159.63,427.59 L160.04,427.43 L160.67,427.27 L161.51,427.15 L162.49,427.12 L163.55,427.19 L164.64,427.39 L165.68,427.74 L166.61,428.23 L167.38,428.86 L167.93,429.62 L168.25,430.48" fill="none" stroke="#43b2d2" stroke-width="1.40" stroke-linecap="round"/>
<path d="M162.36,437.09 L162.56,436.95 L163.02,436.78 L163.69,436.63 L164.55,436.52 L165.55,436.50 L166.63,436.60 L167.71,436.82 L168.74,437.19 L169.64,437.71 L170.37,438.37 L170.89,439.15 L171.16,440.02" fill="none" stroke="#45b9d9" stroke-width="1.40" stroke-linecap="round"/>
<path d="M165.26,446.45 L165.51,446.30 L166.00,446.13 L166.71,445.99" fill="none" stroke="#47bfdf" stroke-width="1.40" stroke-linecap="round"/>
<polygon points="160.56,418.34 159.71,418.95 158.87,419.38 158.12,419.62 157.51,419.68 157.08,419.55 156.79,419.03 156.38,417.69 156.37,417.26 156.69,417.00 157.22,416.68 157.92,416.26 158.72,415.73 159.56,415.09" fill="#40a8c8" stroke="#40a8c8" stroke-width="0.4" stroke-linejoin="round"/>
<polygon points="165.59,421.78 165.80,423.04 165.71,424.17 165.37,425.24 164.82,426.23 164.11,427.10 163.29,427.84 162.44,428.42 161.62,428.82 160.89,429.03 160.30,429.06 159.90,428.89 159.68,428.39 159.27,427.05 159.23,426.68 159.50,426.43 159.99,426.13 160.67,425.73 161.45,425.21 162.29,424.59 163.11,423.88 163.85,423.09 164.46,422.26 164.87,421.43 165.07,420.66 165.07,420.09" fill="#42afcf" stroke="#42afcf" stroke-width="0.4" stroke-linejoin="round"/>
<polygon points="168.54,431.42 168.69,432.62 168.55,433.74 168.17,434.80 167.59,435.77 166.85,436.63 166.02,437.34 165.17,437.88 164.36,438.25 163.65,438.43 163.10,438.42 162.74,438.21 162.57,437.76 162.16,436.42 162.09,436.11 162.31,435.86 162.78,435.57 163.42,435.19 164.19,434.69 165.03,434.09 165.86,433.39 166.62,432.61 167.24,431.79 167.69,430.96 167.93,430.17 167.96,429.53" fill="#44b6d6" stroke="#44b6d6" stroke-width="0.4" stroke-linejoin="round"/>
<polygon points="171.47,441.03 171.56,442.21 171.38,443.32 170.96,444.36 170.35,445.32 169.59,446.15 168.76,446.83 167.91,447.34 167.11,447.68 166.43,447.82 165.91,447.78 165.57,447.53 165.47,447.12 165.06,445.78 164.97,445.55 165.14,445.29 165.56,445.01 166.18,444.64 166.93,444.17 167.76,443.59 168.60,442.90 169.37,442.14 170.03,441.32 170.51,440.49 170.79,439.69 170.85,439.01" fill="#47bddd" stroke="#47bddd" stroke-width="0.4" stroke-linejoin="round"/>
<ellipse cx="135.00" cy="424.00" rx="4.20" ry="4.00" transform="rotate(0.0 135.00 424.00)" fill="none" stroke="#58b048" stroke-width="1.60"/>
<ellipse cx="131.00" cy="430.00" rx="4.00" ry="3.60" transform="rotate(0.0 131.00 430.00)" fill="none" stroke="#58b048" stroke-width="1.40"/>
<path d="M128.68,439.96 L128.50,439.68 L128.50,439.12 L128.71,438.33 L129.13,437.37 L129.76,436.32 L130.57,435.27 L131.54,434.29 L132.62,433.46 L133.76,432.86 L134.90,432.53 L135.99,432.51 L136.98,432.80" fill="none" stroke="#65b446" stroke-width="1.50" stroke-linecap="round"/>
<path d="M136.66,443.69 L136.49,443.38 L136.51,442.80 L136.74,441.99 L137.18,441.02 L137.82,439.97 L138.65,438.92 L139.63,437.95 L140.72,437.14 L141.86,436.56 L143.00,436.25 L144.08,436.26 L145.06,436.58" fill="none" stroke="#81bd42" stroke-width="1.50" stroke-linecap="round"/>
<path d="M144.63,447.41 L144.49,447.08 L144.52,446.48 L144.77,445.65 L145.23,444.67 L145.89,443.61 L146.73,442.57 L147.72,441.61 L148.82,440.82 L149.96,440.26 L151.09,439.98 L152.17,440.01 L153.14,440.37" fill="none" stroke="#9dc53f" stroke-width="1.50" stroke-linecap="round"/>
<path d="M152.62,451.14 L152.48,450.78 L152.54,450.15 L152.80,449.31 L153.28,448.32 L153.96,447.26 L154.81,446.22 L155.81,445.27 L156.91,444.50 L158.06,443.96 L159.19,443.71 L160.26,443.77 L161.21,444.15" fill="none" stroke="#b9ce3b" stroke-width="1.50" stroke-linecap="round"/>
<path d="M160.60,454.85 L160.48,454.47 L160.55,453.82 L160.83,452.97 L161.33,451.97 L162.02,450.91 L162.90,449.87 L163.91,448.94 L165.01,448.18" fill="none" stroke="#d3d638" stroke-width="1.50" stroke-linecap="round"/>
<polygon points="132.79,436.36 132.47,437.65 132.01,438.77 131.45,439.65 130.84,440.24 130.21,440.49 129.36,440.28 128.00,439.64 127.80,439.37 128.01,438.92 128.34,438.20 128.72,437.23 129.07,436.06 129.34,434.75" fill="#5bb147" stroke="#5bb147" stroke-width="0.4" stroke-linejoin="round"/>
<polygon points="137.79,433.19 139.04,433.98 139.90,434.96 140.49,436.14 140.82,437.46 140.90,438.85 140.77,440.22 140.44,441.50 139.97,442.60 139.40,443.46 138.78,444.02 138.15,444.24 137.33,444.01 135.98,443.37 135.79,443.13 135.99,442.71 136.31,442.01 136.69,441.06 137.04,439.91 137.32,438.61 137.49,437.25 137.51,435.91 137.36,434.68 137.05,433.63 136.59,432.84 136.16,432.42" fill="#73b844" stroke="#73b844" stroke-width="0.4" stroke-linejoin="round"/>
<polygon points="145.94,437.00 147.13,437.80 147.96,438.80 148.53,439.99 148.84,441.32 148.90,442.71 148.74,444.07 148.40,445.34 147.92,446.42 147.35,447.26 146.73,447.79 146.09,447.98 145.31,447.73 143.96,447.10 143.78,446.90 143.96,446.50 144.28,445.82 144.65,444.89 145.01,443.75 145.30,442.47 145.48,441.11 145.51,439.76 145.38,438.52 145.08,437.45 144.63,436.63 144.17,436.17" fill="#8fc141" stroke="#8fc141" stroke-width="0.4" stroke-linejoin="round"/>
<polygon points="154.08,440.81 155.21,441.62 156.02,442.63 156.57,443.84 156.85,445.18 156.89,446.57 156.72,447.93 156.37,449.18 155.88,450.24 155.30,451.06 154.68,451.56 154.04,451.72 153.29,451.45 151.94,450.82 151.77,450.66 151.94,450.28 152.25,449.63 152.62,448.72 152.98,447.60 153.28,446.32 153.47,444.97 153.52,443.62 153.40,442.36 153.11,441.27 152.68,440.43 152.19,439.93" fill="#abca3d" stroke="#abca3d" stroke-width="0.4" stroke-linejoin="round"/>
<polygon points="162.20,444.61 163.30,445.44 164.08,446.47 164.60,447.69 164.86,449.03 164.89,450.43 164.70,451.78 164.33,453.02 163.83,454.06 163.24,454.85 162.62,455.33 161.98,455.45 161.28,455.17 159.92,454.54 159.77,454.42 159.92,454.07 160.22,453.44 160.59,452.55 160.95,451.44 161.26,450.17 161.46,448.82 161.52,447.47 161.42,446.20 161.14,445.10 160.72,444.23 160.23,443.69" fill="#c7d23a" stroke="#c7d23a" stroke-width="0.4" stroke-linejoin="round"/>
<path d="M165.60,473.80 C167.03,472.77 171.53,470.07 174.20,467.60 C176.87,465.13 179.55,461.03 181.60,459.00 C183.65,456.97 187.12,457.63 186.50,455.40 C185.88,453.17 180.35,446.22 177.90,445.60 C175.45,444.98 172.82,450.68 171.80,451.70" fill="none" stroke="#2a2a2a" stroke-width="1.10" stroke-linecap="round" stroke-linejoin="round"/>
<path d="M165.60,473.80 C167.03,472.77 171.53,470.07 174.20,467.60 C176.87,465.13 179.55,461.03 181.60,459.00 C183.65,456.97 187.12,457.63 186.50,455.40 C185.88,453.17 180.35,446.22 177.90,445.60 C175.45,444.98 172.82,450.68 171.80,451.70" fill="none" stroke="#e8d040" stroke-width="1.10" stroke-linecap="round" stroke-linejoin="round"/>
<path d="M114.10,445.60 C114.75,445.33 116.57,443.80 118.00,444.00 C119.43,444.20 121.92,446.33 122.70,446.80" fill="none" stroke="#2a2a2a" stroke-width="1.10" stroke-linecap="round" stroke-linejoin="round"/>
<path d="M114.10,445.60 C114.75,445.33 116.57,443.80 118.00,444.00 C119.43,444.20 121.92,446.33 122.70,446.80" fill="none" stroke="#3a5cb0" stroke-width="1.10" stroke-linecap="round" stroke-linejoin="round"/>
<path d="M123.12,451.69 L122.99,451.46 L123.01,450.98 L123.19,450.27 L123.56,449.42 L124.10,448.47 L124.81,447.51 L125.66,446.62 L126.61,445.85 L127.62,445.29 L128.65,444.97 L129.64,444.92 L130.56,445.17" fill="none" stroke="#3159b4" stroke-width="1.50" stroke-linecap="round"/>
<path d="M131.25,454.89 L131.15,454.60 L131.20,454.07 L131.42,453.34 L131.82,452.46 L132.39,451.50 L133.13,450.55 L134.00,449.67 L134.96,448.94 L135.98,448.42 L137.01,448.15 L137.99,448.16 L138.89,448.46" fill="none" stroke="#356cbe" stroke-width="1.50" stroke-linecap="round"/>
<path d="M139.39,458.07 L139.31,457.74 L139.39,457.16 L139.65,456.39 L140.08,455.49 L140.69,454.53 L141.45,453.59 L142.34,452.73 L143.32,452.04 L144.34,451.56 L145.37,451.35 L146.34,451.41 L147.22,451.77" fill="none" stroke="#3980c8" stroke-width="1.50" stroke-linecap="round"/>
<path d="M147.53,461.24 L147.48,460.86 L147.59,460.24 L147.88,459.44 L148.35,458.52 L148.99,457.56 L149.78,456.63 L150.69,455.80 L151.68,455.15 L152.71,454.72 L153.72,454.55 L154.68,454.67 L155.54,455.08" fill="none" stroke="#3d93d1" stroke-width="1.50" stroke-linecap="round"/>
<polygon points="126.52,448.30 126.35,449.47 126.04,450.49 125.62,451.31 125.13,451.87 124.59,452.13 123.82,451.97 122.42,451.42 122.13,451.16 122.23,450.73 122.43,450.06 122.65,449.16 122.85,448.09 122.98,446.91" fill="#3052b1" stroke="#3052b1" stroke-width="0.4" stroke-linejoin="round"/>
<polygon points="131.47,445.53 132.64,446.20 133.50,447.06 134.12,448.10 134.51,449.28 134.69,450.52 134.66,451.75 134.47,452.89 134.13,453.88 133.69,454.65 133.20,455.16 132.65,455.35 131.95,455.16 130.56,454.61 130.30,454.42 130.37,454.04 130.55,453.42 130.77,452.56 130.98,451.52 131.13,450.35 131.18,449.13 131.10,447.93 130.88,446.83 130.54,445.89 130.08,445.19 129.66,444.81" fill="#3363b9" stroke="#3363b9" stroke-width="0.4" stroke-linejoin="round"/>
<polygon points="139.91,448.86 140.99,449.56 141.80,450.46 142.38,451.53 142.73,452.72 142.86,453.97 142.80,455.19 142.58,456.31 142.22,457.26 141.77,457.99 141.26,458.43 140.71,458.56 140.09,458.34 138.69,457.79 138.48,457.69 138.51,457.35 138.68,456.77 138.90,455.95 139.11,454.95 139.27,453.80 139.34,452.58 139.29,451.37 139.10,450.24 138.78,449.27 138.34,448.52 137.88,448.06" fill="#3776c3" stroke="#3776c3" stroke-width="0.4" stroke-linejoin="round"/>
<polygon points="148.31,452.20 149.33,452.93 150.09,453.86 150.63,454.96 150.94,456.17 151.03,457.42 150.94,458.63 150.69,459.72 150.31,460.63 149.84,461.31 149.33,461.70 148.75,461.76 148.23,461.51 146.83,460.96 146.68,460.94 146.66,460.65 146.81,460.11 147.02,459.34 147.24,458.36 147.42,457.24 147.50,456.03 147.48,454.81 147.32,453.66 147.02,452.65 146.60,451.85 146.12,451.33" fill="#3b89cc" stroke="#3b89cc" stroke-width="0.4" stroke-linejoin="round"/>
<polygon points="156.70,455.54 157.66,456.31 158.38,457.28 158.87,458.40 159.14,459.62 159.20,460.87 159.07,462.06 158.79,463.12 158.39,464.00 157.91,464.62 157.39,464.95 154.81,463.93 154.94,463.45 155.15,462.72 155.37,461.78 155.55,460.68 155.66,459.48 155.66,458.25 155.52,457.09 155.25,456.04 154.85,455.20 154.38,454.62" fill="#3f9cd6" stroke="#3f9cd6" stroke-width="0.4" stroke-linejoin="round"/>
<path d="M123.90,460.90 C124.93,459.77 127.75,454.58 130.10,454.10 C132.45,453.62 136.68,457.35 138.00,458.00" fill="none" stroke="#2a2a2a" stroke-width="1.10" stroke-linecap="round" stroke-linejoin="round"/>
<path d="M123.90,460.90 C124.93,459.77 127.75,454.58 130.10,454.10 C132.45,453.62 136.68,457.35 138.00,458.00" fill="none" stroke="#e03030" stroke-width="1.10" stroke-linecap="round" stroke-linejoin="round"/>
<path d="M137.89,466.34 L137.90,465.80 L138.11,465.04 L138.53,464.14 L139.15,463.16 L139.96,462.19 L140.90,461.29 L141.95,460.54 L143.04,460.00 L144.12,459.73 L145.14,459.74 L146.05,460.04 L146.79,460.64" fill="none" stroke="#e93f30" stroke-width="1.50" stroke-linecap="round"/>
<path d="M144.62,470.02 L144.62,469.47 L144.83,468.72 L145.25,467.82 L145.88,466.84 L146.68,465.86 L147.63,464.96 L148.67,464.22 L149.77,463.68 L150.85,463.40 L151.87,463.41 L152.77,463.72 L153.52,464.31" fill="none" stroke="#eb5b30" stroke-width="1.50" stroke-linecap="round"/>
<path d="M151.34,473.69 L151.35,473.15 L151.56,472.39 L151.98,471.49 L152.60,470.51 L153.41,469.54 L154.35,468.64 L155.40,467.89 L156.49,467.35 L157.57,467.08 L158.59,467.09 L159.50,467.39 L160.24,467.99" fill="none" stroke="#ed7730" stroke-width="1.50" stroke-linecap="round"/>
<path d="M158.25,477.66 L158.07,477.37 L158.07,476.82 L158.28,476.07 L158.70,475.17 L159.33,474.19 L160.13,473.21 L161.08,472.31 L162.12,471.57 L163.22,471.03 L164.30,470.75 L165.32,470.76 L166.22,471.07 L166.97,471.66" fill="none" stroke="#ef9330" stroke-width="1.50" stroke-linecap="round"/>
<polygon points="142.56,463.61 142.15,464.80 141.61,465.83 140.98,466.62 140.31,467.12 139.64,467.30 138.74,466.99 138.55,466.70 137.23,465.98 137.42,466.27 137.21,465.97 137.45,465.55 137.82,464.89 138.25,463.99 138.68,462.91 139.05,461.69" fill="#e83430" stroke="#e83430" stroke-width="0.4" stroke-linejoin="round"/>
<polygon points="148.01,461.30 148.78,462.27 149.28,463.41 149.52,464.68 149.51,465.99 149.29,467.28 148.88,468.48 148.34,469.50 147.71,470.29 147.04,470.79 146.36,470.97 145.46,470.67 145.28,470.38 143.96,469.66 144.15,469.95 143.93,469.64 144.17,469.23 144.55,468.56 144.98,467.67 145.41,466.58 145.78,465.37 146.04,464.09 146.16,462.84 146.12,461.69 145.92,460.71 145.58,459.97" fill="#ea4d30" stroke="#ea4d30" stroke-width="0.4" stroke-linejoin="round"/>
<polygon points="154.73,464.98 155.51,465.95 156.01,467.09 156.24,468.35 156.24,469.67 156.01,470.96 155.60,472.15 155.06,473.18 154.43,473.97 153.76,474.47 153.09,474.65 152.19,474.34 152.00,474.05 150.68,473.33 150.87,473.62 150.66,473.32 150.90,472.90 151.27,472.24 151.70,471.34 152.13,470.26 152.50,469.04 152.76,467.77 152.89,466.52 152.85,465.36 152.64,464.38 152.30,463.65" fill="#ec6930" stroke="#ec6930" stroke-width="0.4" stroke-linejoin="round"/>
<polygon points="161.46,468.65 162.23,469.62 162.73,470.76 162.97,472.03 162.96,473.34 162.74,474.63 162.33,475.83 161.79,476.85 161.16,477.64 160.49,478.14 159.81,478.32 158.91,478.02 157.60,477.30 157.38,476.99 157.62,476.58 158.00,475.91 158.43,475.02 158.86,473.93 159.23,472.72 159.49,471.44 159.61,470.19 159.57,469.04 159.37,468.06 159.03,467.32" fill="#ee8530" stroke="#ee8530" stroke-width="0.4" stroke-linejoin="round"/>
<polygon points="168.18,472.33 168.96,473.30 169.46,474.44 169.69,475.70 169.69,477.02 169.46,478.31 165.95,476.39 166.21,475.12 166.34,473.87 166.30,472.71 166.09,471.73 165.75,471.00" fill="#ef9d30" stroke="#ef9d30" stroke-width="0.4" stroke-linejoin="round"/>
<path d="M275.40,419.80 C276.73,419.70 281.87,418.58 283.40,419.20 C284.93,419.82 283.37,421.97 284.60,423.50 C285.83,425.03 289.57,425.95 290.80,428.40 C292.03,430.85 291.18,434.52 292.00,438.20 C292.82,441.88 294.68,447.43 295.70,450.50 C296.72,453.57 297.80,454.15 298.10,456.60 C298.40,459.05 296.88,462.95 297.50,465.20 C298.12,467.45 300.07,468.88 301.80,470.10 C303.53,471.32 306.27,471.48 307.90,472.50 C309.53,473.52 310.37,476.40 311.60,476.20 C312.83,476.00 314.68,472.12 315.30,471.30" fill="none" stroke="#2a2a2a" stroke-width="1.10" stroke-linecap="round" stroke-linejoin="round"/>
<path d="M275.40,419.80 C276.73,419.70 281.87,418.58 283.40,419.20 C284.93,419.82 283.37,421.97 284.60,423.50 C285.83,425.03 289.57,425.95 290.80,428.40 C292.03,430.85 291.18,434.52 292.00,438.20 C292.82,441.88 294.68,447.43 295.70,450.50 C296.72,453.57 297.80,454.15 298.10,456.60 C298.40,459.05 296.88,462.95 297.50,465.20 C298.12,467.45 300.07,468.88 301.80,470.10 C303.53,471.32 306.27,471.48 307.90,472.50 C309.53,473.52 310.37,476.40 311.60,476.20 C312.83,476.00 314.68,472.12 315.30,471.30" fill="none" stroke="#3a5cb0" stroke-width="1.10" stroke-linecap="round" stroke-linejoin="round"/>
<path d="M288.00,424.00 C288.67,423.33 290.67,419.33 292.00,420.00 C293.33,420.67 295.33,426.67 296.00,428.00" fill="none" stroke="#2a2a2a" stroke-width="1.00" stroke-linecap="round" stroke-linejoin="round"/>
<path d="M288.00,424.00 C288.67,423.33 290.67,419.33 292.00,420.00 C293.33,420.67 295.33,426.67 296.00,428.00" fill="none" stroke="#40b0c0" stroke-width="1.00" stroke-linecap="round" stroke-linejoin="round"/>
<path d="M280.90,438.20 C281.93,438.00 285.45,435.98 287.10,437.00 C288.75,438.02 291.22,442.87 290.80,444.30 C290.38,445.73 286.25,446.62 284.60,445.60 C282.95,444.58 281.52,439.43 280.90,438.20" fill="none" stroke="#2a2a2a" stroke-width="1.00" stroke-linecap="round" stroke-linejoin="round"/>
<path d="M280.90,438.20 C281.93,438.00 285.45,435.98 287.10,437.00 C288.75,438.02 291.22,442.87 290.80,444.30 C290.38,445.73 286.25,446.62 284.60,445.60 C282.95,444.58 281.52,439.43 280.90,438.20" fill="none" stroke="#70b850" stroke-width="1.00" stroke-linecap="round" stroke-linejoin="round"/>
<path d="M326.30,443.10 C327.12,444.53 331.00,449.05 331.20,451.70 C331.40,454.35 328.52,458.38 327.50,459.00 C326.48,459.62 325.50,456.00 325.10,455.40" fill="none" stroke="#2a2a2a" stroke-width="1.00" stroke-linecap="round" stroke-linejoin="round"/>
<path d="M326.30,443.10 C327.12,444.53 331.00,449.05 331.20,451.70 C331.40,454.35 328.52,458.38 327.50,459.00 C326.48,459.62 325.50,456.00 325.10,455.40" fill="none" stroke="#70b850" stroke-width="1.00" stroke-linecap="round" stroke-linejoin="round"/>
<path d="M305.50,432.10 C306.92,433.12 311.44,435.54 314.00,438.20 C316.56,440.86 319.73,446.40 320.88,448.04" fill="none" stroke="#2a2a2a" stroke-width="3.20" stroke-linejoin="round"/>
<path d="M305.50,432.10 C306.92,433.12 311.44,435.54 314.00,438.20 C316.56,440.86 319.73,446.40 320.88,448.04" fill="none" stroke="#40b0a0" stroke-width="3.20" stroke-linejoin="round"/>
<polygon points="318.52,449.69 322.60,450.50 323.24,446.39" fill="#40b0a0" stroke="#2a2a2a" stroke-width="0.00" stroke-linejoin="round"/>
<line x1="319.82" y1="448.79" x2="321.95" y2="447.30" stroke="#40b0a0" stroke-width="1.20"/>
<path d="M295.70,446.80 C297.73,447.42 303.48,449.20 307.90,450.50 C312.32,451.80 319.83,453.90 322.21,454.58" fill="none" stroke="#2a2a2a" stroke-width="3.20" stroke-linejoin="round"/>
<path d="M295.70,446.80 C297.73,447.42 303.48,449.20 307.90,450.50 C312.32,451.80 319.83,453.90 322.21,454.58" fill="none" stroke="#70b850" stroke-width="3.20" stroke-linejoin="round"/>
<polygon points="321.43,457.35 325.10,455.40 323.00,451.81" fill="#70b850" stroke="#2a2a2a" stroke-width="0.00" stroke-linejoin="round"/>
<line x1="321.86" y1="455.83" x2="322.57" y2="453.33" stroke="#70b850" stroke-width="1.20"/>
<path d="M290.80,438.20 L296.23,453.52" fill="none" stroke="#2a2a2a" stroke-width="2.60" stroke-linejoin="round"/>
<path d="M290.80,438.20 L296.23,453.52" fill="none" stroke="#3a5cb0" stroke-width="2.60" stroke-linejoin="round"/>
<polygon points="294.03,454.30 296.90,455.40 298.44,452.73" fill="#3a5cb0" stroke="#2a2a2a" stroke-width="0.00" stroke-linejoin="round"/>
<line x1="295.29" y1="453.85" x2="297.17" y2="453.18" stroke="#3a5cb0" stroke-width="1.20"/>
<path d="M298.10,454.10 L305.29,461.29" fill="none" stroke="#2a2a2a" stroke-width="2.80" stroke-linejoin="round"/>
<path d="M298.10,454.10 L305.29,461.29" fill="none" stroke="#40b8e0" stroke-width="2.80" stroke-linejoin="round"/>
<polygon points="303.50,463.07 306.70,462.70 307.07,459.50" fill="#40b8e0" stroke="#2a2a2a" stroke-width="0.00" stroke-linejoin="round"/>
<line x1="304.51" y1="462.06" x2="306.06" y2="460.51" stroke="#40b8e0" stroke-width="1.20"/>
<path d="M294.40,418.60 C295.43,418.40 299.57,416.78 300.60,417.40 C301.63,418.02 300.60,421.48 300.60,422.30" fill="none" stroke="#2a2a2a" stroke-width="1.10" stroke-linecap="round" stroke-linejoin="round"/>
<path d="M294.40,418.60 C295.43,418.40 299.57,416.78 300.60,417.40 C301.63,418.02 300.60,421.48 300.60,422.30" fill="none" stroke="#f0a030" stroke-width="1.10" stroke-linecap="round" stroke-linejoin="round"/>
<path d="M300.60,422.30 C301.82,424.95 305.25,432.48 307.90,438.20 C310.55,443.92 314.50,452.53 316.50,456.60 C318.50,460.67 319.35,461.59 319.91,462.59" fill="none" stroke="#2a2a2a" stroke-width="3.60" stroke-linejoin="round"/>
<path d="M300.60,422.30 C301.82,424.95 305.25,432.48 307.90,438.20 C310.55,443.92 314.50,452.53 316.50,456.60 C318.50,460.67 319.35,461.59 319.91,462.59" fill="none" stroke="#f0e030" stroke-width="3.60" stroke-linejoin="round"/>
<polygon points="317.10,464.20 321.40,465.20 322.73,460.99" fill="#f0e030" stroke="#2a2a2a" stroke-width="0.00" stroke-linejoin="round"/>
<line x1="318.61" y1="463.34" x2="321.22" y2="461.85" stroke="#f0e030" stroke-width="1.20"/>
<path d="M300.60,423.50 C300.18,425.33 297.90,430.62 298.10,434.50 C298.30,438.38 300.37,442.72 301.80,446.80 C303.23,450.88 305.06,455.84 306.70,459.00 C308.34,462.16 310.82,464.64 311.64,465.77" fill="none" stroke="#2a2a2a" stroke-width="3.80" stroke-linejoin="round"/>
<path d="M300.60,423.50 C300.18,425.33 297.90,430.62 298.10,434.50 C298.30,438.38 300.37,442.72 301.80,446.80 C303.23,450.88 305.06,455.84 306.70,459.00 C308.34,462.16 310.82,464.64 311.64,465.77" fill="none" stroke="#f07030" stroke-width="3.80" stroke-linejoin="round"/>
<polygon points="308.88,467.79 314.00,469.00 314.40,463.75" fill="#f07030" stroke="#2a2a2a" stroke-width="0.00" stroke-linejoin="round"/>
<line x1="310.35" y1="466.71" x2="312.93" y2="464.83" stroke="#f07030" stroke-width="1.20"/>
<path d="M321.40,465.20 C322.83,465.40 327.95,465.38 330.00,466.40 C332.05,467.42 333.50,469.67 333.70,471.30 C333.90,472.93 332.23,476.00 331.20,476.20 C330.17,476.40 328.12,473.12 327.50,472.50" fill="none" stroke="#2a2a2a" stroke-width="1.80" stroke-linecap="round" stroke-linejoin="round"/>
<path d="M321.40,465.20 C322.83,465.40 327.95,465.38 330.00,466.40 C332.05,467.42 333.50,469.67 333.70,471.30 C333.90,472.93 332.23,476.00 331.20,476.20 C330.17,476.40 328.12,473.12 327.50,472.50" fill="none" stroke="#f0e030" stroke-width="1.80" stroke-linecap="round" stroke-linejoin="round"/>
<path d="M315.30,471.30 C316.12,472.53 318.37,476.25 320.20,478.70 C322.03,481.15 324.05,484.98 326.30,486.00 C328.55,487.02 331.25,483.98 333.70,484.80 C336.15,485.62 339.78,489.88 341.00,490.90" fill="none" stroke="#2a2a2a" stroke-width="1.10" stroke-linecap="round" stroke-linejoin="round"/>
<path d="M315.30,471.30 C316.12,472.53 318.37,476.25 320.20,478.70 C322.03,481.15 324.05,484.98 326.30,486.00 C328.55,487.02 331.25,483.98 333.70,484.80 C336.15,485.62 339.78,489.88 341.00,490.90" fill="none" stroke="#e03030" stroke-width="1.10" stroke-linecap="round" stroke-linejoin="round"/>
<path d="M436.60,423.00 C436.40,424.63 434.58,430.55 435.40,432.80 C436.22,435.05 438.65,434.85 441.50,436.50 C444.35,438.15 449.63,440.85 452.50,442.70 C455.37,444.55 457.67,446.78 458.70,447.60" fill="none" stroke="#2a2a2a" stroke-width="1.10" stroke-linecap="round" stroke-linejoin="round"/>
<path d="M436.60,423.00 C436.40,424.63 434.58,430.55 435.40,432.80 C436.22,435.05 438.65,434.85 441.50,436.50 C444.35,438.15 449.63,440.85 452.50,442.70 C455.37,444.55 457.67,446.78 458.70,447.60" fill="none" stroke="#3a5cb0" stroke-width="1.10" stroke-linecap="round" stroke-linejoin="round"/>
<path d="M436.60,423.00 C437.62,422.28 440.87,419.52 442.70,418.70 C444.53,417.88 446.17,417.17 447.60,418.10 C449.03,419.03 450.88,422.05 451.30,424.30 C451.72,426.55 449.48,429.57 450.10,431.60 C450.72,433.63 454.18,435.68 455.00,436.50" fill="none" stroke="#2a2a2a" stroke-width="1.10" stroke-linecap="round" stroke-linejoin="round"/>
<path d="M436.60,423.00 C437.62,422.28 440.87,419.52 442.70,418.70 C444.53,417.88 446.17,417.17 447.60,418.10 C449.03,419.03 450.88,422.05 451.30,424.30 C451.72,426.55 449.48,429.57 450.10,431.60 C450.72,433.63 454.18,435.68 455.00,436.50" fill="none" stroke="#40a8d8" stroke-width="1.10" stroke-linecap="round" stroke-linejoin="round"/>
<ellipse cx="453.50" cy="437.50" rx="3.20" ry="3.00" transform="rotate(0.0 453.50 437.50)" fill="none" stroke="#40b0c0" stroke-width="1.20"/>
<path d="M452.50,442.70 C453.08,440.92 454.97,435.07 456.00,432.00 C457.03,428.93 457.53,425.97 458.70,424.30 C459.87,422.63 461.58,421.80 463.00,422.00 C464.42,422.20 466.70,423.90 467.20,425.50 C467.70,427.10 467.22,429.77 466.00,431.60 C464.78,433.43 460.92,435.68 459.90,436.50" fill="none" stroke="#2a2a2a" stroke-width="1.10" stroke-linecap="round" stroke-linejoin="round"/>
<path d="M452.50,442.70 C453.08,440.92 454.97,435.07 456.00,432.00 C457.03,428.93 457.53,425.97 458.70,424.30 C459.87,422.63 461.58,421.80 463.00,422.00 C464.42,422.20 466.70,423.90 467.20,425.50 C467.70,427.10 467.22,429.77 466.00,431.60 C464.78,433.43 460.92,435.68 459.90,436.50" fill="none" stroke="#58b048" stroke-width="1.10" stroke-linecap="round" stroke-linejoin="round"/>
<ellipse cx="462.00" cy="427.00" rx="2.60" ry="2.60" transform="rotate(0.0 462.00 427.00)" fill="none" stroke="#58b048" stroke-width="1.00"/>
<path d="M457.33,449.98 L457.74,449.90 L458.30,449.69 L458.99,449.39 L459.78,449.02 L460.64,448.64 L461.52,448.28 L462.39,447.99 L463.19,447.80 L463.90,447.74 L464.48,447.83 L464.90,448.10 L465.17,448.52" fill="none" stroke="#40b6c0" stroke-width="1.00" stroke-linecap="round"/>
<path d="M463.33,455.98 L463.74,455.90 L464.30,455.69 L464.99,455.39 L465.78,455.02 L466.64,454.64 L467.52,454.28 L468.39,453.99 L469.19,453.80 L469.90,453.74 L470.48,453.83 L470.90,454.10 L471.17,454.52" fill="none" stroke="#40b3b3" stroke-width="1.00" stroke-linecap="round"/>
<path d="M469.33,461.98 L469.74,461.90 L470.30,461.69 L470.99,461.39 L471.78,461.02 L472.64,460.64 L473.52,460.28 L474.39,459.99 L475.19,459.80 L475.90,459.74 L476.48,459.83 L476.90,460.10 L477.17,460.52" fill="none" stroke="#40b1a6" stroke-width="1.00" stroke-linecap="round"/>
<polygon points="459.56,447.56 459.16,448.41 458.75,449.16 458.37,449.77 458.05,450.22 457.81,450.45 457.45,450.26 457.69,450.33 456.98,449.63 456.74,449.55 456.24,448.88 456.14,448.31 456.24,447.64 456.47,446.87 456.79,446.03 457.16,445.16" fill="#40b7c5" stroke="#40b7c5" stroke-width="0.4" stroke-linejoin="round"/>
<polygon points="465.95,449.31 466.22,450.05 466.27,450.87 466.16,451.75 465.91,452.66 465.56,453.56 465.16,454.41 464.75,455.16 464.37,455.77 464.05,456.22 463.81,456.45 463.45,456.26 463.69,456.33 462.98,455.63 462.74,455.55 462.24,454.88 462.14,454.31 462.24,453.64 462.47,452.87 462.79,452.03 463.16,451.16 463.53,450.29 463.87,449.47 464.14,448.74 464.31,448.14 464.38,447.74" fill="#40b5ba" stroke="#40b5ba" stroke-width="0.4" stroke-linejoin="round"/>
<polygon points="471.95,455.31 472.22,456.05 472.27,456.87 472.16,457.75 471.91,458.66 471.56,459.56 471.16,460.41 470.75,461.16 470.37,461.77 470.05,462.22 469.81,462.45 469.45,462.26 469.69,462.33 468.98,461.63 468.74,461.55 468.24,460.88 468.14,460.31 468.24,459.64 468.47,458.87 468.79,458.03 469.16,457.16 469.53,456.29 469.87,455.47 470.14,454.74 470.31,454.14 470.38,453.74" fill="#40b2ac" stroke="#40b2ac" stroke-width="0.4" stroke-linejoin="round"/>
<polygon points="477.95,461.31 478.22,462.05 478.27,462.87 478.16,463.75 477.91,464.66 477.56,465.56 475.16,463.16 475.53,462.29 475.87,461.47 476.14,460.74 476.31,460.14 476.38,459.74" fill="#40b0a1" stroke="#40b0a1" stroke-width="0.4" stroke-linejoin="round"/>
<path d="M482.00,468.00 C480.00,466.83 473.68,463.23 470.00,461.00 C466.32,458.77 461.61,455.67 459.93,454.61" fill="none" stroke="#2a2a2a" stroke-width="3.80" stroke-linejoin="round"/>
<path d="M482.00,468.00 C480.00,466.83 473.68,463.23 470.00,461.00 C466.32,458.77 461.61,455.67 459.93,454.61" fill="none" stroke="#58b048" stroke-width="3.80" stroke-linejoin="round"/>
<polygon points="461.46,452.20 457.40,453.00 458.41,457.01" fill="#58b048" stroke="#2a2a2a" stroke-width="0.00" stroke-linejoin="round"/>
<line x1="460.79" y1="453.26" x2="459.08" y2="455.96" stroke="#58b048" stroke-width="1.20"/>
<ellipse cx="485.60" cy="472.10" rx="3.80" ry="3.80" transform="rotate(0.0 485.60 472.10)" fill="none" stroke="#58b048" stroke-width="1.10"/>
<ellipse cx="489.30" cy="473.30" rx="3.80" ry="3.80" transform="rotate(0.0 489.30 473.30)" fill="none" stroke="#58b048" stroke-width="1.10"/>
<path d="M492.00,469.00 C490.93,467.67 488.93,464.00 485.60,461.00 C482.27,458.00 475.31,453.30 472.00,451.00 C468.69,448.70 466.76,447.82 465.72,447.18" fill="none" stroke="#2a2a2a" stroke-width="3.80" stroke-linejoin="round"/>
<path d="M492.00,469.00 C490.93,467.67 488.93,464.00 485.60,461.00 C482.27,458.00 475.31,453.30 472.00,451.00 C468.69,448.70 466.76,447.82 465.72,447.18" fill="none" stroke="#3a50b0" stroke-width="3.80" stroke-linejoin="round"/>
<polygon points="467.20,444.74 462.30,445.10 464.24,449.61" fill="#3a50b0" stroke="#2a2a2a" stroke-width="0.00" stroke-linejoin="round"/>
<line x1="466.55" y1="445.81" x2="464.89" y2="448.55" stroke="#3a50b0" stroke-width="1.20"/>
<path d="M470.90,431.60 C471.42,431.00 472.57,427.58 474.00,428.00 C475.43,428.42 479.40,432.07 479.50,434.10 C479.60,436.13 475.42,439.18 474.60,440.20" fill="none" stroke="#2a2a2a" stroke-width="1.10" stroke-linecap="round" stroke-linejoin="round"/>
<path d="M470.90,431.60 C471.42,431.00 472.57,427.58 474.00,428.00 C475.43,428.42 479.40,432.07 479.50,434.10 C479.60,436.13 475.42,439.18 474.60,440.20" fill="none" stroke="#d8d040" stroke-width="1.10" stroke-linecap="round" stroke-linejoin="round"/>
<path d="M473.00,438.00 C474.17,437.83 478.25,436.78 480.00,437.00 C481.75,437.22 482.92,438.95 483.50,439.34" fill="none" stroke="#2a2a2a" stroke-width="3.00" stroke-linejoin="round"/>
<path d="M473.00,438.00 C474.17,437.83 478.25,436.78 480.00,437.00 C481.75,437.22 482.92,438.95 483.50,439.34" fill="none" stroke="#d8d840" stroke-width="3.00" stroke-linejoin="round"/>
<polygon points="482.26,441.21 486.00,441.00 484.75,437.46" fill="#d8d840" stroke="#2a2a2a" stroke-width="0.00" stroke-linejoin="round"/>
<line x1="482.84" y1="440.33" x2="484.17" y2="438.34" stroke="#d8d840" stroke-width="1.20"/>
<path d="M472.50,443.00 C473.42,443.67 476.35,445.91 478.00,447.00 C479.65,448.09 481.66,449.09 482.40,449.51" fill="none" stroke="#2a2a2a" stroke-width="3.60" stroke-linejoin="round"/>
<path d="M472.50,443.00 C473.42,443.67 476.35,445.91 478.00,447.00 C479.65,448.09 481.66,449.09 482.40,449.51" fill="none" stroke="#98c040" stroke-width="3.60" stroke-linejoin="round"/>
<polygon points="481.15,451.70 485.00,451.00 483.65,447.32" fill="#98c040" stroke="#2a2a2a" stroke-width="0.00" stroke-linejoin="round"/>
<line x1="481.65" y1="450.81" x2="483.14" y2="448.21" stroke="#98c040" stroke-width="1.20"/>
<ellipse cx="488.00" cy="449.00" rx="2.40" ry="4.20" transform="rotate(-20.0 488.00 449.00)" fill="none" stroke="#f0c030" stroke-width="2.00"/>
<ellipse cx="494.00" cy="451.00" rx="2.60" ry="4.40" transform="rotate(-20.0 494.00 451.00)" fill="none" stroke="#f0a030" stroke-width="2.20"/>
<path d="M494.20,431.60 C493.80,432.83 490.98,437.15 491.80,439.00 C492.62,440.85 497.47,440.45 499.10,442.70 C500.73,444.95 502.00,449.85 501.60,452.50 C501.20,455.15 498.33,457.78 496.70,458.60 C495.07,459.42 492.62,457.60 491.80,457.40" fill="none" stroke="#2a2a2a" stroke-width="1.00" stroke-linecap="round" stroke-linejoin="round"/>
<path d="M494.20,431.60 C493.80,432.83 490.98,437.15 491.80,439.00 C492.62,440.85 497.47,440.45 499.10,442.70 C500.73,444.95 502.00,449.85 501.60,452.50 C501.20,455.15 498.33,457.78 496.70,458.60 C495.07,459.42 492.62,457.60 491.80,457.40" fill="none" stroke="#f07030" stroke-width="1.00" stroke-linecap="round" stroke-linejoin="round"/>
<path d="M480.70,426.70 C481.92,426.92 486.13,427.38 488.00,428.00 C489.87,428.62 491.29,430.02 491.95,430.43" fill="none" stroke="#2a2a2a" stroke-width="3.20" stroke-linejoin="round"/>
<path d="M480.70,426.70 C481.92,426.92 486.13,427.38 488.00,428.00 C489.87,428.62 491.29,430.02 491.95,430.43" fill="none" stroke="#e84030" stroke-width="3.20" stroke-linejoin="round"/>
<polygon points="490.69,432.47 494.50,432.00 493.20,428.38" fill="#e84030" stroke="#2a2a2a" stroke-width="0.00" stroke-linejoin="round"/>
<line x1="491.26" y1="431.53" x2="492.63" y2="429.32" stroke="#e84030" stroke-width="1.20"/>
<path d="M619.00,414.90 C619.10,415.72 618.27,418.57 619.60,419.80 C620.93,421.03 625.57,420.87 627.00,422.30 C628.43,423.73 627.80,426.67 628.20,428.40 C628.60,430.13 630.10,433.10 629.40,432.70 C628.70,432.30 625.23,428.12 624.00,426.00 C622.77,423.88 622.83,421.85 622.00,420.00 C621.17,418.15 619.50,415.75 619.00,414.90" fill="none" stroke="#2a2a2a" stroke-width="1.10" stroke-linecap="round" stroke-linejoin="round"/>
<path d="M619.00,414.90 C619.10,415.72 618.27,418.57 619.60,419.80 C620.93,421.03 625.57,420.87 627.00,422.30 C628.43,423.73 627.80,426.67 628.20,428.40 C628.60,430.13 630.10,433.10 629.40,432.70 C628.70,432.30 625.23,428.12 624.00,426.00 C622.77,423.88 622.83,421.85 622.00,420.00 C621.17,418.15 619.50,415.75 619.00,414.90" fill="none" stroke="#58b048" stroke-width="1.10" stroke-linecap="round" stroke-linejoin="round"/>
<path d="M629.40,433.30 C628.58,434.12 626.07,437.18 624.50,438.20 C622.93,439.22 620.75,439.20 620.00,439.40" fill="none" stroke="#2a2a2a" stroke-width="1.10" stroke-linecap="round" stroke-linejoin="round"/>
<path d="M629.40,433.30 C628.58,434.12 626.07,437.18 624.50,438.20 C622.93,439.22 620.75,439.20 620.00,439.40" fill="none" stroke="#a8c040" stroke-width="1.10" stroke-linecap="round" stroke-linejoin="round"/>
<ellipse cx="613.50" cy="441.50" rx="4.50" ry="3.80" transform="rotate(0.0 613.50 441.50)" fill="none" stroke="#a8c040" stroke-width="1.10"/>
<ellipse cx="621.00" cy="441.50" rx="3.80" ry="3.60" transform="rotate(0.0 621.00 441.50)" fill="none" stroke="#a8c040" stroke-width="1.10"/>
<path d="M629.40,468.90 C627.97,468.68 623.25,469.25 620.80,467.60 C618.35,465.95 615.10,460.83 614.70,459.00 C614.30,457.17 616.35,456.18 618.40,456.60 C620.45,457.02 625.57,460.68 627.00,461.50" fill="none" stroke="#2a2a2a" stroke-width="1.10" stroke-linecap="round" stroke-linejoin="round"/>
<path d="M629.40,468.90 C627.97,468.68 623.25,469.25 620.80,467.60 C618.35,465.95 615.10,460.83 614.70,459.00 C614.30,457.17 616.35,456.18 618.40,456.60 C620.45,457.02 625.57,460.68 627.00,461.50" fill="none" stroke="#e89030" stroke-width="1.10" stroke-linecap="round" stroke-linejoin="round"/>
<path d="M630.70,442.00 L631.18,442.46 L631.98,443.03 L633.05,443.71 L634.29,444.49 L635.62,445.36 L636.93,446.28 L638.13,447.23 L639.12,448.18 L639.84,449.10 L640.21,449.97 L640.22,450.75 L639.84,451.43" fill="none" stroke="#f0d22c" stroke-width="1.20" stroke-linecap="round"/>
<path d="M627.50,454.40 L627.98,454.86 L628.78,455.43 L629.85,456.11 L631.09,456.89 L632.42,457.76 L633.73,458.68 L634.93,459.63 L635.92,460.58 L636.64,461.50 L637.01,462.37 L637.02,463.15 L636.64,463.83" fill="none" stroke="#f0c026" stroke-width="1.20" stroke-linecap="round"/>
<path d="M624.30,466.80 L624.78,467.26 L625.58,467.83 L626.65,468.51 L627.89,469.29 L629.22,470.16" fill="none" stroke="#f0b120" stroke-width="1.20" stroke-linecap="round"/>
<polygon points="636.10,443.51 634.53,443.58 633.09,443.56 631.87,443.45 630.96,443.29 630.43,443.04 630.43,442.23 630.55,442.58 630.85,441.42 630.73,441.07 631.28,439.76 632.02,439.18 633.08,438.79 634.39,438.52 635.88,438.33 637.47,438.18" fill="#f0d92e" stroke="#f0d92e" stroke-width="0.4" stroke-linejoin="round"/>
<polygon points="639.41,453.07 638.56,454.06 637.42,454.80 636.04,455.34 634.50,455.70 632.90,455.91 631.33,455.98 629.89,455.96 628.67,455.85 627.76,455.69 627.23,455.44 627.23,454.63 627.35,454.98 627.65,453.82 627.53,453.47 628.08,452.16 628.82,451.58 629.88,451.19 631.19,450.92 632.68,450.73 634.27,450.58 635.85,450.45 637.34,450.30 638.62,450.14 639.62,449.96 640.26,449.79" fill="#f0c929" stroke="#f0c929" stroke-width="0.4" stroke-linejoin="round"/>
<polygon points="636.21,465.47 635.36,466.46 634.22,467.20 632.84,467.74 631.30,468.10 629.70,468.31 628.13,468.38 626.69,468.36 625.47,468.25 624.56,468.09 624.03,467.84 624.03,467.03 624.15,467.38 624.45,466.22 624.33,465.87 624.88,464.56 625.62,463.98 626.68,463.59 627.99,463.32 629.48,463.13 631.07,462.98 632.65,462.85 634.14,462.70 635.42,462.54 636.42,462.36 637.06,462.19" fill="#f0b822" stroke="#f0b822" stroke-width="0.4" stroke-linejoin="round"/>
<path d="M646.60,434.50 C647.00,432.47 647.17,424.13 649.00,422.30 C650.83,420.47 655.13,422.68 657.60,423.50 C660.07,424.32 662.98,425.57 663.80,427.20 C664.62,428.83 663.93,432.08 662.50,433.30 C661.07,434.52 656.42,434.30 655.20,434.50" fill="none" stroke="#2a2a2a" stroke-width="1.10" stroke-linecap="round" stroke-linejoin="round"/>
<path d="M646.60,434.50 C647.00,432.47 647.17,424.13 649.00,422.30 C650.83,420.47 655.13,422.68 657.60,423.50 C660.07,424.32 662.98,425.57 663.80,427.20 C664.62,428.83 663.93,432.08 662.50,433.30 C661.07,434.52 656.42,434.30 655.20,434.50" fill="none" stroke="#40a8a0" stroke-width="1.10" stroke-linecap="round" stroke-linejoin="round"/>
<path d="M640.50,471.30 C640.75,468.08 641.48,457.47 642.00,452.00 C642.52,446.53 643.35,440.73 643.62,438.47" fill="none" stroke="#2a2a2a" stroke-width="4.20" stroke-linejoin="round"/>
<path d="M640.50,471.30 C640.75,468.08 641.48,457.47 642.00,452.00 C642.52,446.53 643.35,440.73 643.62,438.47" fill="none" stroke="#58b060" stroke-width="4.20" stroke-linejoin="round"/>
<polygon points="646.54,438.82 644.10,434.50 640.70,438.12" fill="#58b060" stroke="#2a2a2a" stroke-width="0.00" stroke-linejoin="round"/>
<line x1="645.41" y1="438.69" x2="641.84" y2="438.26" stroke="#58b060" stroke-width="1.20"/>
<path d="M649.00,468.90 C649.50,466.08 651.02,456.83 652.00,452.00 C652.98,447.17 654.40,441.91 654.88,439.89" fill="none" stroke="#2a2a2a" stroke-width="4.20" stroke-linejoin="round"/>
<path d="M649.00,468.90 C649.50,466.08 651.02,456.83 652.00,452.00 C652.98,447.17 654.40,441.91 654.88,439.89" fill="none" stroke="#40b0a8" stroke-width="4.20" stroke-linejoin="round"/>
<polygon points="657.74,440.57 655.80,436.00 652.02,439.21" fill="#40b0a8" stroke="#2a2a2a" stroke-width="0.00" stroke-linejoin="round"/>
<line x1="656.63" y1="440.31" x2="653.12" y2="439.48" stroke="#40b0a8" stroke-width="1.20"/>
<path d="M656.36,439.07 L656.83,439.08 L657.56,439.04 L658.51,438.97 L659.62,438.90 L660.81,438.85 L662.02,438.84 L663.17,438.90 L664.18,439.04 L664.99,439.27 L665.55,439.60 L665.83,440.01 L665.81,440.52" fill="none" stroke="#3050b0" stroke-width="1.20" stroke-linecap="round"/>
<path d="M658.36,446.07 L658.83,446.08 L659.56,446.04 L660.51,445.97 L661.62,445.90 L662.81,445.85 L664.02,445.84 L665.17,445.90 L666.18,446.04 L666.99,446.27 L667.55,446.60 L667.83,447.01 L667.81,447.52" fill="none" stroke="#3050b0" stroke-width="1.20" stroke-linecap="round"/>
<polygon points="660.76,438.67 659.71,439.23 658.71,439.68 657.83,440.00 657.14,440.16 656.66,440.13 656.34,439.56 656.52,439.64 656.19,438.49 656.01,438.41 655.91,437.51 656.22,436.97 656.81,436.42 657.62,435.84 658.57,435.24 659.61,434.63" fill="#3050b0" stroke="#3050b0" stroke-width="0.4" stroke-linejoin="round"/>
<polygon points="666.19,441.83 665.96,442.68 665.45,443.50 664.71,444.28 663.79,445.01 662.76,445.67 661.71,446.23 660.71,446.68 659.83,447.00 659.14,447.16 658.66,447.13 658.34,446.56 658.52,446.64 658.19,445.49 658.01,445.41 657.91,444.51 658.22,443.97 658.81,443.42 659.62,442.84 660.57,442.24 661.61,441.63 662.65,441.02 663.61,440.44 664.43,439.92 665.05,439.49 665.44,439.20" fill="#3050b0" stroke="#3050b0" stroke-width="0.4" stroke-linejoin="round"/>
<polygon points="668.19,448.83 667.96,449.68 667.45,450.50 666.71,451.28 665.79,452.01 664.76,452.67 663.61,448.63 664.65,448.02 665.61,447.44 666.43,446.92 667.05,446.49 667.44,446.20" fill="#3050b0" stroke="#3050b0" stroke-width="0.4" stroke-linejoin="round"/>
<path d="M652.97,454.38 L653.43,454.43 L654.16,454.45 L655.10,454.47 L656.21,454.51 L657.40,454.58 L658.59,454.70 L659.72,454.87 L660.70,455.11 L661.47,455.41 L661.98,455.77 L662.20,456.19 L662.11,456.66" fill="none" stroke="#40b8e0" stroke-width="1.20" stroke-linecap="round"/>
<path d="M653.97,460.88 L654.43,460.93 L655.16,460.95 L656.10,460.97 L657.21,461.01 L658.40,461.08 L659.59,461.20 L660.72,461.37 L661.70,461.61 L662.47,461.91 L662.98,462.27 L663.20,462.69 L663.11,463.16" fill="none" stroke="#40b8e0" stroke-width="1.20" stroke-linecap="round"/>
<polygon points="657.42,454.74 656.31,455.14 655.25,455.43 654.34,455.61 653.62,455.65 653.15,455.54 652.89,454.90 653.06,454.98 652.88,453.79 652.71,453.72 652.73,452.84 653.11,452.37 653.77,451.93 654.64,451.49 655.67,451.04 656.78,450.59" fill="#40b8e0" stroke="#40b8e0" stroke-width="0.4" stroke-linejoin="round"/>
<polygon points="662.32,458.00 661.99,458.80 661.38,459.52 660.53,460.17 659.52,460.75 658.42,461.24 657.31,461.64 656.25,461.93 655.34,462.11 654.62,462.15 654.15,462.04 653.89,461.40 654.06,461.48 653.88,460.29 653.71,460.22 653.73,459.34 654.11,458.87 654.77,458.43 655.64,457.99 656.67,457.54 657.78,457.09 658.89,456.65 659.93,456.22 660.81,455.84 661.48,455.52 661.91,455.31" fill="#40b8e0" stroke="#40b8e0" stroke-width="0.4" stroke-linejoin="round"/>
<polygon points="663.32,464.50 662.99,465.30 662.38,466.02 661.53,466.67 660.52,467.25 659.42,467.74 658.78,463.59 659.89,463.15 660.93,462.72 661.81,462.34 662.48,462.02 662.91,461.81" fill="#40b8e0" stroke="#40b8e0" stroke-width="0.4" stroke-linejoin="round"/>
<path d="M638.00,473.80 C639.02,474.62 641.85,477.88 644.10,478.70 C646.35,479.52 649.03,479.32 651.50,478.70 C653.97,478.08 657.88,476.85 658.90,475.00 C659.92,473.15 657.82,468.83 657.60,467.60" fill="none" stroke="#2a2a2a" stroke-width="1.10" stroke-linecap="round" stroke-linejoin="round"/>
<path d="M638.00,473.80 C639.02,474.62 641.85,477.88 644.10,478.70 C646.35,479.52 649.03,479.32 651.50,478.70 C653.97,478.08 657.88,476.85 658.90,475.00 C659.92,473.15 657.82,468.83 657.60,467.60" fill="none" stroke="#40b0c8" stroke-width="1.10" stroke-linecap="round" stroke-linejoin="round"/>
<path d="M679.70,450.50 C678.68,451.92 675.65,456.55 673.60,459.00 C671.55,461.45 670.07,463.97 667.40,465.20 C664.73,466.43 660.67,465.38 657.60,466.40 C654.53,467.42 651.85,470.07 649.00,471.30 C646.15,472.53 642.95,474.82 640.50,473.80 C638.05,472.78 635.93,466.23 634.30,465.20 C632.67,464.17 631.30,467.20 630.70,467.60" fill="none" stroke="#2a2a2a" stroke-width="1.10" stroke-linecap="round" stroke-linejoin="round"/>
<path d="M679.70,450.50 C678.68,451.92 675.65,456.55 673.60,459.00 C671.55,461.45 670.07,463.97 667.40,465.20 C664.73,466.43 660.67,465.38 657.60,466.40 C654.53,467.42 651.85,470.07 649.00,471.30 C646.15,472.53 642.95,474.82 640.50,473.80 C638.05,472.78 635.93,466.23 634.30,465.20 C632.67,464.17 631.30,467.20 630.70,467.60" fill="none" stroke="#e03a30" stroke-width="1.10" stroke-linecap="round" stroke-linejoin="round"/>
<path d="M230.92,8.03 A70.30,70.30 0 0 1 240.62,6.54" fill="none" stroke="#3f5cb0" stroke-width="2.5"/>
<path d="M208.01,17.71 A70.30,70.30 0 0 1 222.40,10.52" fill="none" stroke="#3f5cb0" stroke-width="2.5"/>
<path d="M180.47,52.20 A70.30,70.30 0 0 1 195.55,28.05" fill="none" stroke="#4a74c4" stroke-width="2.5"/>
<path d="M176.30,81.91 A70.30,70.30 0 0 0 176.78,86.32" fill="none" stroke="#45b8c8" stroke-width="2.5"/>
<path d="M179.10,96.93 A70.30,70.30 0 0 0 181.66,104.00" fill="none" stroke="#4ab0a8" stroke-width="2.5"/>
<path d="M244.70,146.88 A70.30,70.30 0 0 0 252.89,146.60" fill="none" stroke="#5cb05c" stroke-width="2.5"/>
<path d="M286.11,134.61 A70.30,70.30 0 0 0 292.45,129.72" fill="none" stroke="#8cc040" stroke-width="2.5"/>
<path d="M315.88,65.90 A70.30,70.30 0 0 1 316.53,81.48" fill="none" stroke="#f0e020" stroke-width="2.5"/>
<path d="M309.71,46.04 A70.30,70.30 0 0 1 314.76,60.20" fill="none" stroke="#f5d020" stroke-width="2.5"/>
<path d="M254.96,6.82 A70.30,70.30 0 0 1 270.04,10.39" fill="none" stroke="#ee6040" stroke-width="2.5"/>
<text x="235.40" y="6.00" font-size="7.6" text-anchor="middle" font-weight="normal" font-style="normal" fill="#111" font-family='"Liberation Sans", sans-serif' >E1</text>
<text x="213.60" y="11.80" font-size="7.6" text-anchor="middle" font-weight="normal" font-style="normal" fill="#111" font-family='"Liberation Sans", sans-serif' >E2</text>
<text x="178.80" y="39.20" font-size="7.6" text-anchor="middle" font-weight="normal" font-style="normal" fill="#111" font-family='"Liberation Sans", sans-serif' >H1</text>
<text x="170.00" y="87.40" font-size="7.6" text-anchor="middle" font-weight="normal" font-style="normal" fill="#111" font-family='"Liberation Sans", sans-serif' >E3</text>
<text x="172.90" y="105.50" font-size="7.6" text-anchor="middle" font-weight="normal" font-style="normal" fill="#111" font-family='"Liberation Sans", sans-serif' >E4</text>
<text x="249.40" y="155.30" font-size="7.6" text-anchor="middle" font-weight="normal" font-style="normal" fill="#111" font-family='"Liberation Sans", sans-serif' >E5</text>
<text x="295.00" y="139.70" font-size="7.6" text-anchor="middle" font-weight="normal" font-style="normal" fill="#111" font-family='"Liberation Sans", sans-serif' >E6</text>
<text x="324.20" y="76.10" font-size="7.6" text-anchor="middle" font-weight="normal" font-style="normal" fill="#111" font-family='"Liberation Sans", sans-serif' >E7</text>
<text x="320.70" y="53.70" font-size="7.6" text-anchor="middle" font-weight="normal" font-style="normal" fill="#111" font-family='"Liberation Sans", sans-serif' >H2</text>
<text x="262.00" y="6.20" font-size="7.6" text-anchor="middle" font-weight="normal" font-style="normal" fill="#111" font-family='"Liberation Sans", sans-serif' >E8</text>
<path d="M217.54,597.06 A70.50,70.50 0 0 1 235.78,592.24" fill="none" stroke="#3f5cb0" stroke-width="2.5"/>
<path d="M250.67,591.97 A70.50,70.50 0 0 1 266.23,595.13" fill="none" stroke="#ee6040" stroke-width="2.5"/>
<path d="M190.74,616.59 A70.50,70.50 0 0 1 209.73,600.87" fill="none" stroke="#3f5cb0" stroke-width="2.5"/>
<path d="M174.15,657.57 A70.50,70.50 0 0 1 181.44,630.67" fill="none" stroke="#4aa8e0" stroke-width="2.5"/>
<path d="M295.65,613.68 A70.50,70.50 0 0 1 307.10,629.78" fill="none" stroke="#f5b020" stroke-width="2.5"/>
<path d="M310.06,636.28 A70.50,70.50 0 0 1 313.95,650.08" fill="none" stroke="#f0e020" stroke-width="2.5"/>
<path d="M311.01,685.57 A70.50,70.50 0 0 1 307.95,692.93" fill="none" stroke="#a8cc40" stroke-width="2.5"/>
<path d="M281.64,722.13 A70.50,70.50 0 0 0 287.83,717.81" fill="none" stroke="#6cb850" stroke-width="2.5"/>
<path d="M191.80,709.03 A70.50,70.50 0 0 0 196.82,714.13" fill="none" stroke="#50b090" stroke-width="2.5"/>
<path d="M182.76,696.23 A70.50,70.50 0 0 0 184.62,699.41" fill="none" stroke="#50b8a0" stroke-width="2.5"/>
<text x="226.40" y="589.60" font-size="7.6" text-anchor="middle" font-weight="normal" font-style="normal" fill="#111" font-family='"Liberation Sans", sans-serif' >E1</text>
<text x="259.20" y="589.60" font-size="7.6" text-anchor="middle" font-weight="normal" font-style="normal" fill="#111" font-family='"Liberation Sans", sans-serif' >E8</text>
<text x="196.80" y="605.40" font-size="7.6" text-anchor="middle" font-weight="normal" font-style="normal" fill="#111" font-family='"Liberation Sans", sans-serif' >E2</text>
<text x="169.30" y="643.70" font-size="7.6" text-anchor="middle" font-weight="normal" font-style="normal" fill="#111" font-family='"Liberation Sans", sans-serif' >H1</text>
<text x="308.50" y="619.40" font-size="7.6" text-anchor="middle" font-weight="normal" font-style="normal" fill="#111" font-family='"Liberation Sans", sans-serif' >H2</text>
<text x="320.50" y="642.70" font-size="7.6" text-anchor="middle" font-weight="normal" font-style="normal" fill="#111" font-family='"Liberation Sans", sans-serif' >E7</text>
<text x="319.80" y="696.80" font-size="7.6" text-anchor="middle" font-weight="normal" font-style="normal" fill="#111" font-family='"Liberation Sans", sans-serif' >E6</text>
<text x="292.00" y="730.00" font-size="7.6" text-anchor="middle" font-weight="normal" font-style="normal" fill="#111" font-family='"Liberation Sans", sans-serif' >E5</text>
<text x="188.00" y="720.70" font-size="7.6" text-anchor="middle" font-weight="normal" font-style="normal" fill="#111" font-family='"Liberation Sans", sans-serif' >E4</text>
<text x="173.80" y="705.70" font-size="7.6" text-anchor="middle" font-weight="normal" font-style="normal" fill="#111" font-family='"Liberation Sans", sans-serif' >E3</text>
<text x="70.3" y="132.3" font-size="9.6" text-anchor="middle" fill="#111" font-family='"Liberation Sans", sans-serif'>PPIase B (<tspan font-style="italic">E. coli</tspan>)</text>
<text x="70.5" y="729.2" font-size="9.6" text-anchor="middle" fill="#111" font-family='"Liberation Sans", sans-serif'>PPIase (<tspan font-style="italic">S. cerevisiae</tspan>)</text>
<circle cx="346.8" cy="309.8" r="2.4" fill="#000"/>
<circle cx="381.2" cy="267.5" r="2.4" fill="#000"/>
<circle cx="315.9" cy="333.2" r="2.4" fill="#000"/>
<circle cx="392.6" cy="273.7" r="2.4" fill="#000"/>
<circle cx="383.2" cy="272.1" r="2.4" fill="#000"/>
<circle cx="373.9" cy="278.0" r="2.4" fill="#000"/>
<circle cx="341.7" cy="320.6" r="2.4" fill="#000"/>
<circle cx="311.1" cy="331.2" r="2.4" fill="#000"/>
<circle cx="306.6" cy="332.5" r="2.4" fill="#000"/>
<circle cx="358.5" cy="306.0" r="2.4" fill="#000"/>
<circle cx="380.9" cy="286.5" r="2.4" fill="#000"/>
<circle cx="377.2" cy="280.9" r="2.4" fill="#000"/>
<circle cx="339.5" cy="317.2" r="2.4" fill="#000"/>
<circle cx="335.1" cy="321.3" r="2.4" fill="#000"/>
<circle cx="380.5" cy="284.7" r="2.4" fill="#000"/>
<circle cx="373.9" cy="280.9" r="2.4" fill="#000"/>
<circle cx="365.4" cy="290.9" r="2.4" fill="#000"/>
<circle cx="353.5" cy="311.7" r="2.4" fill="#000"/>
<circle cx="320.9" cy="336.5" r="2.4" fill="#000"/>
<circle cx="338.1" cy="320.1" r="2.4" fill="#000"/>
<circle cx="390.4" cy="263.9" r="2.4" fill="#000"/>
<circle cx="354.5" cy="320.0" r="2.4" fill="#000"/>
<circle cx="352.8" cy="301.9" r="2.4" fill="#000"/>
<circle cx="382.3" cy="280.6" r="2.4" fill="#000"/>
<circle cx="375.7" cy="275.0" r="2.4" fill="#000"/>
<circle cx="380.7" cy="285.1" r="2.4" fill="#000"/>
<circle cx="315.0" cy="336.5" r="2.4" fill="#000"/>
<circle cx="375.3" cy="278.3" r="2.4" fill="#000"/>
<circle cx="362.2" cy="310.6" r="2.4" fill="#000"/>
<circle cx="350.7" cy="305.1" r="2.4" fill="#000"/>
<circle cx="384.5" cy="264.0" r="2.4" fill="#000"/>
<circle cx="371.5" cy="282.1" r="2.4" fill="#000"/>
<circle cx="315.9" cy="331.7" r="2.4" fill="#000"/>
<circle cx="374.4" cy="293.6" r="2.4" fill="#000"/>
<circle cx="377.5" cy="288.9" r="2.4" fill="#000"/>
<circle cx="376.7" cy="282.0" r="2.4" fill="#000"/>
<circle cx="391.7" cy="273.7" r="2.4" fill="#000"/>
<circle cx="388.5" cy="267.4" r="2.4" fill="#000"/>
<circle cx="351.6" cy="308.2" r="2.4" fill="#000"/>
<circle cx="357.3" cy="303.1" r="2.4" fill="#000"/>
<circle cx="320.0" cy="336.5" r="2.4" fill="#000"/>
<circle cx="361.9" cy="298.5" r="2.4" fill="#000"/>
<circle cx="332.1" cy="328.8" r="2.4" fill="#000"/>
<circle cx="385.7" cy="279.9" r="2.4" fill="#000"/>
<circle cx="356.4" cy="296.9" r="2.4" fill="#000"/>
<circle cx="314.5" cy="330.2" r="2.4" fill="#000"/>
<circle cx="362.9" cy="294.2" r="2.4" fill="#000"/>
<circle cx="360.6" cy="292.8" r="2.4" fill="#000"/>
<circle cx="367.6" cy="286.6" r="2.4" fill="#000"/>
<circle cx="374.6" cy="290.7" r="2.4" fill="#000"/>
<circle cx="332.5" cy="322.6" r="2.4" fill="#000"/>
<circle cx="352.8" cy="302.9" r="2.4" fill="#000"/>
<circle cx="373.8" cy="277.7" r="2.4" fill="#000"/>
<circle cx="371.8" cy="290.0" r="2.4" fill="#000"/>
<circle cx="351.0" cy="319.6" r="2.4" fill="#000"/>
<circle cx="333.5" cy="330.4" r="2.4" fill="#000"/>
<circle cx="351.2" cy="308.9" r="2.4" fill="#000"/>
<circle cx="348.5" cy="307.4" r="2.4" fill="#000"/>
<circle cx="349.6" cy="320.7" r="2.4" fill="#000"/>
<circle cx="340.3" cy="318.8" r="2.4" fill="#000"/>
<circle cx="326.6" cy="327.2" r="2.4" fill="#000"/>
<circle cx="335.8" cy="324.4" r="2.4" fill="#000"/>
<circle cx="357.6" cy="304.8" r="2.4" fill="#000"/>
<circle cx="355.4" cy="302.6" r="2.4" fill="#000"/>
<circle cx="369.7" cy="282.4" r="2.4" fill="#000"/>
<circle cx="392.8" cy="272.0" r="2.4" fill="#000"/>
<circle cx="343.2" cy="318.4" r="2.4" fill="#000"/>
<circle cx="390.4" cy="263.4" r="2.4" fill="#000"/>
<circle cx="355.0" cy="315.0" r="2.4" fill="#000"/>
<circle cx="352.1" cy="304.6" r="2.4" fill="#000"/>
<circle cx="388.8" cy="262.3" r="2.4" fill="#000"/>
<circle cx="388.7" cy="257.1" r="2.4" fill="#000"/>
<circle cx="381.9" cy="252.4" r="2.4" fill="#000"/>
<circle cx="402.8" cy="250.8" r="2.4" fill="#000"/>
<circle cx="392.8" cy="258.9" r="2.4" fill="#000"/>
<circle cx="380.4" cy="255.6" r="2.4" fill="#000"/>
<circle cx="383.7" cy="257.5" r="2.4" fill="#000"/>
<circle cx="382.6" cy="259.4" r="2.4" fill="#000"/>
<circle cx="386.6" cy="257.3" r="2.4" fill="#000"/>
<circle cx="396.6" cy="248.0" r="2.4" fill="#000"/>
<circle cx="389.1" cy="254.9" r="2.4" fill="#000"/>
<circle cx="384.3" cy="256.3" r="2.4" fill="#000"/>
<circle cx="384.0" cy="253.6" r="2.4" fill="#000"/>
<circle cx="384.0" cy="256.0" r="2.4" fill="#000"/>
<circle cx="394.0" cy="256.9" r="2.4" fill="#000"/>
<circle cx="386.2" cy="255.7" r="2.4" fill="#000"/>
<circle cx="380.9" cy="256.4" r="2.4" fill="#000"/>
<circle cx="401.3" cy="250.5" r="2.4" fill="#000"/>
<circle cx="399.5" cy="248.6" r="2.4" fill="#000"/>
<circle cx="402.1" cy="249.8" r="2.4" fill="#000"/>
<circle cx="382.2" cy="256.2" r="2.4" fill="#000"/>
<circle cx="384.2" cy="255.3" r="2.4" fill="#000"/>
<circle cx="386.5" cy="262.3" r="2.4" fill="#000"/>
<circle cx="390.5" cy="262.1" r="2.4" fill="#000"/>
<circle cx="404.4" cy="251.0" r="2.4" fill="#000"/>
<circle cx="321.9" cy="288.5" r="2.4" fill="#000"/>
<circle cx="306.3" cy="331.2" r="2.4" fill="#000"/>
<circle cx="374.1" cy="272.4" r="2.4" fill="#000"/>
<circle cx="372.7" cy="277.5" r="2.4" fill="#000"/>
<circle cx="310.4" cy="299.6" r="2.4" fill="#000"/>
<circle cx="386.1" cy="255.5" r="2.4" fill="#000"/>
<circle cx="309.9" cy="329.8" r="2.4" fill="#000"/>
<circle cx="322.0" cy="287.0" r="2.4" fill="#000"/>
<circle cx="310.7" cy="333.1" r="2.4" fill="#000"/>
<circle cx="291.0" cy="335.5" r="2.4" fill="#000"/>
<circle cx="375.0" cy="278.7" r="2.4" fill="#000"/>
<circle cx="320.5" cy="326.8" r="2.4" fill="#000"/>
<circle cx="362.4" cy="292.0" r="2.4" fill="#000"/>
<circle cx="306.8" cy="332.7" r="2.4" fill="#000"/>
<circle cx="348.5" cy="308.7" r="2.4" fill="#000"/>
<circle cx="339.3" cy="277.4" r="2.4" fill="#000"/>
<circle cx="329.1" cy="325.9" r="2.4" fill="#000"/>
<circle cx="326.7" cy="284.5" r="2.4" fill="#000"/>
<circle cx="386.0" cy="263.4" r="2.4" fill="#000"/>
<circle cx="387.1" cy="258.7" r="2.4" fill="#000"/>
<circle cx="306.8" cy="330.6" r="2.4" fill="#000"/>
<circle cx="289.0" cy="331.7" r="2.4" fill="#000"/>
<circle cx="309.8" cy="332.6" r="2.4" fill="#000"/>
<circle cx="331.0" cy="283.4" r="2.4" fill="#000"/>
<circle cx="355.3" cy="267.1" r="2.4" fill="#000"/>
<circle cx="330.1" cy="322.5" r="2.4" fill="#000"/>
<circle cx="372.1" cy="279.6" r="2.4" fill="#000"/>
<circle cx="370.5" cy="258.9" r="2.4" fill="#000"/>
<circle cx="313.4" cy="299.2" r="2.4" fill="#000"/>
<circle cx="355.5" cy="264.1" r="2.4" fill="#000"/>
<circle cx="301.2" cy="315.3" r="2.4" fill="#000"/>
<circle cx="385.2" cy="261.7" r="2.4" fill="#000"/>
<circle cx="314.9" cy="297.8" r="2.4" fill="#000"/>
<circle cx="381.8" cy="267.4" r="2.4" fill="#000"/>
<circle cx="287.7" cy="332.6" r="2.4" fill="#000"/>
<circle cx="356.9" cy="264.3" r="2.4" fill="#000"/>
<circle cx="329.6" cy="279.9" r="2.4" fill="#000"/>
<circle cx="369.3" cy="287.2" r="2.4" fill="#000"/>
<circle cx="319.9" cy="294.0" r="2.4" fill="#000"/>
<circle cx="377.3" cy="272.3" r="2.4" fill="#000"/>
<circle cx="287.4" cy="333.5" r="2.4" fill="#000"/>
<circle cx="385.5" cy="260.3" r="2.4" fill="#000"/>
<circle cx="343.5" cy="309.6" r="2.4" fill="#000"/>
<circle cx="306.8" cy="333.7" r="2.4" fill="#000"/>
<circle cx="329.1" cy="285.8" r="2.4" fill="#000"/>
<circle cx="313.7" cy="300.7" r="2.4" fill="#000"/>
<circle cx="287.8" cy="335.8" r="2.4" fill="#000"/>
<circle cx="290.7" cy="335.2" r="2.4" fill="#000"/>
<circle cx="302.8" cy="311.0" r="2.4" fill="#000"/>
<circle cx="305.4" cy="331.4" r="2.4" fill="#000"/>
<circle cx="374.3" cy="274.4" r="2.4" fill="#000"/>
<circle cx="374.6" cy="255.9" r="2.4" fill="#000"/>
<circle cx="384.0" cy="264.8" r="2.4" fill="#000"/>
<circle cx="308.2" cy="305.8" r="2.4" fill="#000"/>
<circle cx="377.2" cy="256.4" r="2.4" fill="#000"/>
<circle cx="312.8" cy="297.2" r="2.4" fill="#000"/>
<circle cx="371.2" cy="282.6" r="2.4" fill="#000"/>
<circle cx="336.8" cy="277.8" r="2.4" fill="#000"/>
<circle cx="341.8" cy="270.5" r="2.4" fill="#000"/>
<circle cx="381.8" cy="257.6" r="2.4" fill="#000"/>
<circle cx="376.0" cy="276.2" r="2.4" fill="#000"/>
<circle cx="342.2" cy="314.7" r="2.4" fill="#000"/>
<circle cx="348.7" cy="306.0" r="2.4" fill="#000"/>
<circle cx="322.8" cy="289.9" r="2.4" fill="#000"/>
<circle cx="331.4" cy="322.7" r="2.4" fill="#000"/>
<circle cx="348.4" cy="269.0" r="2.4" fill="#000"/>
<circle cx="356.5" cy="296.0" r="2.4" fill="#000"/>
<circle cx="328.1" cy="286.1" r="2.4" fill="#000"/>
<circle cx="293.9" cy="326.6" r="2.4" fill="#000"/>
<circle cx="347.5" cy="310.0" r="2.4" fill="#000"/>
<circle cx="377.0" cy="272.6" r="2.4" fill="#000"/>
<circle cx="292.1" cy="333.0" r="2.4" fill="#000"/>
<circle cx="382.5" cy="261.3" r="2.4" fill="#000"/>
<circle cx="354.5" cy="265.6" r="2.4" fill="#000"/>
<circle cx="321.8" cy="291.5" r="2.4" fill="#000"/>
<circle cx="341.2" cy="270.9" r="2.4" fill="#000"/>
<circle cx="366.4" cy="283.7" r="2.4" fill="#000"/>
<circle cx="352.0" cy="300.7" r="2.4" fill="#000"/>
<circle cx="299.9" cy="315.6" r="2.4" fill="#000"/>
<circle cx="335.8" cy="321.4" r="2.4" fill="#000"/>
<circle cx="350.5" cy="268.6" r="2.4" fill="#000"/>
<circle cx="324.0" cy="323.9" r="2.4" fill="#000"/>
<circle cx="373.2" cy="277.2" r="2.4" fill="#000"/>
<circle cx="301.1" cy="331.6" r="2.4" fill="#000"/>
<circle cx="287.6" cy="329.7" r="2.4" fill="#000"/>
<circle cx="293.2" cy="323.4" r="2.4" fill="#000"/>
<circle cx="362.1" cy="259.2" r="2.4" fill="#000"/>
<circle cx="384.7" cy="260.1" r="2.4" fill="#000"/>
<circle cx="300.4" cy="317.3" r="2.4" fill="#000"/>
<circle cx="354.5" cy="302.6" r="2.4" fill="#000"/>
<circle cx="326.1" cy="326.6" r="2.4" fill="#000"/>
<circle cx="379.4" cy="266.5" r="2.4" fill="#000"/>
<circle cx="306.1" cy="302.5" r="2.4" fill="#000"/>
<circle cx="303.7" cy="311.7" r="2.4" fill="#000"/>
<circle cx="357.9" cy="262.8" r="2.4" fill="#000"/>
<circle cx="347.2" cy="308.0" r="2.4" fill="#000"/>
<circle cx="298.3" cy="321.9" r="2.4" fill="#000"/>
<circle cx="374.8" cy="276.6" r="2.4" fill="#000"/>
<circle cx="318.8" cy="293.6" r="2.4" fill="#000"/>
<circle cx="376.3" cy="276.9" r="2.4" fill="#000"/>
<circle cx="321.7" cy="328.0" r="2.4" fill="#000"/>
<circle cx="358.1" cy="296.4" r="2.4" fill="#000"/>
<circle cx="378.4" cy="257.0" r="2.4" fill="#000"/>
<circle cx="366.6" cy="281.9" r="2.4" fill="#000"/>
<circle cx="289.6" cy="329.5" r="2.4" fill="#000"/>
<circle cx="316.7" cy="297.3" r="2.4" fill="#000"/>
<circle cx="304.1" cy="313.6" r="2.4" fill="#000"/>
<circle cx="289.2" cy="333.4" r="2.4" fill="#000"/>
<circle cx="372.3" cy="281.1" r="2.4" fill="#000"/>
<circle cx="378.8" cy="256.7" r="2.4" fill="#000"/>
<circle cx="370.0" cy="260.7" r="2.4" fill="#000"/>
<circle cx="329.6" cy="279.2" r="2.4" fill="#000"/>
<circle cx="351.0" cy="266.7" r="2.4" fill="#000"/>
<circle cx="301.4" cy="335.5" r="2.4" fill="#000"/>
<circle cx="355.0" cy="297.6" r="2.4" fill="#000"/>
<circle cx="321.6" cy="290.2" r="2.4" fill="#000"/>
<circle cx="371.6" cy="255.5" r="2.4" fill="#000"/>
<circle cx="301.7" cy="334.6" r="2.4" fill="#000"/>
<circle cx="381.8" cy="269.1" r="2.4" fill="#000"/>
<circle cx="387.2" cy="260.4" r="2.4" fill="#000"/>
<circle cx="346.9" cy="266.7" r="2.4" fill="#000"/>
<circle cx="290.7" cy="335.4" r="2.4" fill="#000"/>
<circle cx="312.3" cy="300.2" r="2.4" fill="#000"/>
<circle cx="291.7" cy="334.2" r="2.4" fill="#000"/>
<circle cx="296.2" cy="319.9" r="2.4" fill="#000"/>
<circle cx="353.1" cy="264.9" r="2.4" fill="#000"/>
<circle cx="360.9" cy="263.4" r="2.4" fill="#000"/>
<circle cx="316.3" cy="327.6" r="2.4" fill="#000"/>
<circle cx="292.5" cy="336.2" r="2.4" fill="#000"/>
<circle cx="364.2" cy="286.4" r="2.4" fill="#000"/>
<circle cx="284.9" cy="335.0" r="2.4" fill="#000"/>
<circle cx="381.8" cy="257.4" r="2.4" fill="#000"/>
<circle cx="355.8" cy="263.3" r="2.4" fill="#000"/>
<circle cx="379.0" cy="269.8" r="2.4" fill="#000"/>
<circle cx="325.2" cy="285.4" r="2.4" fill="#000"/>
<circle cx="305.2" cy="311.1" r="2.4" fill="#000"/>
<circle cx="390.2" cy="261.3" r="2.4" fill="#000"/>
<circle cx="376.6" cy="275.6" r="2.4" fill="#000"/>
<circle cx="345.7" cy="310.1" r="2.4" fill="#000"/>
<circle cx="382.1" cy="258.6" r="2.4" fill="#000"/>
<circle cx="388.1" cy="258.6" r="2.4" fill="#000"/>
<circle cx="286.6" cy="334.6" r="2.4" fill="#000"/>
<circle cx="345.0" cy="271.3" r="2.4" fill="#000"/>
<circle cx="358.0" cy="297.2" r="2.4" fill="#000"/>
<circle cx="326.0" cy="322.3" r="2.4" fill="#000"/>
<circle cx="361.1" cy="293.6" r="2.4" fill="#000"/>
<circle cx="316.7" cy="295.0" r="2.4" fill="#000"/>
<circle cx="345.3" cy="307.3" r="2.4" fill="#000"/>
<circle cx="370.6" cy="282.7" r="2.4" fill="#000"/>
<circle cx="310.2" cy="332.2" r="2.4" fill="#000"/>
<circle cx="365.1" cy="289.3" r="2.4" fill="#000"/>
<circle cx="368.9" cy="256.9" r="2.4" fill="#000"/>
<circle cx="304.4" cy="313.4" r="2.4" fill="#000"/>
<circle cx="296.7" cy="335.2" r="2.4" fill="#000"/>
<circle cx="382.4" cy="258.7" r="2.4" fill="#000"/>
<circle cx="328.1" cy="324.8" r="2.4" fill="#000"/>
<circle cx="378.0" cy="258.1" r="2.4" fill="#000"/>
<circle cx="330.1" cy="278.3" r="2.4" fill="#000"/>
<circle cx="344.1" cy="316.5" r="2.4" fill="#000"/>
<circle cx="299.1" cy="334.5" r="2.4" fill="#000"/>
<circle cx="317.2" cy="294.7" r="2.4" fill="#000"/>
<circle cx="372.8" cy="256.2" r="2.4" fill="#000"/>
<circle cx="335.9" cy="321.8" r="2.4" fill="#000"/>
<circle cx="359.0" cy="294.6" r="2.4" fill="#000"/>
<circle cx="368.5" cy="281.2" r="2.4" fill="#000"/>
<circle cx="361.6" cy="261.4" r="2.4" fill="#000"/>
<circle cx="369.7" cy="279.1" r="2.4" fill="#000"/>
<circle cx="356.6" cy="292.5" r="2.4" fill="#000"/>
<circle cx="357.8" cy="261.8" r="2.4" fill="#000"/>
<circle cx="287.2" cy="336.0" r="2.4" fill="#000"/>
<circle cx="294.9" cy="328.5" r="2.4" fill="#000"/>
<circle cx="365.7" cy="285.5" r="2.4" fill="#000"/>
<circle cx="319.1" cy="327.5" r="2.4" fill="#000"/>
<circle cx="340.6" cy="273.3" r="2.4" fill="#000"/>
<circle cx="353.8" cy="299.6" r="2.4" fill="#000"/>
<circle cx="295.5" cy="323.4" r="2.4" fill="#000"/>
<circle cx="288.5" cy="333.2" r="2.4" fill="#000"/>
<circle cx="330.8" cy="279.2" r="2.4" fill="#000"/>
<circle cx="372.7" cy="273.8" r="2.4" fill="#000"/>
<circle cx="312.0" cy="297.4" r="2.4" fill="#000"/>
<circle cx="300.6" cy="335.9" r="2.4" fill="#000"/>
<circle cx="335.5" cy="275.5" r="2.4" fill="#000"/>
<circle cx="351.2" cy="306.0" r="2.4" fill="#000"/>
<circle cx="381.8" cy="268.8" r="2.4" fill="#000"/>
<circle cx="364.0" cy="288.4" r="2.4" fill="#000"/>
<circle cx="321.5" cy="328.3" r="2.4" fill="#000"/>
<circle cx="389.2" cy="257.6" r="2.4" fill="#000"/>
<circle cx="342.2" cy="271.8" r="2.4" fill="#000"/>
<circle cx="291.8" cy="335.5" r="2.4" fill="#000"/>
<circle cx="317.7" cy="290.7" r="2.4" fill="#000"/>
<circle cx="369.5" cy="284.0" r="2.4" fill="#000"/>
<circle cx="372.0" cy="256.6" r="2.4" fill="#000"/>
<circle cx="330.7" cy="280.3" r="2.4" fill="#000"/>
<circle cx="309.6" cy="330.6" r="2.4" fill="#000"/>
<circle cx="295.6" cy="334.3" r="2.4" fill="#000"/>
<circle cx="389.2" cy="259.5" r="2.4" fill="#000"/>
<circle cx="318.4" cy="294.7" r="2.4" fill="#000"/>
<circle cx="290.1" cy="334.3" r="2.4" fill="#000"/>
<circle cx="330.9" cy="283.6" r="2.4" fill="#000"/>
<circle cx="296.9" cy="335.1" r="2.4" fill="#000"/>
<circle cx="307.3" cy="307.5" r="2.4" fill="#000"/>
<circle cx="382.2" cy="255.2" r="2.4" fill="#000"/>
<circle cx="305.2" cy="307.8" r="2.4" fill="#000"/>
<circle cx="319.4" cy="295.5" r="2.4" fill="#000"/>
<circle cx="383.3" cy="263.0" r="2.4" fill="#000"/>
<circle cx="356.3" cy="300.0" r="2.4" fill="#000"/>
<circle cx="308.2" cy="329.2" r="2.4" fill="#000"/>
<circle cx="306.9" cy="302.5" r="2.4" fill="#000"/>
<circle cx="384.7" cy="258.9" r="2.4" fill="#000"/>
<circle cx="387.0" cy="263.3" r="2.4" fill="#000"/>
<circle cx="354.2" cy="263.7" r="2.4" fill="#000"/>
<circle cx="372.9" cy="275.3" r="2.4" fill="#000"/>
<circle cx="327.1" cy="326.0" r="2.4" fill="#000"/>
<circle cx="308.6" cy="306.2" r="2.4" fill="#000"/>
<circle cx="341.0" cy="313.0" r="2.4" fill="#000"/>
<circle cx="375.5" cy="276.5" r="2.4" fill="#000"/>
<circle cx="381.5" cy="259.6" r="2.4" fill="#000"/>
<circle cx="305.9" cy="312.5" r="2.4" fill="#000"/>
<circle cx="385.3" cy="259.7" r="2.4" fill="#000"/>
<circle cx="360.2" cy="291.1" r="2.4" fill="#000"/>
<line x1="300.80" y1="193.00" x2="300.80" y2="343.00" stroke="#e8303c" stroke-width="1.1" />
<rect x="298.4" y="308.8" width="4.8" height="24.6" rx="2.4" fill="#e8303c"/>
</svg></body></html>
